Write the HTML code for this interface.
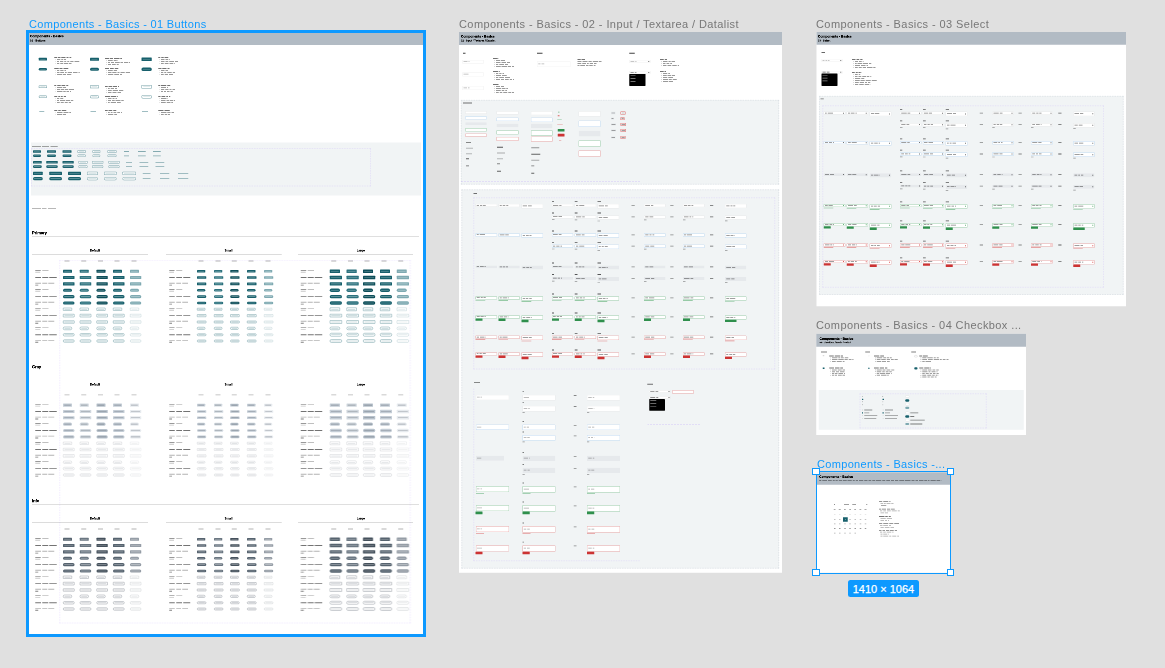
<!DOCTYPE html>
<html><head><meta charset="utf-8"><style>
html,body{margin:0;padding:0}
body{width:1165px;height:668px;background:#e0e0e0;position:relative;overflow:hidden;font-family:"Liberation Sans",sans-serif}
i,b{position:absolute;display:block}
b{font-weight:normal;white-space:nowrap;line-height:1;will-change:transform}
#c{position:absolute;left:0;top:0;width:4660px;height:2672px;transform:scale(.25);transform-origin:0 0}
body>b{will-change:transform;font-size:11px;letter-spacing:.33px}
</style></head><body>
<div id="c">
<i style="left:104px;top:120px;width:1600px;height:2428px;border:12px solid #0d99ff;box-sizing:border-box"></i>
<i style="left:116px;top:132px;width:1576px;height:2404px;background:#fff"></i>
<i style="left:116px;top:132px;width:1576px;height:48px;background:#b2bbc4"></i>
<b style="left:120px;top:137.6px;font-size:13.2px;color:#000;font-weight:bold;-webkit-text-stroke:.9px #000">Components - Basics</b>
<b style="left:120px;top:157.2px;font-size:10.8px;color:#000;font-weight:bold;-webkit-text-stroke:.5px #000">01 - Buttons</b>
<i style="left:154.8px;top:231.4px;width:33.2px;height:10.8px;background:#17606c;border-radius:2px"></i>
<i style="left:160.8px;top:235.6px;width:21.2px;height:2.4px;background:rgba(255,255,255,.35)"></i>
<i style="left:216.8px;top:228px;width:12px;height:4px;background:rgba(0,0,0,.55)"></i>
<i style="left:232.4px;top:228px;width:9.4px;height:4px;background:rgba(0,0,0,.55)"></i>
<i style="left:245.4px;top:228px;width:16.8px;height:4px;background:rgba(0,0,0,.55)"></i>
<i style="left:265.9px;top:228px;width:8.3px;height:4px;background:rgba(0,0,0,.55)"></i>
<i style="left:277.7px;top:228px;width:7.1px;height:4px;background:rgba(0,0,0,.55)"></i>
<i style="left:221.6px;top:236.6px;width:2.8px;height:2.8px;background:rgba(0,0,0,.4)"></i>
<i style="left:228.4px;top:236px;width:12.6px;height:4px;background:rgba(0,0,0,.4)"></i>
<i style="left:244.6px;top:236px;width:8.1px;height:4px;background:rgba(0,0,0,.4)"></i>
<i style="left:256.3px;top:236px;width:8.1px;height:4px;background:rgba(0,0,0,.4)"></i>
<i style="left:221.6px;top:244.6px;width:2.8px;height:2.8px;background:rgba(0,0,0,.4)"></i>
<i style="left:228.4px;top:244px;width:7.8px;height:4px;background:rgba(0,0,0,.4)"></i>
<i style="left:239.8px;top:244px;width:13.6px;height:4px;background:rgba(0,0,0,.4)"></i>
<i style="left:257px;top:244px;width:8.2px;height:4px;background:rgba(0,0,0,.4)"></i>
<i style="left:268.8px;top:244px;width:8.5px;height:4px;background:rgba(0,0,0,.4)"></i>
<i style="left:280.9px;top:244px;width:13.5px;height:4px;background:rgba(0,0,0,.4)"></i>
<i style="left:298px;top:244px;width:19.4px;height:4px;background:rgba(0,0,0,.4)"></i>
<i style="left:221.6px;top:252.6px;width:2.8px;height:2.8px;background:rgba(0,0,0,.4)"></i>
<i style="left:228.4px;top:252px;width:9px;height:4px;background:rgba(0,0,0,.4)"></i>
<i style="left:241px;top:252px;width:10.5px;height:4px;background:rgba(0,0,0,.4)"></i>
<i style="left:255.1px;top:252px;width:16.5px;height:4px;background:rgba(0,0,0,.4)"></i>
<i style="left:275.2px;top:252px;width:11.2px;height:4px;background:rgba(0,0,0,.4)"></i>
<i style="left:360px;top:230.8px;width:35.6px;height:12px;background:#17606c;border-radius:2px"></i>
<i style="left:366px;top:235.6px;width:23.6px;height:2.4px;background:rgba(255,255,255,.35)"></i>
<i style="left:420px;top:232px;width:15.7px;height:4px;background:rgba(0,0,0,.55)"></i>
<i style="left:439.3px;top:232px;width:13.1px;height:4px;background:rgba(0,0,0,.55)"></i>
<i style="left:456px;top:232px;width:21.6px;height:4px;background:rgba(0,0,0,.55)"></i>
<i style="left:481.3px;top:232px;width:6.7px;height:4px;background:rgba(0,0,0,.55)"></i>
<i style="left:424.8px;top:240.6px;width:2.8px;height:2.8px;background:rgba(0,0,0,.4)"></i>
<i style="left:431.6px;top:240px;width:19.9px;height:4px;background:rgba(0,0,0,.4)"></i>
<i style="left:455.1px;top:240px;width:11.5px;height:4px;background:rgba(0,0,0,.4)"></i>
<i style="left:470.2px;top:240px;width:1.4px;height:4px;background:rgba(0,0,0,.4)"></i>
<i style="left:424.8px;top:248.6px;width:2.8px;height:2.8px;background:rgba(0,0,0,.4)"></i>
<i style="left:431.6px;top:248px;width:8.9px;height:4px;background:rgba(0,0,0,.4)"></i>
<i style="left:444.1px;top:248px;width:11.8px;height:4px;background:rgba(0,0,0,.4)"></i>
<i style="left:459.5px;top:248px;width:19.3px;height:4px;background:rgba(0,0,0,.4)"></i>
<i style="left:482.4px;top:248px;width:9.9px;height:4px;background:rgba(0,0,0,.4)"></i>
<i style="left:495.9px;top:248px;width:15.8px;height:4px;background:rgba(0,0,0,.4)"></i>
<i style="left:515.3px;top:248px;width:4.3px;height:4px;background:rgba(0,0,0,.4)"></i>
<i style="left:424.8px;top:256.6px;width:2.8px;height:2.8px;background:rgba(0,0,0,.4)"></i>
<i style="left:431.6px;top:256px;width:12.7px;height:4px;background:rgba(0,0,0,.4)"></i>
<i style="left:447.9px;top:256px;width:15.3px;height:4px;background:rgba(0,0,0,.4)"></i>
<i style="left:466.8px;top:256px;width:8.1px;height:4px;background:rgba(0,0,0,.4)"></i>
<i style="left:565.6px;top:230px;width:41.6px;height:13.6px;background:#17606c;border-radius:2px"></i>
<i style="left:571.6px;top:235.6px;width:29.6px;height:2.4px;background:rgba(255,255,255,.35)"></i>
<i style="left:632.8px;top:228px;width:8.1px;height:4px;background:rgba(0,0,0,.55)"></i>
<i style="left:644.5px;top:228px;width:10.2px;height:4px;background:rgba(0,0,0,.55)"></i>
<i style="left:658.3px;top:228px;width:14.5px;height:4px;background:rgba(0,0,0,.55)"></i>
<i style="left:637.6px;top:236.6px;width:2.8px;height:2.8px;background:rgba(0,0,0,.4)"></i>
<i style="left:644.4px;top:236px;width:13.5px;height:4px;background:rgba(0,0,0,.4)"></i>
<i style="left:661.5px;top:236px;width:11.8px;height:4px;background:rgba(0,0,0,.4)"></i>
<i style="left:677px;top:236px;width:3.4px;height:4px;background:rgba(0,0,0,.4)"></i>
<i style="left:637.6px;top:244.6px;width:2.8px;height:2.8px;background:rgba(0,0,0,.4)"></i>
<i style="left:644.4px;top:244px;width:13.9px;height:4px;background:rgba(0,0,0,.4)"></i>
<i style="left:661.9px;top:244px;width:11.6px;height:4px;background:rgba(0,0,0,.4)"></i>
<i style="left:677.1px;top:244px;width:19px;height:4px;background:rgba(0,0,0,.4)"></i>
<i style="left:699.7px;top:244px;width:12.7px;height:4px;background:rgba(0,0,0,.4)"></i>
<i style="left:637.6px;top:252.6px;width:2.8px;height:2.8px;background:rgba(0,0,0,.4)"></i>
<i style="left:644.4px;top:252px;width:10.8px;height:4px;background:rgba(0,0,0,.4)"></i>
<i style="left:658.8px;top:252px;width:15.7px;height:4px;background:rgba(0,0,0,.4)"></i>
<i style="left:678.1px;top:252px;width:15px;height:4px;background:rgba(0,0,0,.4)"></i>
<i style="left:696.7px;top:252px;width:3.7px;height:4px;background:rgba(0,0,0,.4)"></i>
<i style="left:154.8px;top:271.8px;width:33.2px;height:10px;background:#17606c;border-radius:6.4px"></i>
<i style="left:160.8px;top:275.6px;width:21.2px;height:2.4px;background:rgba(255,255,255,.35)"></i>
<i style="left:216.8px;top:272px;width:18px;height:4px;background:rgba(0,0,0,.55)"></i>
<i style="left:238.4px;top:272px;width:11.5px;height:4px;background:rgba(0,0,0,.55)"></i>
<i style="left:253.5px;top:272px;width:19.3px;height:4px;background:rgba(0,0,0,.55)"></i>
<i style="left:221.6px;top:280.6px;width:2.8px;height:2.8px;background:rgba(0,0,0,.4)"></i>
<i style="left:228.4px;top:280px;width:8.9px;height:4px;background:rgba(0,0,0,.4)"></i>
<i style="left:240.9px;top:280px;width:13.4px;height:4px;background:rgba(0,0,0,.4)"></i>
<i style="left:257.9px;top:280px;width:6.5px;height:4px;background:rgba(0,0,0,.4)"></i>
<i style="left:221.6px;top:288.6px;width:2.8px;height:2.8px;background:rgba(0,0,0,.4)"></i>
<i style="left:228.4px;top:288px;width:9.4px;height:4px;background:rgba(0,0,0,.4)"></i>
<i style="left:241.4px;top:288px;width:14.4px;height:4px;background:rgba(0,0,0,.4)"></i>
<i style="left:259.5px;top:288px;width:7.8px;height:4px;background:rgba(0,0,0,.4)"></i>
<i style="left:270.9px;top:288px;width:17.1px;height:4px;background:rgba(0,0,0,.4)"></i>
<i style="left:291.6px;top:288px;width:18.5px;height:4px;background:rgba(0,0,0,.4)"></i>
<i style="left:313.7px;top:288px;width:5.5px;height:4px;background:rgba(0,0,0,.4)"></i>
<i style="left:221.6px;top:296.6px;width:2.8px;height:2.8px;background:rgba(0,0,0,.4)"></i>
<i style="left:228.4px;top:296px;width:20.2px;height:4px;background:rgba(0,0,0,.4)"></i>
<i style="left:252.2px;top:296px;width:11.8px;height:4px;background:rgba(0,0,0,.4)"></i>
<i style="left:267.6px;top:296px;width:17.5px;height:4px;background:rgba(0,0,0,.4)"></i>
<i style="left:360px;top:270.8px;width:35.6px;height:12px;background:#17606c;border-radius:6.4px"></i>
<i style="left:366px;top:275.6px;width:23.6px;height:2.4px;background:rgba(255,255,255,.35)"></i>
<i style="left:420px;top:272px;width:16px;height:4px;background:rgba(0,0,0,.55)"></i>
<i style="left:439.6px;top:272px;width:15.8px;height:4px;background:rgba(0,0,0,.55)"></i>
<i style="left:459px;top:272px;width:14px;height:4px;background:rgba(0,0,0,.55)"></i>
<i style="left:424.8px;top:280.6px;width:2.8px;height:2.8px;background:rgba(0,0,0,.4)"></i>
<i style="left:431.6px;top:280px;width:19.6px;height:4px;background:rgba(0,0,0,.4)"></i>
<i style="left:454.8px;top:280px;width:12.8px;height:4px;background:rgba(0,0,0,.4)"></i>
<i style="left:424.8px;top:288.6px;width:2.8px;height:2.8px;background:rgba(0,0,0,.4)"></i>
<i style="left:431.6px;top:288px;width:14.2px;height:4px;background:rgba(0,0,0,.4)"></i>
<i style="left:449.4px;top:288px;width:17px;height:4px;background:rgba(0,0,0,.4)"></i>
<i style="left:470px;top:288px;width:8.1px;height:4px;background:rgba(0,0,0,.4)"></i>
<i style="left:481.7px;top:288px;width:17.6px;height:4px;background:rgba(0,0,0,.4)"></i>
<i style="left:502.9px;top:288px;width:16.7px;height:4px;background:rgba(0,0,0,.4)"></i>
<i style="left:424.8px;top:296.6px;width:2.8px;height:2.8px;background:rgba(0,0,0,.4)"></i>
<i style="left:431.6px;top:296px;width:21.9px;height:4px;background:rgba(0,0,0,.4)"></i>
<i style="left:457.1px;top:296px;width:19.4px;height:4px;background:rgba(0,0,0,.4)"></i>
<i style="left:480.1px;top:296px;width:7.5px;height:4px;background:rgba(0,0,0,.4)"></i>
<i style="left:565.6px;top:269.6px;width:41.6px;height:14.4px;background:#17606c;border-radius:6.4px"></i>
<i style="left:571.6px;top:275.6px;width:29.6px;height:2.4px;background:rgba(255,255,255,.35)"></i>
<i style="left:632.8px;top:272px;width:12.9px;height:4px;background:rgba(0,0,0,.55)"></i>
<i style="left:649.3px;top:272px;width:17.1px;height:4px;background:rgba(0,0,0,.55)"></i>
<i style="left:670px;top:272px;width:7.5px;height:4px;background:rgba(0,0,0,.55)"></i>
<i style="left:637.6px;top:280.6px;width:2.8px;height:2.8px;background:rgba(0,0,0,.4)"></i>
<i style="left:644.4px;top:280px;width:14px;height:4px;background:rgba(0,0,0,.4)"></i>
<i style="left:662px;top:280px;width:9.7px;height:4px;background:rgba(0,0,0,.4)"></i>
<i style="left:637.6px;top:288.6px;width:2.8px;height:2.8px;background:rgba(0,0,0,.4)"></i>
<i style="left:644.4px;top:288px;width:8.9px;height:4px;background:rgba(0,0,0,.4)"></i>
<i style="left:656.9px;top:288px;width:8.1px;height:4px;background:rgba(0,0,0,.4)"></i>
<i style="left:668.6px;top:288px;width:18.6px;height:4px;background:rgba(0,0,0,.4)"></i>
<i style="left:690.8px;top:288px;width:9.1px;height:4px;background:rgba(0,0,0,.4)"></i>
<i style="left:637.6px;top:296.6px;width:2.8px;height:2.8px;background:rgba(0,0,0,.4)"></i>
<i style="left:644.4px;top:296px;width:10.9px;height:4px;background:rgba(0,0,0,.4)"></i>
<i style="left:658.9px;top:296px;width:13px;height:4px;background:rgba(0,0,0,.4)"></i>
<i style="left:675.5px;top:296px;width:16.9px;height:4px;background:rgba(0,0,0,.4)"></i>
<i style="left:154.8px;top:341.8px;width:33.2px;height:10px;background:#fff;border:2.4px solid rgba(23,96,108,.6);border-radius:2px;box-sizing:border-box"></i>
<i style="left:162px;top:345.8px;width:18.8px;height:2px;background:rgba(23,96,108,.25)"></i>
<i style="left:216.8px;top:340px;width:8.4px;height:4px;background:rgba(0,0,0,.55)"></i>
<i style="left:228.8px;top:340px;width:13.8px;height:4px;background:rgba(0,0,0,.55)"></i>
<i style="left:246.2px;top:340px;width:15.3px;height:4px;background:rgba(0,0,0,.55)"></i>
<i style="left:265.2px;top:340px;width:7.6px;height:4px;background:rgba(0,0,0,.55)"></i>
<i style="left:221.6px;top:348.6px;width:2.8px;height:2.8px;background:rgba(0,0,0,.4)"></i>
<i style="left:228.4px;top:348px;width:19.3px;height:4px;background:rgba(0,0,0,.4)"></i>
<i style="left:251.3px;top:348px;width:13.1px;height:4px;background:rgba(0,0,0,.4)"></i>
<i style="left:221.6px;top:356.6px;width:2.8px;height:2.8px;background:rgba(0,0,0,.4)"></i>
<i style="left:228.4px;top:356px;width:11.3px;height:4px;background:rgba(0,0,0,.4)"></i>
<i style="left:243.3px;top:356px;width:13.3px;height:4px;background:rgba(0,0,0,.4)"></i>
<i style="left:260.3px;top:356px;width:12.5px;height:4px;background:rgba(0,0,0,.4)"></i>
<i style="left:276.4px;top:356px;width:20px;height:4px;background:rgba(0,0,0,.4)"></i>
<i style="left:221.6px;top:364.6px;width:2.8px;height:2.8px;background:rgba(0,0,0,.4)"></i>
<i style="left:228.4px;top:364px;width:21.4px;height:4px;background:rgba(0,0,0,.4)"></i>
<i style="left:253.4px;top:364px;width:9.4px;height:4px;background:rgba(0,0,0,.4)"></i>
<i style="left:266.4px;top:364px;width:9.8px;height:4px;background:rgba(0,0,0,.4)"></i>
<i style="left:279.8px;top:364px;width:4.6px;height:4px;background:rgba(0,0,0,.4)"></i>
<i style="left:360px;top:340.8px;width:35.6px;height:12px;background:#fff;border:2.4px solid rgba(23,96,108,.6);border-radius:2px;box-sizing:border-box"></i>
<i style="left:367.2px;top:345.8px;width:21.2px;height:2px;background:rgba(23,96,108,.25)"></i>
<i style="left:420px;top:344px;width:10.7px;height:4px;background:rgba(0,0,0,.55)"></i>
<i style="left:434.3px;top:344px;width:14.4px;height:4px;background:rgba(0,0,0,.55)"></i>
<i style="left:452.2px;top:344px;width:15.9px;height:4px;background:rgba(0,0,0,.55)"></i>
<i style="left:471.7px;top:344px;width:4.3px;height:4px;background:rgba(0,0,0,.55)"></i>
<i style="left:424.8px;top:352.6px;width:2.8px;height:2.8px;background:rgba(0,0,0,.4)"></i>
<i style="left:431.6px;top:352px;width:7.3px;height:4px;background:rgba(0,0,0,.4)"></i>
<i style="left:442.5px;top:352px;width:13.4px;height:4px;background:rgba(0,0,0,.4)"></i>
<i style="left:459.5px;top:352px;width:8.1px;height:4px;background:rgba(0,0,0,.4)"></i>
<i style="left:424.8px;top:360.6px;width:2.8px;height:2.8px;background:rgba(0,0,0,.4)"></i>
<i style="left:431.6px;top:360px;width:15.6px;height:4px;background:rgba(0,0,0,.4)"></i>
<i style="left:450.8px;top:360px;width:21.3px;height:4px;background:rgba(0,0,0,.4)"></i>
<i style="left:475.7px;top:360px;width:17.4px;height:4px;background:rgba(0,0,0,.4)"></i>
<i style="left:424.8px;top:368.6px;width:2.8px;height:2.8px;background:rgba(0,0,0,.4)"></i>
<i style="left:431.6px;top:368px;width:14.8px;height:4px;background:rgba(0,0,0,.4)"></i>
<i style="left:450px;top:368px;width:16.3px;height:4px;background:rgba(0,0,0,.4)"></i>
<i style="left:470px;top:368px;width:13.6px;height:4px;background:rgba(0,0,0,.4)"></i>
<i style="left:565.6px;top:340px;width:41.6px;height:13.6px;background:#fff;border:2.4px solid rgba(23,96,108,.6);border-radius:2px;box-sizing:border-box"></i>
<i style="left:572.8px;top:345.8px;width:27.2px;height:2px;background:rgba(23,96,108,.25)"></i>
<i style="left:632.8px;top:340px;width:8px;height:4px;background:rgba(0,0,0,.55)"></i>
<i style="left:644.4px;top:340px;width:20.5px;height:4px;background:rgba(0,0,0,.55)"></i>
<i style="left:668.5px;top:340px;width:12.3px;height:4px;background:rgba(0,0,0,.55)"></i>
<i style="left:637.6px;top:348.6px;width:2.8px;height:2.8px;background:rgba(0,0,0,.4)"></i>
<i style="left:644.4px;top:348px;width:20.1px;height:4px;background:rgba(0,0,0,.4)"></i>
<i style="left:668.1px;top:348px;width:4.3px;height:4px;background:rgba(0,0,0,.4)"></i>
<i style="left:637.6px;top:356.6px;width:2.8px;height:2.8px;background:rgba(0,0,0,.4)"></i>
<i style="left:644.4px;top:356px;width:13px;height:4px;background:rgba(0,0,0,.4)"></i>
<i style="left:661px;top:356px;width:13.1px;height:4px;background:rgba(0,0,0,.4)"></i>
<i style="left:677.7px;top:356px;width:8.7px;height:4px;background:rgba(0,0,0,.4)"></i>
<i style="left:690px;top:356px;width:10.4px;height:4px;background:rgba(0,0,0,.4)"></i>
<i style="left:637.6px;top:364.6px;width:2.8px;height:2.8px;background:rgba(0,0,0,.4)"></i>
<i style="left:644.4px;top:364px;width:8.1px;height:4px;background:rgba(0,0,0,.4)"></i>
<i style="left:656.1px;top:364px;width:8.2px;height:4px;background:rgba(0,0,0,.4)"></i>
<i style="left:667.9px;top:364px;width:10.3px;height:4px;background:rgba(0,0,0,.4)"></i>
<i style="left:681.8px;top:364px;width:9.6px;height:4px;background:rgba(0,0,0,.4)"></i>
<i style="left:154.8px;top:382.2px;width:33.2px;height:10px;background:#fff;border:2.4px solid rgba(23,96,108,.6);border-radius:6.4px;box-sizing:border-box"></i>
<i style="left:162px;top:386.2px;width:18.8px;height:2px;background:rgba(23,96,108,.25)"></i>
<i style="left:216.8px;top:384px;width:12.2px;height:4px;background:rgba(0,0,0,.55)"></i>
<i style="left:232.6px;top:384px;width:8px;height:4px;background:rgba(0,0,0,.55)"></i>
<i style="left:244.2px;top:384px;width:7.2px;height:4px;background:rgba(0,0,0,.55)"></i>
<i style="left:255px;top:384px;width:9.4px;height:4px;background:rgba(0,0,0,.55)"></i>
<i style="left:221.6px;top:392.6px;width:2.8px;height:2.8px;background:rgba(0,0,0,.4)"></i>
<i style="left:228.4px;top:392px;width:8.7px;height:4px;background:rgba(0,0,0,.4)"></i>
<i style="left:240.7px;top:392px;width:12.6px;height:4px;background:rgba(0,0,0,.4)"></i>
<i style="left:221.6px;top:400.6px;width:2.8px;height:2.8px;background:rgba(0,0,0,.4)"></i>
<i style="left:228.4px;top:400px;width:7.6px;height:4px;background:rgba(0,0,0,.4)"></i>
<i style="left:239.6px;top:400px;width:20.1px;height:4px;background:rgba(0,0,0,.4)"></i>
<i style="left:263.3px;top:400px;width:16.3px;height:4px;background:rgba(0,0,0,.4)"></i>
<i style="left:283.2px;top:400px;width:9.4px;height:4px;background:rgba(0,0,0,.4)"></i>
<i style="left:221.6px;top:408.6px;width:2.8px;height:2.8px;background:rgba(0,0,0,.4)"></i>
<i style="left:228.4px;top:408px;width:10.9px;height:4px;background:rgba(0,0,0,.4)"></i>
<i style="left:242.9px;top:408px;width:12.3px;height:4px;background:rgba(0,0,0,.4)"></i>
<i style="left:258.9px;top:408px;width:12.6px;height:4px;background:rgba(0,0,0,.4)"></i>
<i style="left:275.1px;top:408px;width:9px;height:4px;background:rgba(0,0,0,.4)"></i>
<i style="left:360px;top:381.2px;width:35.6px;height:12px;background:#fff;border:2.4px solid rgba(23,96,108,.6);border-radius:6.4px;box-sizing:border-box"></i>
<i style="left:367.2px;top:386.2px;width:21.2px;height:2px;background:rgba(23,96,108,.25)"></i>
<i style="left:420px;top:384px;width:19.8px;height:4px;background:rgba(0,0,0,.55)"></i>
<i style="left:443.4px;top:384px;width:21.9px;height:4px;background:rgba(0,0,0,.55)"></i>
<i style="left:468.9px;top:384px;width:3.1px;height:4px;background:rgba(0,0,0,.55)"></i>
<i style="left:424.8px;top:392.6px;width:2.8px;height:2.8px;background:rgba(0,0,0,.4)"></i>
<i style="left:431.6px;top:392px;width:14.4px;height:4px;background:rgba(0,0,0,.4)"></i>
<i style="left:449.6px;top:392px;width:8.5px;height:4px;background:rgba(0,0,0,.4)"></i>
<i style="left:461.6px;top:392px;width:6px;height:4px;background:rgba(0,0,0,.4)"></i>
<i style="left:424.8px;top:400.6px;width:2.8px;height:2.8px;background:rgba(0,0,0,.4)"></i>
<i style="left:431.6px;top:400px;width:12.3px;height:4px;background:rgba(0,0,0,.4)"></i>
<i style="left:447.5px;top:400px;width:11.1px;height:4px;background:rgba(0,0,0,.4)"></i>
<i style="left:462.2px;top:400px;width:19.5px;height:4px;background:rgba(0,0,0,.4)"></i>
<i style="left:485.3px;top:400px;width:9.6px;height:4px;background:rgba(0,0,0,.4)"></i>
<i style="left:424.8px;top:408.6px;width:2.8px;height:2.8px;background:rgba(0,0,0,.4)"></i>
<i style="left:431.6px;top:408px;width:7.5px;height:4px;background:rgba(0,0,0,.4)"></i>
<i style="left:442.7px;top:408px;width:21.3px;height:4px;background:rgba(0,0,0,.4)"></i>
<i style="left:467.6px;top:408px;width:15px;height:4px;background:rgba(0,0,0,.4)"></i>
<i style="left:565.6px;top:380px;width:41.6px;height:14.4px;background:#fff;border:2.4px solid rgba(23,96,108,.6);border-radius:6.4px;box-sizing:border-box"></i>
<i style="left:572.8px;top:386.2px;width:27.2px;height:2px;background:rgba(23,96,108,.25)"></i>
<i style="left:632.8px;top:384px;width:9.4px;height:4px;background:rgba(0,0,0,.55)"></i>
<i style="left:645.8px;top:384px;width:15.2px;height:4px;background:rgba(0,0,0,.55)"></i>
<i style="left:664.6px;top:384px;width:7.6px;height:4px;background:rgba(0,0,0,.55)"></i>
<i style="left:675.8px;top:384px;width:5px;height:4px;background:rgba(0,0,0,.55)"></i>
<i style="left:637.6px;top:392.6px;width:2.8px;height:2.8px;background:rgba(0,0,0,.4)"></i>
<i style="left:644.4px;top:392px;width:21.7px;height:4px;background:rgba(0,0,0,.4)"></i>
<i style="left:669.7px;top:392px;width:2.7px;height:4px;background:rgba(0,0,0,.4)"></i>
<i style="left:637.6px;top:400.6px;width:2.8px;height:2.8px;background:rgba(0,0,0,.4)"></i>
<i style="left:644.4px;top:400px;width:17.5px;height:4px;background:rgba(0,0,0,.4)"></i>
<i style="left:665.5px;top:400px;width:11.1px;height:4px;background:rgba(0,0,0,.4)"></i>
<i style="left:680.2px;top:400px;width:12.6px;height:4px;background:rgba(0,0,0,.4)"></i>
<i style="left:696.4px;top:400px;width:4px;height:4px;background:rgba(0,0,0,.4)"></i>
<i style="left:637.6px;top:408.6px;width:2.8px;height:2.8px;background:rgba(0,0,0,.4)"></i>
<i style="left:644.4px;top:408px;width:18.6px;height:4px;background:rgba(0,0,0,.4)"></i>
<i style="left:666.6px;top:408px;width:15.1px;height:4px;background:rgba(0,0,0,.4)"></i>
<i style="left:685.3px;top:408px;width:7.1px;height:4px;background:rgba(0,0,0,.4)"></i>
<i style="left:156.8px;top:445.2px;width:20px;height:3.2px;background:rgba(23,96,108,.55)"></i>
<i style="left:216.8px;top:440px;width:12.1px;height:4px;background:rgba(0,0,0,.55)"></i>
<i style="left:232.5px;top:440px;width:10.5px;height:4px;background:rgba(0,0,0,.55)"></i>
<i style="left:246.6px;top:440px;width:18.2px;height:4px;background:rgba(0,0,0,.55)"></i>
<i style="left:221.6px;top:448.6px;width:2.8px;height:2.8px;background:rgba(0,0,0,.4)"></i>
<i style="left:228.4px;top:448px;width:21.8px;height:4px;background:rgba(0,0,0,.4)"></i>
<i style="left:253.8px;top:448px;width:19.8px;height:4px;background:rgba(0,0,0,.4)"></i>
<i style="left:277.2px;top:448px;width:7.2px;height:4px;background:rgba(0,0,0,.4)"></i>
<i style="left:221.6px;top:456.6px;width:2.8px;height:2.8px;background:rgba(0,0,0,.4)"></i>
<i style="left:228.4px;top:456px;width:19.3px;height:4px;background:rgba(0,0,0,.4)"></i>
<i style="left:251.3px;top:456px;width:13.1px;height:4px;background:rgba(0,0,0,.4)"></i>
<i style="left:362px;top:445.2px;width:22px;height:3.2px;background:rgba(23,96,108,.55)"></i>
<i style="left:420px;top:440px;width:10.6px;height:4px;background:rgba(0,0,0,.55)"></i>
<i style="left:434.2px;top:440px;width:14.9px;height:4px;background:rgba(0,0,0,.55)"></i>
<i style="left:452.6px;top:440px;width:12.5px;height:4px;background:rgba(0,0,0,.55)"></i>
<i style="left:424.8px;top:448.6px;width:2.8px;height:2.8px;background:rgba(0,0,0,.4)"></i>
<i style="left:431.6px;top:448px;width:7.6px;height:4px;background:rgba(0,0,0,.4)"></i>
<i style="left:442.8px;top:448px;width:7.6px;height:4px;background:rgba(0,0,0,.4)"></i>
<i style="left:454px;top:448px;width:11.3px;height:4px;background:rgba(0,0,0,.4)"></i>
<i style="left:469px;top:448px;width:11px;height:4px;background:rgba(0,0,0,.4)"></i>
<i style="left:483.6px;top:448px;width:4px;height:4px;background:rgba(0,0,0,.4)"></i>
<i style="left:424.8px;top:456.6px;width:2.8px;height:2.8px;background:rgba(0,0,0,.4)"></i>
<i style="left:431.6px;top:456px;width:21.4px;height:4px;background:rgba(0,0,0,.4)"></i>
<i style="left:456.6px;top:456px;width:11px;height:4px;background:rgba(0,0,0,.4)"></i>
<i style="left:567.6px;top:445.2px;width:24px;height:3.2px;background:rgba(23,96,108,.55)"></i>
<i style="left:632.8px;top:440px;width:21.1px;height:4px;background:rgba(0,0,0,.55)"></i>
<i style="left:657.5px;top:440px;width:21.8px;height:4px;background:rgba(0,0,0,.55)"></i>
<i style="left:637.6px;top:448.6px;width:2.8px;height:2.8px;background:rgba(0,0,0,.4)"></i>
<i style="left:644.4px;top:448px;width:21.3px;height:4px;background:rgba(0,0,0,.4)"></i>
<i style="left:669.3px;top:448px;width:12.6px;height:4px;background:rgba(0,0,0,.4)"></i>
<i style="left:685.5px;top:448px;width:10.5px;height:4px;background:rgba(0,0,0,.4)"></i>
<i style="left:637.6px;top:456.6px;width:2.8px;height:2.8px;background:rgba(0,0,0,.4)"></i>
<i style="left:644.4px;top:456px;width:10.6px;height:4px;background:rgba(0,0,0,.4)"></i>
<i style="left:658.6px;top:456px;width:10.1px;height:4px;background:rgba(0,0,0,.4)"></i>
<i style="left:672.3px;top:456px;width:8.1px;height:4px;background:rgba(0,0,0,.4)"></i>
<i style="left:124px;top:569.6px;width:1560px;height:212px;background:#f1f4f5"></i>
<i style="left:128px;top:584.4px;width:36px;height:3.2px;background:rgba(0,0,0,.35)"></i>
<i style="left:168px;top:584.4px;width:28px;height:3.2px;background:rgba(0,0,0,.35)"></i>
<i style="left:202px;top:584.4px;width:29.2px;height:3.2px;background:rgba(0,0,0,.35)"></i>
<i style="left:124.8px;top:592.8px;width:1358px;height:152.4px;border:2.4px dashed rgba(140,90,255,.22);box-sizing:border-box"></i>
<i style="left:131.6px;top:601.2px;width:32px;height:9.6px;background:#17606c;border-radius:2px"></i>
<i style="left:136.4px;top:604.8px;width:22.4px;height:2.4px;background:rgba(255,255,255,.4)"></i>
<i style="left:131.6px;top:618.4px;width:32px;height:9.6px;background:#17606c;border-radius:4.8px"></i>
<i style="left:136.4px;top:622px;width:22.4px;height:2.4px;background:rgba(255,255,255,.4)"></i>
<i style="left:188.4px;top:601.2px;width:35.6px;height:9.6px;background:#17606c;border-radius:2px"></i>
<i style="left:193.2px;top:604.8px;width:26px;height:2.4px;background:rgba(255,255,255,.4)"></i>
<i style="left:188.4px;top:618.4px;width:35.6px;height:9.6px;background:#17606c;border-radius:4.8px"></i>
<i style="left:193.2px;top:622px;width:26px;height:2.4px;background:rgba(255,255,255,.4)"></i>
<i style="left:249.6px;top:601.2px;width:36.4px;height:9.6px;background:#17606c;border-radius:2px"></i>
<i style="left:254.4px;top:604.8px;width:26.8px;height:2.4px;background:rgba(255,255,255,.4)"></i>
<i style="left:249.6px;top:618.4px;width:36.4px;height:9.6px;background:#17606c;border-radius:4.8px"></i>
<i style="left:254.4px;top:622px;width:26.8px;height:2.4px;background:rgba(255,255,255,.4)"></i>
<i style="left:310px;top:601.2px;width:32.8px;height:9.6px;background:#fff;border:2.8px solid rgba(23,96,108,.55);border-radius:2px;box-sizing:border-box"></i>
<i style="left:315.6px;top:605px;width:21.6px;height:2px;background:rgba(23,96,108,.3)"></i>
<i style="left:310px;top:618.4px;width:32.8px;height:9.6px;background:#fff;border:2.8px solid rgba(23,96,108,.55);border-radius:4.8px;box-sizing:border-box"></i>
<i style="left:315.6px;top:622.2px;width:21.6px;height:2px;background:rgba(23,96,108,.3)"></i>
<i style="left:370.4px;top:601.2px;width:30.8px;height:9.6px;background:#fff;border:2.8px solid rgba(23,96,108,.55);border-radius:2px;box-sizing:border-box"></i>
<i style="left:376px;top:605px;width:19.6px;height:2px;background:rgba(23,96,108,.3)"></i>
<i style="left:370.4px;top:618.4px;width:30.8px;height:9.6px;background:#fff;border:2.8px solid rgba(23,96,108,.55);border-radius:4.8px;box-sizing:border-box"></i>
<i style="left:376px;top:622.2px;width:19.6px;height:2px;background:rgba(23,96,108,.3)"></i>
<i style="left:430px;top:601.2px;width:36.4px;height:9.6px;background:#fff;border:2.8px solid rgba(23,96,108,.55);border-radius:2px;box-sizing:border-box"></i>
<i style="left:435.6px;top:605px;width:25.2px;height:2px;background:rgba(23,96,108,.3)"></i>
<i style="left:430px;top:618.4px;width:36.4px;height:9.6px;background:#fff;border:2.8px solid rgba(23,96,108,.55);border-radius:4.8px;box-sizing:border-box"></i>
<i style="left:435.6px;top:622.2px;width:25.2px;height:2px;background:rgba(23,96,108,.3)"></i>
<i style="left:495.6px;top:604.4px;width:20.4px;height:3.2px;background:rgba(23,96,108,.5)"></i>
<i style="left:495.6px;top:621.6px;width:20.4px;height:3.2px;background:rgba(23,96,108,.5)"></i>
<i style="left:552px;top:604.4px;width:30.8px;height:3.2px;background:rgba(23,96,108,.5)"></i>
<i style="left:552px;top:621.6px;width:30.8px;height:3.2px;background:rgba(23,96,108,.5)"></i>
<i style="left:612px;top:604.4px;width:31.2px;height:3.2px;background:rgba(23,96,108,.5)"></i>
<i style="left:612px;top:621.6px;width:31.2px;height:3.2px;background:rgba(23,96,108,.5)"></i>
<i style="left:131.6px;top:644px;width:35.6px;height:10.4px;background:#17606c;border-radius:2px"></i>
<i style="left:136.4px;top:648px;width:26px;height:2.4px;background:rgba(255,255,255,.4)"></i>
<i style="left:131.6px;top:661.2px;width:35.6px;height:10.4px;background:#17606c;border-radius:5.2px"></i>
<i style="left:136.4px;top:665.2px;width:26px;height:2.4px;background:rgba(255,255,255,.4)"></i>
<i style="left:185.2px;top:644px;width:46px;height:10.4px;background:#17606c;border-radius:2px"></i>
<i style="left:190px;top:648px;width:36.4px;height:2.4px;background:rgba(255,255,255,.4)"></i>
<i style="left:185.2px;top:661.2px;width:46px;height:10.4px;background:#17606c;border-radius:5.2px"></i>
<i style="left:190px;top:665.2px;width:36.4px;height:2.4px;background:rgba(255,255,255,.4)"></i>
<i style="left:249.6px;top:644px;width:45.2px;height:10.4px;background:#17606c;border-radius:2px"></i>
<i style="left:254.4px;top:648px;width:35.6px;height:2.4px;background:rgba(255,255,255,.4)"></i>
<i style="left:249.6px;top:661.2px;width:45.2px;height:10.4px;background:#17606c;border-radius:5.2px"></i>
<i style="left:254.4px;top:665.2px;width:35.6px;height:2.4px;background:rgba(255,255,255,.4)"></i>
<i style="left:313.6px;top:644px;width:36.4px;height:10.4px;background:#fff;border:2.8px solid rgba(23,96,108,.55);border-radius:2px;box-sizing:border-box"></i>
<i style="left:319.2px;top:648.2px;width:25.2px;height:2px;background:rgba(23,96,108,.3)"></i>
<i style="left:313.6px;top:661.2px;width:36.4px;height:10.4px;background:#fff;border:2.8px solid rgba(23,96,108,.55);border-radius:5.2px;box-sizing:border-box"></i>
<i style="left:319.2px;top:665.4px;width:25.2px;height:2px;background:rgba(23,96,108,.3)"></i>
<i style="left:368.4px;top:644px;width:44.8px;height:10.4px;background:#fff;border:2.8px solid rgba(23,96,108,.55);border-radius:2px;box-sizing:border-box"></i>
<i style="left:374px;top:648.2px;width:33.6px;height:2px;background:rgba(23,96,108,.3)"></i>
<i style="left:368.4px;top:661.2px;width:44.8px;height:10.4px;background:#fff;border:2.8px solid rgba(23,96,108,.55);border-radius:5.2px;box-sizing:border-box"></i>
<i style="left:374px;top:665.4px;width:33.6px;height:2px;background:rgba(23,96,108,.3)"></i>
<i style="left:433.6px;top:644px;width:44.8px;height:10.4px;background:#fff;border:2.8px solid rgba(23,96,108,.55);border-radius:2px;box-sizing:border-box"></i>
<i style="left:439.2px;top:648.2px;width:33.6px;height:2px;background:rgba(23,96,108,.3)"></i>
<i style="left:433.6px;top:661.2px;width:44.8px;height:10.4px;background:#fff;border:2.8px solid rgba(23,96,108,.55);border-radius:5.2px;box-sizing:border-box"></i>
<i style="left:439.2px;top:665.4px;width:33.6px;height:2px;background:rgba(23,96,108,.3)"></i>
<i style="left:504px;top:647.6px;width:24px;height:3.2px;background:rgba(23,96,108,.5)"></i>
<i style="left:504px;top:664.8px;width:24px;height:3.2px;background:rgba(23,96,108,.5)"></i>
<i style="left:558.4px;top:647.6px;width:34.4px;height:3.2px;background:rgba(23,96,108,.5)"></i>
<i style="left:558.4px;top:664.8px;width:34.4px;height:3.2px;background:rgba(23,96,108,.5)"></i>
<i style="left:622.4px;top:647.6px;width:34.4px;height:3.2px;background:rgba(23,96,108,.5)"></i>
<i style="left:622.4px;top:664.8px;width:34.4px;height:3.2px;background:rgba(23,96,108,.5)"></i>
<i style="left:131.6px;top:686.6px;width:39.6px;height:13.2px;background:#17606c;border-radius:2px"></i>
<i style="left:136.4px;top:692px;width:30px;height:2.4px;background:rgba(255,255,255,.4)"></i>
<i style="left:131.6px;top:707.8px;width:39.6px;height:13.2px;background:#17606c;border-radius:6.6px"></i>
<i style="left:136.4px;top:713.2px;width:30px;height:2.4px;background:rgba(255,255,255,.4)"></i>
<i style="left:196.8px;top:686.6px;width:51.2px;height:13.2px;background:#17606c;border-radius:2px"></i>
<i style="left:201.6px;top:692px;width:41.6px;height:2.4px;background:rgba(255,255,255,.4)"></i>
<i style="left:196.8px;top:707.8px;width:51.2px;height:13.2px;background:#17606c;border-radius:6.6px"></i>
<i style="left:201.6px;top:713.2px;width:41.6px;height:2.4px;background:rgba(255,255,255,.4)"></i>
<i style="left:272px;top:686.6px;width:52px;height:13.2px;background:#17606c;border-radius:2px"></i>
<i style="left:276.8px;top:692px;width:42.4px;height:2.4px;background:rgba(255,255,255,.4)"></i>
<i style="left:272px;top:707.8px;width:52px;height:13.2px;background:#17606c;border-radius:6.6px"></i>
<i style="left:276.8px;top:713.2px;width:42.4px;height:2.4px;background:rgba(255,255,255,.4)"></i>
<i style="left:348px;top:686.6px;width:43.2px;height:13.2px;background:#fff;border:2.8px solid rgba(23,96,108,.55);border-radius:2px;box-sizing:border-box"></i>
<i style="left:353.6px;top:692.2px;width:32px;height:2px;background:rgba(23,96,108,.3)"></i>
<i style="left:348px;top:707.8px;width:43.2px;height:13.2px;background:#fff;border:2.8px solid rgba(23,96,108,.55);border-radius:6.6px;box-sizing:border-box"></i>
<i style="left:353.6px;top:713.4px;width:32px;height:2px;background:rgba(23,96,108,.3)"></i>
<i style="left:416px;top:686.6px;width:50.4px;height:13.2px;background:#fff;border:2.8px solid rgba(23,96,108,.55);border-radius:2px;box-sizing:border-box"></i>
<i style="left:421.6px;top:692.2px;width:39.2px;height:2px;background:rgba(23,96,108,.3)"></i>
<i style="left:416px;top:707.8px;width:50.4px;height:13.2px;background:#fff;border:2.8px solid rgba(23,96,108,.55);border-radius:6.6px;box-sizing:border-box"></i>
<i style="left:421.6px;top:713.4px;width:39.2px;height:2px;background:rgba(23,96,108,.3)"></i>
<i style="left:490px;top:686.6px;width:53.6px;height:13.2px;background:#fff;border:2.8px solid rgba(23,96,108,.55);border-radius:2px;box-sizing:border-box"></i>
<i style="left:495.6px;top:692.2px;width:42.4px;height:2px;background:rgba(23,96,108,.3)"></i>
<i style="left:490px;top:707.8px;width:53.6px;height:13.2px;background:#fff;border:2.8px solid rgba(23,96,108,.55);border-radius:6.6px;box-sizing:border-box"></i>
<i style="left:495.6px;top:713.4px;width:42.4px;height:2px;background:rgba(23,96,108,.3)"></i>
<i style="left:570.8px;top:691.6px;width:31.2px;height:3.2px;background:rgba(23,96,108,.5)"></i>
<i style="left:570.8px;top:712.8px;width:31.2px;height:3.2px;background:rgba(23,96,108,.5)"></i>
<i style="left:639.6px;top:691.6px;width:37.6px;height:3.2px;background:rgba(23,96,108,.5)"></i>
<i style="left:639.6px;top:712.8px;width:37.6px;height:3.2px;background:rgba(23,96,108,.5)"></i>
<i style="left:712px;top:691.6px;width:40.8px;height:3.2px;background:rgba(23,96,108,.5)"></i>
<i style="left:712px;top:712.8px;width:40.8px;height:3.2px;background:rgba(23,96,108,.5)"></i>
<i style="left:128px;top:831.6px;width:36px;height:3.2px;background:rgba(0,0,0,.38)"></i>
<i style="left:168px;top:831.6px;width:18px;height:3.2px;background:rgba(0,0,0,.38)"></i>
<i style="left:192px;top:831.6px;width:32px;height:3.2px;background:rgba(0,0,0,.38)"></i>
<b style="left:128px;top:924px;font-size:16px;color:#000;font-weight:bold;-webkit-text-stroke:.8px #000">Primary</b>
<i style="left:128px;top:944.4px;width:1548px;height:2px;background:rgba(0,0,0,.25)"></i>
<b style="left:356px;top:996px;font-size:12px;color:#000;font-weight:bold;width:48px;text-align:center;-webkit-text-stroke:.6px #000">Default</b>
<i style="left:128px;top:1016.8px;width:464px;height:2px;background:rgba(0,0,0,.28)"></i>
<i style="left:258px;top:1042.4px;width:20px;height:3.2px;background:rgba(0,0,0,.3)"></i>
<i style="left:325.2px;top:1042.4px;width:20px;height:3.2px;background:rgba(0,0,0,.3)"></i>
<i style="left:391.6px;top:1042.4px;width:20px;height:3.2px;background:rgba(0,0,0,.3)"></i>
<i style="left:458.4px;top:1042.4px;width:20px;height:3.2px;background:rgba(0,0,0,.3)"></i>
<i style="left:525.6px;top:1042.4px;width:20px;height:3.2px;background:rgba(0,0,0,.3)"></i>
<i style="left:140.8px;top:1080.2px;width:22px;height:3.6px;background:rgba(0,0,0,0.4)"></i>
<i style="left:168.8px;top:1080.2px;width:25.2px;height:3.6px;background:rgba(0,0,0,0.25)"></i>
<i style="left:140.8px;top:1087px;width:20px;height:3.6px;background:rgba(0,0,0,0.22)"></i>
<i style="left:252px;top:1078.6px;width:36px;height:12.4px;background:#17606c;border-radius:2px"></i>
<i style="left:256.8px;top:1083.6px;width:26.4px;height:2.4px;background:rgba(255,255,255,.4)"></i>
<i style="left:319.2px;top:1078.6px;width:36px;height:12.4px;background:#2c727e;border-radius:2px"></i>
<i style="left:324px;top:1083.6px;width:26.4px;height:2.4px;background:rgba(255,255,255,.4)"></i>
<i style="left:385.6px;top:1078.6px;width:36px;height:12.4px;background:#0e4f5a;border-radius:2px"></i>
<i style="left:390.4px;top:1083.6px;width:26.4px;height:2.4px;background:rgba(255,255,255,.4)"></i>
<i style="left:452.4px;top:1078.6px;width:36px;height:12.4px;background:#17606c;border-radius:2px"></i>
<i style="left:457.2px;top:1083.6px;width:26.4px;height:2.4px;background:rgba(255,255,255,.4)"></i>
<i style="left:519.6px;top:1078.6px;width:36px;height:12.4px;background:#7faab2;border-radius:2px"></i>
<i style="left:524.4px;top:1083.6px;width:26.4px;height:2.4px;background:rgba(255,255,255,.4)"></i>
<i style="left:140.8px;top:1108.4px;width:23.2px;height:3.6px;background:rgba(0,0,0,0.55)"></i>
<i style="left:168.8px;top:1108.4px;width:24px;height:3.6px;background:rgba(0,0,0,0.55)"></i>
<i style="left:196.8px;top:1108.4px;width:30px;height:3.6px;background:rgba(0,0,0,0.55)"></i>
<i style="left:252px;top:1104px;width:45.6px;height:12.4px;background:#17606c;border-radius:2px"></i>
<i style="left:256.8px;top:1109px;width:36px;height:2.4px;background:rgba(255,255,255,.4)"></i>
<i style="left:319.2px;top:1104px;width:45.6px;height:12.4px;background:#2c727e;border-radius:2px"></i>
<i style="left:324px;top:1109px;width:36px;height:2.4px;background:rgba(255,255,255,.4)"></i>
<i style="left:385.6px;top:1104px;width:45.6px;height:12.4px;background:#0e4f5a;border-radius:2px"></i>
<i style="left:390.4px;top:1109px;width:36px;height:2.4px;background:rgba(255,255,255,.4)"></i>
<i style="left:452.4px;top:1104px;width:45.6px;height:12.4px;background:#17606c;border-radius:2px"></i>
<i style="left:457.2px;top:1109px;width:36px;height:2.4px;background:rgba(255,255,255,.4)"></i>
<i style="left:519.6px;top:1104px;width:45.6px;height:12.4px;background:#7faab2;border-radius:2px"></i>
<i style="left:524.4px;top:1109px;width:36px;height:2.4px;background:rgba(255,255,255,.4)"></i>
<i style="left:140.8px;top:1131px;width:23.2px;height:3.6px;background:rgba(0,0,0,0.3)"></i>
<i style="left:168.8px;top:1131px;width:20px;height:3.6px;background:rgba(0,0,0,0.3)"></i>
<i style="left:192.8px;top:1131px;width:24px;height:3.6px;background:rgba(0,0,0,0.3)"></i>
<i style="left:140.8px;top:1138.6px;width:12px;height:3.6px;background:rgba(0,0,0,0.5)"></i>
<i style="left:252px;top:1129.4px;width:45.6px;height:12.4px;background:#17606c;border-radius:2px"></i>
<i style="left:256.8px;top:1134.4px;width:36px;height:2.4px;background:rgba(255,255,255,.4)"></i>
<i style="left:319.2px;top:1129.4px;width:45.6px;height:12.4px;background:#2c727e;border-radius:2px"></i>
<i style="left:324px;top:1134.4px;width:36px;height:2.4px;background:rgba(255,255,255,.4)"></i>
<i style="left:385.6px;top:1129.4px;width:45.6px;height:12.4px;background:#0e4f5a;border-radius:2px"></i>
<i style="left:390.4px;top:1134.4px;width:36px;height:2.4px;background:rgba(255,255,255,.4)"></i>
<i style="left:452.4px;top:1129.4px;width:45.6px;height:12.4px;background:#17606c;border-radius:2px"></i>
<i style="left:457.2px;top:1134.4px;width:36px;height:2.4px;background:rgba(255,255,255,.4)"></i>
<i style="left:519.6px;top:1129.4px;width:45.6px;height:12.4px;background:#7faab2;border-radius:2px"></i>
<i style="left:524.4px;top:1134.4px;width:36px;height:2.4px;background:rgba(255,255,255,.4)"></i>
<i style="left:140.8px;top:1156.4px;width:22px;height:3.6px;background:rgba(0,0,0,0.4)"></i>
<i style="left:168.8px;top:1156.4px;width:25.2px;height:3.6px;background:rgba(0,0,0,0.25)"></i>
<i style="left:140.8px;top:1163.2px;width:20px;height:3.6px;background:rgba(0,0,0,0.22)"></i>
<i style="left:252px;top:1154.8px;width:36px;height:12.4px;background:#17606c;border-radius:6.2px"></i>
<i style="left:256.8px;top:1159.8px;width:26.4px;height:2.4px;background:rgba(255,255,255,.4)"></i>
<i style="left:319.2px;top:1154.8px;width:36px;height:12.4px;background:#2c727e;border-radius:6.2px"></i>
<i style="left:324px;top:1159.8px;width:26.4px;height:2.4px;background:rgba(255,255,255,.4)"></i>
<i style="left:385.6px;top:1154.8px;width:36px;height:12.4px;background:#0e4f5a;border-radius:6.2px"></i>
<i style="left:390.4px;top:1159.8px;width:26.4px;height:2.4px;background:rgba(255,255,255,.4)"></i>
<i style="left:452.4px;top:1154.8px;width:36px;height:12.4px;background:#17606c;border-radius:6.2px"></i>
<i style="left:457.2px;top:1159.8px;width:26.4px;height:2.4px;background:rgba(255,255,255,.4)"></i>
<i style="left:519.6px;top:1154.8px;width:36px;height:12.4px;background:#7faab2;border-radius:6.2px"></i>
<i style="left:524.4px;top:1159.8px;width:26.4px;height:2.4px;background:rgba(255,255,255,.4)"></i>
<i style="left:140.8px;top:1184.6px;width:23.2px;height:3.6px;background:rgba(0,0,0,0.55)"></i>
<i style="left:168.8px;top:1184.6px;width:24px;height:3.6px;background:rgba(0,0,0,0.55)"></i>
<i style="left:196.8px;top:1184.6px;width:30px;height:3.6px;background:rgba(0,0,0,0.55)"></i>
<i style="left:252px;top:1180.2px;width:45.6px;height:12.4px;background:#17606c;border-radius:6.2px"></i>
<i style="left:256.8px;top:1185.2px;width:36px;height:2.4px;background:rgba(255,255,255,.4)"></i>
<i style="left:319.2px;top:1180.2px;width:45.6px;height:12.4px;background:#2c727e;border-radius:6.2px"></i>
<i style="left:324px;top:1185.2px;width:36px;height:2.4px;background:rgba(255,255,255,.4)"></i>
<i style="left:385.6px;top:1180.2px;width:45.6px;height:12.4px;background:#0e4f5a;border-radius:6.2px"></i>
<i style="left:390.4px;top:1185.2px;width:36px;height:2.4px;background:rgba(255,255,255,.4)"></i>
<i style="left:452.4px;top:1180.2px;width:45.6px;height:12.4px;background:#17606c;border-radius:6.2px"></i>
<i style="left:457.2px;top:1185.2px;width:36px;height:2.4px;background:rgba(255,255,255,.4)"></i>
<i style="left:519.6px;top:1180.2px;width:45.6px;height:12.4px;background:#7faab2;border-radius:6.2px"></i>
<i style="left:524.4px;top:1185.2px;width:36px;height:2.4px;background:rgba(255,255,255,.4)"></i>
<i style="left:140.8px;top:1207.2px;width:23.2px;height:3.6px;background:rgba(0,0,0,0.3)"></i>
<i style="left:168.8px;top:1207.2px;width:20px;height:3.6px;background:rgba(0,0,0,0.3)"></i>
<i style="left:192.8px;top:1207.2px;width:24px;height:3.6px;background:rgba(0,0,0,0.3)"></i>
<i style="left:140.8px;top:1214.8px;width:12px;height:3.6px;background:rgba(0,0,0,0.5)"></i>
<i style="left:252px;top:1205.6px;width:45.6px;height:12.4px;background:#17606c;border-radius:6.2px"></i>
<i style="left:256.8px;top:1210.6px;width:36px;height:2.4px;background:rgba(255,255,255,.4)"></i>
<i style="left:319.2px;top:1205.6px;width:45.6px;height:12.4px;background:#2c727e;border-radius:6.2px"></i>
<i style="left:324px;top:1210.6px;width:36px;height:2.4px;background:rgba(255,255,255,.4)"></i>
<i style="left:385.6px;top:1205.6px;width:45.6px;height:12.4px;background:#0e4f5a;border-radius:6.2px"></i>
<i style="left:390.4px;top:1210.6px;width:36px;height:2.4px;background:rgba(255,255,255,.4)"></i>
<i style="left:452.4px;top:1205.6px;width:45.6px;height:12.4px;background:#17606c;border-radius:6.2px"></i>
<i style="left:457.2px;top:1210.6px;width:36px;height:2.4px;background:rgba(255,255,255,.4)"></i>
<i style="left:519.6px;top:1205.6px;width:45.6px;height:12.4px;background:#7faab2;border-radius:6.2px"></i>
<i style="left:524.4px;top:1210.6px;width:36px;height:2.4px;background:rgba(255,255,255,.4)"></i>
<i style="left:140.8px;top:1232.6px;width:22px;height:3.6px;background:rgba(0,0,0,0.4)"></i>
<i style="left:168.8px;top:1232.6px;width:25.2px;height:3.6px;background:rgba(0,0,0,0.25)"></i>
<i style="left:140.8px;top:1239.4px;width:20px;height:3.6px;background:rgba(0,0,0,0.22)"></i>
<i style="left:252px;top:1231px;width:36px;height:12.4px;border:2.8px solid rgba(23,96,108,.6);border-radius:2px;box-sizing:border-box"></i>
<i style="left:258px;top:1236.2px;width:24px;height:2px;background:rgba(23,96,108,.4)"></i>
<i style="left:319.2px;top:1231px;width:36px;height:12.4px;border:2.8px solid rgba(23,96,108,.6);border-radius:2px;box-sizing:border-box"></i>
<i style="left:325.2px;top:1236.2px;width:24px;height:2px;background:rgba(23,96,108,.4)"></i>
<i style="left:385.6px;top:1231px;width:36px;height:12.4px;border:2.8px solid rgba(23,96,108,.6);border-radius:2px;box-sizing:border-box"></i>
<i style="left:391.6px;top:1236.2px;width:24px;height:2px;background:rgba(23,96,108,.4)"></i>
<i style="left:452.4px;top:1231px;width:36px;height:12.4px;border:2.8px solid rgba(23,96,108,.6);border-radius:2px;box-sizing:border-box"></i>
<i style="left:458.4px;top:1236.2px;width:24px;height:2px;background:rgba(23,96,108,.4)"></i>
<i style="left:519.6px;top:1231px;width:36px;height:12.4px;border:2.8px solid rgba(23,96,108,.28);border-radius:2px;box-sizing:border-box"></i>
<i style="left:525.6px;top:1236.2px;width:24px;height:2px;background:rgba(23,96,108,.18)"></i>
<i style="left:140.8px;top:1260.8px;width:23.2px;height:3.6px;background:rgba(0,0,0,0.55)"></i>
<i style="left:168.8px;top:1260.8px;width:24px;height:3.6px;background:rgba(0,0,0,0.55)"></i>
<i style="left:196.8px;top:1260.8px;width:30px;height:3.6px;background:rgba(0,0,0,0.55)"></i>
<i style="left:252px;top:1256.4px;width:45.6px;height:12.4px;border:2.8px solid rgba(23,96,108,.6);border-radius:2px;box-sizing:border-box"></i>
<i style="left:258px;top:1261.6px;width:33.6px;height:2px;background:rgba(23,96,108,.4)"></i>
<i style="left:319.2px;top:1256.4px;width:45.6px;height:12.4px;border:2.8px solid rgba(23,96,108,.6);border-radius:2px;box-sizing:border-box"></i>
<i style="left:325.2px;top:1261.6px;width:33.6px;height:2px;background:rgba(23,96,108,.4)"></i>
<i style="left:385.6px;top:1256.4px;width:45.6px;height:12.4px;border:2.8px solid rgba(23,96,108,.6);border-radius:2px;box-sizing:border-box"></i>
<i style="left:391.6px;top:1261.6px;width:33.6px;height:2px;background:rgba(23,96,108,.4)"></i>
<i style="left:452.4px;top:1256.4px;width:45.6px;height:12.4px;border:2.8px solid rgba(23,96,108,.6);border-radius:2px;box-sizing:border-box"></i>
<i style="left:458.4px;top:1261.6px;width:33.6px;height:2px;background:rgba(23,96,108,.4)"></i>
<i style="left:519.6px;top:1256.4px;width:45.6px;height:12.4px;border:2.8px solid rgba(23,96,108,.28);border-radius:2px;box-sizing:border-box"></i>
<i style="left:525.6px;top:1261.6px;width:33.6px;height:2px;background:rgba(23,96,108,.18)"></i>
<i style="left:140.8px;top:1283.4px;width:23.2px;height:3.6px;background:rgba(0,0,0,0.3)"></i>
<i style="left:168.8px;top:1283.4px;width:20px;height:3.6px;background:rgba(0,0,0,0.3)"></i>
<i style="left:192.8px;top:1283.4px;width:24px;height:3.6px;background:rgba(0,0,0,0.3)"></i>
<i style="left:140.8px;top:1291px;width:12px;height:3.6px;background:rgba(0,0,0,0.5)"></i>
<i style="left:252px;top:1281.8px;width:45.6px;height:12.4px;border:2.8px solid rgba(23,96,108,.6);border-radius:2px;box-sizing:border-box"></i>
<i style="left:258px;top:1287px;width:33.6px;height:2px;background:rgba(23,96,108,.4)"></i>
<i style="left:319.2px;top:1281.8px;width:45.6px;height:12.4px;border:2.8px solid rgba(23,96,108,.6);border-radius:2px;box-sizing:border-box"></i>
<i style="left:325.2px;top:1287px;width:33.6px;height:2px;background:rgba(23,96,108,.4)"></i>
<i style="left:385.6px;top:1281.8px;width:45.6px;height:12.4px;border:2.8px solid rgba(23,96,108,.6);border-radius:2px;box-sizing:border-box"></i>
<i style="left:391.6px;top:1287px;width:33.6px;height:2px;background:rgba(23,96,108,.4)"></i>
<i style="left:452.4px;top:1281.8px;width:45.6px;height:12.4px;border:2.8px solid rgba(23,96,108,.6);border-radius:2px;box-sizing:border-box"></i>
<i style="left:458.4px;top:1287px;width:33.6px;height:2px;background:rgba(23,96,108,.4)"></i>
<i style="left:519.6px;top:1281.8px;width:45.6px;height:12.4px;border:2.8px solid rgba(23,96,108,.28);border-radius:2px;box-sizing:border-box"></i>
<i style="left:525.6px;top:1287px;width:33.6px;height:2px;background:rgba(23,96,108,.18)"></i>
<i style="left:140.8px;top:1308.8px;width:22px;height:3.6px;background:rgba(0,0,0,0.4)"></i>
<i style="left:168.8px;top:1308.8px;width:25.2px;height:3.6px;background:rgba(0,0,0,0.25)"></i>
<i style="left:140.8px;top:1315.6px;width:20px;height:3.6px;background:rgba(0,0,0,0.22)"></i>
<i style="left:252px;top:1307.2px;width:36px;height:12.4px;border:2.8px solid rgba(23,96,108,.6);border-radius:6.2px;box-sizing:border-box"></i>
<i style="left:258px;top:1312.4px;width:24px;height:2px;background:rgba(23,96,108,.4)"></i>
<i style="left:319.2px;top:1307.2px;width:36px;height:12.4px;border:2.8px solid rgba(23,96,108,.6);border-radius:6.2px;box-sizing:border-box"></i>
<i style="left:325.2px;top:1312.4px;width:24px;height:2px;background:rgba(23,96,108,.4)"></i>
<i style="left:385.6px;top:1307.2px;width:36px;height:12.4px;border:2.8px solid rgba(23,96,108,.6);border-radius:6.2px;box-sizing:border-box"></i>
<i style="left:391.6px;top:1312.4px;width:24px;height:2px;background:rgba(23,96,108,.4)"></i>
<i style="left:452.4px;top:1307.2px;width:36px;height:12.4px;border:2.8px solid rgba(23,96,108,.6);border-radius:6.2px;box-sizing:border-box"></i>
<i style="left:458.4px;top:1312.4px;width:24px;height:2px;background:rgba(23,96,108,.4)"></i>
<i style="left:519.6px;top:1307.2px;width:36px;height:12.4px;border:2.8px solid rgba(23,96,108,.28);border-radius:6.2px;box-sizing:border-box"></i>
<i style="left:525.6px;top:1312.4px;width:24px;height:2px;background:rgba(23,96,108,.18)"></i>
<i style="left:140.8px;top:1337px;width:23.2px;height:3.6px;background:rgba(0,0,0,0.55)"></i>
<i style="left:168.8px;top:1337px;width:24px;height:3.6px;background:rgba(0,0,0,0.55)"></i>
<i style="left:196.8px;top:1337px;width:30px;height:3.6px;background:rgba(0,0,0,0.55)"></i>
<i style="left:252px;top:1332.6px;width:45.6px;height:12.4px;border:2.8px solid rgba(23,96,108,.6);border-radius:6.2px;box-sizing:border-box"></i>
<i style="left:258px;top:1337.8px;width:33.6px;height:2px;background:rgba(23,96,108,.4)"></i>
<i style="left:319.2px;top:1332.6px;width:45.6px;height:12.4px;border:2.8px solid rgba(23,96,108,.6);border-radius:6.2px;box-sizing:border-box"></i>
<i style="left:325.2px;top:1337.8px;width:33.6px;height:2px;background:rgba(23,96,108,.4)"></i>
<i style="left:385.6px;top:1332.6px;width:45.6px;height:12.4px;border:2.8px solid rgba(23,96,108,.6);border-radius:6.2px;box-sizing:border-box"></i>
<i style="left:391.6px;top:1337.8px;width:33.6px;height:2px;background:rgba(23,96,108,.4)"></i>
<i style="left:452.4px;top:1332.6px;width:45.6px;height:12.4px;border:2.8px solid rgba(23,96,108,.6);border-radius:6.2px;box-sizing:border-box"></i>
<i style="left:458.4px;top:1337.8px;width:33.6px;height:2px;background:rgba(23,96,108,.4)"></i>
<i style="left:519.6px;top:1332.6px;width:45.6px;height:12.4px;border:2.8px solid rgba(23,96,108,.28);border-radius:6.2px;box-sizing:border-box"></i>
<i style="left:525.6px;top:1337.8px;width:33.6px;height:2px;background:rgba(23,96,108,.18)"></i>
<i style="left:140.8px;top:1359.6px;width:23.2px;height:3.6px;background:rgba(0,0,0,0.3)"></i>
<i style="left:168.8px;top:1359.6px;width:20px;height:3.6px;background:rgba(0,0,0,0.3)"></i>
<i style="left:192.8px;top:1359.6px;width:24px;height:3.6px;background:rgba(0,0,0,0.3)"></i>
<i style="left:140.8px;top:1367.2px;width:12px;height:3.6px;background:rgba(0,0,0,0.5)"></i>
<i style="left:252px;top:1358px;width:45.6px;height:12.4px;border:2.8px solid rgba(23,96,108,.6);border-radius:6.2px;box-sizing:border-box"></i>
<i style="left:258px;top:1363.2px;width:33.6px;height:2px;background:rgba(23,96,108,.4)"></i>
<i style="left:319.2px;top:1358px;width:45.6px;height:12.4px;border:2.8px solid rgba(23,96,108,.6);border-radius:6.2px;box-sizing:border-box"></i>
<i style="left:325.2px;top:1363.2px;width:33.6px;height:2px;background:rgba(23,96,108,.4)"></i>
<i style="left:385.6px;top:1358px;width:45.6px;height:12.4px;border:2.8px solid rgba(23,96,108,.6);border-radius:6.2px;box-sizing:border-box"></i>
<i style="left:391.6px;top:1363.2px;width:33.6px;height:2px;background:rgba(23,96,108,.4)"></i>
<i style="left:452.4px;top:1358px;width:45.6px;height:12.4px;border:2.8px solid rgba(23,96,108,.6);border-radius:6.2px;box-sizing:border-box"></i>
<i style="left:458.4px;top:1363.2px;width:33.6px;height:2px;background:rgba(23,96,108,.4)"></i>
<i style="left:519.6px;top:1358px;width:45.6px;height:12.4px;border:2.8px solid rgba(23,96,108,.28);border-radius:6.2px;box-sizing:border-box"></i>
<i style="left:525.6px;top:1363.2px;width:33.6px;height:2px;background:rgba(23,96,108,.18)"></i>
<b style="left:890.4px;top:996px;font-size:12px;color:#000;font-weight:bold;width:48px;text-align:center;-webkit-text-stroke:.6px #000">Small</b>
<i style="left:664px;top:1016.8px;width:463.2px;height:2px;background:rgba(0,0,0,.28)"></i>
<i style="left:794px;top:1042.4px;width:20px;height:3.2px;background:rgba(0,0,0,.3)"></i>
<i style="left:861.6px;top:1042.4px;width:20px;height:3.2px;background:rgba(0,0,0,.3)"></i>
<i style="left:927.2px;top:1042.4px;width:20px;height:3.2px;background:rgba(0,0,0,.3)"></i>
<i style="left:994.4px;top:1042.4px;width:20px;height:3.2px;background:rgba(0,0,0,.3)"></i>
<i style="left:1062px;top:1042.4px;width:20px;height:3.2px;background:rgba(0,0,0,.3)"></i>
<i style="left:676.8px;top:1080.2px;width:20.9px;height:3.6px;background:rgba(0,0,0,0.4)"></i>
<i style="left:704.8px;top:1080.2px;width:23.9px;height:3.6px;background:rgba(0,0,0,0.25)"></i>
<i style="left:676.8px;top:1087px;width:19px;height:3.6px;background:rgba(0,0,0,0.22)"></i>
<i style="left:788px;top:1079.6px;width:33.2px;height:10.4px;background:#17606c;border-radius:2px"></i>
<i style="left:792.8px;top:1083.6px;width:23.6px;height:2.4px;background:rgba(255,255,255,.4)"></i>
<i style="left:855.6px;top:1079.6px;width:33.2px;height:10.4px;background:#2c727e;border-radius:2px"></i>
<i style="left:860.4px;top:1083.6px;width:23.6px;height:2.4px;background:rgba(255,255,255,.4)"></i>
<i style="left:921.2px;top:1079.6px;width:33.2px;height:10.4px;background:#0e4f5a;border-radius:2px"></i>
<i style="left:926px;top:1083.6px;width:23.6px;height:2.4px;background:rgba(255,255,255,.4)"></i>
<i style="left:988.4px;top:1079.6px;width:33.2px;height:10.4px;background:#17606c;border-radius:2px"></i>
<i style="left:993.2px;top:1083.6px;width:23.6px;height:2.4px;background:rgba(255,255,255,.4)"></i>
<i style="left:1056px;top:1079.6px;width:33.2px;height:10.4px;background:#7faab2;border-radius:2px"></i>
<i style="left:1060.8px;top:1083.6px;width:23.6px;height:2.4px;background:rgba(255,255,255,.4)"></i>
<i style="left:676.8px;top:1108.4px;width:22px;height:3.6px;background:rgba(0,0,0,0.55)"></i>
<i style="left:704.8px;top:1108.4px;width:22.8px;height:3.6px;background:rgba(0,0,0,0.55)"></i>
<i style="left:732.8px;top:1108.4px;width:28.5px;height:3.6px;background:rgba(0,0,0,0.55)"></i>
<i style="left:788px;top:1105px;width:37.2px;height:10.4px;background:#17606c;border-radius:2px"></i>
<i style="left:792.8px;top:1109px;width:27.6px;height:2.4px;background:rgba(255,255,255,.4)"></i>
<i style="left:855.6px;top:1105px;width:37.2px;height:10.4px;background:#2c727e;border-radius:2px"></i>
<i style="left:860.4px;top:1109px;width:27.6px;height:2.4px;background:rgba(255,255,255,.4)"></i>
<i style="left:921.2px;top:1105px;width:37.2px;height:10.4px;background:#0e4f5a;border-radius:2px"></i>
<i style="left:926px;top:1109px;width:27.6px;height:2.4px;background:rgba(255,255,255,.4)"></i>
<i style="left:988.4px;top:1105px;width:37.2px;height:10.4px;background:#17606c;border-radius:2px"></i>
<i style="left:993.2px;top:1109px;width:27.6px;height:2.4px;background:rgba(255,255,255,.4)"></i>
<i style="left:1056px;top:1105px;width:37.2px;height:10.4px;background:#7faab2;border-radius:2px"></i>
<i style="left:1060.8px;top:1109px;width:27.6px;height:2.4px;background:rgba(255,255,255,.4)"></i>
<i style="left:676.8px;top:1131px;width:22px;height:3.6px;background:rgba(0,0,0,0.3)"></i>
<i style="left:704.8px;top:1131px;width:19px;height:3.6px;background:rgba(0,0,0,0.3)"></i>
<i style="left:728.8px;top:1131px;width:22.8px;height:3.6px;background:rgba(0,0,0,0.3)"></i>
<i style="left:676.8px;top:1138.6px;width:11.4px;height:3.6px;background:rgba(0,0,0,0.5)"></i>
<i style="left:788px;top:1130.4px;width:37.2px;height:10.4px;background:#17606c;border-radius:2px"></i>
<i style="left:792.8px;top:1134.4px;width:27.6px;height:2.4px;background:rgba(255,255,255,.4)"></i>
<i style="left:855.6px;top:1130.4px;width:37.2px;height:10.4px;background:#2c727e;border-radius:2px"></i>
<i style="left:860.4px;top:1134.4px;width:27.6px;height:2.4px;background:rgba(255,255,255,.4)"></i>
<i style="left:921.2px;top:1130.4px;width:37.2px;height:10.4px;background:#0e4f5a;border-radius:2px"></i>
<i style="left:926px;top:1134.4px;width:27.6px;height:2.4px;background:rgba(255,255,255,.4)"></i>
<i style="left:988.4px;top:1130.4px;width:37.2px;height:10.4px;background:#17606c;border-radius:2px"></i>
<i style="left:993.2px;top:1134.4px;width:27.6px;height:2.4px;background:rgba(255,255,255,.4)"></i>
<i style="left:1056px;top:1130.4px;width:37.2px;height:10.4px;background:#7faab2;border-radius:2px"></i>
<i style="left:1060.8px;top:1134.4px;width:27.6px;height:2.4px;background:rgba(255,255,255,.4)"></i>
<i style="left:676.8px;top:1156.4px;width:20.9px;height:3.6px;background:rgba(0,0,0,0.4)"></i>
<i style="left:704.8px;top:1156.4px;width:23.9px;height:3.6px;background:rgba(0,0,0,0.25)"></i>
<i style="left:676.8px;top:1163.2px;width:19px;height:3.6px;background:rgba(0,0,0,0.22)"></i>
<i style="left:788px;top:1155.8px;width:33.2px;height:10.4px;background:#17606c;border-radius:5.2px"></i>
<i style="left:792.8px;top:1159.8px;width:23.6px;height:2.4px;background:rgba(255,255,255,.4)"></i>
<i style="left:855.6px;top:1155.8px;width:33.2px;height:10.4px;background:#2c727e;border-radius:5.2px"></i>
<i style="left:860.4px;top:1159.8px;width:23.6px;height:2.4px;background:rgba(255,255,255,.4)"></i>
<i style="left:921.2px;top:1155.8px;width:33.2px;height:10.4px;background:#0e4f5a;border-radius:5.2px"></i>
<i style="left:926px;top:1159.8px;width:23.6px;height:2.4px;background:rgba(255,255,255,.4)"></i>
<i style="left:988.4px;top:1155.8px;width:33.2px;height:10.4px;background:#17606c;border-radius:5.2px"></i>
<i style="left:993.2px;top:1159.8px;width:23.6px;height:2.4px;background:rgba(255,255,255,.4)"></i>
<i style="left:1056px;top:1155.8px;width:33.2px;height:10.4px;background:#7faab2;border-radius:5.2px"></i>
<i style="left:1060.8px;top:1159.8px;width:23.6px;height:2.4px;background:rgba(255,255,255,.4)"></i>
<i style="left:676.8px;top:1184.6px;width:22px;height:3.6px;background:rgba(0,0,0,0.55)"></i>
<i style="left:704.8px;top:1184.6px;width:22.8px;height:3.6px;background:rgba(0,0,0,0.55)"></i>
<i style="left:732.8px;top:1184.6px;width:28.5px;height:3.6px;background:rgba(0,0,0,0.55)"></i>
<i style="left:788px;top:1181.2px;width:37.2px;height:10.4px;background:#17606c;border-radius:5.2px"></i>
<i style="left:792.8px;top:1185.2px;width:27.6px;height:2.4px;background:rgba(255,255,255,.4)"></i>
<i style="left:855.6px;top:1181.2px;width:37.2px;height:10.4px;background:#2c727e;border-radius:5.2px"></i>
<i style="left:860.4px;top:1185.2px;width:27.6px;height:2.4px;background:rgba(255,255,255,.4)"></i>
<i style="left:921.2px;top:1181.2px;width:37.2px;height:10.4px;background:#0e4f5a;border-radius:5.2px"></i>
<i style="left:926px;top:1185.2px;width:27.6px;height:2.4px;background:rgba(255,255,255,.4)"></i>
<i style="left:988.4px;top:1181.2px;width:37.2px;height:10.4px;background:#17606c;border-radius:5.2px"></i>
<i style="left:993.2px;top:1185.2px;width:27.6px;height:2.4px;background:rgba(255,255,255,.4)"></i>
<i style="left:1056px;top:1181.2px;width:37.2px;height:10.4px;background:#7faab2;border-radius:5.2px"></i>
<i style="left:1060.8px;top:1185.2px;width:27.6px;height:2.4px;background:rgba(255,255,255,.4)"></i>
<i style="left:676.8px;top:1207.2px;width:22px;height:3.6px;background:rgba(0,0,0,0.3)"></i>
<i style="left:704.8px;top:1207.2px;width:19px;height:3.6px;background:rgba(0,0,0,0.3)"></i>
<i style="left:728.8px;top:1207.2px;width:22.8px;height:3.6px;background:rgba(0,0,0,0.3)"></i>
<i style="left:676.8px;top:1214.8px;width:11.4px;height:3.6px;background:rgba(0,0,0,0.5)"></i>
<i style="left:788px;top:1206.6px;width:37.2px;height:10.4px;background:#17606c;border-radius:5.2px"></i>
<i style="left:792.8px;top:1210.6px;width:27.6px;height:2.4px;background:rgba(255,255,255,.4)"></i>
<i style="left:855.6px;top:1206.6px;width:37.2px;height:10.4px;background:#2c727e;border-radius:5.2px"></i>
<i style="left:860.4px;top:1210.6px;width:27.6px;height:2.4px;background:rgba(255,255,255,.4)"></i>
<i style="left:921.2px;top:1206.6px;width:37.2px;height:10.4px;background:#0e4f5a;border-radius:5.2px"></i>
<i style="left:926px;top:1210.6px;width:27.6px;height:2.4px;background:rgba(255,255,255,.4)"></i>
<i style="left:988.4px;top:1206.6px;width:37.2px;height:10.4px;background:#17606c;border-radius:5.2px"></i>
<i style="left:993.2px;top:1210.6px;width:27.6px;height:2.4px;background:rgba(255,255,255,.4)"></i>
<i style="left:1056px;top:1206.6px;width:37.2px;height:10.4px;background:#7faab2;border-radius:5.2px"></i>
<i style="left:1060.8px;top:1210.6px;width:27.6px;height:2.4px;background:rgba(255,255,255,.4)"></i>
<i style="left:676.8px;top:1232.6px;width:20.9px;height:3.6px;background:rgba(0,0,0,0.4)"></i>
<i style="left:704.8px;top:1232.6px;width:23.9px;height:3.6px;background:rgba(0,0,0,0.25)"></i>
<i style="left:676.8px;top:1239.4px;width:19px;height:3.6px;background:rgba(0,0,0,0.22)"></i>
<i style="left:788px;top:1232px;width:33.2px;height:10.4px;border:2.2px solid rgba(23,96,108,.6);border-radius:2px;box-sizing:border-box"></i>
<i style="left:794px;top:1236.2px;width:21.2px;height:2px;background:rgba(23,96,108,.4)"></i>
<i style="left:855.6px;top:1232px;width:33.2px;height:10.4px;border:2.2px solid rgba(23,96,108,.6);border-radius:2px;box-sizing:border-box"></i>
<i style="left:861.6px;top:1236.2px;width:21.2px;height:2px;background:rgba(23,96,108,.4)"></i>
<i style="left:921.2px;top:1232px;width:33.2px;height:10.4px;border:2.2px solid rgba(23,96,108,.6);border-radius:2px;box-sizing:border-box"></i>
<i style="left:927.2px;top:1236.2px;width:21.2px;height:2px;background:rgba(23,96,108,.4)"></i>
<i style="left:988.4px;top:1232px;width:33.2px;height:10.4px;border:2.2px solid rgba(23,96,108,.6);border-radius:2px;box-sizing:border-box"></i>
<i style="left:994.4px;top:1236.2px;width:21.2px;height:2px;background:rgba(23,96,108,.4)"></i>
<i style="left:1056px;top:1232px;width:33.2px;height:10.4px;border:2.2px solid rgba(23,96,108,.28);border-radius:2px;box-sizing:border-box"></i>
<i style="left:1062px;top:1236.2px;width:21.2px;height:2px;background:rgba(23,96,108,.18)"></i>
<i style="left:676.8px;top:1260.8px;width:22px;height:3.6px;background:rgba(0,0,0,0.55)"></i>
<i style="left:704.8px;top:1260.8px;width:22.8px;height:3.6px;background:rgba(0,0,0,0.55)"></i>
<i style="left:732.8px;top:1260.8px;width:28.5px;height:3.6px;background:rgba(0,0,0,0.55)"></i>
<i style="left:788px;top:1257.4px;width:37.2px;height:10.4px;border:2.2px solid rgba(23,96,108,.6);border-radius:2px;box-sizing:border-box"></i>
<i style="left:794px;top:1261.6px;width:25.2px;height:2px;background:rgba(23,96,108,.4)"></i>
<i style="left:855.6px;top:1257.4px;width:37.2px;height:10.4px;border:2.2px solid rgba(23,96,108,.6);border-radius:2px;box-sizing:border-box"></i>
<i style="left:861.6px;top:1261.6px;width:25.2px;height:2px;background:rgba(23,96,108,.4)"></i>
<i style="left:921.2px;top:1257.4px;width:37.2px;height:10.4px;border:2.2px solid rgba(23,96,108,.6);border-radius:2px;box-sizing:border-box"></i>
<i style="left:927.2px;top:1261.6px;width:25.2px;height:2px;background:rgba(23,96,108,.4)"></i>
<i style="left:988.4px;top:1257.4px;width:37.2px;height:10.4px;border:2.2px solid rgba(23,96,108,.6);border-radius:2px;box-sizing:border-box"></i>
<i style="left:994.4px;top:1261.6px;width:25.2px;height:2px;background:rgba(23,96,108,.4)"></i>
<i style="left:1056px;top:1257.4px;width:37.2px;height:10.4px;border:2.2px solid rgba(23,96,108,.28);border-radius:2px;box-sizing:border-box"></i>
<i style="left:1062px;top:1261.6px;width:25.2px;height:2px;background:rgba(23,96,108,.18)"></i>
<i style="left:676.8px;top:1283.4px;width:22px;height:3.6px;background:rgba(0,0,0,0.3)"></i>
<i style="left:704.8px;top:1283.4px;width:19px;height:3.6px;background:rgba(0,0,0,0.3)"></i>
<i style="left:728.8px;top:1283.4px;width:22.8px;height:3.6px;background:rgba(0,0,0,0.3)"></i>
<i style="left:676.8px;top:1291px;width:11.4px;height:3.6px;background:rgba(0,0,0,0.5)"></i>
<i style="left:788px;top:1282.8px;width:37.2px;height:10.4px;border:2.2px solid rgba(23,96,108,.6);border-radius:2px;box-sizing:border-box"></i>
<i style="left:794px;top:1287px;width:25.2px;height:2px;background:rgba(23,96,108,.4)"></i>
<i style="left:855.6px;top:1282.8px;width:37.2px;height:10.4px;border:2.2px solid rgba(23,96,108,.6);border-radius:2px;box-sizing:border-box"></i>
<i style="left:861.6px;top:1287px;width:25.2px;height:2px;background:rgba(23,96,108,.4)"></i>
<i style="left:921.2px;top:1282.8px;width:37.2px;height:10.4px;border:2.2px solid rgba(23,96,108,.6);border-radius:2px;box-sizing:border-box"></i>
<i style="left:927.2px;top:1287px;width:25.2px;height:2px;background:rgba(23,96,108,.4)"></i>
<i style="left:988.4px;top:1282.8px;width:37.2px;height:10.4px;border:2.2px solid rgba(23,96,108,.6);border-radius:2px;box-sizing:border-box"></i>
<i style="left:994.4px;top:1287px;width:25.2px;height:2px;background:rgba(23,96,108,.4)"></i>
<i style="left:1056px;top:1282.8px;width:37.2px;height:10.4px;border:2.2px solid rgba(23,96,108,.28);border-radius:2px;box-sizing:border-box"></i>
<i style="left:1062px;top:1287px;width:25.2px;height:2px;background:rgba(23,96,108,.18)"></i>
<i style="left:676.8px;top:1308.8px;width:20.9px;height:3.6px;background:rgba(0,0,0,0.4)"></i>
<i style="left:704.8px;top:1308.8px;width:23.9px;height:3.6px;background:rgba(0,0,0,0.25)"></i>
<i style="left:676.8px;top:1315.6px;width:19px;height:3.6px;background:rgba(0,0,0,0.22)"></i>
<i style="left:788px;top:1308.2px;width:33.2px;height:10.4px;border:2.2px solid rgba(23,96,108,.6);border-radius:5.2px;box-sizing:border-box"></i>
<i style="left:794px;top:1312.4px;width:21.2px;height:2px;background:rgba(23,96,108,.4)"></i>
<i style="left:855.6px;top:1308.2px;width:33.2px;height:10.4px;border:2.2px solid rgba(23,96,108,.6);border-radius:5.2px;box-sizing:border-box"></i>
<i style="left:861.6px;top:1312.4px;width:21.2px;height:2px;background:rgba(23,96,108,.4)"></i>
<i style="left:921.2px;top:1308.2px;width:33.2px;height:10.4px;border:2.2px solid rgba(23,96,108,.6);border-radius:5.2px;box-sizing:border-box"></i>
<i style="left:927.2px;top:1312.4px;width:21.2px;height:2px;background:rgba(23,96,108,.4)"></i>
<i style="left:988.4px;top:1308.2px;width:33.2px;height:10.4px;border:2.2px solid rgba(23,96,108,.6);border-radius:5.2px;box-sizing:border-box"></i>
<i style="left:994.4px;top:1312.4px;width:21.2px;height:2px;background:rgba(23,96,108,.4)"></i>
<i style="left:1056px;top:1308.2px;width:33.2px;height:10.4px;border:2.2px solid rgba(23,96,108,.28);border-radius:5.2px;box-sizing:border-box"></i>
<i style="left:1062px;top:1312.4px;width:21.2px;height:2px;background:rgba(23,96,108,.18)"></i>
<i style="left:676.8px;top:1337px;width:22px;height:3.6px;background:rgba(0,0,0,0.55)"></i>
<i style="left:704.8px;top:1337px;width:22.8px;height:3.6px;background:rgba(0,0,0,0.55)"></i>
<i style="left:732.8px;top:1337px;width:28.5px;height:3.6px;background:rgba(0,0,0,0.55)"></i>
<i style="left:788px;top:1333.6px;width:37.2px;height:10.4px;border:2.2px solid rgba(23,96,108,.6);border-radius:5.2px;box-sizing:border-box"></i>
<i style="left:794px;top:1337.8px;width:25.2px;height:2px;background:rgba(23,96,108,.4)"></i>
<i style="left:855.6px;top:1333.6px;width:37.2px;height:10.4px;border:2.2px solid rgba(23,96,108,.6);border-radius:5.2px;box-sizing:border-box"></i>
<i style="left:861.6px;top:1337.8px;width:25.2px;height:2px;background:rgba(23,96,108,.4)"></i>
<i style="left:921.2px;top:1333.6px;width:37.2px;height:10.4px;border:2.2px solid rgba(23,96,108,.6);border-radius:5.2px;box-sizing:border-box"></i>
<i style="left:927.2px;top:1337.8px;width:25.2px;height:2px;background:rgba(23,96,108,.4)"></i>
<i style="left:988.4px;top:1333.6px;width:37.2px;height:10.4px;border:2.2px solid rgba(23,96,108,.6);border-radius:5.2px;box-sizing:border-box"></i>
<i style="left:994.4px;top:1337.8px;width:25.2px;height:2px;background:rgba(23,96,108,.4)"></i>
<i style="left:1056px;top:1333.6px;width:37.2px;height:10.4px;border:2.2px solid rgba(23,96,108,.28);border-radius:5.2px;box-sizing:border-box"></i>
<i style="left:1062px;top:1337.8px;width:25.2px;height:2px;background:rgba(23,96,108,.18)"></i>
<i style="left:676.8px;top:1359.6px;width:22px;height:3.6px;background:rgba(0,0,0,0.3)"></i>
<i style="left:704.8px;top:1359.6px;width:19px;height:3.6px;background:rgba(0,0,0,0.3)"></i>
<i style="left:728.8px;top:1359.6px;width:22.8px;height:3.6px;background:rgba(0,0,0,0.3)"></i>
<i style="left:676.8px;top:1367.2px;width:11.4px;height:3.6px;background:rgba(0,0,0,0.5)"></i>
<i style="left:788px;top:1359px;width:37.2px;height:10.4px;border:2.2px solid rgba(23,96,108,.6);border-radius:5.2px;box-sizing:border-box"></i>
<i style="left:794px;top:1363.2px;width:25.2px;height:2px;background:rgba(23,96,108,.4)"></i>
<i style="left:855.6px;top:1359px;width:37.2px;height:10.4px;border:2.2px solid rgba(23,96,108,.6);border-radius:5.2px;box-sizing:border-box"></i>
<i style="left:861.6px;top:1363.2px;width:25.2px;height:2px;background:rgba(23,96,108,.4)"></i>
<i style="left:921.2px;top:1359px;width:37.2px;height:10.4px;border:2.2px solid rgba(23,96,108,.6);border-radius:5.2px;box-sizing:border-box"></i>
<i style="left:927.2px;top:1363.2px;width:25.2px;height:2px;background:rgba(23,96,108,.4)"></i>
<i style="left:988.4px;top:1359px;width:37.2px;height:10.4px;border:2.2px solid rgba(23,96,108,.6);border-radius:5.2px;box-sizing:border-box"></i>
<i style="left:994.4px;top:1363.2px;width:25.2px;height:2px;background:rgba(23,96,108,.4)"></i>
<i style="left:1056px;top:1359px;width:37.2px;height:10.4px;border:2.2px solid rgba(23,96,108,.28);border-radius:5.2px;box-sizing:border-box"></i>
<i style="left:1062px;top:1363.2px;width:25.2px;height:2px;background:rgba(23,96,108,.18)"></i>
<b style="left:1419.2px;top:996px;font-size:12px;color:#000;font-weight:bold;width:48px;text-align:center;-webkit-text-stroke:.6px #000">Large</b>
<i style="left:1192px;top:1016.8px;width:460px;height:2px;background:rgba(0,0,0,.28)"></i>
<i style="left:1325.2px;top:1042.4px;width:20px;height:3.2px;background:rgba(0,0,0,.3)"></i>
<i style="left:1392.4px;top:1042.4px;width:20px;height:3.2px;background:rgba(0,0,0,.3)"></i>
<i style="left:1458px;top:1042.4px;width:20px;height:3.2px;background:rgba(0,0,0,.3)"></i>
<i style="left:1525.6px;top:1042.4px;width:20px;height:3.2px;background:rgba(0,0,0,.3)"></i>
<i style="left:1592.8px;top:1042.4px;width:20px;height:3.2px;background:rgba(0,0,0,.3)"></i>
<i style="left:1202.8px;top:1080.2px;width:22px;height:3.6px;background:rgba(0,0,0,0.4)"></i>
<i style="left:1230.8px;top:1080.2px;width:25.2px;height:3.6px;background:rgba(0,0,0,0.25)"></i>
<i style="left:1202.8px;top:1087px;width:20px;height:3.6px;background:rgba(0,0,0,0.22)"></i>
<i style="left:1319.2px;top:1078px;width:40.4px;height:13.6px;background:#17606c;border-radius:2px"></i>
<i style="left:1324px;top:1083.6px;width:30.8px;height:2.4px;background:rgba(255,255,255,.4)"></i>
<i style="left:1386.4px;top:1078px;width:40.4px;height:13.6px;background:#2c727e;border-radius:2px"></i>
<i style="left:1391.2px;top:1083.6px;width:30.8px;height:2.4px;background:rgba(255,255,255,.4)"></i>
<i style="left:1452px;top:1078px;width:40.4px;height:13.6px;background:#0e4f5a;border-radius:2px"></i>
<i style="left:1456.8px;top:1083.6px;width:30.8px;height:2.4px;background:rgba(255,255,255,.4)"></i>
<i style="left:1519.6px;top:1078px;width:40.4px;height:13.6px;background:#17606c;border-radius:2px"></i>
<i style="left:1524.4px;top:1083.6px;width:30.8px;height:2.4px;background:rgba(255,255,255,.4)"></i>
<i style="left:1586.8px;top:1078px;width:40.4px;height:13.6px;background:#7faab2;border-radius:2px"></i>
<i style="left:1591.6px;top:1083.6px;width:30.8px;height:2.4px;background:rgba(255,255,255,.4)"></i>
<i style="left:1202.8px;top:1108.4px;width:23.2px;height:3.6px;background:rgba(0,0,0,0.55)"></i>
<i style="left:1230.8px;top:1108.4px;width:24px;height:3.6px;background:rgba(0,0,0,0.55)"></i>
<i style="left:1258.8px;top:1108.4px;width:30px;height:3.6px;background:rgba(0,0,0,0.55)"></i>
<i style="left:1319.2px;top:1103.4px;width:48.8px;height:13.6px;background:#17606c;border-radius:2px"></i>
<i style="left:1324px;top:1109px;width:39.2px;height:2.4px;background:rgba(255,255,255,.4)"></i>
<i style="left:1386.4px;top:1103.4px;width:48.8px;height:13.6px;background:#2c727e;border-radius:2px"></i>
<i style="left:1391.2px;top:1109px;width:39.2px;height:2.4px;background:rgba(255,255,255,.4)"></i>
<i style="left:1452px;top:1103.4px;width:48.8px;height:13.6px;background:#0e4f5a;border-radius:2px"></i>
<i style="left:1456.8px;top:1109px;width:39.2px;height:2.4px;background:rgba(255,255,255,.4)"></i>
<i style="left:1519.6px;top:1103.4px;width:48.8px;height:13.6px;background:#17606c;border-radius:2px"></i>
<i style="left:1524.4px;top:1109px;width:39.2px;height:2.4px;background:rgba(255,255,255,.4)"></i>
<i style="left:1586.8px;top:1103.4px;width:48.8px;height:13.6px;background:#7faab2;border-radius:2px"></i>
<i style="left:1591.6px;top:1109px;width:39.2px;height:2.4px;background:rgba(255,255,255,.4)"></i>
<i style="left:1202.8px;top:1131px;width:23.2px;height:3.6px;background:rgba(0,0,0,0.3)"></i>
<i style="left:1230.8px;top:1131px;width:20px;height:3.6px;background:rgba(0,0,0,0.3)"></i>
<i style="left:1254.8px;top:1131px;width:24px;height:3.6px;background:rgba(0,0,0,0.3)"></i>
<i style="left:1202.8px;top:1138.6px;width:12px;height:3.6px;background:rgba(0,0,0,0.5)"></i>
<i style="left:1319.2px;top:1128.8px;width:48.8px;height:13.6px;background:#17606c;border-radius:2px"></i>
<i style="left:1324px;top:1134.4px;width:39.2px;height:2.4px;background:rgba(255,255,255,.4)"></i>
<i style="left:1386.4px;top:1128.8px;width:48.8px;height:13.6px;background:#2c727e;border-radius:2px"></i>
<i style="left:1391.2px;top:1134.4px;width:39.2px;height:2.4px;background:rgba(255,255,255,.4)"></i>
<i style="left:1452px;top:1128.8px;width:48.8px;height:13.6px;background:#0e4f5a;border-radius:2px"></i>
<i style="left:1456.8px;top:1134.4px;width:39.2px;height:2.4px;background:rgba(255,255,255,.4)"></i>
<i style="left:1519.6px;top:1128.8px;width:48.8px;height:13.6px;background:#17606c;border-radius:2px"></i>
<i style="left:1524.4px;top:1134.4px;width:39.2px;height:2.4px;background:rgba(255,255,255,.4)"></i>
<i style="left:1586.8px;top:1128.8px;width:48.8px;height:13.6px;background:#7faab2;border-radius:2px"></i>
<i style="left:1591.6px;top:1134.4px;width:39.2px;height:2.4px;background:rgba(255,255,255,.4)"></i>
<i style="left:1202.8px;top:1156.4px;width:22px;height:3.6px;background:rgba(0,0,0,0.4)"></i>
<i style="left:1230.8px;top:1156.4px;width:25.2px;height:3.6px;background:rgba(0,0,0,0.25)"></i>
<i style="left:1202.8px;top:1163.2px;width:20px;height:3.6px;background:rgba(0,0,0,0.22)"></i>
<i style="left:1319.2px;top:1154.2px;width:40.4px;height:13.6px;background:#17606c;border-radius:6.8px"></i>
<i style="left:1324px;top:1159.8px;width:30.8px;height:2.4px;background:rgba(255,255,255,.4)"></i>
<i style="left:1386.4px;top:1154.2px;width:40.4px;height:13.6px;background:#2c727e;border-radius:6.8px"></i>
<i style="left:1391.2px;top:1159.8px;width:30.8px;height:2.4px;background:rgba(255,255,255,.4)"></i>
<i style="left:1452px;top:1154.2px;width:40.4px;height:13.6px;background:#0e4f5a;border-radius:6.8px"></i>
<i style="left:1456.8px;top:1159.8px;width:30.8px;height:2.4px;background:rgba(255,255,255,.4)"></i>
<i style="left:1519.6px;top:1154.2px;width:40.4px;height:13.6px;background:#17606c;border-radius:6.8px"></i>
<i style="left:1524.4px;top:1159.8px;width:30.8px;height:2.4px;background:rgba(255,255,255,.4)"></i>
<i style="left:1586.8px;top:1154.2px;width:40.4px;height:13.6px;background:#7faab2;border-radius:6.8px"></i>
<i style="left:1591.6px;top:1159.8px;width:30.8px;height:2.4px;background:rgba(255,255,255,.4)"></i>
<i style="left:1202.8px;top:1184.6px;width:23.2px;height:3.6px;background:rgba(0,0,0,0.55)"></i>
<i style="left:1230.8px;top:1184.6px;width:24px;height:3.6px;background:rgba(0,0,0,0.55)"></i>
<i style="left:1258.8px;top:1184.6px;width:30px;height:3.6px;background:rgba(0,0,0,0.55)"></i>
<i style="left:1319.2px;top:1179.6px;width:48.8px;height:13.6px;background:#17606c;border-radius:6.8px"></i>
<i style="left:1324px;top:1185.2px;width:39.2px;height:2.4px;background:rgba(255,255,255,.4)"></i>
<i style="left:1386.4px;top:1179.6px;width:48.8px;height:13.6px;background:#2c727e;border-radius:6.8px"></i>
<i style="left:1391.2px;top:1185.2px;width:39.2px;height:2.4px;background:rgba(255,255,255,.4)"></i>
<i style="left:1452px;top:1179.6px;width:48.8px;height:13.6px;background:#0e4f5a;border-radius:6.8px"></i>
<i style="left:1456.8px;top:1185.2px;width:39.2px;height:2.4px;background:rgba(255,255,255,.4)"></i>
<i style="left:1519.6px;top:1179.6px;width:48.8px;height:13.6px;background:#17606c;border-radius:6.8px"></i>
<i style="left:1524.4px;top:1185.2px;width:39.2px;height:2.4px;background:rgba(255,255,255,.4)"></i>
<i style="left:1586.8px;top:1179.6px;width:48.8px;height:13.6px;background:#7faab2;border-radius:6.8px"></i>
<i style="left:1591.6px;top:1185.2px;width:39.2px;height:2.4px;background:rgba(255,255,255,.4)"></i>
<i style="left:1202.8px;top:1207.2px;width:23.2px;height:3.6px;background:rgba(0,0,0,0.3)"></i>
<i style="left:1230.8px;top:1207.2px;width:20px;height:3.6px;background:rgba(0,0,0,0.3)"></i>
<i style="left:1254.8px;top:1207.2px;width:24px;height:3.6px;background:rgba(0,0,0,0.3)"></i>
<i style="left:1202.8px;top:1214.8px;width:12px;height:3.6px;background:rgba(0,0,0,0.5)"></i>
<i style="left:1319.2px;top:1205px;width:48.8px;height:13.6px;background:#17606c;border-radius:6.8px"></i>
<i style="left:1324px;top:1210.6px;width:39.2px;height:2.4px;background:rgba(255,255,255,.4)"></i>
<i style="left:1386.4px;top:1205px;width:48.8px;height:13.6px;background:#2c727e;border-radius:6.8px"></i>
<i style="left:1391.2px;top:1210.6px;width:39.2px;height:2.4px;background:rgba(255,255,255,.4)"></i>
<i style="left:1452px;top:1205px;width:48.8px;height:13.6px;background:#0e4f5a;border-radius:6.8px"></i>
<i style="left:1456.8px;top:1210.6px;width:39.2px;height:2.4px;background:rgba(255,255,255,.4)"></i>
<i style="left:1519.6px;top:1205px;width:48.8px;height:13.6px;background:#17606c;border-radius:6.8px"></i>
<i style="left:1524.4px;top:1210.6px;width:39.2px;height:2.4px;background:rgba(255,255,255,.4)"></i>
<i style="left:1586.8px;top:1205px;width:48.8px;height:13.6px;background:#7faab2;border-radius:6.8px"></i>
<i style="left:1591.6px;top:1210.6px;width:39.2px;height:2.4px;background:rgba(255,255,255,.4)"></i>
<i style="left:1202.8px;top:1232.6px;width:22px;height:3.6px;background:rgba(0,0,0,0.4)"></i>
<i style="left:1230.8px;top:1232.6px;width:25.2px;height:3.6px;background:rgba(0,0,0,0.25)"></i>
<i style="left:1202.8px;top:1239.4px;width:20px;height:3.6px;background:rgba(0,0,0,0.22)"></i>
<i style="left:1319.2px;top:1230.4px;width:40.4px;height:13.6px;border:2.8px solid rgba(23,96,108,.6);border-radius:2px;box-sizing:border-box"></i>
<i style="left:1325.2px;top:1236.2px;width:28.4px;height:2px;background:rgba(23,96,108,.4)"></i>
<i style="left:1386.4px;top:1230.4px;width:40.4px;height:13.6px;border:2.8px solid rgba(23,96,108,.6);border-radius:2px;box-sizing:border-box"></i>
<i style="left:1392.4px;top:1236.2px;width:28.4px;height:2px;background:rgba(23,96,108,.4)"></i>
<i style="left:1452px;top:1230.4px;width:40.4px;height:13.6px;border:2.8px solid rgba(23,96,108,.6);border-radius:2px;box-sizing:border-box"></i>
<i style="left:1458px;top:1236.2px;width:28.4px;height:2px;background:rgba(23,96,108,.4)"></i>
<i style="left:1519.6px;top:1230.4px;width:40.4px;height:13.6px;border:2.8px solid rgba(23,96,108,.6);border-radius:2px;box-sizing:border-box"></i>
<i style="left:1525.6px;top:1236.2px;width:28.4px;height:2px;background:rgba(23,96,108,.4)"></i>
<i style="left:1586.8px;top:1230.4px;width:40.4px;height:13.6px;border:2.8px solid rgba(23,96,108,.28);border-radius:2px;box-sizing:border-box"></i>
<i style="left:1592.8px;top:1236.2px;width:28.4px;height:2px;background:rgba(23,96,108,.18)"></i>
<i style="left:1202.8px;top:1260.8px;width:23.2px;height:3.6px;background:rgba(0,0,0,0.55)"></i>
<i style="left:1230.8px;top:1260.8px;width:24px;height:3.6px;background:rgba(0,0,0,0.55)"></i>
<i style="left:1258.8px;top:1260.8px;width:30px;height:3.6px;background:rgba(0,0,0,0.55)"></i>
<i style="left:1319.2px;top:1255.8px;width:48.8px;height:13.6px;border:2.8px solid rgba(23,96,108,.6);border-radius:2px;box-sizing:border-box"></i>
<i style="left:1325.2px;top:1261.6px;width:36.8px;height:2px;background:rgba(23,96,108,.4)"></i>
<i style="left:1386.4px;top:1255.8px;width:48.8px;height:13.6px;border:2.8px solid rgba(23,96,108,.6);border-radius:2px;box-sizing:border-box"></i>
<i style="left:1392.4px;top:1261.6px;width:36.8px;height:2px;background:rgba(23,96,108,.4)"></i>
<i style="left:1452px;top:1255.8px;width:48.8px;height:13.6px;border:2.8px solid rgba(23,96,108,.6);border-radius:2px;box-sizing:border-box"></i>
<i style="left:1458px;top:1261.6px;width:36.8px;height:2px;background:rgba(23,96,108,.4)"></i>
<i style="left:1519.6px;top:1255.8px;width:48.8px;height:13.6px;border:2.8px solid rgba(23,96,108,.6);border-radius:2px;box-sizing:border-box"></i>
<i style="left:1525.6px;top:1261.6px;width:36.8px;height:2px;background:rgba(23,96,108,.4)"></i>
<i style="left:1586.8px;top:1255.8px;width:48.8px;height:13.6px;border:2.8px solid rgba(23,96,108,.28);border-radius:2px;box-sizing:border-box"></i>
<i style="left:1592.8px;top:1261.6px;width:36.8px;height:2px;background:rgba(23,96,108,.18)"></i>
<i style="left:1202.8px;top:1283.4px;width:23.2px;height:3.6px;background:rgba(0,0,0,0.3)"></i>
<i style="left:1230.8px;top:1283.4px;width:20px;height:3.6px;background:rgba(0,0,0,0.3)"></i>
<i style="left:1254.8px;top:1283.4px;width:24px;height:3.6px;background:rgba(0,0,0,0.3)"></i>
<i style="left:1202.8px;top:1291px;width:12px;height:3.6px;background:rgba(0,0,0,0.5)"></i>
<i style="left:1319.2px;top:1281.2px;width:48.8px;height:13.6px;border:2.8px solid rgba(23,96,108,.6);border-radius:2px;box-sizing:border-box"></i>
<i style="left:1325.2px;top:1287px;width:36.8px;height:2px;background:rgba(23,96,108,.4)"></i>
<i style="left:1386.4px;top:1281.2px;width:48.8px;height:13.6px;border:2.8px solid rgba(23,96,108,.6);border-radius:2px;box-sizing:border-box"></i>
<i style="left:1392.4px;top:1287px;width:36.8px;height:2px;background:rgba(23,96,108,.4)"></i>
<i style="left:1452px;top:1281.2px;width:48.8px;height:13.6px;border:2.8px solid rgba(23,96,108,.6);border-radius:2px;box-sizing:border-box"></i>
<i style="left:1458px;top:1287px;width:36.8px;height:2px;background:rgba(23,96,108,.4)"></i>
<i style="left:1519.6px;top:1281.2px;width:48.8px;height:13.6px;border:2.8px solid rgba(23,96,108,.6);border-radius:2px;box-sizing:border-box"></i>
<i style="left:1525.6px;top:1287px;width:36.8px;height:2px;background:rgba(23,96,108,.4)"></i>
<i style="left:1586.8px;top:1281.2px;width:48.8px;height:13.6px;border:2.8px solid rgba(23,96,108,.28);border-radius:2px;box-sizing:border-box"></i>
<i style="left:1592.8px;top:1287px;width:36.8px;height:2px;background:rgba(23,96,108,.18)"></i>
<i style="left:1202.8px;top:1308.8px;width:22px;height:3.6px;background:rgba(0,0,0,0.4)"></i>
<i style="left:1230.8px;top:1308.8px;width:25.2px;height:3.6px;background:rgba(0,0,0,0.25)"></i>
<i style="left:1202.8px;top:1315.6px;width:20px;height:3.6px;background:rgba(0,0,0,0.22)"></i>
<i style="left:1319.2px;top:1306.6px;width:40.4px;height:13.6px;border:2.8px solid rgba(23,96,108,.6);border-radius:6.8px;box-sizing:border-box"></i>
<i style="left:1325.2px;top:1312.4px;width:28.4px;height:2px;background:rgba(23,96,108,.4)"></i>
<i style="left:1386.4px;top:1306.6px;width:40.4px;height:13.6px;border:2.8px solid rgba(23,96,108,.6);border-radius:6.8px;box-sizing:border-box"></i>
<i style="left:1392.4px;top:1312.4px;width:28.4px;height:2px;background:rgba(23,96,108,.4)"></i>
<i style="left:1452px;top:1306.6px;width:40.4px;height:13.6px;border:2.8px solid rgba(23,96,108,.6);border-radius:6.8px;box-sizing:border-box"></i>
<i style="left:1458px;top:1312.4px;width:28.4px;height:2px;background:rgba(23,96,108,.4)"></i>
<i style="left:1519.6px;top:1306.6px;width:40.4px;height:13.6px;border:2.8px solid rgba(23,96,108,.6);border-radius:6.8px;box-sizing:border-box"></i>
<i style="left:1525.6px;top:1312.4px;width:28.4px;height:2px;background:rgba(23,96,108,.4)"></i>
<i style="left:1586.8px;top:1306.6px;width:40.4px;height:13.6px;border:2.8px solid rgba(23,96,108,.28);border-radius:6.8px;box-sizing:border-box"></i>
<i style="left:1592.8px;top:1312.4px;width:28.4px;height:2px;background:rgba(23,96,108,.18)"></i>
<i style="left:1202.8px;top:1337px;width:23.2px;height:3.6px;background:rgba(0,0,0,0.55)"></i>
<i style="left:1230.8px;top:1337px;width:24px;height:3.6px;background:rgba(0,0,0,0.55)"></i>
<i style="left:1258.8px;top:1337px;width:30px;height:3.6px;background:rgba(0,0,0,0.55)"></i>
<i style="left:1319.2px;top:1332px;width:48.8px;height:13.6px;border:2.8px solid rgba(23,96,108,.6);border-radius:6.8px;box-sizing:border-box"></i>
<i style="left:1325.2px;top:1337.8px;width:36.8px;height:2px;background:rgba(23,96,108,.4)"></i>
<i style="left:1386.4px;top:1332px;width:48.8px;height:13.6px;border:2.8px solid rgba(23,96,108,.6);border-radius:6.8px;box-sizing:border-box"></i>
<i style="left:1392.4px;top:1337.8px;width:36.8px;height:2px;background:rgba(23,96,108,.4)"></i>
<i style="left:1452px;top:1332px;width:48.8px;height:13.6px;border:2.8px solid rgba(23,96,108,.6);border-radius:6.8px;box-sizing:border-box"></i>
<i style="left:1458px;top:1337.8px;width:36.8px;height:2px;background:rgba(23,96,108,.4)"></i>
<i style="left:1519.6px;top:1332px;width:48.8px;height:13.6px;border:2.8px solid rgba(23,96,108,.6);border-radius:6.8px;box-sizing:border-box"></i>
<i style="left:1525.6px;top:1337.8px;width:36.8px;height:2px;background:rgba(23,96,108,.4)"></i>
<i style="left:1586.8px;top:1332px;width:48.8px;height:13.6px;border:2.8px solid rgba(23,96,108,.28);border-radius:6.8px;box-sizing:border-box"></i>
<i style="left:1592.8px;top:1337.8px;width:36.8px;height:2px;background:rgba(23,96,108,.18)"></i>
<i style="left:1202.8px;top:1359.6px;width:23.2px;height:3.6px;background:rgba(0,0,0,0.3)"></i>
<i style="left:1230.8px;top:1359.6px;width:20px;height:3.6px;background:rgba(0,0,0,0.3)"></i>
<i style="left:1254.8px;top:1359.6px;width:24px;height:3.6px;background:rgba(0,0,0,0.3)"></i>
<i style="left:1202.8px;top:1367.2px;width:12px;height:3.6px;background:rgba(0,0,0,0.5)"></i>
<i style="left:1319.2px;top:1357.4px;width:48.8px;height:13.6px;border:2.8px solid rgba(23,96,108,.6);border-radius:6.8px;box-sizing:border-box"></i>
<i style="left:1325.2px;top:1363.2px;width:36.8px;height:2px;background:rgba(23,96,108,.4)"></i>
<i style="left:1386.4px;top:1357.4px;width:48.8px;height:13.6px;border:2.8px solid rgba(23,96,108,.6);border-radius:6.8px;box-sizing:border-box"></i>
<i style="left:1392.4px;top:1363.2px;width:36.8px;height:2px;background:rgba(23,96,108,.4)"></i>
<i style="left:1452px;top:1357.4px;width:48.8px;height:13.6px;border:2.8px solid rgba(23,96,108,.6);border-radius:6.8px;box-sizing:border-box"></i>
<i style="left:1458px;top:1363.2px;width:36.8px;height:2px;background:rgba(23,96,108,.4)"></i>
<i style="left:1519.6px;top:1357.4px;width:48.8px;height:13.6px;border:2.8px solid rgba(23,96,108,.6);border-radius:6.8px;box-sizing:border-box"></i>
<i style="left:1525.6px;top:1363.2px;width:36.8px;height:2px;background:rgba(23,96,108,.4)"></i>
<i style="left:1586.8px;top:1357.4px;width:48.8px;height:13.6px;border:2.8px solid rgba(23,96,108,.28);border-radius:6.8px;box-sizing:border-box"></i>
<i style="left:1592.8px;top:1363.2px;width:36.8px;height:2px;background:rgba(23,96,108,.18)"></i>
<b style="left:128px;top:1459.6px;font-size:16px;color:#000;font-weight:bold;-webkit-text-stroke:.8px #000">Gray</b>
<b style="left:356px;top:1531.6px;font-size:12px;color:#000;font-weight:bold;width:48px;text-align:center;-webkit-text-stroke:.6px #000">Default</b>
<i style="left:258px;top:1578px;width:20px;height:3.2px;background:rgba(0,0,0,.3)"></i>
<i style="left:325.2px;top:1578px;width:20px;height:3.2px;background:rgba(0,0,0,.3)"></i>
<i style="left:391.6px;top:1578px;width:20px;height:3.2px;background:rgba(0,0,0,.3)"></i>
<i style="left:458.4px;top:1578px;width:20px;height:3.2px;background:rgba(0,0,0,.3)"></i>
<i style="left:525.6px;top:1578px;width:20px;height:3.2px;background:rgba(0,0,0,.3)"></i>
<i style="left:140.8px;top:1615.8px;width:22px;height:3.6px;background:rgba(0,0,0,0.4)"></i>
<i style="left:168.8px;top:1615.8px;width:25.2px;height:3.6px;background:rgba(0,0,0,0.25)"></i>
<i style="left:140.8px;top:1622.6px;width:20px;height:3.6px;background:rgba(0,0,0,0.22)"></i>
<i style="left:252px;top:1614.2px;width:36px;height:12.4px;background:#c4cdd6;border-radius:2px"></i>
<i style="left:256.8px;top:1619.2px;width:26.4px;height:2.4px;background:rgba(20,30,40,.35)"></i>
<i style="left:319.2px;top:1614.2px;width:36px;height:12.4px;background:#d0d7de;border-radius:2px"></i>
<i style="left:324px;top:1619.2px;width:26.4px;height:2.4px;background:rgba(20,30,40,.35)"></i>
<i style="left:385.6px;top:1614.2px;width:36px;height:12.4px;background:#b8c2cc;border-radius:2px"></i>
<i style="left:390.4px;top:1619.2px;width:26.4px;height:2.4px;background:rgba(20,30,40,.35)"></i>
<i style="left:452.4px;top:1614.2px;width:36px;height:12.4px;background:#c4cdd6;border-radius:2px"></i>
<i style="left:457.2px;top:1619.2px;width:26.4px;height:2.4px;background:rgba(20,30,40,.35)"></i>
<i style="left:519.6px;top:1614.2px;width:36px;height:12.4px;background:#e6eaee;border-radius:2px"></i>
<i style="left:524.4px;top:1619.2px;width:26.4px;height:2.4px;background:rgba(20,30,40,.35)"></i>
<i style="left:140.8px;top:1644px;width:23.2px;height:3.6px;background:rgba(0,0,0,0.55)"></i>
<i style="left:168.8px;top:1644px;width:24px;height:3.6px;background:rgba(0,0,0,0.55)"></i>
<i style="left:196.8px;top:1644px;width:30px;height:3.6px;background:rgba(0,0,0,0.55)"></i>
<i style="left:252px;top:1639.6px;width:45.6px;height:12.4px;background:#c4cdd6;border-radius:2px"></i>
<i style="left:256.8px;top:1644.6px;width:36px;height:2.4px;background:rgba(20,30,40,.35)"></i>
<i style="left:319.2px;top:1639.6px;width:45.6px;height:12.4px;background:#d0d7de;border-radius:2px"></i>
<i style="left:324px;top:1644.6px;width:36px;height:2.4px;background:rgba(20,30,40,.35)"></i>
<i style="left:385.6px;top:1639.6px;width:45.6px;height:12.4px;background:#b8c2cc;border-radius:2px"></i>
<i style="left:390.4px;top:1644.6px;width:36px;height:2.4px;background:rgba(20,30,40,.35)"></i>
<i style="left:452.4px;top:1639.6px;width:45.6px;height:12.4px;background:#c4cdd6;border-radius:2px"></i>
<i style="left:457.2px;top:1644.6px;width:36px;height:2.4px;background:rgba(20,30,40,.35)"></i>
<i style="left:519.6px;top:1639.6px;width:45.6px;height:12.4px;background:#e6eaee;border-radius:2px"></i>
<i style="left:524.4px;top:1644.6px;width:36px;height:2.4px;background:rgba(20,30,40,.35)"></i>
<i style="left:140.8px;top:1666.6px;width:23.2px;height:3.6px;background:rgba(0,0,0,0.3)"></i>
<i style="left:168.8px;top:1666.6px;width:20px;height:3.6px;background:rgba(0,0,0,0.3)"></i>
<i style="left:192.8px;top:1666.6px;width:24px;height:3.6px;background:rgba(0,0,0,0.3)"></i>
<i style="left:140.8px;top:1674.2px;width:12px;height:3.6px;background:rgba(0,0,0,0.5)"></i>
<i style="left:252px;top:1665px;width:45.6px;height:12.4px;background:#c4cdd6;border-radius:2px"></i>
<i style="left:256.8px;top:1670px;width:36px;height:2.4px;background:rgba(20,30,40,.35)"></i>
<i style="left:319.2px;top:1665px;width:45.6px;height:12.4px;background:#d0d7de;border-radius:2px"></i>
<i style="left:324px;top:1670px;width:36px;height:2.4px;background:rgba(20,30,40,.35)"></i>
<i style="left:385.6px;top:1665px;width:45.6px;height:12.4px;background:#b8c2cc;border-radius:2px"></i>
<i style="left:390.4px;top:1670px;width:36px;height:2.4px;background:rgba(20,30,40,.35)"></i>
<i style="left:452.4px;top:1665px;width:45.6px;height:12.4px;background:#c4cdd6;border-radius:2px"></i>
<i style="left:457.2px;top:1670px;width:36px;height:2.4px;background:rgba(20,30,40,.35)"></i>
<i style="left:519.6px;top:1665px;width:45.6px;height:12.4px;background:#e6eaee;border-radius:2px"></i>
<i style="left:524.4px;top:1670px;width:36px;height:2.4px;background:rgba(20,30,40,.35)"></i>
<i style="left:140.8px;top:1692px;width:22px;height:3.6px;background:rgba(0,0,0,0.4)"></i>
<i style="left:168.8px;top:1692px;width:25.2px;height:3.6px;background:rgba(0,0,0,0.25)"></i>
<i style="left:140.8px;top:1698.8px;width:20px;height:3.6px;background:rgba(0,0,0,0.22)"></i>
<i style="left:252px;top:1690.4px;width:36px;height:12.4px;background:#c4cdd6;border-radius:6.2px"></i>
<i style="left:256.8px;top:1695.4px;width:26.4px;height:2.4px;background:rgba(20,30,40,.35)"></i>
<i style="left:319.2px;top:1690.4px;width:36px;height:12.4px;background:#d0d7de;border-radius:6.2px"></i>
<i style="left:324px;top:1695.4px;width:26.4px;height:2.4px;background:rgba(20,30,40,.35)"></i>
<i style="left:385.6px;top:1690.4px;width:36px;height:12.4px;background:#b8c2cc;border-radius:6.2px"></i>
<i style="left:390.4px;top:1695.4px;width:26.4px;height:2.4px;background:rgba(20,30,40,.35)"></i>
<i style="left:452.4px;top:1690.4px;width:36px;height:12.4px;background:#c4cdd6;border-radius:6.2px"></i>
<i style="left:457.2px;top:1695.4px;width:26.4px;height:2.4px;background:rgba(20,30,40,.35)"></i>
<i style="left:519.6px;top:1690.4px;width:36px;height:12.4px;background:#e6eaee;border-radius:6.2px"></i>
<i style="left:524.4px;top:1695.4px;width:26.4px;height:2.4px;background:rgba(20,30,40,.35)"></i>
<i style="left:140.8px;top:1720.2px;width:23.2px;height:3.6px;background:rgba(0,0,0,0.55)"></i>
<i style="left:168.8px;top:1720.2px;width:24px;height:3.6px;background:rgba(0,0,0,0.55)"></i>
<i style="left:196.8px;top:1720.2px;width:30px;height:3.6px;background:rgba(0,0,0,0.55)"></i>
<i style="left:252px;top:1715.8px;width:45.6px;height:12.4px;background:#c4cdd6;border-radius:6.2px"></i>
<i style="left:256.8px;top:1720.8px;width:36px;height:2.4px;background:rgba(20,30,40,.35)"></i>
<i style="left:319.2px;top:1715.8px;width:45.6px;height:12.4px;background:#d0d7de;border-radius:6.2px"></i>
<i style="left:324px;top:1720.8px;width:36px;height:2.4px;background:rgba(20,30,40,.35)"></i>
<i style="left:385.6px;top:1715.8px;width:45.6px;height:12.4px;background:#b8c2cc;border-radius:6.2px"></i>
<i style="left:390.4px;top:1720.8px;width:36px;height:2.4px;background:rgba(20,30,40,.35)"></i>
<i style="left:452.4px;top:1715.8px;width:45.6px;height:12.4px;background:#c4cdd6;border-radius:6.2px"></i>
<i style="left:457.2px;top:1720.8px;width:36px;height:2.4px;background:rgba(20,30,40,.35)"></i>
<i style="left:519.6px;top:1715.8px;width:45.6px;height:12.4px;background:#e6eaee;border-radius:6.2px"></i>
<i style="left:524.4px;top:1720.8px;width:36px;height:2.4px;background:rgba(20,30,40,.35)"></i>
<i style="left:140.8px;top:1742.8px;width:23.2px;height:3.6px;background:rgba(0,0,0,0.3)"></i>
<i style="left:168.8px;top:1742.8px;width:20px;height:3.6px;background:rgba(0,0,0,0.3)"></i>
<i style="left:192.8px;top:1742.8px;width:24px;height:3.6px;background:rgba(0,0,0,0.3)"></i>
<i style="left:140.8px;top:1750.4px;width:12px;height:3.6px;background:rgba(0,0,0,0.5)"></i>
<i style="left:252px;top:1741.2px;width:45.6px;height:12.4px;background:#c4cdd6;border-radius:6.2px"></i>
<i style="left:256.8px;top:1746.2px;width:36px;height:2.4px;background:rgba(20,30,40,.35)"></i>
<i style="left:319.2px;top:1741.2px;width:45.6px;height:12.4px;background:#d0d7de;border-radius:6.2px"></i>
<i style="left:324px;top:1746.2px;width:36px;height:2.4px;background:rgba(20,30,40,.35)"></i>
<i style="left:385.6px;top:1741.2px;width:45.6px;height:12.4px;background:#b8c2cc;border-radius:6.2px"></i>
<i style="left:390.4px;top:1746.2px;width:36px;height:2.4px;background:rgba(20,30,40,.35)"></i>
<i style="left:452.4px;top:1741.2px;width:45.6px;height:12.4px;background:#c4cdd6;border-radius:6.2px"></i>
<i style="left:457.2px;top:1746.2px;width:36px;height:2.4px;background:rgba(20,30,40,.35)"></i>
<i style="left:519.6px;top:1741.2px;width:45.6px;height:12.4px;background:#e6eaee;border-radius:6.2px"></i>
<i style="left:524.4px;top:1746.2px;width:36px;height:2.4px;background:rgba(20,30,40,.35)"></i>
<i style="left:140.8px;top:1768.2px;width:22px;height:3.6px;background:rgba(0,0,0,0.4)"></i>
<i style="left:168.8px;top:1768.2px;width:25.2px;height:3.6px;background:rgba(0,0,0,0.25)"></i>
<i style="left:140.8px;top:1775px;width:20px;height:3.6px;background:rgba(0,0,0,0.22)"></i>
<i style="left:252px;top:1766.6px;width:36px;height:12.4px;border:2.8px solid rgba(110,120,130,.32);border-radius:2px;box-sizing:border-box"></i>
<i style="left:258px;top:1771.8px;width:24px;height:2px;background:rgba(110,120,130,.32)"></i>
<i style="left:319.2px;top:1766.6px;width:36px;height:12.4px;border:2.8px solid rgba(110,120,130,.32);border-radius:2px;box-sizing:border-box"></i>
<i style="left:325.2px;top:1771.8px;width:24px;height:2px;background:rgba(110,120,130,.32)"></i>
<i style="left:385.6px;top:1766.6px;width:36px;height:12.4px;border:2.8px solid rgba(110,120,130,.32);border-radius:2px;box-sizing:border-box"></i>
<i style="left:391.6px;top:1771.8px;width:24px;height:2px;background:rgba(110,120,130,.32)"></i>
<i style="left:452.4px;top:1766.6px;width:36px;height:12.4px;border:2.8px solid rgba(110,120,130,.32);border-radius:2px;box-sizing:border-box"></i>
<i style="left:458.4px;top:1771.8px;width:24px;height:2px;background:rgba(110,120,130,.32)"></i>
<i style="left:519.6px;top:1766.6px;width:36px;height:12.4px;border:2.8px solid rgba(110,120,130,.18);border-radius:2px;box-sizing:border-box"></i>
<i style="left:525.6px;top:1771.8px;width:24px;height:2px;background:rgba(110,120,130,.18)"></i>
<i style="left:140.8px;top:1796.4px;width:23.2px;height:3.6px;background:rgba(0,0,0,0.55)"></i>
<i style="left:168.8px;top:1796.4px;width:24px;height:3.6px;background:rgba(0,0,0,0.55)"></i>
<i style="left:196.8px;top:1796.4px;width:30px;height:3.6px;background:rgba(0,0,0,0.55)"></i>
<i style="left:252px;top:1792px;width:45.6px;height:12.4px;border:2.8px solid rgba(110,120,130,.32);border-radius:2px;box-sizing:border-box"></i>
<i style="left:258px;top:1797.2px;width:33.6px;height:2px;background:rgba(110,120,130,.32)"></i>
<i style="left:319.2px;top:1792px;width:45.6px;height:12.4px;border:2.8px solid rgba(110,120,130,.32);border-radius:2px;box-sizing:border-box"></i>
<i style="left:325.2px;top:1797.2px;width:33.6px;height:2px;background:rgba(110,120,130,.32)"></i>
<i style="left:385.6px;top:1792px;width:45.6px;height:12.4px;border:2.8px solid rgba(110,120,130,.32);border-radius:2px;box-sizing:border-box"></i>
<i style="left:391.6px;top:1797.2px;width:33.6px;height:2px;background:rgba(110,120,130,.32)"></i>
<i style="left:452.4px;top:1792px;width:45.6px;height:12.4px;border:2.8px solid rgba(110,120,130,.32);border-radius:2px;box-sizing:border-box"></i>
<i style="left:458.4px;top:1797.2px;width:33.6px;height:2px;background:rgba(110,120,130,.32)"></i>
<i style="left:519.6px;top:1792px;width:45.6px;height:12.4px;border:2.8px solid rgba(110,120,130,.18);border-radius:2px;box-sizing:border-box"></i>
<i style="left:525.6px;top:1797.2px;width:33.6px;height:2px;background:rgba(110,120,130,.18)"></i>
<i style="left:140.8px;top:1819px;width:23.2px;height:3.6px;background:rgba(0,0,0,0.3)"></i>
<i style="left:168.8px;top:1819px;width:20px;height:3.6px;background:rgba(0,0,0,0.3)"></i>
<i style="left:192.8px;top:1819px;width:24px;height:3.6px;background:rgba(0,0,0,0.3)"></i>
<i style="left:140.8px;top:1826.6px;width:12px;height:3.6px;background:rgba(0,0,0,0.5)"></i>
<i style="left:252px;top:1817.4px;width:45.6px;height:12.4px;border:2.8px solid rgba(110,120,130,.32);border-radius:2px;box-sizing:border-box"></i>
<i style="left:258px;top:1822.6px;width:33.6px;height:2px;background:rgba(110,120,130,.32)"></i>
<i style="left:319.2px;top:1817.4px;width:45.6px;height:12.4px;border:2.8px solid rgba(110,120,130,.32);border-radius:2px;box-sizing:border-box"></i>
<i style="left:325.2px;top:1822.6px;width:33.6px;height:2px;background:rgba(110,120,130,.32)"></i>
<i style="left:385.6px;top:1817.4px;width:45.6px;height:12.4px;border:2.8px solid rgba(110,120,130,.32);border-radius:2px;box-sizing:border-box"></i>
<i style="left:391.6px;top:1822.6px;width:33.6px;height:2px;background:rgba(110,120,130,.32)"></i>
<i style="left:452.4px;top:1817.4px;width:45.6px;height:12.4px;border:2.8px solid rgba(110,120,130,.32);border-radius:2px;box-sizing:border-box"></i>
<i style="left:458.4px;top:1822.6px;width:33.6px;height:2px;background:rgba(110,120,130,.32)"></i>
<i style="left:519.6px;top:1817.4px;width:45.6px;height:12.4px;border:2.8px solid rgba(110,120,130,.18);border-radius:2px;box-sizing:border-box"></i>
<i style="left:525.6px;top:1822.6px;width:33.6px;height:2px;background:rgba(110,120,130,.18)"></i>
<i style="left:140.8px;top:1844.4px;width:22px;height:3.6px;background:rgba(0,0,0,0.4)"></i>
<i style="left:168.8px;top:1844.4px;width:25.2px;height:3.6px;background:rgba(0,0,0,0.25)"></i>
<i style="left:140.8px;top:1851.2px;width:20px;height:3.6px;background:rgba(0,0,0,0.22)"></i>
<i style="left:252px;top:1842.8px;width:36px;height:12.4px;border:2.8px solid rgba(110,120,130,.32);border-radius:6.2px;box-sizing:border-box"></i>
<i style="left:258px;top:1848px;width:24px;height:2px;background:rgba(110,120,130,.32)"></i>
<i style="left:319.2px;top:1842.8px;width:36px;height:12.4px;border:2.8px solid rgba(110,120,130,.32);border-radius:6.2px;box-sizing:border-box"></i>
<i style="left:325.2px;top:1848px;width:24px;height:2px;background:rgba(110,120,130,.32)"></i>
<i style="left:385.6px;top:1842.8px;width:36px;height:12.4px;border:2.8px solid rgba(110,120,130,.32);border-radius:6.2px;box-sizing:border-box"></i>
<i style="left:391.6px;top:1848px;width:24px;height:2px;background:rgba(110,120,130,.32)"></i>
<i style="left:452.4px;top:1842.8px;width:36px;height:12.4px;border:2.8px solid rgba(110,120,130,.32);border-radius:6.2px;box-sizing:border-box"></i>
<i style="left:458.4px;top:1848px;width:24px;height:2px;background:rgba(110,120,130,.32)"></i>
<i style="left:519.6px;top:1842.8px;width:36px;height:12.4px;border:2.8px solid rgba(110,120,130,.18);border-radius:6.2px;box-sizing:border-box"></i>
<i style="left:525.6px;top:1848px;width:24px;height:2px;background:rgba(110,120,130,.18)"></i>
<i style="left:140.8px;top:1872.6px;width:23.2px;height:3.6px;background:rgba(0,0,0,0.55)"></i>
<i style="left:168.8px;top:1872.6px;width:24px;height:3.6px;background:rgba(0,0,0,0.55)"></i>
<i style="left:196.8px;top:1872.6px;width:30px;height:3.6px;background:rgba(0,0,0,0.55)"></i>
<i style="left:252px;top:1868.2px;width:45.6px;height:12.4px;border:2.8px solid rgba(110,120,130,.32);border-radius:6.2px;box-sizing:border-box"></i>
<i style="left:258px;top:1873.4px;width:33.6px;height:2px;background:rgba(110,120,130,.32)"></i>
<i style="left:319.2px;top:1868.2px;width:45.6px;height:12.4px;border:2.8px solid rgba(110,120,130,.32);border-radius:6.2px;box-sizing:border-box"></i>
<i style="left:325.2px;top:1873.4px;width:33.6px;height:2px;background:rgba(110,120,130,.32)"></i>
<i style="left:385.6px;top:1868.2px;width:45.6px;height:12.4px;border:2.8px solid rgba(110,120,130,.32);border-radius:6.2px;box-sizing:border-box"></i>
<i style="left:391.6px;top:1873.4px;width:33.6px;height:2px;background:rgba(110,120,130,.32)"></i>
<i style="left:452.4px;top:1868.2px;width:45.6px;height:12.4px;border:2.8px solid rgba(110,120,130,.32);border-radius:6.2px;box-sizing:border-box"></i>
<i style="left:458.4px;top:1873.4px;width:33.6px;height:2px;background:rgba(110,120,130,.32)"></i>
<i style="left:519.6px;top:1868.2px;width:45.6px;height:12.4px;border:2.8px solid rgba(110,120,130,.18);border-radius:6.2px;box-sizing:border-box"></i>
<i style="left:525.6px;top:1873.4px;width:33.6px;height:2px;background:rgba(110,120,130,.18)"></i>
<i style="left:140.8px;top:1895.2px;width:23.2px;height:3.6px;background:rgba(0,0,0,0.3)"></i>
<i style="left:168.8px;top:1895.2px;width:20px;height:3.6px;background:rgba(0,0,0,0.3)"></i>
<i style="left:192.8px;top:1895.2px;width:24px;height:3.6px;background:rgba(0,0,0,0.3)"></i>
<i style="left:140.8px;top:1902.8px;width:12px;height:3.6px;background:rgba(0,0,0,0.5)"></i>
<i style="left:252px;top:1893.6px;width:45.6px;height:12.4px;border:2.8px solid rgba(110,120,130,.32);border-radius:6.2px;box-sizing:border-box"></i>
<i style="left:258px;top:1898.8px;width:33.6px;height:2px;background:rgba(110,120,130,.32)"></i>
<i style="left:319.2px;top:1893.6px;width:45.6px;height:12.4px;border:2.8px solid rgba(110,120,130,.32);border-radius:6.2px;box-sizing:border-box"></i>
<i style="left:325.2px;top:1898.8px;width:33.6px;height:2px;background:rgba(110,120,130,.32)"></i>
<i style="left:385.6px;top:1893.6px;width:45.6px;height:12.4px;border:2.8px solid rgba(110,120,130,.32);border-radius:6.2px;box-sizing:border-box"></i>
<i style="left:391.6px;top:1898.8px;width:33.6px;height:2px;background:rgba(110,120,130,.32)"></i>
<i style="left:452.4px;top:1893.6px;width:45.6px;height:12.4px;border:2.8px solid rgba(110,120,130,.32);border-radius:6.2px;box-sizing:border-box"></i>
<i style="left:458.4px;top:1898.8px;width:33.6px;height:2px;background:rgba(110,120,130,.32)"></i>
<i style="left:519.6px;top:1893.6px;width:45.6px;height:12.4px;border:2.8px solid rgba(110,120,130,.18);border-radius:6.2px;box-sizing:border-box"></i>
<i style="left:525.6px;top:1898.8px;width:33.6px;height:2px;background:rgba(110,120,130,.18)"></i>
<b style="left:890.4px;top:1531.6px;font-size:12px;color:#000;font-weight:bold;width:48px;text-align:center;-webkit-text-stroke:.6px #000">Small</b>
<i style="left:794px;top:1578px;width:20px;height:3.2px;background:rgba(0,0,0,.3)"></i>
<i style="left:861.6px;top:1578px;width:20px;height:3.2px;background:rgba(0,0,0,.3)"></i>
<i style="left:927.2px;top:1578px;width:20px;height:3.2px;background:rgba(0,0,0,.3)"></i>
<i style="left:994.4px;top:1578px;width:20px;height:3.2px;background:rgba(0,0,0,.3)"></i>
<i style="left:1062px;top:1578px;width:20px;height:3.2px;background:rgba(0,0,0,.3)"></i>
<i style="left:676.8px;top:1615.8px;width:20.9px;height:3.6px;background:rgba(0,0,0,0.4)"></i>
<i style="left:704.8px;top:1615.8px;width:23.9px;height:3.6px;background:rgba(0,0,0,0.25)"></i>
<i style="left:676.8px;top:1622.6px;width:19px;height:3.6px;background:rgba(0,0,0,0.22)"></i>
<i style="left:788px;top:1615.2px;width:33.2px;height:10.4px;background:#c4cdd6;border-radius:2px"></i>
<i style="left:792.8px;top:1619.2px;width:23.6px;height:2.4px;background:rgba(20,30,40,.35)"></i>
<i style="left:855.6px;top:1615.2px;width:33.2px;height:10.4px;background:#d0d7de;border-radius:2px"></i>
<i style="left:860.4px;top:1619.2px;width:23.6px;height:2.4px;background:rgba(20,30,40,.35)"></i>
<i style="left:921.2px;top:1615.2px;width:33.2px;height:10.4px;background:#b8c2cc;border-radius:2px"></i>
<i style="left:926px;top:1619.2px;width:23.6px;height:2.4px;background:rgba(20,30,40,.35)"></i>
<i style="left:988.4px;top:1615.2px;width:33.2px;height:10.4px;background:#c4cdd6;border-radius:2px"></i>
<i style="left:993.2px;top:1619.2px;width:23.6px;height:2.4px;background:rgba(20,30,40,.35)"></i>
<i style="left:1056px;top:1615.2px;width:33.2px;height:10.4px;background:#e6eaee;border-radius:2px"></i>
<i style="left:1060.8px;top:1619.2px;width:23.6px;height:2.4px;background:rgba(20,30,40,.35)"></i>
<i style="left:676.8px;top:1644px;width:22px;height:3.6px;background:rgba(0,0,0,0.55)"></i>
<i style="left:704.8px;top:1644px;width:22.8px;height:3.6px;background:rgba(0,0,0,0.55)"></i>
<i style="left:732.8px;top:1644px;width:28.5px;height:3.6px;background:rgba(0,0,0,0.55)"></i>
<i style="left:788px;top:1640.6px;width:37.2px;height:10.4px;background:#c4cdd6;border-radius:2px"></i>
<i style="left:792.8px;top:1644.6px;width:27.6px;height:2.4px;background:rgba(20,30,40,.35)"></i>
<i style="left:855.6px;top:1640.6px;width:37.2px;height:10.4px;background:#d0d7de;border-radius:2px"></i>
<i style="left:860.4px;top:1644.6px;width:27.6px;height:2.4px;background:rgba(20,30,40,.35)"></i>
<i style="left:921.2px;top:1640.6px;width:37.2px;height:10.4px;background:#b8c2cc;border-radius:2px"></i>
<i style="left:926px;top:1644.6px;width:27.6px;height:2.4px;background:rgba(20,30,40,.35)"></i>
<i style="left:988.4px;top:1640.6px;width:37.2px;height:10.4px;background:#c4cdd6;border-radius:2px"></i>
<i style="left:993.2px;top:1644.6px;width:27.6px;height:2.4px;background:rgba(20,30,40,.35)"></i>
<i style="left:1056px;top:1640.6px;width:37.2px;height:10.4px;background:#e6eaee;border-radius:2px"></i>
<i style="left:1060.8px;top:1644.6px;width:27.6px;height:2.4px;background:rgba(20,30,40,.35)"></i>
<i style="left:676.8px;top:1666.6px;width:22px;height:3.6px;background:rgba(0,0,0,0.3)"></i>
<i style="left:704.8px;top:1666.6px;width:19px;height:3.6px;background:rgba(0,0,0,0.3)"></i>
<i style="left:728.8px;top:1666.6px;width:22.8px;height:3.6px;background:rgba(0,0,0,0.3)"></i>
<i style="left:676.8px;top:1674.2px;width:11.4px;height:3.6px;background:rgba(0,0,0,0.5)"></i>
<i style="left:788px;top:1666px;width:37.2px;height:10.4px;background:#c4cdd6;border-radius:2px"></i>
<i style="left:792.8px;top:1670px;width:27.6px;height:2.4px;background:rgba(20,30,40,.35)"></i>
<i style="left:855.6px;top:1666px;width:37.2px;height:10.4px;background:#d0d7de;border-radius:2px"></i>
<i style="left:860.4px;top:1670px;width:27.6px;height:2.4px;background:rgba(20,30,40,.35)"></i>
<i style="left:921.2px;top:1666px;width:37.2px;height:10.4px;background:#b8c2cc;border-radius:2px"></i>
<i style="left:926px;top:1670px;width:27.6px;height:2.4px;background:rgba(20,30,40,.35)"></i>
<i style="left:988.4px;top:1666px;width:37.2px;height:10.4px;background:#c4cdd6;border-radius:2px"></i>
<i style="left:993.2px;top:1670px;width:27.6px;height:2.4px;background:rgba(20,30,40,.35)"></i>
<i style="left:1056px;top:1666px;width:37.2px;height:10.4px;background:#e6eaee;border-radius:2px"></i>
<i style="left:1060.8px;top:1670px;width:27.6px;height:2.4px;background:rgba(20,30,40,.35)"></i>
<i style="left:676.8px;top:1692px;width:20.9px;height:3.6px;background:rgba(0,0,0,0.4)"></i>
<i style="left:704.8px;top:1692px;width:23.9px;height:3.6px;background:rgba(0,0,0,0.25)"></i>
<i style="left:676.8px;top:1698.8px;width:19px;height:3.6px;background:rgba(0,0,0,0.22)"></i>
<i style="left:788px;top:1691.4px;width:33.2px;height:10.4px;background:#c4cdd6;border-radius:5.2px"></i>
<i style="left:792.8px;top:1695.4px;width:23.6px;height:2.4px;background:rgba(20,30,40,.35)"></i>
<i style="left:855.6px;top:1691.4px;width:33.2px;height:10.4px;background:#d0d7de;border-radius:5.2px"></i>
<i style="left:860.4px;top:1695.4px;width:23.6px;height:2.4px;background:rgba(20,30,40,.35)"></i>
<i style="left:921.2px;top:1691.4px;width:33.2px;height:10.4px;background:#b8c2cc;border-radius:5.2px"></i>
<i style="left:926px;top:1695.4px;width:23.6px;height:2.4px;background:rgba(20,30,40,.35)"></i>
<i style="left:988.4px;top:1691.4px;width:33.2px;height:10.4px;background:#c4cdd6;border-radius:5.2px"></i>
<i style="left:993.2px;top:1695.4px;width:23.6px;height:2.4px;background:rgba(20,30,40,.35)"></i>
<i style="left:1056px;top:1691.4px;width:33.2px;height:10.4px;background:#e6eaee;border-radius:5.2px"></i>
<i style="left:1060.8px;top:1695.4px;width:23.6px;height:2.4px;background:rgba(20,30,40,.35)"></i>
<i style="left:676.8px;top:1720.2px;width:22px;height:3.6px;background:rgba(0,0,0,0.55)"></i>
<i style="left:704.8px;top:1720.2px;width:22.8px;height:3.6px;background:rgba(0,0,0,0.55)"></i>
<i style="left:732.8px;top:1720.2px;width:28.5px;height:3.6px;background:rgba(0,0,0,0.55)"></i>
<i style="left:788px;top:1716.8px;width:37.2px;height:10.4px;background:#c4cdd6;border-radius:5.2px"></i>
<i style="left:792.8px;top:1720.8px;width:27.6px;height:2.4px;background:rgba(20,30,40,.35)"></i>
<i style="left:855.6px;top:1716.8px;width:37.2px;height:10.4px;background:#d0d7de;border-radius:5.2px"></i>
<i style="left:860.4px;top:1720.8px;width:27.6px;height:2.4px;background:rgba(20,30,40,.35)"></i>
<i style="left:921.2px;top:1716.8px;width:37.2px;height:10.4px;background:#b8c2cc;border-radius:5.2px"></i>
<i style="left:926px;top:1720.8px;width:27.6px;height:2.4px;background:rgba(20,30,40,.35)"></i>
<i style="left:988.4px;top:1716.8px;width:37.2px;height:10.4px;background:#c4cdd6;border-radius:5.2px"></i>
<i style="left:993.2px;top:1720.8px;width:27.6px;height:2.4px;background:rgba(20,30,40,.35)"></i>
<i style="left:1056px;top:1716.8px;width:37.2px;height:10.4px;background:#e6eaee;border-radius:5.2px"></i>
<i style="left:1060.8px;top:1720.8px;width:27.6px;height:2.4px;background:rgba(20,30,40,.35)"></i>
<i style="left:676.8px;top:1742.8px;width:22px;height:3.6px;background:rgba(0,0,0,0.3)"></i>
<i style="left:704.8px;top:1742.8px;width:19px;height:3.6px;background:rgba(0,0,0,0.3)"></i>
<i style="left:728.8px;top:1742.8px;width:22.8px;height:3.6px;background:rgba(0,0,0,0.3)"></i>
<i style="left:676.8px;top:1750.4px;width:11.4px;height:3.6px;background:rgba(0,0,0,0.5)"></i>
<i style="left:788px;top:1742.2px;width:37.2px;height:10.4px;background:#c4cdd6;border-radius:5.2px"></i>
<i style="left:792.8px;top:1746.2px;width:27.6px;height:2.4px;background:rgba(20,30,40,.35)"></i>
<i style="left:855.6px;top:1742.2px;width:37.2px;height:10.4px;background:#d0d7de;border-radius:5.2px"></i>
<i style="left:860.4px;top:1746.2px;width:27.6px;height:2.4px;background:rgba(20,30,40,.35)"></i>
<i style="left:921.2px;top:1742.2px;width:37.2px;height:10.4px;background:#b8c2cc;border-radius:5.2px"></i>
<i style="left:926px;top:1746.2px;width:27.6px;height:2.4px;background:rgba(20,30,40,.35)"></i>
<i style="left:988.4px;top:1742.2px;width:37.2px;height:10.4px;background:#c4cdd6;border-radius:5.2px"></i>
<i style="left:993.2px;top:1746.2px;width:27.6px;height:2.4px;background:rgba(20,30,40,.35)"></i>
<i style="left:1056px;top:1742.2px;width:37.2px;height:10.4px;background:#e6eaee;border-radius:5.2px"></i>
<i style="left:1060.8px;top:1746.2px;width:27.6px;height:2.4px;background:rgba(20,30,40,.35)"></i>
<i style="left:676.8px;top:1768.2px;width:20.9px;height:3.6px;background:rgba(0,0,0,0.4)"></i>
<i style="left:704.8px;top:1768.2px;width:23.9px;height:3.6px;background:rgba(0,0,0,0.25)"></i>
<i style="left:676.8px;top:1775px;width:19px;height:3.6px;background:rgba(0,0,0,0.22)"></i>
<i style="left:788px;top:1767.6px;width:33.2px;height:10.4px;border:2.2px solid rgba(110,120,130,.32);border-radius:2px;box-sizing:border-box"></i>
<i style="left:794px;top:1771.8px;width:21.2px;height:2px;background:rgba(110,120,130,.32)"></i>
<i style="left:855.6px;top:1767.6px;width:33.2px;height:10.4px;border:2.2px solid rgba(110,120,130,.32);border-radius:2px;box-sizing:border-box"></i>
<i style="left:861.6px;top:1771.8px;width:21.2px;height:2px;background:rgba(110,120,130,.32)"></i>
<i style="left:921.2px;top:1767.6px;width:33.2px;height:10.4px;border:2.2px solid rgba(110,120,130,.32);border-radius:2px;box-sizing:border-box"></i>
<i style="left:927.2px;top:1771.8px;width:21.2px;height:2px;background:rgba(110,120,130,.32)"></i>
<i style="left:988.4px;top:1767.6px;width:33.2px;height:10.4px;border:2.2px solid rgba(110,120,130,.32);border-radius:2px;box-sizing:border-box"></i>
<i style="left:994.4px;top:1771.8px;width:21.2px;height:2px;background:rgba(110,120,130,.32)"></i>
<i style="left:1056px;top:1767.6px;width:33.2px;height:10.4px;border:2.2px solid rgba(110,120,130,.18);border-radius:2px;box-sizing:border-box"></i>
<i style="left:1062px;top:1771.8px;width:21.2px;height:2px;background:rgba(110,120,130,.18)"></i>
<i style="left:676.8px;top:1796.4px;width:22px;height:3.6px;background:rgba(0,0,0,0.55)"></i>
<i style="left:704.8px;top:1796.4px;width:22.8px;height:3.6px;background:rgba(0,0,0,0.55)"></i>
<i style="left:732.8px;top:1796.4px;width:28.5px;height:3.6px;background:rgba(0,0,0,0.55)"></i>
<i style="left:788px;top:1793px;width:37.2px;height:10.4px;border:2.2px solid rgba(110,120,130,.32);border-radius:2px;box-sizing:border-box"></i>
<i style="left:794px;top:1797.2px;width:25.2px;height:2px;background:rgba(110,120,130,.32)"></i>
<i style="left:855.6px;top:1793px;width:37.2px;height:10.4px;border:2.2px solid rgba(110,120,130,.32);border-radius:2px;box-sizing:border-box"></i>
<i style="left:861.6px;top:1797.2px;width:25.2px;height:2px;background:rgba(110,120,130,.32)"></i>
<i style="left:921.2px;top:1793px;width:37.2px;height:10.4px;border:2.2px solid rgba(110,120,130,.32);border-radius:2px;box-sizing:border-box"></i>
<i style="left:927.2px;top:1797.2px;width:25.2px;height:2px;background:rgba(110,120,130,.32)"></i>
<i style="left:988.4px;top:1793px;width:37.2px;height:10.4px;border:2.2px solid rgba(110,120,130,.32);border-radius:2px;box-sizing:border-box"></i>
<i style="left:994.4px;top:1797.2px;width:25.2px;height:2px;background:rgba(110,120,130,.32)"></i>
<i style="left:1056px;top:1793px;width:37.2px;height:10.4px;border:2.2px solid rgba(110,120,130,.18);border-radius:2px;box-sizing:border-box"></i>
<i style="left:1062px;top:1797.2px;width:25.2px;height:2px;background:rgba(110,120,130,.18)"></i>
<i style="left:676.8px;top:1819px;width:22px;height:3.6px;background:rgba(0,0,0,0.3)"></i>
<i style="left:704.8px;top:1819px;width:19px;height:3.6px;background:rgba(0,0,0,0.3)"></i>
<i style="left:728.8px;top:1819px;width:22.8px;height:3.6px;background:rgba(0,0,0,0.3)"></i>
<i style="left:676.8px;top:1826.6px;width:11.4px;height:3.6px;background:rgba(0,0,0,0.5)"></i>
<i style="left:788px;top:1818.4px;width:37.2px;height:10.4px;border:2.2px solid rgba(110,120,130,.32);border-radius:2px;box-sizing:border-box"></i>
<i style="left:794px;top:1822.6px;width:25.2px;height:2px;background:rgba(110,120,130,.32)"></i>
<i style="left:855.6px;top:1818.4px;width:37.2px;height:10.4px;border:2.2px solid rgba(110,120,130,.32);border-radius:2px;box-sizing:border-box"></i>
<i style="left:861.6px;top:1822.6px;width:25.2px;height:2px;background:rgba(110,120,130,.32)"></i>
<i style="left:921.2px;top:1818.4px;width:37.2px;height:10.4px;border:2.2px solid rgba(110,120,130,.32);border-radius:2px;box-sizing:border-box"></i>
<i style="left:927.2px;top:1822.6px;width:25.2px;height:2px;background:rgba(110,120,130,.32)"></i>
<i style="left:988.4px;top:1818.4px;width:37.2px;height:10.4px;border:2.2px solid rgba(110,120,130,.32);border-radius:2px;box-sizing:border-box"></i>
<i style="left:994.4px;top:1822.6px;width:25.2px;height:2px;background:rgba(110,120,130,.32)"></i>
<i style="left:1056px;top:1818.4px;width:37.2px;height:10.4px;border:2.2px solid rgba(110,120,130,.18);border-radius:2px;box-sizing:border-box"></i>
<i style="left:1062px;top:1822.6px;width:25.2px;height:2px;background:rgba(110,120,130,.18)"></i>
<i style="left:676.8px;top:1844.4px;width:20.9px;height:3.6px;background:rgba(0,0,0,0.4)"></i>
<i style="left:704.8px;top:1844.4px;width:23.9px;height:3.6px;background:rgba(0,0,0,0.25)"></i>
<i style="left:676.8px;top:1851.2px;width:19px;height:3.6px;background:rgba(0,0,0,0.22)"></i>
<i style="left:788px;top:1843.8px;width:33.2px;height:10.4px;border:2.2px solid rgba(110,120,130,.32);border-radius:5.2px;box-sizing:border-box"></i>
<i style="left:794px;top:1848px;width:21.2px;height:2px;background:rgba(110,120,130,.32)"></i>
<i style="left:855.6px;top:1843.8px;width:33.2px;height:10.4px;border:2.2px solid rgba(110,120,130,.32);border-radius:5.2px;box-sizing:border-box"></i>
<i style="left:861.6px;top:1848px;width:21.2px;height:2px;background:rgba(110,120,130,.32)"></i>
<i style="left:921.2px;top:1843.8px;width:33.2px;height:10.4px;border:2.2px solid rgba(110,120,130,.32);border-radius:5.2px;box-sizing:border-box"></i>
<i style="left:927.2px;top:1848px;width:21.2px;height:2px;background:rgba(110,120,130,.32)"></i>
<i style="left:988.4px;top:1843.8px;width:33.2px;height:10.4px;border:2.2px solid rgba(110,120,130,.32);border-radius:5.2px;box-sizing:border-box"></i>
<i style="left:994.4px;top:1848px;width:21.2px;height:2px;background:rgba(110,120,130,.32)"></i>
<i style="left:1056px;top:1843.8px;width:33.2px;height:10.4px;border:2.2px solid rgba(110,120,130,.18);border-radius:5.2px;box-sizing:border-box"></i>
<i style="left:1062px;top:1848px;width:21.2px;height:2px;background:rgba(110,120,130,.18)"></i>
<i style="left:676.8px;top:1872.6px;width:22px;height:3.6px;background:rgba(0,0,0,0.55)"></i>
<i style="left:704.8px;top:1872.6px;width:22.8px;height:3.6px;background:rgba(0,0,0,0.55)"></i>
<i style="left:732.8px;top:1872.6px;width:28.5px;height:3.6px;background:rgba(0,0,0,0.55)"></i>
<i style="left:788px;top:1869.2px;width:37.2px;height:10.4px;border:2.2px solid rgba(110,120,130,.32);border-radius:5.2px;box-sizing:border-box"></i>
<i style="left:794px;top:1873.4px;width:25.2px;height:2px;background:rgba(110,120,130,.32)"></i>
<i style="left:855.6px;top:1869.2px;width:37.2px;height:10.4px;border:2.2px solid rgba(110,120,130,.32);border-radius:5.2px;box-sizing:border-box"></i>
<i style="left:861.6px;top:1873.4px;width:25.2px;height:2px;background:rgba(110,120,130,.32)"></i>
<i style="left:921.2px;top:1869.2px;width:37.2px;height:10.4px;border:2.2px solid rgba(110,120,130,.32);border-radius:5.2px;box-sizing:border-box"></i>
<i style="left:927.2px;top:1873.4px;width:25.2px;height:2px;background:rgba(110,120,130,.32)"></i>
<i style="left:988.4px;top:1869.2px;width:37.2px;height:10.4px;border:2.2px solid rgba(110,120,130,.32);border-radius:5.2px;box-sizing:border-box"></i>
<i style="left:994.4px;top:1873.4px;width:25.2px;height:2px;background:rgba(110,120,130,.32)"></i>
<i style="left:1056px;top:1869.2px;width:37.2px;height:10.4px;border:2.2px solid rgba(110,120,130,.18);border-radius:5.2px;box-sizing:border-box"></i>
<i style="left:1062px;top:1873.4px;width:25.2px;height:2px;background:rgba(110,120,130,.18)"></i>
<i style="left:676.8px;top:1895.2px;width:22px;height:3.6px;background:rgba(0,0,0,0.3)"></i>
<i style="left:704.8px;top:1895.2px;width:19px;height:3.6px;background:rgba(0,0,0,0.3)"></i>
<i style="left:728.8px;top:1895.2px;width:22.8px;height:3.6px;background:rgba(0,0,0,0.3)"></i>
<i style="left:676.8px;top:1902.8px;width:11.4px;height:3.6px;background:rgba(0,0,0,0.5)"></i>
<i style="left:788px;top:1894.6px;width:37.2px;height:10.4px;border:2.2px solid rgba(110,120,130,.32);border-radius:5.2px;box-sizing:border-box"></i>
<i style="left:794px;top:1898.8px;width:25.2px;height:2px;background:rgba(110,120,130,.32)"></i>
<i style="left:855.6px;top:1894.6px;width:37.2px;height:10.4px;border:2.2px solid rgba(110,120,130,.32);border-radius:5.2px;box-sizing:border-box"></i>
<i style="left:861.6px;top:1898.8px;width:25.2px;height:2px;background:rgba(110,120,130,.32)"></i>
<i style="left:921.2px;top:1894.6px;width:37.2px;height:10.4px;border:2.2px solid rgba(110,120,130,.32);border-radius:5.2px;box-sizing:border-box"></i>
<i style="left:927.2px;top:1898.8px;width:25.2px;height:2px;background:rgba(110,120,130,.32)"></i>
<i style="left:988.4px;top:1894.6px;width:37.2px;height:10.4px;border:2.2px solid rgba(110,120,130,.32);border-radius:5.2px;box-sizing:border-box"></i>
<i style="left:994.4px;top:1898.8px;width:25.2px;height:2px;background:rgba(110,120,130,.32)"></i>
<i style="left:1056px;top:1894.6px;width:37.2px;height:10.4px;border:2.2px solid rgba(110,120,130,.18);border-radius:5.2px;box-sizing:border-box"></i>
<i style="left:1062px;top:1898.8px;width:25.2px;height:2px;background:rgba(110,120,130,.18)"></i>
<b style="left:1419.2px;top:1531.6px;font-size:12px;color:#000;font-weight:bold;width:48px;text-align:center;-webkit-text-stroke:.6px #000">Large</b>
<i style="left:1325.2px;top:1578px;width:20px;height:3.2px;background:rgba(0,0,0,.3)"></i>
<i style="left:1392.4px;top:1578px;width:20px;height:3.2px;background:rgba(0,0,0,.3)"></i>
<i style="left:1458px;top:1578px;width:20px;height:3.2px;background:rgba(0,0,0,.3)"></i>
<i style="left:1525.6px;top:1578px;width:20px;height:3.2px;background:rgba(0,0,0,.3)"></i>
<i style="left:1592.8px;top:1578px;width:20px;height:3.2px;background:rgba(0,0,0,.3)"></i>
<i style="left:1202.8px;top:1615.8px;width:22px;height:3.6px;background:rgba(0,0,0,0.4)"></i>
<i style="left:1230.8px;top:1615.8px;width:25.2px;height:3.6px;background:rgba(0,0,0,0.25)"></i>
<i style="left:1202.8px;top:1622.6px;width:20px;height:3.6px;background:rgba(0,0,0,0.22)"></i>
<i style="left:1319.2px;top:1613.6px;width:40.4px;height:13.6px;background:#c4cdd6;border-radius:2px"></i>
<i style="left:1324px;top:1619.2px;width:30.8px;height:2.4px;background:rgba(20,30,40,.35)"></i>
<i style="left:1386.4px;top:1613.6px;width:40.4px;height:13.6px;background:#d0d7de;border-radius:2px"></i>
<i style="left:1391.2px;top:1619.2px;width:30.8px;height:2.4px;background:rgba(20,30,40,.35)"></i>
<i style="left:1452px;top:1613.6px;width:40.4px;height:13.6px;background:#b8c2cc;border-radius:2px"></i>
<i style="left:1456.8px;top:1619.2px;width:30.8px;height:2.4px;background:rgba(20,30,40,.35)"></i>
<i style="left:1519.6px;top:1613.6px;width:40.4px;height:13.6px;background:#c4cdd6;border-radius:2px"></i>
<i style="left:1524.4px;top:1619.2px;width:30.8px;height:2.4px;background:rgba(20,30,40,.35)"></i>
<i style="left:1586.8px;top:1613.6px;width:40.4px;height:13.6px;background:#e6eaee;border-radius:2px"></i>
<i style="left:1591.6px;top:1619.2px;width:30.8px;height:2.4px;background:rgba(20,30,40,.35)"></i>
<i style="left:1202.8px;top:1644px;width:23.2px;height:3.6px;background:rgba(0,0,0,0.55)"></i>
<i style="left:1230.8px;top:1644px;width:24px;height:3.6px;background:rgba(0,0,0,0.55)"></i>
<i style="left:1258.8px;top:1644px;width:30px;height:3.6px;background:rgba(0,0,0,0.55)"></i>
<i style="left:1319.2px;top:1639px;width:48.8px;height:13.6px;background:#c4cdd6;border-radius:2px"></i>
<i style="left:1324px;top:1644.6px;width:39.2px;height:2.4px;background:rgba(20,30,40,.35)"></i>
<i style="left:1386.4px;top:1639px;width:48.8px;height:13.6px;background:#d0d7de;border-radius:2px"></i>
<i style="left:1391.2px;top:1644.6px;width:39.2px;height:2.4px;background:rgba(20,30,40,.35)"></i>
<i style="left:1452px;top:1639px;width:48.8px;height:13.6px;background:#b8c2cc;border-radius:2px"></i>
<i style="left:1456.8px;top:1644.6px;width:39.2px;height:2.4px;background:rgba(20,30,40,.35)"></i>
<i style="left:1519.6px;top:1639px;width:48.8px;height:13.6px;background:#c4cdd6;border-radius:2px"></i>
<i style="left:1524.4px;top:1644.6px;width:39.2px;height:2.4px;background:rgba(20,30,40,.35)"></i>
<i style="left:1586.8px;top:1639px;width:48.8px;height:13.6px;background:#e6eaee;border-radius:2px"></i>
<i style="left:1591.6px;top:1644.6px;width:39.2px;height:2.4px;background:rgba(20,30,40,.35)"></i>
<i style="left:1202.8px;top:1666.6px;width:23.2px;height:3.6px;background:rgba(0,0,0,0.3)"></i>
<i style="left:1230.8px;top:1666.6px;width:20px;height:3.6px;background:rgba(0,0,0,0.3)"></i>
<i style="left:1254.8px;top:1666.6px;width:24px;height:3.6px;background:rgba(0,0,0,0.3)"></i>
<i style="left:1202.8px;top:1674.2px;width:12px;height:3.6px;background:rgba(0,0,0,0.5)"></i>
<i style="left:1319.2px;top:1664.4px;width:48.8px;height:13.6px;background:#c4cdd6;border-radius:2px"></i>
<i style="left:1324px;top:1670px;width:39.2px;height:2.4px;background:rgba(20,30,40,.35)"></i>
<i style="left:1386.4px;top:1664.4px;width:48.8px;height:13.6px;background:#d0d7de;border-radius:2px"></i>
<i style="left:1391.2px;top:1670px;width:39.2px;height:2.4px;background:rgba(20,30,40,.35)"></i>
<i style="left:1452px;top:1664.4px;width:48.8px;height:13.6px;background:#b8c2cc;border-radius:2px"></i>
<i style="left:1456.8px;top:1670px;width:39.2px;height:2.4px;background:rgba(20,30,40,.35)"></i>
<i style="left:1519.6px;top:1664.4px;width:48.8px;height:13.6px;background:#c4cdd6;border-radius:2px"></i>
<i style="left:1524.4px;top:1670px;width:39.2px;height:2.4px;background:rgba(20,30,40,.35)"></i>
<i style="left:1586.8px;top:1664.4px;width:48.8px;height:13.6px;background:#e6eaee;border-radius:2px"></i>
<i style="left:1591.6px;top:1670px;width:39.2px;height:2.4px;background:rgba(20,30,40,.35)"></i>
<i style="left:1202.8px;top:1692px;width:22px;height:3.6px;background:rgba(0,0,0,0.4)"></i>
<i style="left:1230.8px;top:1692px;width:25.2px;height:3.6px;background:rgba(0,0,0,0.25)"></i>
<i style="left:1202.8px;top:1698.8px;width:20px;height:3.6px;background:rgba(0,0,0,0.22)"></i>
<i style="left:1319.2px;top:1689.8px;width:40.4px;height:13.6px;background:#c4cdd6;border-radius:6.8px"></i>
<i style="left:1324px;top:1695.4px;width:30.8px;height:2.4px;background:rgba(20,30,40,.35)"></i>
<i style="left:1386.4px;top:1689.8px;width:40.4px;height:13.6px;background:#d0d7de;border-radius:6.8px"></i>
<i style="left:1391.2px;top:1695.4px;width:30.8px;height:2.4px;background:rgba(20,30,40,.35)"></i>
<i style="left:1452px;top:1689.8px;width:40.4px;height:13.6px;background:#b8c2cc;border-radius:6.8px"></i>
<i style="left:1456.8px;top:1695.4px;width:30.8px;height:2.4px;background:rgba(20,30,40,.35)"></i>
<i style="left:1519.6px;top:1689.8px;width:40.4px;height:13.6px;background:#c4cdd6;border-radius:6.8px"></i>
<i style="left:1524.4px;top:1695.4px;width:30.8px;height:2.4px;background:rgba(20,30,40,.35)"></i>
<i style="left:1586.8px;top:1689.8px;width:40.4px;height:13.6px;background:#e6eaee;border-radius:6.8px"></i>
<i style="left:1591.6px;top:1695.4px;width:30.8px;height:2.4px;background:rgba(20,30,40,.35)"></i>
<i style="left:1202.8px;top:1720.2px;width:23.2px;height:3.6px;background:rgba(0,0,0,0.55)"></i>
<i style="left:1230.8px;top:1720.2px;width:24px;height:3.6px;background:rgba(0,0,0,0.55)"></i>
<i style="left:1258.8px;top:1720.2px;width:30px;height:3.6px;background:rgba(0,0,0,0.55)"></i>
<i style="left:1319.2px;top:1715.2px;width:48.8px;height:13.6px;background:#c4cdd6;border-radius:6.8px"></i>
<i style="left:1324px;top:1720.8px;width:39.2px;height:2.4px;background:rgba(20,30,40,.35)"></i>
<i style="left:1386.4px;top:1715.2px;width:48.8px;height:13.6px;background:#d0d7de;border-radius:6.8px"></i>
<i style="left:1391.2px;top:1720.8px;width:39.2px;height:2.4px;background:rgba(20,30,40,.35)"></i>
<i style="left:1452px;top:1715.2px;width:48.8px;height:13.6px;background:#b8c2cc;border-radius:6.8px"></i>
<i style="left:1456.8px;top:1720.8px;width:39.2px;height:2.4px;background:rgba(20,30,40,.35)"></i>
<i style="left:1519.6px;top:1715.2px;width:48.8px;height:13.6px;background:#c4cdd6;border-radius:6.8px"></i>
<i style="left:1524.4px;top:1720.8px;width:39.2px;height:2.4px;background:rgba(20,30,40,.35)"></i>
<i style="left:1586.8px;top:1715.2px;width:48.8px;height:13.6px;background:#e6eaee;border-radius:6.8px"></i>
<i style="left:1591.6px;top:1720.8px;width:39.2px;height:2.4px;background:rgba(20,30,40,.35)"></i>
<i style="left:1202.8px;top:1742.8px;width:23.2px;height:3.6px;background:rgba(0,0,0,0.3)"></i>
<i style="left:1230.8px;top:1742.8px;width:20px;height:3.6px;background:rgba(0,0,0,0.3)"></i>
<i style="left:1254.8px;top:1742.8px;width:24px;height:3.6px;background:rgba(0,0,0,0.3)"></i>
<i style="left:1202.8px;top:1750.4px;width:12px;height:3.6px;background:rgba(0,0,0,0.5)"></i>
<i style="left:1319.2px;top:1740.6px;width:48.8px;height:13.6px;background:#c4cdd6;border-radius:6.8px"></i>
<i style="left:1324px;top:1746.2px;width:39.2px;height:2.4px;background:rgba(20,30,40,.35)"></i>
<i style="left:1386.4px;top:1740.6px;width:48.8px;height:13.6px;background:#d0d7de;border-radius:6.8px"></i>
<i style="left:1391.2px;top:1746.2px;width:39.2px;height:2.4px;background:rgba(20,30,40,.35)"></i>
<i style="left:1452px;top:1740.6px;width:48.8px;height:13.6px;background:#b8c2cc;border-radius:6.8px"></i>
<i style="left:1456.8px;top:1746.2px;width:39.2px;height:2.4px;background:rgba(20,30,40,.35)"></i>
<i style="left:1519.6px;top:1740.6px;width:48.8px;height:13.6px;background:#c4cdd6;border-radius:6.8px"></i>
<i style="left:1524.4px;top:1746.2px;width:39.2px;height:2.4px;background:rgba(20,30,40,.35)"></i>
<i style="left:1586.8px;top:1740.6px;width:48.8px;height:13.6px;background:#e6eaee;border-radius:6.8px"></i>
<i style="left:1591.6px;top:1746.2px;width:39.2px;height:2.4px;background:rgba(20,30,40,.35)"></i>
<i style="left:1202.8px;top:1768.2px;width:22px;height:3.6px;background:rgba(0,0,0,0.4)"></i>
<i style="left:1230.8px;top:1768.2px;width:25.2px;height:3.6px;background:rgba(0,0,0,0.25)"></i>
<i style="left:1202.8px;top:1775px;width:20px;height:3.6px;background:rgba(0,0,0,0.22)"></i>
<i style="left:1319.2px;top:1766px;width:40.4px;height:13.6px;border:2.8px solid rgba(110,120,130,.32);border-radius:2px;box-sizing:border-box"></i>
<i style="left:1325.2px;top:1771.8px;width:28.4px;height:2px;background:rgba(110,120,130,.32)"></i>
<i style="left:1386.4px;top:1766px;width:40.4px;height:13.6px;border:2.8px solid rgba(110,120,130,.32);border-radius:2px;box-sizing:border-box"></i>
<i style="left:1392.4px;top:1771.8px;width:28.4px;height:2px;background:rgba(110,120,130,.32)"></i>
<i style="left:1452px;top:1766px;width:40.4px;height:13.6px;border:2.8px solid rgba(110,120,130,.32);border-radius:2px;box-sizing:border-box"></i>
<i style="left:1458px;top:1771.8px;width:28.4px;height:2px;background:rgba(110,120,130,.32)"></i>
<i style="left:1519.6px;top:1766px;width:40.4px;height:13.6px;border:2.8px solid rgba(110,120,130,.32);border-radius:2px;box-sizing:border-box"></i>
<i style="left:1525.6px;top:1771.8px;width:28.4px;height:2px;background:rgba(110,120,130,.32)"></i>
<i style="left:1586.8px;top:1766px;width:40.4px;height:13.6px;border:2.8px solid rgba(110,120,130,.18);border-radius:2px;box-sizing:border-box"></i>
<i style="left:1592.8px;top:1771.8px;width:28.4px;height:2px;background:rgba(110,120,130,.18)"></i>
<i style="left:1202.8px;top:1796.4px;width:23.2px;height:3.6px;background:rgba(0,0,0,0.55)"></i>
<i style="left:1230.8px;top:1796.4px;width:24px;height:3.6px;background:rgba(0,0,0,0.55)"></i>
<i style="left:1258.8px;top:1796.4px;width:30px;height:3.6px;background:rgba(0,0,0,0.55)"></i>
<i style="left:1319.2px;top:1791.4px;width:48.8px;height:13.6px;border:2.8px solid rgba(110,120,130,.32);border-radius:2px;box-sizing:border-box"></i>
<i style="left:1325.2px;top:1797.2px;width:36.8px;height:2px;background:rgba(110,120,130,.32)"></i>
<i style="left:1386.4px;top:1791.4px;width:48.8px;height:13.6px;border:2.8px solid rgba(110,120,130,.32);border-radius:2px;box-sizing:border-box"></i>
<i style="left:1392.4px;top:1797.2px;width:36.8px;height:2px;background:rgba(110,120,130,.32)"></i>
<i style="left:1452px;top:1791.4px;width:48.8px;height:13.6px;border:2.8px solid rgba(110,120,130,.32);border-radius:2px;box-sizing:border-box"></i>
<i style="left:1458px;top:1797.2px;width:36.8px;height:2px;background:rgba(110,120,130,.32)"></i>
<i style="left:1519.6px;top:1791.4px;width:48.8px;height:13.6px;border:2.8px solid rgba(110,120,130,.32);border-radius:2px;box-sizing:border-box"></i>
<i style="left:1525.6px;top:1797.2px;width:36.8px;height:2px;background:rgba(110,120,130,.32)"></i>
<i style="left:1586.8px;top:1791.4px;width:48.8px;height:13.6px;border:2.8px solid rgba(110,120,130,.18);border-radius:2px;box-sizing:border-box"></i>
<i style="left:1592.8px;top:1797.2px;width:36.8px;height:2px;background:rgba(110,120,130,.18)"></i>
<i style="left:1202.8px;top:1819px;width:23.2px;height:3.6px;background:rgba(0,0,0,0.3)"></i>
<i style="left:1230.8px;top:1819px;width:20px;height:3.6px;background:rgba(0,0,0,0.3)"></i>
<i style="left:1254.8px;top:1819px;width:24px;height:3.6px;background:rgba(0,0,0,0.3)"></i>
<i style="left:1202.8px;top:1826.6px;width:12px;height:3.6px;background:rgba(0,0,0,0.5)"></i>
<i style="left:1319.2px;top:1816.8px;width:48.8px;height:13.6px;border:2.8px solid rgba(110,120,130,.32);border-radius:2px;box-sizing:border-box"></i>
<i style="left:1325.2px;top:1822.6px;width:36.8px;height:2px;background:rgba(110,120,130,.32)"></i>
<i style="left:1386.4px;top:1816.8px;width:48.8px;height:13.6px;border:2.8px solid rgba(110,120,130,.32);border-radius:2px;box-sizing:border-box"></i>
<i style="left:1392.4px;top:1822.6px;width:36.8px;height:2px;background:rgba(110,120,130,.32)"></i>
<i style="left:1452px;top:1816.8px;width:48.8px;height:13.6px;border:2.8px solid rgba(110,120,130,.32);border-radius:2px;box-sizing:border-box"></i>
<i style="left:1458px;top:1822.6px;width:36.8px;height:2px;background:rgba(110,120,130,.32)"></i>
<i style="left:1519.6px;top:1816.8px;width:48.8px;height:13.6px;border:2.8px solid rgba(110,120,130,.32);border-radius:2px;box-sizing:border-box"></i>
<i style="left:1525.6px;top:1822.6px;width:36.8px;height:2px;background:rgba(110,120,130,.32)"></i>
<i style="left:1586.8px;top:1816.8px;width:48.8px;height:13.6px;border:2.8px solid rgba(110,120,130,.18);border-radius:2px;box-sizing:border-box"></i>
<i style="left:1592.8px;top:1822.6px;width:36.8px;height:2px;background:rgba(110,120,130,.18)"></i>
<i style="left:1202.8px;top:1844.4px;width:22px;height:3.6px;background:rgba(0,0,0,0.4)"></i>
<i style="left:1230.8px;top:1844.4px;width:25.2px;height:3.6px;background:rgba(0,0,0,0.25)"></i>
<i style="left:1202.8px;top:1851.2px;width:20px;height:3.6px;background:rgba(0,0,0,0.22)"></i>
<i style="left:1319.2px;top:1842.2px;width:40.4px;height:13.6px;border:2.8px solid rgba(110,120,130,.32);border-radius:6.8px;box-sizing:border-box"></i>
<i style="left:1325.2px;top:1848px;width:28.4px;height:2px;background:rgba(110,120,130,.32)"></i>
<i style="left:1386.4px;top:1842.2px;width:40.4px;height:13.6px;border:2.8px solid rgba(110,120,130,.32);border-radius:6.8px;box-sizing:border-box"></i>
<i style="left:1392.4px;top:1848px;width:28.4px;height:2px;background:rgba(110,120,130,.32)"></i>
<i style="left:1452px;top:1842.2px;width:40.4px;height:13.6px;border:2.8px solid rgba(110,120,130,.32);border-radius:6.8px;box-sizing:border-box"></i>
<i style="left:1458px;top:1848px;width:28.4px;height:2px;background:rgba(110,120,130,.32)"></i>
<i style="left:1519.6px;top:1842.2px;width:40.4px;height:13.6px;border:2.8px solid rgba(110,120,130,.32);border-radius:6.8px;box-sizing:border-box"></i>
<i style="left:1525.6px;top:1848px;width:28.4px;height:2px;background:rgba(110,120,130,.32)"></i>
<i style="left:1586.8px;top:1842.2px;width:40.4px;height:13.6px;border:2.8px solid rgba(110,120,130,.18);border-radius:6.8px;box-sizing:border-box"></i>
<i style="left:1592.8px;top:1848px;width:28.4px;height:2px;background:rgba(110,120,130,.18)"></i>
<i style="left:1202.8px;top:1872.6px;width:23.2px;height:3.6px;background:rgba(0,0,0,0.55)"></i>
<i style="left:1230.8px;top:1872.6px;width:24px;height:3.6px;background:rgba(0,0,0,0.55)"></i>
<i style="left:1258.8px;top:1872.6px;width:30px;height:3.6px;background:rgba(0,0,0,0.55)"></i>
<i style="left:1319.2px;top:1867.6px;width:48.8px;height:13.6px;border:2.8px solid rgba(110,120,130,.32);border-radius:6.8px;box-sizing:border-box"></i>
<i style="left:1325.2px;top:1873.4px;width:36.8px;height:2px;background:rgba(110,120,130,.32)"></i>
<i style="left:1386.4px;top:1867.6px;width:48.8px;height:13.6px;border:2.8px solid rgba(110,120,130,.32);border-radius:6.8px;box-sizing:border-box"></i>
<i style="left:1392.4px;top:1873.4px;width:36.8px;height:2px;background:rgba(110,120,130,.32)"></i>
<i style="left:1452px;top:1867.6px;width:48.8px;height:13.6px;border:2.8px solid rgba(110,120,130,.32);border-radius:6.8px;box-sizing:border-box"></i>
<i style="left:1458px;top:1873.4px;width:36.8px;height:2px;background:rgba(110,120,130,.32)"></i>
<i style="left:1519.6px;top:1867.6px;width:48.8px;height:13.6px;border:2.8px solid rgba(110,120,130,.32);border-radius:6.8px;box-sizing:border-box"></i>
<i style="left:1525.6px;top:1873.4px;width:36.8px;height:2px;background:rgba(110,120,130,.32)"></i>
<i style="left:1586.8px;top:1867.6px;width:48.8px;height:13.6px;border:2.8px solid rgba(110,120,130,.18);border-radius:6.8px;box-sizing:border-box"></i>
<i style="left:1592.8px;top:1873.4px;width:36.8px;height:2px;background:rgba(110,120,130,.18)"></i>
<i style="left:1202.8px;top:1895.2px;width:23.2px;height:3.6px;background:rgba(0,0,0,0.3)"></i>
<i style="left:1230.8px;top:1895.2px;width:20px;height:3.6px;background:rgba(0,0,0,0.3)"></i>
<i style="left:1254.8px;top:1895.2px;width:24px;height:3.6px;background:rgba(0,0,0,0.3)"></i>
<i style="left:1202.8px;top:1902.8px;width:12px;height:3.6px;background:rgba(0,0,0,0.5)"></i>
<i style="left:1319.2px;top:1893px;width:48.8px;height:13.6px;border:2.8px solid rgba(110,120,130,.32);border-radius:6.8px;box-sizing:border-box"></i>
<i style="left:1325.2px;top:1898.8px;width:36.8px;height:2px;background:rgba(110,120,130,.32)"></i>
<i style="left:1386.4px;top:1893px;width:48.8px;height:13.6px;border:2.8px solid rgba(110,120,130,.32);border-radius:6.8px;box-sizing:border-box"></i>
<i style="left:1392.4px;top:1898.8px;width:36.8px;height:2px;background:rgba(110,120,130,.32)"></i>
<i style="left:1452px;top:1893px;width:48.8px;height:13.6px;border:2.8px solid rgba(110,120,130,.32);border-radius:6.8px;box-sizing:border-box"></i>
<i style="left:1458px;top:1898.8px;width:36.8px;height:2px;background:rgba(110,120,130,.32)"></i>
<i style="left:1519.6px;top:1893px;width:48.8px;height:13.6px;border:2.8px solid rgba(110,120,130,.32);border-radius:6.8px;box-sizing:border-box"></i>
<i style="left:1525.6px;top:1898.8px;width:36.8px;height:2px;background:rgba(110,120,130,.32)"></i>
<i style="left:1586.8px;top:1893px;width:48.8px;height:13.6px;border:2.8px solid rgba(110,120,130,.18);border-radius:6.8px;box-sizing:border-box"></i>
<i style="left:1592.8px;top:1898.8px;width:36.8px;height:2px;background:rgba(110,120,130,.18)"></i>
<b style="left:128px;top:1996px;font-size:16px;color:#000;font-weight:bold;-webkit-text-stroke:.8px #000">Info</b>
<i style="left:128px;top:2016.4px;width:1548px;height:2px;background:rgba(0,0,0,.25)"></i>
<b style="left:356px;top:2068px;font-size:12px;color:#000;font-weight:bold;width:48px;text-align:center;-webkit-text-stroke:.6px #000">Default</b>
<i style="left:128px;top:2088.8px;width:464px;height:2px;background:rgba(0,0,0,.28)"></i>
<i style="left:258px;top:2114.4px;width:20px;height:3.2px;background:rgba(0,0,0,.3)"></i>
<i style="left:325.2px;top:2114.4px;width:20px;height:3.2px;background:rgba(0,0,0,.3)"></i>
<i style="left:391.6px;top:2114.4px;width:20px;height:3.2px;background:rgba(0,0,0,.3)"></i>
<i style="left:458.4px;top:2114.4px;width:20px;height:3.2px;background:rgba(0,0,0,.3)"></i>
<i style="left:525.6px;top:2114.4px;width:20px;height:3.2px;background:rgba(0,0,0,.3)"></i>
<i style="left:140.8px;top:2152.2px;width:22px;height:3.6px;background:rgba(0,0,0,0.4)"></i>
<i style="left:168.8px;top:2152.2px;width:25.2px;height:3.6px;background:rgba(0,0,0,0.25)"></i>
<i style="left:140.8px;top:2159px;width:20px;height:3.6px;background:rgba(0,0,0,0.22)"></i>
<i style="left:252px;top:2150.6px;width:36px;height:12.4px;background:#56636f;border-radius:2px"></i>
<i style="left:256.8px;top:2155.6px;width:26.4px;height:2.4px;background:rgba(255,255,255,.4)"></i>
<i style="left:319.2px;top:2150.6px;width:36px;height:12.4px;background:#6b7782;border-radius:2px"></i>
<i style="left:324px;top:2155.6px;width:26.4px;height:2.4px;background:rgba(255,255,255,.4)"></i>
<i style="left:385.6px;top:2150.6px;width:36px;height:12.4px;background:#45515c;border-radius:2px"></i>
<i style="left:390.4px;top:2155.6px;width:26.4px;height:2.4px;background:rgba(255,255,255,.4)"></i>
<i style="left:452.4px;top:2150.6px;width:36px;height:12.4px;background:#56636f;border-radius:2px"></i>
<i style="left:457.2px;top:2155.6px;width:26.4px;height:2.4px;background:rgba(255,255,255,.4)"></i>
<i style="left:519.6px;top:2150.6px;width:36px;height:12.4px;background:#959da6;border-radius:2px"></i>
<i style="left:524.4px;top:2155.6px;width:26.4px;height:2.4px;background:rgba(255,255,255,.4)"></i>
<i style="left:140.8px;top:2180.4px;width:23.2px;height:3.6px;background:rgba(0,0,0,0.55)"></i>
<i style="left:168.8px;top:2180.4px;width:24px;height:3.6px;background:rgba(0,0,0,0.55)"></i>
<i style="left:196.8px;top:2180.4px;width:30px;height:3.6px;background:rgba(0,0,0,0.55)"></i>
<i style="left:252px;top:2176px;width:45.6px;height:12.4px;background:#56636f;border-radius:2px"></i>
<i style="left:256.8px;top:2181px;width:36px;height:2.4px;background:rgba(255,255,255,.4)"></i>
<i style="left:319.2px;top:2176px;width:45.6px;height:12.4px;background:#6b7782;border-radius:2px"></i>
<i style="left:324px;top:2181px;width:36px;height:2.4px;background:rgba(255,255,255,.4)"></i>
<i style="left:385.6px;top:2176px;width:45.6px;height:12.4px;background:#45515c;border-radius:2px"></i>
<i style="left:390.4px;top:2181px;width:36px;height:2.4px;background:rgba(255,255,255,.4)"></i>
<i style="left:452.4px;top:2176px;width:45.6px;height:12.4px;background:#56636f;border-radius:2px"></i>
<i style="left:457.2px;top:2181px;width:36px;height:2.4px;background:rgba(255,255,255,.4)"></i>
<i style="left:519.6px;top:2176px;width:45.6px;height:12.4px;background:#959da6;border-radius:2px"></i>
<i style="left:524.4px;top:2181px;width:36px;height:2.4px;background:rgba(255,255,255,.4)"></i>
<i style="left:140.8px;top:2203px;width:23.2px;height:3.6px;background:rgba(0,0,0,0.3)"></i>
<i style="left:168.8px;top:2203px;width:20px;height:3.6px;background:rgba(0,0,0,0.3)"></i>
<i style="left:192.8px;top:2203px;width:24px;height:3.6px;background:rgba(0,0,0,0.3)"></i>
<i style="left:140.8px;top:2210.6px;width:12px;height:3.6px;background:rgba(0,0,0,0.5)"></i>
<i style="left:252px;top:2201.4px;width:45.6px;height:12.4px;background:#56636f;border-radius:2px"></i>
<i style="left:256.8px;top:2206.4px;width:36px;height:2.4px;background:rgba(255,255,255,.4)"></i>
<i style="left:319.2px;top:2201.4px;width:45.6px;height:12.4px;background:#6b7782;border-radius:2px"></i>
<i style="left:324px;top:2206.4px;width:36px;height:2.4px;background:rgba(255,255,255,.4)"></i>
<i style="left:385.6px;top:2201.4px;width:45.6px;height:12.4px;background:#45515c;border-radius:2px"></i>
<i style="left:390.4px;top:2206.4px;width:36px;height:2.4px;background:rgba(255,255,255,.4)"></i>
<i style="left:452.4px;top:2201.4px;width:45.6px;height:12.4px;background:#56636f;border-radius:2px"></i>
<i style="left:457.2px;top:2206.4px;width:36px;height:2.4px;background:rgba(255,255,255,.4)"></i>
<i style="left:519.6px;top:2201.4px;width:45.6px;height:12.4px;background:#959da6;border-radius:2px"></i>
<i style="left:524.4px;top:2206.4px;width:36px;height:2.4px;background:rgba(255,255,255,.4)"></i>
<i style="left:140.8px;top:2228.4px;width:22px;height:3.6px;background:rgba(0,0,0,0.4)"></i>
<i style="left:168.8px;top:2228.4px;width:25.2px;height:3.6px;background:rgba(0,0,0,0.25)"></i>
<i style="left:140.8px;top:2235.2px;width:20px;height:3.6px;background:rgba(0,0,0,0.22)"></i>
<i style="left:252px;top:2226.8px;width:36px;height:12.4px;background:#56636f;border-radius:6.2px"></i>
<i style="left:256.8px;top:2231.8px;width:26.4px;height:2.4px;background:rgba(255,255,255,.4)"></i>
<i style="left:319.2px;top:2226.8px;width:36px;height:12.4px;background:#6b7782;border-radius:6.2px"></i>
<i style="left:324px;top:2231.8px;width:26.4px;height:2.4px;background:rgba(255,255,255,.4)"></i>
<i style="left:385.6px;top:2226.8px;width:36px;height:12.4px;background:#45515c;border-radius:6.2px"></i>
<i style="left:390.4px;top:2231.8px;width:26.4px;height:2.4px;background:rgba(255,255,255,.4)"></i>
<i style="left:452.4px;top:2226.8px;width:36px;height:12.4px;background:#56636f;border-radius:6.2px"></i>
<i style="left:457.2px;top:2231.8px;width:26.4px;height:2.4px;background:rgba(255,255,255,.4)"></i>
<i style="left:519.6px;top:2226.8px;width:36px;height:12.4px;background:#959da6;border-radius:6.2px"></i>
<i style="left:524.4px;top:2231.8px;width:26.4px;height:2.4px;background:rgba(255,255,255,.4)"></i>
<i style="left:140.8px;top:2256.6px;width:23.2px;height:3.6px;background:rgba(0,0,0,0.55)"></i>
<i style="left:168.8px;top:2256.6px;width:24px;height:3.6px;background:rgba(0,0,0,0.55)"></i>
<i style="left:196.8px;top:2256.6px;width:30px;height:3.6px;background:rgba(0,0,0,0.55)"></i>
<i style="left:252px;top:2252.2px;width:45.6px;height:12.4px;background:#56636f;border-radius:6.2px"></i>
<i style="left:256.8px;top:2257.2px;width:36px;height:2.4px;background:rgba(255,255,255,.4)"></i>
<i style="left:319.2px;top:2252.2px;width:45.6px;height:12.4px;background:#6b7782;border-radius:6.2px"></i>
<i style="left:324px;top:2257.2px;width:36px;height:2.4px;background:rgba(255,255,255,.4)"></i>
<i style="left:385.6px;top:2252.2px;width:45.6px;height:12.4px;background:#45515c;border-radius:6.2px"></i>
<i style="left:390.4px;top:2257.2px;width:36px;height:2.4px;background:rgba(255,255,255,.4)"></i>
<i style="left:452.4px;top:2252.2px;width:45.6px;height:12.4px;background:#56636f;border-radius:6.2px"></i>
<i style="left:457.2px;top:2257.2px;width:36px;height:2.4px;background:rgba(255,255,255,.4)"></i>
<i style="left:519.6px;top:2252.2px;width:45.6px;height:12.4px;background:#959da6;border-radius:6.2px"></i>
<i style="left:524.4px;top:2257.2px;width:36px;height:2.4px;background:rgba(255,255,255,.4)"></i>
<i style="left:140.8px;top:2279.2px;width:23.2px;height:3.6px;background:rgba(0,0,0,0.3)"></i>
<i style="left:168.8px;top:2279.2px;width:20px;height:3.6px;background:rgba(0,0,0,0.3)"></i>
<i style="left:192.8px;top:2279.2px;width:24px;height:3.6px;background:rgba(0,0,0,0.3)"></i>
<i style="left:140.8px;top:2286.8px;width:12px;height:3.6px;background:rgba(0,0,0,0.5)"></i>
<i style="left:252px;top:2277.6px;width:45.6px;height:12.4px;background:#56636f;border-radius:6.2px"></i>
<i style="left:256.8px;top:2282.6px;width:36px;height:2.4px;background:rgba(255,255,255,.4)"></i>
<i style="left:319.2px;top:2277.6px;width:45.6px;height:12.4px;background:#6b7782;border-radius:6.2px"></i>
<i style="left:324px;top:2282.6px;width:36px;height:2.4px;background:rgba(255,255,255,.4)"></i>
<i style="left:385.6px;top:2277.6px;width:45.6px;height:12.4px;background:#45515c;border-radius:6.2px"></i>
<i style="left:390.4px;top:2282.6px;width:36px;height:2.4px;background:rgba(255,255,255,.4)"></i>
<i style="left:452.4px;top:2277.6px;width:45.6px;height:12.4px;background:#56636f;border-radius:6.2px"></i>
<i style="left:457.2px;top:2282.6px;width:36px;height:2.4px;background:rgba(255,255,255,.4)"></i>
<i style="left:519.6px;top:2277.6px;width:45.6px;height:12.4px;background:#959da6;border-radius:6.2px"></i>
<i style="left:524.4px;top:2282.6px;width:36px;height:2.4px;background:rgba(255,255,255,.4)"></i>
<i style="left:140.8px;top:2304.6px;width:22px;height:3.6px;background:rgba(0,0,0,0.4)"></i>
<i style="left:168.8px;top:2304.6px;width:25.2px;height:3.6px;background:rgba(0,0,0,0.25)"></i>
<i style="left:140.8px;top:2311.4px;width:20px;height:3.6px;background:rgba(0,0,0,0.22)"></i>
<i style="left:252px;top:2303px;width:36px;height:12.4px;border:2.8px solid rgba(79,92,105,.6);border-radius:2px;box-sizing:border-box"></i>
<i style="left:258px;top:2308.2px;width:24px;height:2px;background:rgba(79,92,105,.4)"></i>
<i style="left:319.2px;top:2303px;width:36px;height:12.4px;border:2.8px solid rgba(79,92,105,.6);border-radius:2px;box-sizing:border-box"></i>
<i style="left:325.2px;top:2308.2px;width:24px;height:2px;background:rgba(79,92,105,.4)"></i>
<i style="left:385.6px;top:2303px;width:36px;height:12.4px;border:2.8px solid rgba(79,92,105,.6);border-radius:2px;box-sizing:border-box"></i>
<i style="left:391.6px;top:2308.2px;width:24px;height:2px;background:rgba(79,92,105,.4)"></i>
<i style="left:452.4px;top:2303px;width:36px;height:12.4px;border:2.8px solid rgba(79,92,105,.6);border-radius:2px;box-sizing:border-box"></i>
<i style="left:458.4px;top:2308.2px;width:24px;height:2px;background:rgba(79,92,105,.4)"></i>
<i style="left:519.6px;top:2303px;width:36px;height:12.4px;border:2.8px solid rgba(79,92,105,.28);border-radius:2px;box-sizing:border-box"></i>
<i style="left:525.6px;top:2308.2px;width:24px;height:2px;background:rgba(79,92,105,.18)"></i>
<i style="left:140.8px;top:2332.8px;width:23.2px;height:3.6px;background:rgba(0,0,0,0.55)"></i>
<i style="left:168.8px;top:2332.8px;width:24px;height:3.6px;background:rgba(0,0,0,0.55)"></i>
<i style="left:196.8px;top:2332.8px;width:30px;height:3.6px;background:rgba(0,0,0,0.55)"></i>
<i style="left:252px;top:2328.4px;width:45.6px;height:12.4px;border:2.8px solid rgba(79,92,105,.6);border-radius:2px;box-sizing:border-box"></i>
<i style="left:258px;top:2333.6px;width:33.6px;height:2px;background:rgba(79,92,105,.4)"></i>
<i style="left:319.2px;top:2328.4px;width:45.6px;height:12.4px;border:2.8px solid rgba(79,92,105,.6);border-radius:2px;box-sizing:border-box"></i>
<i style="left:325.2px;top:2333.6px;width:33.6px;height:2px;background:rgba(79,92,105,.4)"></i>
<i style="left:385.6px;top:2328.4px;width:45.6px;height:12.4px;border:2.8px solid rgba(79,92,105,.6);border-radius:2px;box-sizing:border-box"></i>
<i style="left:391.6px;top:2333.6px;width:33.6px;height:2px;background:rgba(79,92,105,.4)"></i>
<i style="left:452.4px;top:2328.4px;width:45.6px;height:12.4px;border:2.8px solid rgba(79,92,105,.6);border-radius:2px;box-sizing:border-box"></i>
<i style="left:458.4px;top:2333.6px;width:33.6px;height:2px;background:rgba(79,92,105,.4)"></i>
<i style="left:519.6px;top:2328.4px;width:45.6px;height:12.4px;border:2.8px solid rgba(79,92,105,.28);border-radius:2px;box-sizing:border-box"></i>
<i style="left:525.6px;top:2333.6px;width:33.6px;height:2px;background:rgba(79,92,105,.18)"></i>
<i style="left:140.8px;top:2355.4px;width:23.2px;height:3.6px;background:rgba(0,0,0,0.3)"></i>
<i style="left:168.8px;top:2355.4px;width:20px;height:3.6px;background:rgba(0,0,0,0.3)"></i>
<i style="left:192.8px;top:2355.4px;width:24px;height:3.6px;background:rgba(0,0,0,0.3)"></i>
<i style="left:140.8px;top:2363px;width:12px;height:3.6px;background:rgba(0,0,0,0.5)"></i>
<i style="left:252px;top:2353.8px;width:45.6px;height:12.4px;border:2.8px solid rgba(79,92,105,.6);border-radius:2px;box-sizing:border-box"></i>
<i style="left:258px;top:2359px;width:33.6px;height:2px;background:rgba(79,92,105,.4)"></i>
<i style="left:319.2px;top:2353.8px;width:45.6px;height:12.4px;border:2.8px solid rgba(79,92,105,.6);border-radius:2px;box-sizing:border-box"></i>
<i style="left:325.2px;top:2359px;width:33.6px;height:2px;background:rgba(79,92,105,.4)"></i>
<i style="left:385.6px;top:2353.8px;width:45.6px;height:12.4px;border:2.8px solid rgba(79,92,105,.6);border-radius:2px;box-sizing:border-box"></i>
<i style="left:391.6px;top:2359px;width:33.6px;height:2px;background:rgba(79,92,105,.4)"></i>
<i style="left:452.4px;top:2353.8px;width:45.6px;height:12.4px;border:2.8px solid rgba(79,92,105,.6);border-radius:2px;box-sizing:border-box"></i>
<i style="left:458.4px;top:2359px;width:33.6px;height:2px;background:rgba(79,92,105,.4)"></i>
<i style="left:519.6px;top:2353.8px;width:45.6px;height:12.4px;border:2.8px solid rgba(79,92,105,.28);border-radius:2px;box-sizing:border-box"></i>
<i style="left:525.6px;top:2359px;width:33.6px;height:2px;background:rgba(79,92,105,.18)"></i>
<i style="left:140.8px;top:2380.8px;width:22px;height:3.6px;background:rgba(0,0,0,0.4)"></i>
<i style="left:168.8px;top:2380.8px;width:25.2px;height:3.6px;background:rgba(0,0,0,0.25)"></i>
<i style="left:140.8px;top:2387.6px;width:20px;height:3.6px;background:rgba(0,0,0,0.22)"></i>
<i style="left:252px;top:2379.2px;width:36px;height:12.4px;border:2.8px solid rgba(79,92,105,.6);border-radius:6.2px;box-sizing:border-box"></i>
<i style="left:258px;top:2384.4px;width:24px;height:2px;background:rgba(79,92,105,.4)"></i>
<i style="left:319.2px;top:2379.2px;width:36px;height:12.4px;border:2.8px solid rgba(79,92,105,.6);border-radius:6.2px;box-sizing:border-box"></i>
<i style="left:325.2px;top:2384.4px;width:24px;height:2px;background:rgba(79,92,105,.4)"></i>
<i style="left:385.6px;top:2379.2px;width:36px;height:12.4px;border:2.8px solid rgba(79,92,105,.6);border-radius:6.2px;box-sizing:border-box"></i>
<i style="left:391.6px;top:2384.4px;width:24px;height:2px;background:rgba(79,92,105,.4)"></i>
<i style="left:452.4px;top:2379.2px;width:36px;height:12.4px;border:2.8px solid rgba(79,92,105,.6);border-radius:6.2px;box-sizing:border-box"></i>
<i style="left:458.4px;top:2384.4px;width:24px;height:2px;background:rgba(79,92,105,.4)"></i>
<i style="left:519.6px;top:2379.2px;width:36px;height:12.4px;border:2.8px solid rgba(79,92,105,.28);border-radius:6.2px;box-sizing:border-box"></i>
<i style="left:525.6px;top:2384.4px;width:24px;height:2px;background:rgba(79,92,105,.18)"></i>
<i style="left:140.8px;top:2409px;width:23.2px;height:3.6px;background:rgba(0,0,0,0.55)"></i>
<i style="left:168.8px;top:2409px;width:24px;height:3.6px;background:rgba(0,0,0,0.55)"></i>
<i style="left:196.8px;top:2409px;width:30px;height:3.6px;background:rgba(0,0,0,0.55)"></i>
<i style="left:252px;top:2404.6px;width:45.6px;height:12.4px;border:2.8px solid rgba(79,92,105,.6);border-radius:6.2px;box-sizing:border-box"></i>
<i style="left:258px;top:2409.8px;width:33.6px;height:2px;background:rgba(79,92,105,.4)"></i>
<i style="left:319.2px;top:2404.6px;width:45.6px;height:12.4px;border:2.8px solid rgba(79,92,105,.6);border-radius:6.2px;box-sizing:border-box"></i>
<i style="left:325.2px;top:2409.8px;width:33.6px;height:2px;background:rgba(79,92,105,.4)"></i>
<i style="left:385.6px;top:2404.6px;width:45.6px;height:12.4px;border:2.8px solid rgba(79,92,105,.6);border-radius:6.2px;box-sizing:border-box"></i>
<i style="left:391.6px;top:2409.8px;width:33.6px;height:2px;background:rgba(79,92,105,.4)"></i>
<i style="left:452.4px;top:2404.6px;width:45.6px;height:12.4px;border:2.8px solid rgba(79,92,105,.6);border-radius:6.2px;box-sizing:border-box"></i>
<i style="left:458.4px;top:2409.8px;width:33.6px;height:2px;background:rgba(79,92,105,.4)"></i>
<i style="left:519.6px;top:2404.6px;width:45.6px;height:12.4px;border:2.8px solid rgba(79,92,105,.28);border-radius:6.2px;box-sizing:border-box"></i>
<i style="left:525.6px;top:2409.8px;width:33.6px;height:2px;background:rgba(79,92,105,.18)"></i>
<i style="left:140.8px;top:2431.6px;width:23.2px;height:3.6px;background:rgba(0,0,0,0.3)"></i>
<i style="left:168.8px;top:2431.6px;width:20px;height:3.6px;background:rgba(0,0,0,0.3)"></i>
<i style="left:192.8px;top:2431.6px;width:24px;height:3.6px;background:rgba(0,0,0,0.3)"></i>
<i style="left:140.8px;top:2439.2px;width:12px;height:3.6px;background:rgba(0,0,0,0.5)"></i>
<i style="left:252px;top:2430px;width:45.6px;height:12.4px;border:2.8px solid rgba(79,92,105,.6);border-radius:6.2px;box-sizing:border-box"></i>
<i style="left:258px;top:2435.2px;width:33.6px;height:2px;background:rgba(79,92,105,.4)"></i>
<i style="left:319.2px;top:2430px;width:45.6px;height:12.4px;border:2.8px solid rgba(79,92,105,.6);border-radius:6.2px;box-sizing:border-box"></i>
<i style="left:325.2px;top:2435.2px;width:33.6px;height:2px;background:rgba(79,92,105,.4)"></i>
<i style="left:385.6px;top:2430px;width:45.6px;height:12.4px;border:2.8px solid rgba(79,92,105,.6);border-radius:6.2px;box-sizing:border-box"></i>
<i style="left:391.6px;top:2435.2px;width:33.6px;height:2px;background:rgba(79,92,105,.4)"></i>
<i style="left:452.4px;top:2430px;width:45.6px;height:12.4px;border:2.8px solid rgba(79,92,105,.6);border-radius:6.2px;box-sizing:border-box"></i>
<i style="left:458.4px;top:2435.2px;width:33.6px;height:2px;background:rgba(79,92,105,.4)"></i>
<i style="left:519.6px;top:2430px;width:45.6px;height:12.4px;border:2.8px solid rgba(79,92,105,.28);border-radius:6.2px;box-sizing:border-box"></i>
<i style="left:525.6px;top:2435.2px;width:33.6px;height:2px;background:rgba(79,92,105,.18)"></i>
<b style="left:890.4px;top:2068px;font-size:12px;color:#000;font-weight:bold;width:48px;text-align:center;-webkit-text-stroke:.6px #000">Small</b>
<i style="left:664px;top:2088.8px;width:463.2px;height:2px;background:rgba(0,0,0,.28)"></i>
<i style="left:794px;top:2114.4px;width:20px;height:3.2px;background:rgba(0,0,0,.3)"></i>
<i style="left:861.6px;top:2114.4px;width:20px;height:3.2px;background:rgba(0,0,0,.3)"></i>
<i style="left:927.2px;top:2114.4px;width:20px;height:3.2px;background:rgba(0,0,0,.3)"></i>
<i style="left:994.4px;top:2114.4px;width:20px;height:3.2px;background:rgba(0,0,0,.3)"></i>
<i style="left:1062px;top:2114.4px;width:20px;height:3.2px;background:rgba(0,0,0,.3)"></i>
<i style="left:676.8px;top:2152.2px;width:20.9px;height:3.6px;background:rgba(0,0,0,0.4)"></i>
<i style="left:704.8px;top:2152.2px;width:23.9px;height:3.6px;background:rgba(0,0,0,0.25)"></i>
<i style="left:676.8px;top:2159px;width:19px;height:3.6px;background:rgba(0,0,0,0.22)"></i>
<i style="left:788px;top:2151.6px;width:33.2px;height:10.4px;background:#56636f;border-radius:2px"></i>
<i style="left:792.8px;top:2155.6px;width:23.6px;height:2.4px;background:rgba(255,255,255,.4)"></i>
<i style="left:855.6px;top:2151.6px;width:33.2px;height:10.4px;background:#6b7782;border-radius:2px"></i>
<i style="left:860.4px;top:2155.6px;width:23.6px;height:2.4px;background:rgba(255,255,255,.4)"></i>
<i style="left:921.2px;top:2151.6px;width:33.2px;height:10.4px;background:#45515c;border-radius:2px"></i>
<i style="left:926px;top:2155.6px;width:23.6px;height:2.4px;background:rgba(255,255,255,.4)"></i>
<i style="left:988.4px;top:2151.6px;width:33.2px;height:10.4px;background:#56636f;border-radius:2px"></i>
<i style="left:993.2px;top:2155.6px;width:23.6px;height:2.4px;background:rgba(255,255,255,.4)"></i>
<i style="left:1056px;top:2151.6px;width:33.2px;height:10.4px;background:#959da6;border-radius:2px"></i>
<i style="left:1060.8px;top:2155.6px;width:23.6px;height:2.4px;background:rgba(255,255,255,.4)"></i>
<i style="left:676.8px;top:2180.4px;width:22px;height:3.6px;background:rgba(0,0,0,0.55)"></i>
<i style="left:704.8px;top:2180.4px;width:22.8px;height:3.6px;background:rgba(0,0,0,0.55)"></i>
<i style="left:732.8px;top:2180.4px;width:28.5px;height:3.6px;background:rgba(0,0,0,0.55)"></i>
<i style="left:788px;top:2177px;width:37.2px;height:10.4px;background:#56636f;border-radius:2px"></i>
<i style="left:792.8px;top:2181px;width:27.6px;height:2.4px;background:rgba(255,255,255,.4)"></i>
<i style="left:855.6px;top:2177px;width:37.2px;height:10.4px;background:#6b7782;border-radius:2px"></i>
<i style="left:860.4px;top:2181px;width:27.6px;height:2.4px;background:rgba(255,255,255,.4)"></i>
<i style="left:921.2px;top:2177px;width:37.2px;height:10.4px;background:#45515c;border-radius:2px"></i>
<i style="left:926px;top:2181px;width:27.6px;height:2.4px;background:rgba(255,255,255,.4)"></i>
<i style="left:988.4px;top:2177px;width:37.2px;height:10.4px;background:#56636f;border-radius:2px"></i>
<i style="left:993.2px;top:2181px;width:27.6px;height:2.4px;background:rgba(255,255,255,.4)"></i>
<i style="left:1056px;top:2177px;width:37.2px;height:10.4px;background:#959da6;border-radius:2px"></i>
<i style="left:1060.8px;top:2181px;width:27.6px;height:2.4px;background:rgba(255,255,255,.4)"></i>
<i style="left:676.8px;top:2203px;width:22px;height:3.6px;background:rgba(0,0,0,0.3)"></i>
<i style="left:704.8px;top:2203px;width:19px;height:3.6px;background:rgba(0,0,0,0.3)"></i>
<i style="left:728.8px;top:2203px;width:22.8px;height:3.6px;background:rgba(0,0,0,0.3)"></i>
<i style="left:676.8px;top:2210.6px;width:11.4px;height:3.6px;background:rgba(0,0,0,0.5)"></i>
<i style="left:788px;top:2202.4px;width:37.2px;height:10.4px;background:#56636f;border-radius:2px"></i>
<i style="left:792.8px;top:2206.4px;width:27.6px;height:2.4px;background:rgba(255,255,255,.4)"></i>
<i style="left:855.6px;top:2202.4px;width:37.2px;height:10.4px;background:#6b7782;border-radius:2px"></i>
<i style="left:860.4px;top:2206.4px;width:27.6px;height:2.4px;background:rgba(255,255,255,.4)"></i>
<i style="left:921.2px;top:2202.4px;width:37.2px;height:10.4px;background:#45515c;border-radius:2px"></i>
<i style="left:926px;top:2206.4px;width:27.6px;height:2.4px;background:rgba(255,255,255,.4)"></i>
<i style="left:988.4px;top:2202.4px;width:37.2px;height:10.4px;background:#56636f;border-radius:2px"></i>
<i style="left:993.2px;top:2206.4px;width:27.6px;height:2.4px;background:rgba(255,255,255,.4)"></i>
<i style="left:1056px;top:2202.4px;width:37.2px;height:10.4px;background:#959da6;border-radius:2px"></i>
<i style="left:1060.8px;top:2206.4px;width:27.6px;height:2.4px;background:rgba(255,255,255,.4)"></i>
<i style="left:676.8px;top:2228.4px;width:20.9px;height:3.6px;background:rgba(0,0,0,0.4)"></i>
<i style="left:704.8px;top:2228.4px;width:23.9px;height:3.6px;background:rgba(0,0,0,0.25)"></i>
<i style="left:676.8px;top:2235.2px;width:19px;height:3.6px;background:rgba(0,0,0,0.22)"></i>
<i style="left:788px;top:2227.8px;width:33.2px;height:10.4px;background:#56636f;border-radius:5.2px"></i>
<i style="left:792.8px;top:2231.8px;width:23.6px;height:2.4px;background:rgba(255,255,255,.4)"></i>
<i style="left:855.6px;top:2227.8px;width:33.2px;height:10.4px;background:#6b7782;border-radius:5.2px"></i>
<i style="left:860.4px;top:2231.8px;width:23.6px;height:2.4px;background:rgba(255,255,255,.4)"></i>
<i style="left:921.2px;top:2227.8px;width:33.2px;height:10.4px;background:#45515c;border-radius:5.2px"></i>
<i style="left:926px;top:2231.8px;width:23.6px;height:2.4px;background:rgba(255,255,255,.4)"></i>
<i style="left:988.4px;top:2227.8px;width:33.2px;height:10.4px;background:#56636f;border-radius:5.2px"></i>
<i style="left:993.2px;top:2231.8px;width:23.6px;height:2.4px;background:rgba(255,255,255,.4)"></i>
<i style="left:1056px;top:2227.8px;width:33.2px;height:10.4px;background:#959da6;border-radius:5.2px"></i>
<i style="left:1060.8px;top:2231.8px;width:23.6px;height:2.4px;background:rgba(255,255,255,.4)"></i>
<i style="left:676.8px;top:2256.6px;width:22px;height:3.6px;background:rgba(0,0,0,0.55)"></i>
<i style="left:704.8px;top:2256.6px;width:22.8px;height:3.6px;background:rgba(0,0,0,0.55)"></i>
<i style="left:732.8px;top:2256.6px;width:28.5px;height:3.6px;background:rgba(0,0,0,0.55)"></i>
<i style="left:788px;top:2253.2px;width:37.2px;height:10.4px;background:#56636f;border-radius:5.2px"></i>
<i style="left:792.8px;top:2257.2px;width:27.6px;height:2.4px;background:rgba(255,255,255,.4)"></i>
<i style="left:855.6px;top:2253.2px;width:37.2px;height:10.4px;background:#6b7782;border-radius:5.2px"></i>
<i style="left:860.4px;top:2257.2px;width:27.6px;height:2.4px;background:rgba(255,255,255,.4)"></i>
<i style="left:921.2px;top:2253.2px;width:37.2px;height:10.4px;background:#45515c;border-radius:5.2px"></i>
<i style="left:926px;top:2257.2px;width:27.6px;height:2.4px;background:rgba(255,255,255,.4)"></i>
<i style="left:988.4px;top:2253.2px;width:37.2px;height:10.4px;background:#56636f;border-radius:5.2px"></i>
<i style="left:993.2px;top:2257.2px;width:27.6px;height:2.4px;background:rgba(255,255,255,.4)"></i>
<i style="left:1056px;top:2253.2px;width:37.2px;height:10.4px;background:#959da6;border-radius:5.2px"></i>
<i style="left:1060.8px;top:2257.2px;width:27.6px;height:2.4px;background:rgba(255,255,255,.4)"></i>
<i style="left:676.8px;top:2279.2px;width:22px;height:3.6px;background:rgba(0,0,0,0.3)"></i>
<i style="left:704.8px;top:2279.2px;width:19px;height:3.6px;background:rgba(0,0,0,0.3)"></i>
<i style="left:728.8px;top:2279.2px;width:22.8px;height:3.6px;background:rgba(0,0,0,0.3)"></i>
<i style="left:676.8px;top:2286.8px;width:11.4px;height:3.6px;background:rgba(0,0,0,0.5)"></i>
<i style="left:788px;top:2278.6px;width:37.2px;height:10.4px;background:#56636f;border-radius:5.2px"></i>
<i style="left:792.8px;top:2282.6px;width:27.6px;height:2.4px;background:rgba(255,255,255,.4)"></i>
<i style="left:855.6px;top:2278.6px;width:37.2px;height:10.4px;background:#6b7782;border-radius:5.2px"></i>
<i style="left:860.4px;top:2282.6px;width:27.6px;height:2.4px;background:rgba(255,255,255,.4)"></i>
<i style="left:921.2px;top:2278.6px;width:37.2px;height:10.4px;background:#45515c;border-radius:5.2px"></i>
<i style="left:926px;top:2282.6px;width:27.6px;height:2.4px;background:rgba(255,255,255,.4)"></i>
<i style="left:988.4px;top:2278.6px;width:37.2px;height:10.4px;background:#56636f;border-radius:5.2px"></i>
<i style="left:993.2px;top:2282.6px;width:27.6px;height:2.4px;background:rgba(255,255,255,.4)"></i>
<i style="left:1056px;top:2278.6px;width:37.2px;height:10.4px;background:#959da6;border-radius:5.2px"></i>
<i style="left:1060.8px;top:2282.6px;width:27.6px;height:2.4px;background:rgba(255,255,255,.4)"></i>
<i style="left:676.8px;top:2304.6px;width:20.9px;height:3.6px;background:rgba(0,0,0,0.4)"></i>
<i style="left:704.8px;top:2304.6px;width:23.9px;height:3.6px;background:rgba(0,0,0,0.25)"></i>
<i style="left:676.8px;top:2311.4px;width:19px;height:3.6px;background:rgba(0,0,0,0.22)"></i>
<i style="left:788px;top:2304px;width:33.2px;height:10.4px;border:2.2px solid rgba(79,92,105,.6);border-radius:2px;box-sizing:border-box"></i>
<i style="left:794px;top:2308.2px;width:21.2px;height:2px;background:rgba(79,92,105,.4)"></i>
<i style="left:855.6px;top:2304px;width:33.2px;height:10.4px;border:2.2px solid rgba(79,92,105,.6);border-radius:2px;box-sizing:border-box"></i>
<i style="left:861.6px;top:2308.2px;width:21.2px;height:2px;background:rgba(79,92,105,.4)"></i>
<i style="left:921.2px;top:2304px;width:33.2px;height:10.4px;border:2.2px solid rgba(79,92,105,.6);border-radius:2px;box-sizing:border-box"></i>
<i style="left:927.2px;top:2308.2px;width:21.2px;height:2px;background:rgba(79,92,105,.4)"></i>
<i style="left:988.4px;top:2304px;width:33.2px;height:10.4px;border:2.2px solid rgba(79,92,105,.6);border-radius:2px;box-sizing:border-box"></i>
<i style="left:994.4px;top:2308.2px;width:21.2px;height:2px;background:rgba(79,92,105,.4)"></i>
<i style="left:1056px;top:2304px;width:33.2px;height:10.4px;border:2.2px solid rgba(79,92,105,.28);border-radius:2px;box-sizing:border-box"></i>
<i style="left:1062px;top:2308.2px;width:21.2px;height:2px;background:rgba(79,92,105,.18)"></i>
<i style="left:676.8px;top:2332.8px;width:22px;height:3.6px;background:rgba(0,0,0,0.55)"></i>
<i style="left:704.8px;top:2332.8px;width:22.8px;height:3.6px;background:rgba(0,0,0,0.55)"></i>
<i style="left:732.8px;top:2332.8px;width:28.5px;height:3.6px;background:rgba(0,0,0,0.55)"></i>
<i style="left:788px;top:2329.4px;width:37.2px;height:10.4px;border:2.2px solid rgba(79,92,105,.6);border-radius:2px;box-sizing:border-box"></i>
<i style="left:794px;top:2333.6px;width:25.2px;height:2px;background:rgba(79,92,105,.4)"></i>
<i style="left:855.6px;top:2329.4px;width:37.2px;height:10.4px;border:2.2px solid rgba(79,92,105,.6);border-radius:2px;box-sizing:border-box"></i>
<i style="left:861.6px;top:2333.6px;width:25.2px;height:2px;background:rgba(79,92,105,.4)"></i>
<i style="left:921.2px;top:2329.4px;width:37.2px;height:10.4px;border:2.2px solid rgba(79,92,105,.6);border-radius:2px;box-sizing:border-box"></i>
<i style="left:927.2px;top:2333.6px;width:25.2px;height:2px;background:rgba(79,92,105,.4)"></i>
<i style="left:988.4px;top:2329.4px;width:37.2px;height:10.4px;border:2.2px solid rgba(79,92,105,.6);border-radius:2px;box-sizing:border-box"></i>
<i style="left:994.4px;top:2333.6px;width:25.2px;height:2px;background:rgba(79,92,105,.4)"></i>
<i style="left:1056px;top:2329.4px;width:37.2px;height:10.4px;border:2.2px solid rgba(79,92,105,.28);border-radius:2px;box-sizing:border-box"></i>
<i style="left:1062px;top:2333.6px;width:25.2px;height:2px;background:rgba(79,92,105,.18)"></i>
<i style="left:676.8px;top:2355.4px;width:22px;height:3.6px;background:rgba(0,0,0,0.3)"></i>
<i style="left:704.8px;top:2355.4px;width:19px;height:3.6px;background:rgba(0,0,0,0.3)"></i>
<i style="left:728.8px;top:2355.4px;width:22.8px;height:3.6px;background:rgba(0,0,0,0.3)"></i>
<i style="left:676.8px;top:2363px;width:11.4px;height:3.6px;background:rgba(0,0,0,0.5)"></i>
<i style="left:788px;top:2354.8px;width:37.2px;height:10.4px;border:2.2px solid rgba(79,92,105,.6);border-radius:2px;box-sizing:border-box"></i>
<i style="left:794px;top:2359px;width:25.2px;height:2px;background:rgba(79,92,105,.4)"></i>
<i style="left:855.6px;top:2354.8px;width:37.2px;height:10.4px;border:2.2px solid rgba(79,92,105,.6);border-radius:2px;box-sizing:border-box"></i>
<i style="left:861.6px;top:2359px;width:25.2px;height:2px;background:rgba(79,92,105,.4)"></i>
<i style="left:921.2px;top:2354.8px;width:37.2px;height:10.4px;border:2.2px solid rgba(79,92,105,.6);border-radius:2px;box-sizing:border-box"></i>
<i style="left:927.2px;top:2359px;width:25.2px;height:2px;background:rgba(79,92,105,.4)"></i>
<i style="left:988.4px;top:2354.8px;width:37.2px;height:10.4px;border:2.2px solid rgba(79,92,105,.6);border-radius:2px;box-sizing:border-box"></i>
<i style="left:994.4px;top:2359px;width:25.2px;height:2px;background:rgba(79,92,105,.4)"></i>
<i style="left:1056px;top:2354.8px;width:37.2px;height:10.4px;border:2.2px solid rgba(79,92,105,.28);border-radius:2px;box-sizing:border-box"></i>
<i style="left:1062px;top:2359px;width:25.2px;height:2px;background:rgba(79,92,105,.18)"></i>
<i style="left:676.8px;top:2380.8px;width:20.9px;height:3.6px;background:rgba(0,0,0,0.4)"></i>
<i style="left:704.8px;top:2380.8px;width:23.9px;height:3.6px;background:rgba(0,0,0,0.25)"></i>
<i style="left:676.8px;top:2387.6px;width:19px;height:3.6px;background:rgba(0,0,0,0.22)"></i>
<i style="left:788px;top:2380.2px;width:33.2px;height:10.4px;border:2.2px solid rgba(79,92,105,.6);border-radius:5.2px;box-sizing:border-box"></i>
<i style="left:794px;top:2384.4px;width:21.2px;height:2px;background:rgba(79,92,105,.4)"></i>
<i style="left:855.6px;top:2380.2px;width:33.2px;height:10.4px;border:2.2px solid rgba(79,92,105,.6);border-radius:5.2px;box-sizing:border-box"></i>
<i style="left:861.6px;top:2384.4px;width:21.2px;height:2px;background:rgba(79,92,105,.4)"></i>
<i style="left:921.2px;top:2380.2px;width:33.2px;height:10.4px;border:2.2px solid rgba(79,92,105,.6);border-radius:5.2px;box-sizing:border-box"></i>
<i style="left:927.2px;top:2384.4px;width:21.2px;height:2px;background:rgba(79,92,105,.4)"></i>
<i style="left:988.4px;top:2380.2px;width:33.2px;height:10.4px;border:2.2px solid rgba(79,92,105,.6);border-radius:5.2px;box-sizing:border-box"></i>
<i style="left:994.4px;top:2384.4px;width:21.2px;height:2px;background:rgba(79,92,105,.4)"></i>
<i style="left:1056px;top:2380.2px;width:33.2px;height:10.4px;border:2.2px solid rgba(79,92,105,.28);border-radius:5.2px;box-sizing:border-box"></i>
<i style="left:1062px;top:2384.4px;width:21.2px;height:2px;background:rgba(79,92,105,.18)"></i>
<i style="left:676.8px;top:2409px;width:22px;height:3.6px;background:rgba(0,0,0,0.55)"></i>
<i style="left:704.8px;top:2409px;width:22.8px;height:3.6px;background:rgba(0,0,0,0.55)"></i>
<i style="left:732.8px;top:2409px;width:28.5px;height:3.6px;background:rgba(0,0,0,0.55)"></i>
<i style="left:788px;top:2405.6px;width:37.2px;height:10.4px;border:2.2px solid rgba(79,92,105,.6);border-radius:5.2px;box-sizing:border-box"></i>
<i style="left:794px;top:2409.8px;width:25.2px;height:2px;background:rgba(79,92,105,.4)"></i>
<i style="left:855.6px;top:2405.6px;width:37.2px;height:10.4px;border:2.2px solid rgba(79,92,105,.6);border-radius:5.2px;box-sizing:border-box"></i>
<i style="left:861.6px;top:2409.8px;width:25.2px;height:2px;background:rgba(79,92,105,.4)"></i>
<i style="left:921.2px;top:2405.6px;width:37.2px;height:10.4px;border:2.2px solid rgba(79,92,105,.6);border-radius:5.2px;box-sizing:border-box"></i>
<i style="left:927.2px;top:2409.8px;width:25.2px;height:2px;background:rgba(79,92,105,.4)"></i>
<i style="left:988.4px;top:2405.6px;width:37.2px;height:10.4px;border:2.2px solid rgba(79,92,105,.6);border-radius:5.2px;box-sizing:border-box"></i>
<i style="left:994.4px;top:2409.8px;width:25.2px;height:2px;background:rgba(79,92,105,.4)"></i>
<i style="left:1056px;top:2405.6px;width:37.2px;height:10.4px;border:2.2px solid rgba(79,92,105,.28);border-radius:5.2px;box-sizing:border-box"></i>
<i style="left:1062px;top:2409.8px;width:25.2px;height:2px;background:rgba(79,92,105,.18)"></i>
<i style="left:676.8px;top:2431.6px;width:22px;height:3.6px;background:rgba(0,0,0,0.3)"></i>
<i style="left:704.8px;top:2431.6px;width:19px;height:3.6px;background:rgba(0,0,0,0.3)"></i>
<i style="left:728.8px;top:2431.6px;width:22.8px;height:3.6px;background:rgba(0,0,0,0.3)"></i>
<i style="left:676.8px;top:2439.2px;width:11.4px;height:3.6px;background:rgba(0,0,0,0.5)"></i>
<i style="left:788px;top:2431px;width:37.2px;height:10.4px;border:2.2px solid rgba(79,92,105,.6);border-radius:5.2px;box-sizing:border-box"></i>
<i style="left:794px;top:2435.2px;width:25.2px;height:2px;background:rgba(79,92,105,.4)"></i>
<i style="left:855.6px;top:2431px;width:37.2px;height:10.4px;border:2.2px solid rgba(79,92,105,.6);border-radius:5.2px;box-sizing:border-box"></i>
<i style="left:861.6px;top:2435.2px;width:25.2px;height:2px;background:rgba(79,92,105,.4)"></i>
<i style="left:921.2px;top:2431px;width:37.2px;height:10.4px;border:2.2px solid rgba(79,92,105,.6);border-radius:5.2px;box-sizing:border-box"></i>
<i style="left:927.2px;top:2435.2px;width:25.2px;height:2px;background:rgba(79,92,105,.4)"></i>
<i style="left:988.4px;top:2431px;width:37.2px;height:10.4px;border:2.2px solid rgba(79,92,105,.6);border-radius:5.2px;box-sizing:border-box"></i>
<i style="left:994.4px;top:2435.2px;width:25.2px;height:2px;background:rgba(79,92,105,.4)"></i>
<i style="left:1056px;top:2431px;width:37.2px;height:10.4px;border:2.2px solid rgba(79,92,105,.28);border-radius:5.2px;box-sizing:border-box"></i>
<i style="left:1062px;top:2435.2px;width:25.2px;height:2px;background:rgba(79,92,105,.18)"></i>
<b style="left:1419.2px;top:2068px;font-size:12px;color:#000;font-weight:bold;width:48px;text-align:center;-webkit-text-stroke:.6px #000">Large</b>
<i style="left:1192px;top:2088.8px;width:460px;height:2px;background:rgba(0,0,0,.28)"></i>
<i style="left:1325.2px;top:2114.4px;width:20px;height:3.2px;background:rgba(0,0,0,.3)"></i>
<i style="left:1392.4px;top:2114.4px;width:20px;height:3.2px;background:rgba(0,0,0,.3)"></i>
<i style="left:1458px;top:2114.4px;width:20px;height:3.2px;background:rgba(0,0,0,.3)"></i>
<i style="left:1525.6px;top:2114.4px;width:20px;height:3.2px;background:rgba(0,0,0,.3)"></i>
<i style="left:1592.8px;top:2114.4px;width:20px;height:3.2px;background:rgba(0,0,0,.3)"></i>
<i style="left:1202.8px;top:2152.2px;width:22px;height:3.6px;background:rgba(0,0,0,0.4)"></i>
<i style="left:1230.8px;top:2152.2px;width:25.2px;height:3.6px;background:rgba(0,0,0,0.25)"></i>
<i style="left:1202.8px;top:2159px;width:20px;height:3.6px;background:rgba(0,0,0,0.22)"></i>
<i style="left:1319.2px;top:2150px;width:40.4px;height:13.6px;background:#56636f;border-radius:2px"></i>
<i style="left:1324px;top:2155.6px;width:30.8px;height:2.4px;background:rgba(255,255,255,.4)"></i>
<i style="left:1386.4px;top:2150px;width:40.4px;height:13.6px;background:#6b7782;border-radius:2px"></i>
<i style="left:1391.2px;top:2155.6px;width:30.8px;height:2.4px;background:rgba(255,255,255,.4)"></i>
<i style="left:1452px;top:2150px;width:40.4px;height:13.6px;background:#45515c;border-radius:2px"></i>
<i style="left:1456.8px;top:2155.6px;width:30.8px;height:2.4px;background:rgba(255,255,255,.4)"></i>
<i style="left:1519.6px;top:2150px;width:40.4px;height:13.6px;background:#56636f;border-radius:2px"></i>
<i style="left:1524.4px;top:2155.6px;width:30.8px;height:2.4px;background:rgba(255,255,255,.4)"></i>
<i style="left:1586.8px;top:2150px;width:40.4px;height:13.6px;background:#959da6;border-radius:2px"></i>
<i style="left:1591.6px;top:2155.6px;width:30.8px;height:2.4px;background:rgba(255,255,255,.4)"></i>
<i style="left:1202.8px;top:2180.4px;width:23.2px;height:3.6px;background:rgba(0,0,0,0.55)"></i>
<i style="left:1230.8px;top:2180.4px;width:24px;height:3.6px;background:rgba(0,0,0,0.55)"></i>
<i style="left:1258.8px;top:2180.4px;width:30px;height:3.6px;background:rgba(0,0,0,0.55)"></i>
<i style="left:1319.2px;top:2175.4px;width:48.8px;height:13.6px;background:#56636f;border-radius:2px"></i>
<i style="left:1324px;top:2181px;width:39.2px;height:2.4px;background:rgba(255,255,255,.4)"></i>
<i style="left:1386.4px;top:2175.4px;width:48.8px;height:13.6px;background:#6b7782;border-radius:2px"></i>
<i style="left:1391.2px;top:2181px;width:39.2px;height:2.4px;background:rgba(255,255,255,.4)"></i>
<i style="left:1452px;top:2175.4px;width:48.8px;height:13.6px;background:#45515c;border-radius:2px"></i>
<i style="left:1456.8px;top:2181px;width:39.2px;height:2.4px;background:rgba(255,255,255,.4)"></i>
<i style="left:1519.6px;top:2175.4px;width:48.8px;height:13.6px;background:#56636f;border-radius:2px"></i>
<i style="left:1524.4px;top:2181px;width:39.2px;height:2.4px;background:rgba(255,255,255,.4)"></i>
<i style="left:1586.8px;top:2175.4px;width:48.8px;height:13.6px;background:#959da6;border-radius:2px"></i>
<i style="left:1591.6px;top:2181px;width:39.2px;height:2.4px;background:rgba(255,255,255,.4)"></i>
<i style="left:1202.8px;top:2203px;width:23.2px;height:3.6px;background:rgba(0,0,0,0.3)"></i>
<i style="left:1230.8px;top:2203px;width:20px;height:3.6px;background:rgba(0,0,0,0.3)"></i>
<i style="left:1254.8px;top:2203px;width:24px;height:3.6px;background:rgba(0,0,0,0.3)"></i>
<i style="left:1202.8px;top:2210.6px;width:12px;height:3.6px;background:rgba(0,0,0,0.5)"></i>
<i style="left:1319.2px;top:2200.8px;width:48.8px;height:13.6px;background:#56636f;border-radius:2px"></i>
<i style="left:1324px;top:2206.4px;width:39.2px;height:2.4px;background:rgba(255,255,255,.4)"></i>
<i style="left:1386.4px;top:2200.8px;width:48.8px;height:13.6px;background:#6b7782;border-radius:2px"></i>
<i style="left:1391.2px;top:2206.4px;width:39.2px;height:2.4px;background:rgba(255,255,255,.4)"></i>
<i style="left:1452px;top:2200.8px;width:48.8px;height:13.6px;background:#45515c;border-radius:2px"></i>
<i style="left:1456.8px;top:2206.4px;width:39.2px;height:2.4px;background:rgba(255,255,255,.4)"></i>
<i style="left:1519.6px;top:2200.8px;width:48.8px;height:13.6px;background:#56636f;border-radius:2px"></i>
<i style="left:1524.4px;top:2206.4px;width:39.2px;height:2.4px;background:rgba(255,255,255,.4)"></i>
<i style="left:1586.8px;top:2200.8px;width:48.8px;height:13.6px;background:#959da6;border-radius:2px"></i>
<i style="left:1591.6px;top:2206.4px;width:39.2px;height:2.4px;background:rgba(255,255,255,.4)"></i>
<i style="left:1202.8px;top:2228.4px;width:22px;height:3.6px;background:rgba(0,0,0,0.4)"></i>
<i style="left:1230.8px;top:2228.4px;width:25.2px;height:3.6px;background:rgba(0,0,0,0.25)"></i>
<i style="left:1202.8px;top:2235.2px;width:20px;height:3.6px;background:rgba(0,0,0,0.22)"></i>
<i style="left:1319.2px;top:2226.2px;width:40.4px;height:13.6px;background:#56636f;border-radius:6.8px"></i>
<i style="left:1324px;top:2231.8px;width:30.8px;height:2.4px;background:rgba(255,255,255,.4)"></i>
<i style="left:1386.4px;top:2226.2px;width:40.4px;height:13.6px;background:#6b7782;border-radius:6.8px"></i>
<i style="left:1391.2px;top:2231.8px;width:30.8px;height:2.4px;background:rgba(255,255,255,.4)"></i>
<i style="left:1452px;top:2226.2px;width:40.4px;height:13.6px;background:#45515c;border-radius:6.8px"></i>
<i style="left:1456.8px;top:2231.8px;width:30.8px;height:2.4px;background:rgba(255,255,255,.4)"></i>
<i style="left:1519.6px;top:2226.2px;width:40.4px;height:13.6px;background:#56636f;border-radius:6.8px"></i>
<i style="left:1524.4px;top:2231.8px;width:30.8px;height:2.4px;background:rgba(255,255,255,.4)"></i>
<i style="left:1586.8px;top:2226.2px;width:40.4px;height:13.6px;background:#959da6;border-radius:6.8px"></i>
<i style="left:1591.6px;top:2231.8px;width:30.8px;height:2.4px;background:rgba(255,255,255,.4)"></i>
<i style="left:1202.8px;top:2256.6px;width:23.2px;height:3.6px;background:rgba(0,0,0,0.55)"></i>
<i style="left:1230.8px;top:2256.6px;width:24px;height:3.6px;background:rgba(0,0,0,0.55)"></i>
<i style="left:1258.8px;top:2256.6px;width:30px;height:3.6px;background:rgba(0,0,0,0.55)"></i>
<i style="left:1319.2px;top:2251.6px;width:48.8px;height:13.6px;background:#56636f;border-radius:6.8px"></i>
<i style="left:1324px;top:2257.2px;width:39.2px;height:2.4px;background:rgba(255,255,255,.4)"></i>
<i style="left:1386.4px;top:2251.6px;width:48.8px;height:13.6px;background:#6b7782;border-radius:6.8px"></i>
<i style="left:1391.2px;top:2257.2px;width:39.2px;height:2.4px;background:rgba(255,255,255,.4)"></i>
<i style="left:1452px;top:2251.6px;width:48.8px;height:13.6px;background:#45515c;border-radius:6.8px"></i>
<i style="left:1456.8px;top:2257.2px;width:39.2px;height:2.4px;background:rgba(255,255,255,.4)"></i>
<i style="left:1519.6px;top:2251.6px;width:48.8px;height:13.6px;background:#56636f;border-radius:6.8px"></i>
<i style="left:1524.4px;top:2257.2px;width:39.2px;height:2.4px;background:rgba(255,255,255,.4)"></i>
<i style="left:1586.8px;top:2251.6px;width:48.8px;height:13.6px;background:#959da6;border-radius:6.8px"></i>
<i style="left:1591.6px;top:2257.2px;width:39.2px;height:2.4px;background:rgba(255,255,255,.4)"></i>
<i style="left:1202.8px;top:2279.2px;width:23.2px;height:3.6px;background:rgba(0,0,0,0.3)"></i>
<i style="left:1230.8px;top:2279.2px;width:20px;height:3.6px;background:rgba(0,0,0,0.3)"></i>
<i style="left:1254.8px;top:2279.2px;width:24px;height:3.6px;background:rgba(0,0,0,0.3)"></i>
<i style="left:1202.8px;top:2286.8px;width:12px;height:3.6px;background:rgba(0,0,0,0.5)"></i>
<i style="left:1319.2px;top:2277px;width:48.8px;height:13.6px;background:#56636f;border-radius:6.8px"></i>
<i style="left:1324px;top:2282.6px;width:39.2px;height:2.4px;background:rgba(255,255,255,.4)"></i>
<i style="left:1386.4px;top:2277px;width:48.8px;height:13.6px;background:#6b7782;border-radius:6.8px"></i>
<i style="left:1391.2px;top:2282.6px;width:39.2px;height:2.4px;background:rgba(255,255,255,.4)"></i>
<i style="left:1452px;top:2277px;width:48.8px;height:13.6px;background:#45515c;border-radius:6.8px"></i>
<i style="left:1456.8px;top:2282.6px;width:39.2px;height:2.4px;background:rgba(255,255,255,.4)"></i>
<i style="left:1519.6px;top:2277px;width:48.8px;height:13.6px;background:#56636f;border-radius:6.8px"></i>
<i style="left:1524.4px;top:2282.6px;width:39.2px;height:2.4px;background:rgba(255,255,255,.4)"></i>
<i style="left:1586.8px;top:2277px;width:48.8px;height:13.6px;background:#959da6;border-radius:6.8px"></i>
<i style="left:1591.6px;top:2282.6px;width:39.2px;height:2.4px;background:rgba(255,255,255,.4)"></i>
<i style="left:1202.8px;top:2304.6px;width:22px;height:3.6px;background:rgba(0,0,0,0.4)"></i>
<i style="left:1230.8px;top:2304.6px;width:25.2px;height:3.6px;background:rgba(0,0,0,0.25)"></i>
<i style="left:1202.8px;top:2311.4px;width:20px;height:3.6px;background:rgba(0,0,0,0.22)"></i>
<i style="left:1319.2px;top:2302.4px;width:40.4px;height:13.6px;border:2.8px solid rgba(79,92,105,.6);border-radius:2px;box-sizing:border-box"></i>
<i style="left:1325.2px;top:2308.2px;width:28.4px;height:2px;background:rgba(79,92,105,.4)"></i>
<i style="left:1386.4px;top:2302.4px;width:40.4px;height:13.6px;border:2.8px solid rgba(79,92,105,.6);border-radius:2px;box-sizing:border-box"></i>
<i style="left:1392.4px;top:2308.2px;width:28.4px;height:2px;background:rgba(79,92,105,.4)"></i>
<i style="left:1452px;top:2302.4px;width:40.4px;height:13.6px;border:2.8px solid rgba(79,92,105,.6);border-radius:2px;box-sizing:border-box"></i>
<i style="left:1458px;top:2308.2px;width:28.4px;height:2px;background:rgba(79,92,105,.4)"></i>
<i style="left:1519.6px;top:2302.4px;width:40.4px;height:13.6px;border:2.8px solid rgba(79,92,105,.6);border-radius:2px;box-sizing:border-box"></i>
<i style="left:1525.6px;top:2308.2px;width:28.4px;height:2px;background:rgba(79,92,105,.4)"></i>
<i style="left:1586.8px;top:2302.4px;width:40.4px;height:13.6px;border:2.8px solid rgba(79,92,105,.28);border-radius:2px;box-sizing:border-box"></i>
<i style="left:1592.8px;top:2308.2px;width:28.4px;height:2px;background:rgba(79,92,105,.18)"></i>
<i style="left:1202.8px;top:2332.8px;width:23.2px;height:3.6px;background:rgba(0,0,0,0.55)"></i>
<i style="left:1230.8px;top:2332.8px;width:24px;height:3.6px;background:rgba(0,0,0,0.55)"></i>
<i style="left:1258.8px;top:2332.8px;width:30px;height:3.6px;background:rgba(0,0,0,0.55)"></i>
<i style="left:1319.2px;top:2327.8px;width:48.8px;height:13.6px;border:2.8px solid rgba(79,92,105,.6);border-radius:2px;box-sizing:border-box"></i>
<i style="left:1325.2px;top:2333.6px;width:36.8px;height:2px;background:rgba(79,92,105,.4)"></i>
<i style="left:1386.4px;top:2327.8px;width:48.8px;height:13.6px;border:2.8px solid rgba(79,92,105,.6);border-radius:2px;box-sizing:border-box"></i>
<i style="left:1392.4px;top:2333.6px;width:36.8px;height:2px;background:rgba(79,92,105,.4)"></i>
<i style="left:1452px;top:2327.8px;width:48.8px;height:13.6px;border:2.8px solid rgba(79,92,105,.6);border-radius:2px;box-sizing:border-box"></i>
<i style="left:1458px;top:2333.6px;width:36.8px;height:2px;background:rgba(79,92,105,.4)"></i>
<i style="left:1519.6px;top:2327.8px;width:48.8px;height:13.6px;border:2.8px solid rgba(79,92,105,.6);border-radius:2px;box-sizing:border-box"></i>
<i style="left:1525.6px;top:2333.6px;width:36.8px;height:2px;background:rgba(79,92,105,.4)"></i>
<i style="left:1586.8px;top:2327.8px;width:48.8px;height:13.6px;border:2.8px solid rgba(79,92,105,.28);border-radius:2px;box-sizing:border-box"></i>
<i style="left:1592.8px;top:2333.6px;width:36.8px;height:2px;background:rgba(79,92,105,.18)"></i>
<i style="left:1202.8px;top:2355.4px;width:23.2px;height:3.6px;background:rgba(0,0,0,0.3)"></i>
<i style="left:1230.8px;top:2355.4px;width:20px;height:3.6px;background:rgba(0,0,0,0.3)"></i>
<i style="left:1254.8px;top:2355.4px;width:24px;height:3.6px;background:rgba(0,0,0,0.3)"></i>
<i style="left:1202.8px;top:2363px;width:12px;height:3.6px;background:rgba(0,0,0,0.5)"></i>
<i style="left:1319.2px;top:2353.2px;width:48.8px;height:13.6px;border:2.8px solid rgba(79,92,105,.6);border-radius:2px;box-sizing:border-box"></i>
<i style="left:1325.2px;top:2359px;width:36.8px;height:2px;background:rgba(79,92,105,.4)"></i>
<i style="left:1386.4px;top:2353.2px;width:48.8px;height:13.6px;border:2.8px solid rgba(79,92,105,.6);border-radius:2px;box-sizing:border-box"></i>
<i style="left:1392.4px;top:2359px;width:36.8px;height:2px;background:rgba(79,92,105,.4)"></i>
<i style="left:1452px;top:2353.2px;width:48.8px;height:13.6px;border:2.8px solid rgba(79,92,105,.6);border-radius:2px;box-sizing:border-box"></i>
<i style="left:1458px;top:2359px;width:36.8px;height:2px;background:rgba(79,92,105,.4)"></i>
<i style="left:1519.6px;top:2353.2px;width:48.8px;height:13.6px;border:2.8px solid rgba(79,92,105,.6);border-radius:2px;box-sizing:border-box"></i>
<i style="left:1525.6px;top:2359px;width:36.8px;height:2px;background:rgba(79,92,105,.4)"></i>
<i style="left:1586.8px;top:2353.2px;width:48.8px;height:13.6px;border:2.8px solid rgba(79,92,105,.28);border-radius:2px;box-sizing:border-box"></i>
<i style="left:1592.8px;top:2359px;width:36.8px;height:2px;background:rgba(79,92,105,.18)"></i>
<i style="left:1202.8px;top:2380.8px;width:22px;height:3.6px;background:rgba(0,0,0,0.4)"></i>
<i style="left:1230.8px;top:2380.8px;width:25.2px;height:3.6px;background:rgba(0,0,0,0.25)"></i>
<i style="left:1202.8px;top:2387.6px;width:20px;height:3.6px;background:rgba(0,0,0,0.22)"></i>
<i style="left:1319.2px;top:2378.6px;width:40.4px;height:13.6px;border:2.8px solid rgba(79,92,105,.6);border-radius:6.8px;box-sizing:border-box"></i>
<i style="left:1325.2px;top:2384.4px;width:28.4px;height:2px;background:rgba(79,92,105,.4)"></i>
<i style="left:1386.4px;top:2378.6px;width:40.4px;height:13.6px;border:2.8px solid rgba(79,92,105,.6);border-radius:6.8px;box-sizing:border-box"></i>
<i style="left:1392.4px;top:2384.4px;width:28.4px;height:2px;background:rgba(79,92,105,.4)"></i>
<i style="left:1452px;top:2378.6px;width:40.4px;height:13.6px;border:2.8px solid rgba(79,92,105,.6);border-radius:6.8px;box-sizing:border-box"></i>
<i style="left:1458px;top:2384.4px;width:28.4px;height:2px;background:rgba(79,92,105,.4)"></i>
<i style="left:1519.6px;top:2378.6px;width:40.4px;height:13.6px;border:2.8px solid rgba(79,92,105,.6);border-radius:6.8px;box-sizing:border-box"></i>
<i style="left:1525.6px;top:2384.4px;width:28.4px;height:2px;background:rgba(79,92,105,.4)"></i>
<i style="left:1586.8px;top:2378.6px;width:40.4px;height:13.6px;border:2.8px solid rgba(79,92,105,.28);border-radius:6.8px;box-sizing:border-box"></i>
<i style="left:1592.8px;top:2384.4px;width:28.4px;height:2px;background:rgba(79,92,105,.18)"></i>
<i style="left:1202.8px;top:2409px;width:23.2px;height:3.6px;background:rgba(0,0,0,0.55)"></i>
<i style="left:1230.8px;top:2409px;width:24px;height:3.6px;background:rgba(0,0,0,0.55)"></i>
<i style="left:1258.8px;top:2409px;width:30px;height:3.6px;background:rgba(0,0,0,0.55)"></i>
<i style="left:1319.2px;top:2404px;width:48.8px;height:13.6px;border:2.8px solid rgba(79,92,105,.6);border-radius:6.8px;box-sizing:border-box"></i>
<i style="left:1325.2px;top:2409.8px;width:36.8px;height:2px;background:rgba(79,92,105,.4)"></i>
<i style="left:1386.4px;top:2404px;width:48.8px;height:13.6px;border:2.8px solid rgba(79,92,105,.6);border-radius:6.8px;box-sizing:border-box"></i>
<i style="left:1392.4px;top:2409.8px;width:36.8px;height:2px;background:rgba(79,92,105,.4)"></i>
<i style="left:1452px;top:2404px;width:48.8px;height:13.6px;border:2.8px solid rgba(79,92,105,.6);border-radius:6.8px;box-sizing:border-box"></i>
<i style="left:1458px;top:2409.8px;width:36.8px;height:2px;background:rgba(79,92,105,.4)"></i>
<i style="left:1519.6px;top:2404px;width:48.8px;height:13.6px;border:2.8px solid rgba(79,92,105,.6);border-radius:6.8px;box-sizing:border-box"></i>
<i style="left:1525.6px;top:2409.8px;width:36.8px;height:2px;background:rgba(79,92,105,.4)"></i>
<i style="left:1586.8px;top:2404px;width:48.8px;height:13.6px;border:2.8px solid rgba(79,92,105,.28);border-radius:6.8px;box-sizing:border-box"></i>
<i style="left:1592.8px;top:2409.8px;width:36.8px;height:2px;background:rgba(79,92,105,.18)"></i>
<i style="left:1202.8px;top:2431.6px;width:23.2px;height:3.6px;background:rgba(0,0,0,0.3)"></i>
<i style="left:1230.8px;top:2431.6px;width:20px;height:3.6px;background:rgba(0,0,0,0.3)"></i>
<i style="left:1254.8px;top:2431.6px;width:24px;height:3.6px;background:rgba(0,0,0,0.3)"></i>
<i style="left:1202.8px;top:2439.2px;width:12px;height:3.6px;background:rgba(0,0,0,0.5)"></i>
<i style="left:1319.2px;top:2429.4px;width:48.8px;height:13.6px;border:2.8px solid rgba(79,92,105,.6);border-radius:6.8px;box-sizing:border-box"></i>
<i style="left:1325.2px;top:2435.2px;width:36.8px;height:2px;background:rgba(79,92,105,.4)"></i>
<i style="left:1386.4px;top:2429.4px;width:48.8px;height:13.6px;border:2.8px solid rgba(79,92,105,.6);border-radius:6.8px;box-sizing:border-box"></i>
<i style="left:1392.4px;top:2435.2px;width:36.8px;height:2px;background:rgba(79,92,105,.4)"></i>
<i style="left:1452px;top:2429.4px;width:48.8px;height:13.6px;border:2.8px solid rgba(79,92,105,.6);border-radius:6.8px;box-sizing:border-box"></i>
<i style="left:1458px;top:2435.2px;width:36.8px;height:2px;background:rgba(79,92,105,.4)"></i>
<i style="left:1519.6px;top:2429.4px;width:48.8px;height:13.6px;border:2.8px solid rgba(79,92,105,.6);border-radius:6.8px;box-sizing:border-box"></i>
<i style="left:1525.6px;top:2435.2px;width:36.8px;height:2px;background:rgba(79,92,105,.4)"></i>
<i style="left:1586.8px;top:2429.4px;width:48.8px;height:13.6px;border:2.8px solid rgba(79,92,105,.28);border-radius:6.8px;box-sizing:border-box"></i>
<i style="left:1592.8px;top:2435.2px;width:36.8px;height:2px;background:rgba(79,92,105,.18)"></i>
<i style="left:237.6px;top:1040.4px;width:1404.8px;height:1452.8px;border:2.4px dashed rgba(140,90,255,.22);box-sizing:border-box"></i>
<i style="left:1836px;top:128px;width:1292px;height:2162.8px;background:#fff"></i>
<i style="left:1836px;top:128px;width:1292px;height:52px;background:#b2bbc4"></i>
<b style="left:1844px;top:139.2px;font-size:13.2px;color:#000;font-weight:bold;-webkit-text-stroke:.9px #000">Components - Basics</b>
<b style="left:1844px;top:158.4px;font-size:10px;color:#000;font-weight:bold;-webkit-text-stroke:.5px #000">02 - Input / Textarea / Datalist</b>
<i style="left:1852px;top:211.4px;width:10px;height:3.6px;background:rgba(0,0,0,.75)"></i>
<i style="left:2148px;top:211.4px;width:22px;height:3.6px;background:rgba(0,0,0,.75)"></i>
<i style="left:2516.8px;top:211.4px;width:22px;height:3.6px;background:rgba(0,0,0,.75)"></i>
<i style="left:1849.2px;top:240.4px;width:85.6px;height:13.6px;background:#fff;border:1.6px solid rgba(0,0,0,.08);border-radius:1.2px;box-sizing:border-box"></i>
<i style="left:1854px;top:245px;width:16.4px;height:3px;background:rgba(0,0,0,0.3)"></i>
<i style="left:1874px;top:245px;width:4px;height:3px;background:rgba(0,0,0,0.3)"></i>
<i style="left:1849.2px;top:290px;width:85.6px;height:14.8px;background:#fff;border:1.6px solid rgba(0,0,0,.08);border-radius:1.2px;box-sizing:border-box"></i>
<i style="left:1854px;top:295.2px;width:19.6px;height:3px;background:rgba(0,0,0,0.3)"></i>
<i style="left:1849.2px;top:344px;width:85.6px;height:16px;background:#fff;border:1.6px solid rgba(0,0,0,.08);border-radius:1.2px;box-sizing:border-box"></i>
<i style="left:1854px;top:349.7px;width:14.3px;height:3px;background:rgba(0,0,0,0.3)"></i>
<i style="left:1871.9px;top:349.7px;width:6.1px;height:3px;background:rgba(0,0,0,0.3)"></i>
<i style="left:1972px;top:232px;width:19px;height:4px;background:rgba(0,0,0,.55)"></i>
<i style="left:1994.6px;top:232px;width:1.4px;height:4px;background:rgba(0,0,0,.55)"></i>
<i style="left:1976.8px;top:240.6px;width:2.8px;height:2.8px;background:rgba(0,0,0,.4)"></i>
<i style="left:1983.6px;top:240px;width:17px;height:4px;background:rgba(0,0,0,.4)"></i>
<i style="left:2004.2px;top:240px;width:15.4px;height:4px;background:rgba(0,0,0,.4)"></i>
<i style="left:1976.8px;top:248.6px;width:2.8px;height:2.8px;background:rgba(0,0,0,.4)"></i>
<i style="left:1983.6px;top:248px;width:18.8px;height:4px;background:rgba(0,0,0,.4)"></i>
<i style="left:2006px;top:248px;width:18.3px;height:4px;background:rgba(0,0,0,.4)"></i>
<i style="left:2027.9px;top:248px;width:11.7px;height:4px;background:rgba(0,0,0,.4)"></i>
<i style="left:1976.8px;top:256.6px;width:2.8px;height:2.8px;background:rgba(0,0,0,.4)"></i>
<i style="left:1983.6px;top:256px;width:9.8px;height:4px;background:rgba(0,0,0,.4)"></i>
<i style="left:1997px;top:256px;width:18.9px;height:4px;background:rgba(0,0,0,.4)"></i>
<i style="left:2019.5px;top:256px;width:12.1px;height:4px;background:rgba(0,0,0,.4)"></i>
<i style="left:1976.8px;top:264.6px;width:2.8px;height:2.8px;background:rgba(0,0,0,.4)"></i>
<i style="left:1983.6px;top:264px;width:19.1px;height:4px;background:rgba(0,0,0,.4)"></i>
<i style="left:2006.3px;top:264px;width:21.6px;height:4px;background:rgba(0,0,0,.4)"></i>
<i style="left:2031.4px;top:264px;width:13.1px;height:4px;background:rgba(0,0,0,.4)"></i>
<i style="left:2048.1px;top:264px;width:7.5px;height:4px;background:rgba(0,0,0,.4)"></i>
<i style="left:1972px;top:284px;width:21.2px;height:4px;background:rgba(0,0,0,.55)"></i>
<i style="left:1996.8px;top:284px;width:3.2px;height:4px;background:rgba(0,0,0,.55)"></i>
<i style="left:1976.8px;top:292.6px;width:2.8px;height:2.8px;background:rgba(0,0,0,.4)"></i>
<i style="left:1983.6px;top:292px;width:9.7px;height:4px;background:rgba(0,0,0,.4)"></i>
<i style="left:1996.9px;top:292px;width:9.1px;height:4px;background:rgba(0,0,0,.4)"></i>
<i style="left:2009.6px;top:292px;width:6px;height:4px;background:rgba(0,0,0,.4)"></i>
<i style="left:1976.8px;top:300.6px;width:2.8px;height:2.8px;background:rgba(0,0,0,.4)"></i>
<i style="left:1983.6px;top:300px;width:20.6px;height:4px;background:rgba(0,0,0,.4)"></i>
<i style="left:2007.8px;top:300px;width:19.1px;height:4px;background:rgba(0,0,0,.4)"></i>
<i style="left:1976.8px;top:308.6px;width:2.8px;height:2.8px;background:rgba(0,0,0,.4)"></i>
<i style="left:1983.6px;top:308px;width:9.4px;height:4px;background:rgba(0,0,0,.4)"></i>
<i style="left:1996.6px;top:308px;width:19.4px;height:4px;background:rgba(0,0,0,.4)"></i>
<i style="left:2019.6px;top:308px;width:20px;height:4px;background:rgba(0,0,0,.4)"></i>
<i style="left:1976.8px;top:316.6px;width:2.8px;height:2.8px;background:rgba(0,0,0,.4)"></i>
<i style="left:1983.6px;top:316px;width:16.9px;height:4px;background:rgba(0,0,0,.4)"></i>
<i style="left:2004.1px;top:316px;width:12.4px;height:4px;background:rgba(0,0,0,.4)"></i>
<i style="left:2020.1px;top:316px;width:15.3px;height:4px;background:rgba(0,0,0,.4)"></i>
<i style="left:2039px;top:316px;width:9.1px;height:4px;background:rgba(0,0,0,.4)"></i>
<i style="left:2051.8px;top:316px;width:3.8px;height:4px;background:rgba(0,0,0,.4)"></i>
<i style="left:1972px;top:336px;width:21.6px;height:4px;background:rgba(0,0,0,.55)"></i>
<i style="left:1976.8px;top:344.6px;width:2.8px;height:2.8px;background:rgba(0,0,0,.4)"></i>
<i style="left:1983.6px;top:344px;width:16.8px;height:4px;background:rgba(0,0,0,.4)"></i>
<i style="left:2004px;top:344px;width:11.6px;height:4px;background:rgba(0,0,0,.4)"></i>
<i style="left:1976.8px;top:352.6px;width:2.8px;height:2.8px;background:rgba(0,0,0,.4)"></i>
<i style="left:1983.6px;top:352px;width:21px;height:4px;background:rgba(0,0,0,.4)"></i>
<i style="left:2008.2px;top:352px;width:13.6px;height:4px;background:rgba(0,0,0,.4)"></i>
<i style="left:2025.4px;top:352px;width:6.2px;height:4px;background:rgba(0,0,0,.4)"></i>
<i style="left:1976.8px;top:360.6px;width:2.8px;height:2.8px;background:rgba(0,0,0,.4)"></i>
<i style="left:1983.6px;top:360px;width:19.4px;height:4px;background:rgba(0,0,0,.4)"></i>
<i style="left:2006.6px;top:360px;width:10.3px;height:4px;background:rgba(0,0,0,.4)"></i>
<i style="left:2020.6px;top:360px;width:7px;height:4px;background:rgba(0,0,0,.4)"></i>
<i style="left:1976.8px;top:368.6px;width:2.8px;height:2.8px;background:rgba(0,0,0,.4)"></i>
<i style="left:1983.6px;top:368px;width:11.5px;height:4px;background:rgba(0,0,0,.4)"></i>
<i style="left:1998.7px;top:368px;width:10.8px;height:4px;background:rgba(0,0,0,.4)"></i>
<i style="left:2013.1px;top:368px;width:15.9px;height:4px;background:rgba(0,0,0,.4)"></i>
<i style="left:2032.6px;top:368px;width:11px;height:4px;background:rgba(0,0,0,.4)"></i>
<i style="left:2047.2px;top:368px;width:8.4px;height:4px;background:rgba(0,0,0,.4)"></i>
<i style="left:2148px;top:245.2px;width:133.2px;height:23.2px;background:#fff;border:1.6px solid rgba(0,0,0,.08);border-radius:1.2px;box-sizing:border-box"></i>
<i style="left:2152.8px;top:254.1px;width:9.1px;height:3px;background:rgba(0,0,0,0.3)"></i>
<i style="left:2165.5px;top:254.1px;width:11.3px;height:3px;background:rgba(0,0,0,0.3)"></i>
<i style="left:2310.4px;top:236px;width:12.4px;height:4px;background:rgba(0,0,0,.55)"></i>
<i style="left:2326.4px;top:236px;width:14px;height:4px;background:rgba(0,0,0,.55)"></i>
<i style="left:2310.4px;top:244px;width:15.8px;height:4px;background:rgba(0,0,0,.4)"></i>
<i style="left:2329.8px;top:244px;width:20.6px;height:4px;background:rgba(0,0,0,.4)"></i>
<i style="left:2354px;top:244px;width:13.4px;height:4px;background:rgba(0,0,0,.4)"></i>
<i style="left:2371px;top:244px;width:20.8px;height:4px;background:rgba(0,0,0,.4)"></i>
<i style="left:2395.4px;top:244px;width:11px;height:4px;background:rgba(0,0,0,.4)"></i>
<i style="left:2310.4px;top:252px;width:15.1px;height:4px;background:rgba(0,0,0,.4)"></i>
<i style="left:2329.1px;top:252px;width:14.9px;height:4px;background:rgba(0,0,0,.4)"></i>
<i style="left:2347.6px;top:252px;width:7.5px;height:4px;background:rgba(0,0,0,.4)"></i>
<i style="left:2358.7px;top:252px;width:13.7px;height:4px;background:rgba(0,0,0,.4)"></i>
<i style="left:2376px;top:252px;width:9.9px;height:4px;background:rgba(0,0,0,.4)"></i>
<i style="left:2310.4px;top:260px;width:7.3px;height:4px;background:rgba(0,0,0,.4)"></i>
<i style="left:2321.3px;top:260px;width:19px;height:4px;background:rgba(0,0,0,.4)"></i>
<i style="left:2343.9px;top:260px;width:9.8px;height:4px;background:rgba(0,0,0,.4)"></i>
<i style="left:2357.2px;top:260px;width:14.2px;height:4px;background:rgba(0,0,0,.4)"></i>
<i style="left:2375px;top:260px;width:7.4px;height:4px;background:rgba(0,0,0,.4)"></i>
<i style="left:2516.8px;top:240px;width:85.2px;height:11.2px;background:#fff;border:1.6px solid rgba(0,0,0,.08);border-radius:1.2px;box-sizing:border-box"></i>
<i style="left:2521.6px;top:243.5px;width:15.4px;height:3px;background:rgba(0,0,0,0.3)"></i>
<i style="left:2540.6px;top:243.5px;width:5px;height:3px;background:rgba(0,0,0,0.3)"></i>
<i style="left:2593.2px;top:243.6px;width:4px;height:4px;background:rgba(0,0,0,.55)"></i>
<i style="left:2640px;top:236px;width:14.9px;height:4px;background:rgba(0,0,0,.55)"></i>
<i style="left:2658.5px;top:236px;width:9.5px;height:4px;background:rgba(0,0,0,.55)"></i>
<i style="left:2644.8px;top:244.6px;width:2.8px;height:2.8px;background:rgba(0,0,0,.4)"></i>
<i style="left:2651.6px;top:244px;width:18.8px;height:4px;background:rgba(0,0,0,.4)"></i>
<i style="left:2674px;top:244px;width:8.8px;height:4px;background:rgba(0,0,0,.4)"></i>
<i style="left:2686.4px;top:244px;width:13.2px;height:4px;background:rgba(0,0,0,.4)"></i>
<i style="left:2644.8px;top:252.6px;width:2.8px;height:2.8px;background:rgba(0,0,0,.4)"></i>
<i style="left:2651.6px;top:252px;width:10.9px;height:4px;background:rgba(0,0,0,.4)"></i>
<i style="left:2666.1px;top:252px;width:11.3px;height:4px;background:rgba(0,0,0,.4)"></i>
<i style="left:2681px;top:252px;width:6.6px;height:4px;background:rgba(0,0,0,.4)"></i>
<i style="left:2644.8px;top:260.6px;width:2.8px;height:2.8px;background:rgba(0,0,0,.4)"></i>
<i style="left:2651.6px;top:260px;width:14.7px;height:4px;background:rgba(0,0,0,.4)"></i>
<i style="left:2669.9px;top:260px;width:15.5px;height:4px;background:rgba(0,0,0,.4)"></i>
<i style="left:2689px;top:260px;width:18.4px;height:4px;background:rgba(0,0,0,.4)"></i>
<i style="left:2711.1px;top:260px;width:4.5px;height:4px;background:rgba(0,0,0,.4)"></i>
<i style="left:2516.8px;top:284px;width:85.2px;height:11.2px;background:#fff;border:1.6px solid rgba(0,0,0,.08);border-radius:1.2px;box-sizing:border-box"></i>
<i style="left:2521.6px;top:287.5px;width:13.8px;height:3px;background:rgba(0,0,0,0.5)"></i>
<i style="left:2539px;top:287.5px;width:6.6px;height:3px;background:rgba(0,0,0,0.5)"></i>
<i style="left:2593.2px;top:287.6px;width:4px;height:4px;background:rgba(0,0,0,.55)"></i>
<i style="left:2516.8px;top:296px;width:64.8px;height:48px;background:#000;border-radius:1.6px"></i>
<i style="left:2521.6px;top:302px;width:20px;height:2.4px;background:rgba(255,255,255,.6)"></i>
<i style="left:2521.6px;top:313.2px;width:20px;height:2.4px;background:rgba(255,255,255,.6)"></i>
<i style="left:2521.6px;top:324.4px;width:20px;height:2.4px;background:rgba(255,255,255,.6)"></i>
<i style="left:2640px;top:284px;width:14.7px;height:4px;background:rgba(0,0,0,.55)"></i>
<i style="left:2658.3px;top:284px;width:5.7px;height:4px;background:rgba(0,0,0,.55)"></i>
<i style="left:2644.8px;top:292.6px;width:2.8px;height:2.8px;background:rgba(0,0,0,.4)"></i>
<i style="left:2651.6px;top:292px;width:17.5px;height:4px;background:rgba(0,0,0,.4)"></i>
<i style="left:2672.7px;top:292px;width:6.9px;height:4px;background:rgba(0,0,0,.4)"></i>
<i style="left:2644.8px;top:300.6px;width:2.8px;height:2.8px;background:rgba(0,0,0,.4)"></i>
<i style="left:2651.6px;top:300px;width:15.1px;height:4px;background:rgba(0,0,0,.4)"></i>
<i style="left:2670.3px;top:300px;width:14.3px;height:4px;background:rgba(0,0,0,.4)"></i>
<i style="left:2688.2px;top:300px;width:11.4px;height:4px;background:rgba(0,0,0,.4)"></i>
<i style="left:2644.8px;top:308.6px;width:2.8px;height:2.8px;background:rgba(0,0,0,.4)"></i>
<i style="left:2651.6px;top:308px;width:17.5px;height:4px;background:rgba(0,0,0,.4)"></i>
<i style="left:2672.7px;top:308px;width:18.9px;height:4px;background:rgba(0,0,0,.4)"></i>
<i style="left:2644.8px;top:316.6px;width:2.8px;height:2.8px;background:rgba(0,0,0,.4)"></i>
<i style="left:2651.6px;top:316px;width:21.1px;height:4px;background:rgba(0,0,0,.4)"></i>
<i style="left:2676.3px;top:316px;width:11px;height:4px;background:rgba(0,0,0,.4)"></i>
<i style="left:2691px;top:316px;width:15.5px;height:4px;background:rgba(0,0,0,.4)"></i>
<i style="left:2644.8px;top:324.6px;width:2.8px;height:2.8px;background:rgba(0,0,0,.4)"></i>
<i style="left:2651.6px;top:324px;width:21.2px;height:4px;background:rgba(0,0,0,.4)"></i>
<i style="left:2676.4px;top:324px;width:15.2px;height:4px;background:rgba(0,0,0,.4)"></i>
<i style="left:1844px;top:400px;width:1272px;height:337.6px;background:#f1f4f5"></i>
<i style="left:1844px;top:400px;width:1272px;height:337.6px;border:2px dashed rgba(110,130,150,.28);box-sizing:border-box"></i>
<i style="left:1852px;top:410.2px;width:36px;height:3.6px;background:rgba(0,0,0,.55)"></i>
<i style="left:1860.8px;top:444.6px;width:86.4px;height:10.8px;background:#fff;border:1.6px solid rgba(0,0,0,.08);border-radius:1.2px;box-sizing:border-box"></i>
<i style="left:1860.8px;top:466.2px;width:86.4px;height:10.8px;background:#fff;border:1.6px solid rgba(90,160,230,.45);border-radius:1.2px;box-sizing:border-box"></i>
<i style="left:1860.8px;top:489.4px;width:86.4px;height:10.8px;background:#e6e9ec;border:1.6px solid rgba(0,0,0,0);border-radius:1.2px;box-sizing:border-box"></i>
<i style="left:1860.8px;top:513px;width:86.4px;height:11.6px;background:#fff;border:1.6px solid rgba(40,150,70,.6);border-radius:1.2px;box-sizing:border-box"></i>
<i style="left:1860.8px;top:534.6px;width:86.4px;height:11.6px;background:#fff;border:1.6px solid rgba(215,60,60,.6);border-radius:1.2px;box-sizing:border-box"></i>
<i style="left:1986.4px;top:445.2px;width:87.6px;height:12px;background:#fff;border:1.6px solid rgba(0,0,0,.08);border-radius:1.2px;box-sizing:border-box"></i>
<i style="left:1986.4px;top:470.8px;width:87.6px;height:13.6px;background:#fff;border:1.6px solid rgba(90,160,230,.45);border-radius:1.2px;box-sizing:border-box"></i>
<i style="left:1986.4px;top:495.4px;width:87.6px;height:14px;background:#e6e9ec;border:1.6px solid rgba(0,0,0,0);border-radius:1.2px;box-sizing:border-box"></i>
<i style="left:1986.4px;top:522.2px;width:87.6px;height:14.8px;background:#fff;border:1.6px solid rgba(40,150,70,.6);border-radius:1.2px;box-sizing:border-box"></i>
<i style="left:1986.4px;top:547.8px;width:87.6px;height:14.8px;background:#fff;border:1.6px solid rgba(215,60,60,.6);border-radius:1.2px;box-sizing:border-box"></i>
<i style="left:2123.6px;top:445.2px;width:86.4px;height:15.2px;background:#fff;border:1.6px solid rgba(0,0,0,.08);border-radius:1.2px;box-sizing:border-box"></i>
<i style="left:2123.6px;top:470.6px;width:86.4px;height:17.2px;background:#fff;border:1.6px solid rgba(90,160,230,.45);border-radius:1.2px;box-sizing:border-box"></i>
<i style="left:2123.6px;top:495.4px;width:86.4px;height:17.2px;background:#e6e9ec;border:1.6px solid rgba(0,0,0,0);border-radius:1.2px;box-sizing:border-box"></i>
<i style="left:2123.6px;top:522.4px;width:86.4px;height:19.2px;background:#fff;border:1.6px solid rgba(40,150,70,.6);border-radius:1.2px;box-sizing:border-box"></i>
<i style="left:2123.6px;top:547.2px;width:86.4px;height:19.2px;background:#fff;border:1.6px solid rgba(215,60,60,.6);border-radius:1.2px;box-sizing:border-box"></i>
<i style="left:2232px;top:447.4px;width:5.6px;height:2.8px;background:rgba(40,150,70,.6)"></i>
<i style="left:2231.2px;top:460.8px;width:6.4px;height:4px;background:rgba(215,60,60,.8)"></i>
<i style="left:2229.2px;top:475.6px;width:18px;height:2.4px;background:rgba(40,150,70,.5)"></i>
<i style="left:2229.2px;top:496px;width:22px;height:2.4px;background:rgba(215,60,60,.5)"></i>
<i style="left:2231.2px;top:516px;width:26.4px;height:10.4px;background:#2f8f4c;border-radius:1.2px"></i>
<i style="left:2231.2px;top:535.2px;width:26.4px;height:10.4px;background:#cc3333;border-radius:1.2px"></i>
<i style="left:2236px;top:560px;width:8.8px;height:2.4px;background:rgba(215,60,60,.6)"></i>
<i style="left:2314.8px;top:445.2px;width:87.2px;height:21.2px;background:#fff;border:1.6px solid rgba(0,0,0,.08);border-radius:1.2px;box-sizing:border-box"></i>
<i style="left:2314.8px;top:483.2px;width:87.2px;height:23.6px;background:#fff;border:1.6px solid rgba(90,160,230,.45);border-radius:1.2px;box-sizing:border-box"></i>
<i style="left:2314.8px;top:523.2px;width:87.2px;height:23.2px;background:#e6e9ec;border:1.6px solid rgba(0,0,0,0);border-radius:1.2px;box-sizing:border-box"></i>
<i style="left:2314.8px;top:562px;width:87.2px;height:23.6px;background:#fff;border:1.6px solid rgba(40,150,70,.6);border-radius:1.2px;box-sizing:border-box"></i>
<i style="left:2314.8px;top:602px;width:87.2px;height:24.4px;background:#fff;border:1.6px solid rgba(215,60,60,.6);border-radius:1.2px;box-sizing:border-box"></i>
<i style="left:2444px;top:447.2px;width:18px;height:9.6px;background:#e8ebee"></i>
<i style="left:2446px;top:450.6px;width:14px;height:2.8px;background:rgba(0,0,0,.45)"></i>
<i style="left:2482.4px;top:446.4px;width:20px;height:11.2px;background:#fff;border:2px solid rgba(210,60,60,.75);border-radius:1.2px;box-sizing:border-box"></i>
<i style="left:2485.6px;top:450.6px;width:13.6px;height:2.8px;background:rgba(0,0,0,.5)"></i>
<i style="left:2444px;top:469.6px;width:12px;height:9.6px;background:#e8ebee"></i>
<i style="left:2446px;top:473px;width:8px;height:2.8px;background:rgba(0,0,0,.45)"></i>
<i style="left:2482.4px;top:468.8px;width:16px;height:11.2px;background:#fff;border:2px solid rgba(210,60,60,.75);border-radius:1.2px;box-sizing:border-box"></i>
<i style="left:2485.6px;top:473px;width:9.6px;height:2.8px;background:rgba(0,0,0,.5)"></i>
<i style="left:2444px;top:492.8px;width:20px;height:9.6px;background:#e8ebee"></i>
<i style="left:2446px;top:496.2px;width:16px;height:2.8px;background:rgba(0,0,0,.45)"></i>
<i style="left:2482.4px;top:492px;width:22px;height:11.2px;background:#fff;border:2px solid rgba(210,60,60,.75);border-radius:1.2px;box-sizing:border-box"></i>
<i style="left:2485.6px;top:496.2px;width:15.6px;height:2.8px;background:rgba(0,0,0,.5)"></i>
<i style="left:2444px;top:516.8px;width:20px;height:9.6px;background:#e8ebee"></i>
<i style="left:2446px;top:520.2px;width:16px;height:2.8px;background:rgba(0,0,0,.45)"></i>
<i style="left:2482.4px;top:516px;width:22px;height:11.2px;background:#fff;border:2px solid rgba(210,60,60,.75);border-radius:1.2px;box-sizing:border-box"></i>
<i style="left:2485.6px;top:520.2px;width:15.6px;height:2.8px;background:rgba(0,0,0,.5)"></i>
<i style="left:2444px;top:544.8px;width:18px;height:9.6px;background:#e8ebee"></i>
<i style="left:2446px;top:548.2px;width:14px;height:2.8px;background:rgba(0,0,0,.45)"></i>
<i style="left:2482.4px;top:544px;width:20px;height:11.2px;background:#fff;border:2px solid rgba(210,60,60,.75);border-radius:1.2px;box-sizing:border-box"></i>
<i style="left:2485.6px;top:548.2px;width:13.6px;height:2.8px;background:rgba(0,0,0,.5)"></i>
<i style="left:1864px;top:567.8px;width:20px;height:3.6px;background:rgba(0,0,0,0.6)"></i>
<i style="left:1864px;top:591px;width:28px;height:3.6px;background:rgba(0,0,0,0.25)"></i>
<i style="left:1864px;top:613px;width:24px;height:3.6px;background:rgba(0,0,0,0.25)"></i>
<i style="left:1864px;top:633px;width:12px;height:3.6px;background:rgba(0,0,0,0.6)"></i>
<i style="left:1864px;top:661.8px;width:12px;height:3.6px;background:rgba(0,0,0,0.6)"></i>
<i style="left:1988.4px;top:587.4px;width:24px;height:3.6px;background:rgba(0,0,0,0.65)"></i>
<i style="left:1988.4px;top:610.2px;width:32px;height:3.6px;background:rgba(0,0,0,0.3)"></i>
<i style="left:1988.4px;top:633px;width:24px;height:3.6px;background:rgba(0,0,0,0.25)"></i>
<i style="left:1988.4px;top:653.4px;width:12px;height:3.6px;background:rgba(0,0,0,0.45)"></i>
<i style="left:1988.4px;top:683.4px;width:16px;height:3.6px;background:rgba(0,0,0,0.6)"></i>
<i style="left:2125.2px;top:589.4px;width:32px;height:3.6px;background:rgba(0,0,0,0.4)"></i>
<i style="left:2125.2px;top:615.4px;width:36px;height:3.6px;background:rgba(0,0,0,0.6)"></i>
<i style="left:2125.2px;top:639px;width:32px;height:3.6px;background:rgba(0,0,0,0.3)"></i>
<i style="left:2125.2px;top:661.8px;width:12px;height:3.6px;background:rgba(0,0,0,0.55)"></i>
<i style="left:2125.2px;top:691.4px;width:12px;height:3.6px;background:rgba(0,0,0,0.6)"></i>
<i style="left:1844px;top:724.4px;width:720px;height:2px;background:repeating-linear-gradient(90deg,rgba(140,90,255,.3) 0 8px,transparent 8px 12px)"></i>
<i style="left:1846px;top:758.4px;width:1270px;height:1516px;background:#f1f4f5"></i>
<i style="left:1846px;top:758.4px;width:1270px;height:1516px;border:2px dashed rgba(110,130,150,.28);box-sizing:border-box"></i>
<i style="left:1894.4px;top:772.2px;width:14px;height:3.6px;background:rgba(0,0,0,.55)"></i>
<i style="left:1894.4px;top:789.6px;width:1205.2px;height:687.6px;border:2.4px dashed rgba(140,90,255,.22);box-sizing:border-box"></i>
<i style="left:1902px;top:816px;width:86px;height:11.2px;background:#fff;border:1.6px solid rgba(0,0,0,.08);border-radius:1.2px;box-sizing:border-box"></i>
<i style="left:1906.8px;top:819.5px;width:9.2px;height:3px;background:rgba(0,0,0,0.5)"></i>
<i style="left:1919.6px;top:819.5px;width:9px;height:3px;background:rgba(0,0,0,0.5)"></i>
<i style="left:1932.2px;top:819.5px;width:10.7px;height:3px;background:rgba(0,0,0,0.5)"></i>
<i style="left:1994px;top:816px;width:85.2px;height:12px;background:#fff;border:1.6px solid rgba(0,0,0,.08);border-radius:1.2px;box-sizing:border-box"></i>
<i style="left:1998.8px;top:819.9px;width:8.3px;height:3px;background:rgba(0,0,0,0.5)"></i>
<i style="left:2010.7px;top:819.9px;width:10.8px;height:3px;background:rgba(0,0,0,0.5)"></i>
<i style="left:2025px;top:819.9px;width:8.3px;height:3px;background:rgba(0,0,0,0.5)"></i>
<i style="left:2086.4px;top:816px;width:85.6px;height:16.8px;background:#fff;border:1.6px solid rgba(0,0,0,.08);border-radius:1.2px;box-sizing:border-box"></i>
<i style="left:2091.2px;top:822.1px;width:17.1px;height:3px;background:rgba(0,0,0,0.5)"></i>
<i style="left:2111.9px;top:822.1px;width:15.2px;height:3px;background:rgba(0,0,0,0.5)"></i>
<i style="left:2207.6px;top:816px;width:84.8px;height:11.2px;background:#fff;border:1.6px solid rgba(0,0,0,.08);border-radius:1.2px;box-sizing:border-box"></i>
<i style="left:2212.4px;top:819.5px;width:20.5px;height:3px;background:rgba(0,0,0,0.5)"></i>
<i style="left:2236.5px;top:819.5px;width:9.5px;height:3px;background:rgba(0,0,0,0.5)"></i>
<i style="left:2207.6px;top:804.8px;width:8.8px;height:3.2px;background:rgba(0,0,0,.65)"></i>
<i style="left:2207.6px;top:861.6px;width:84.8px;height:11.2px;background:#fff;border:1.6px solid rgba(0,0,0,.08);border-radius:1.2px;box-sizing:border-box"></i>
<i style="left:2212.4px;top:865.1px;width:17.8px;height:3px;background:rgba(0,0,0,0.5)"></i>
<i style="left:2233.8px;top:865.1px;width:14.2px;height:3px;background:rgba(0,0,0,0.5)"></i>
<i style="left:2207.6px;top:850.4px;width:8.8px;height:3.2px;background:rgba(0,0,0,.65)"></i>
<i style="left:2207.6px;top:877px;width:10px;height:2.8px;background:rgba(0,0,0,.4)"></i>
<i style="left:2298.8px;top:816px;width:84.8px;height:12px;background:#fff;border:1.6px solid rgba(0,0,0,.08);border-radius:1.2px;box-sizing:border-box"></i>
<i style="left:2303.6px;top:819.9px;width:9.3px;height:3px;background:rgba(0,0,0,0.5)"></i>
<i style="left:2316.5px;top:819.9px;width:20.3px;height:3px;background:rgba(0,0,0,0.5)"></i>
<i style="left:2298.8px;top:804.8px;width:11.2px;height:3.2px;background:rgba(0,0,0,.65)"></i>
<i style="left:2298.8px;top:861.6px;width:84.8px;height:12px;background:#fff;border:1.6px solid rgba(0,0,0,.08);border-radius:1.2px;box-sizing:border-box"></i>
<i style="left:2303.6px;top:865.5px;width:21.5px;height:3px;background:rgba(0,0,0,0.5)"></i>
<i style="left:2328.7px;top:865.5px;width:10.4px;height:3px;background:rgba(0,0,0,0.5)"></i>
<i style="left:2298.8px;top:850.4px;width:11.2px;height:3.2px;background:rgba(0,0,0,.65)"></i>
<i style="left:2298.8px;top:877.8px;width:10px;height:2.8px;background:rgba(0,0,0,.4)"></i>
<i style="left:2390px;top:816px;width:86px;height:16.8px;background:#fff;border:1.6px solid rgba(0,0,0,.08);border-radius:1.2px;box-sizing:border-box"></i>
<i style="left:2394.8px;top:822.1px;width:21.3px;height:3px;background:rgba(0,0,0,0.5)"></i>
<i style="left:2419.7px;top:822.1px;width:11.2px;height:3px;background:rgba(0,0,0,0.5)"></i>
<i style="left:2390px;top:804.8px;width:13.6px;height:3.2px;background:rgba(0,0,0,.65)"></i>
<i style="left:2390px;top:861.6px;width:86px;height:16.8px;background:#fff;border:1.6px solid rgba(0,0,0,.08);border-radius:1.2px;box-sizing:border-box"></i>
<i style="left:2394.8px;top:867.7px;width:14.4px;height:3px;background:rgba(0,0,0,0.5)"></i>
<i style="left:2412.8px;top:867.7px;width:18.1px;height:3px;background:rgba(0,0,0,0.5)"></i>
<i style="left:2390px;top:850.4px;width:13.6px;height:3.2px;background:rgba(0,0,0,.65)"></i>
<i style="left:2390px;top:882.6px;width:10px;height:2.8px;background:rgba(0,0,0,.4)"></i>
<i style="left:2576px;top:816px;width:86.4px;height:12px;background:#fff;border:1.6px solid rgba(0,0,0,.08);border-radius:1.2px;box-sizing:border-box"></i>
<i style="left:2580.8px;top:819.9px;width:19.5px;height:3px;background:rgba(0,0,0,0.5)"></i>
<i style="left:2603.9px;top:819.9px;width:9.6px;height:3px;background:rgba(0,0,0,0.5)"></i>
<i style="left:2576px;top:861.6px;width:86.4px;height:12px;background:#fff;border:1.6px solid rgba(0,0,0,.08);border-radius:1.2px;box-sizing:border-box"></i>
<i style="left:2580.8px;top:865.5px;width:13.6px;height:3px;background:rgba(0,0,0,0.5)"></i>
<i style="left:2598px;top:865.5px;width:14.8px;height:3px;background:rgba(0,0,0,0.5)"></i>
<i style="left:2576px;top:877.8px;width:10px;height:2.8px;background:rgba(0,0,0,.4)"></i>
<i style="left:2731.6px;top:816px;width:86.8px;height:12px;background:#fff;border:1.6px solid rgba(0,0,0,.08);border-radius:1.2px;box-sizing:border-box"></i>
<i style="left:2736.4px;top:819.9px;width:12.2px;height:3px;background:rgba(0,0,0,0.5)"></i>
<i style="left:2752.2px;top:819.9px;width:10.1px;height:3px;background:rgba(0,0,0,0.5)"></i>
<i style="left:2765.9px;top:819.9px;width:6.9px;height:3px;background:rgba(0,0,0,0.5)"></i>
<i style="left:2731.6px;top:861.6px;width:86.8px;height:12px;background:#fff;border:1.6px solid rgba(0,0,0,.08);border-radius:1.2px;box-sizing:border-box"></i>
<i style="left:2736.4px;top:865.5px;width:17.9px;height:3px;background:rgba(0,0,0,0.5)"></i>
<i style="left:2757.9px;top:865.5px;width:7.5px;height:3px;background:rgba(0,0,0,0.5)"></i>
<i style="left:2769px;top:865.5px;width:3.9px;height:3px;background:rgba(0,0,0,0.5)"></i>
<i style="left:2731.6px;top:877.8px;width:10px;height:2.8px;background:rgba(0,0,0,.4)"></i>
<i style="left:2900px;top:816px;width:85.2px;height:16.4px;background:#fff;border:1.6px solid rgba(0,0,0,.08);border-radius:1.2px;box-sizing:border-box"></i>
<i style="left:2904.8px;top:821.9px;width:13.7px;height:3px;background:rgba(0,0,0,0.5)"></i>
<i style="left:2922.1px;top:821.9px;width:7.5px;height:3px;background:rgba(0,0,0,0.5)"></i>
<i style="left:2933.2px;top:821.9px;width:7.4px;height:3px;background:rgba(0,0,0,0.5)"></i>
<i style="left:2900px;top:861.6px;width:85.2px;height:16.4px;background:#fff;border:1.6px solid rgba(0,0,0,.08);border-radius:1.2px;box-sizing:border-box"></i>
<i style="left:2904.8px;top:867.5px;width:16.4px;height:3px;background:rgba(0,0,0,0.5)"></i>
<i style="left:2924.8px;top:867.5px;width:14.8px;height:3px;background:rgba(0,0,0,0.5)"></i>
<i style="left:2900px;top:882.2px;width:10px;height:2.8px;background:rgba(0,0,0,.4)"></i>
<i style="left:2526px;top:820px;width:12.8px;height:3.2px;background:rgba(0,0,0,0.45)"></i>
<i style="left:2526px;top:865.6px;width:12.8px;height:3.2px;background:rgba(0,0,0,0.45)"></i>
<i style="left:2681.2px;top:820px;width:12.8px;height:3.2px;background:rgba(0,0,0,0.45)"></i>
<i style="left:2681.2px;top:865.6px;width:12.8px;height:3.2px;background:rgba(0,0,0,0.45)"></i>
<i style="left:2840px;top:820px;width:12.8px;height:3.2px;background:rgba(0,0,0,0.6)"></i>
<i style="left:2840px;top:865.6px;width:12.8px;height:3.2px;background:rgba(0,0,0,0.6)"></i>
<i style="left:1902px;top:933.6px;width:86px;height:11.2px;background:#fff;border:1.6px solid rgba(90,160,230,.45);border-radius:1.2px;box-sizing:border-box"></i>
<i style="left:1906.8px;top:937.1px;width:8.2px;height:3px;background:rgba(0,0,0,0.5)"></i>
<i style="left:1918.6px;top:937.1px;width:21.8px;height:3px;background:rgba(0,0,0,0.5)"></i>
<i style="left:1994px;top:933.6px;width:85.2px;height:12px;background:#fff;border:1.6px solid rgba(90,160,230,.45);border-radius:1.2px;box-sizing:border-box"></i>
<i style="left:1998.8px;top:937.5px;width:18.9px;height:3px;background:rgba(0,0,0,0.5)"></i>
<i style="left:2021.3px;top:937.5px;width:13.3px;height:3px;background:rgba(0,0,0,0.5)"></i>
<i style="left:2086.4px;top:933.6px;width:85.6px;height:16.8px;background:#fff;border:1.6px solid rgba(90,160,230,.45);border-radius:1.2px;box-sizing:border-box"></i>
<i style="left:2091.2px;top:939.7px;width:8.8px;height:3px;background:rgba(0,0,0,0.5)"></i>
<i style="left:2103.6px;top:939.7px;width:11.1px;height:3px;background:rgba(0,0,0,0.5)"></i>
<i style="left:2118.3px;top:939.7px;width:7.8px;height:3px;background:rgba(0,0,0,0.5)"></i>
<i style="left:2207.6px;top:933.6px;width:84.8px;height:11.2px;background:#fff;border:1.6px solid rgba(90,160,230,.45);border-radius:1.2px;box-sizing:border-box"></i>
<i style="left:2212.4px;top:937.1px;width:18.7px;height:3px;background:rgba(0,0,0,0.5)"></i>
<i style="left:2234.7px;top:937.1px;width:11.2px;height:3px;background:rgba(0,0,0,0.5)"></i>
<i style="left:2207.6px;top:922.4px;width:8.8px;height:3.2px;background:rgba(0,0,0,.65)"></i>
<i style="left:2207.6px;top:979.2px;width:84.8px;height:11.2px;background:#fff;border:1.6px solid rgba(90,160,230,.45);border-radius:1.2px;box-sizing:border-box"></i>
<i style="left:2212.4px;top:982.7px;width:9.1px;height:3px;background:rgba(0,0,0,0.5)"></i>
<i style="left:2225.1px;top:982.7px;width:13.4px;height:3px;background:rgba(0,0,0,0.5)"></i>
<i style="left:2242.2px;top:982.7px;width:5.8px;height:3px;background:rgba(0,0,0,0.5)"></i>
<i style="left:2207.6px;top:968px;width:8.8px;height:3.2px;background:rgba(0,0,0,.65)"></i>
<i style="left:2207.6px;top:994.6px;width:10px;height:2.8px;background:rgba(0,0,0,.4)"></i>
<i style="left:2298.8px;top:933.6px;width:84.8px;height:12px;background:#fff;border:1.6px solid rgba(90,160,230,.45);border-radius:1.2px;box-sizing:border-box"></i>
<i style="left:2303.6px;top:937.5px;width:19.3px;height:3px;background:rgba(0,0,0,0.5)"></i>
<i style="left:2326.5px;top:937.5px;width:11px;height:3px;background:rgba(0,0,0,0.5)"></i>
<i style="left:2298.8px;top:922.4px;width:11.2px;height:3.2px;background:rgba(0,0,0,.65)"></i>
<i style="left:2298.8px;top:979.2px;width:84.8px;height:12px;background:#fff;border:1.6px solid rgba(90,160,230,.45);border-radius:1.2px;box-sizing:border-box"></i>
<i style="left:2303.6px;top:983.1px;width:9.4px;height:3px;background:rgba(0,0,0,0.5)"></i>
<i style="left:2316.6px;top:983.1px;width:20.8px;height:3px;background:rgba(0,0,0,0.5)"></i>
<i style="left:2298.8px;top:968px;width:11.2px;height:3.2px;background:rgba(0,0,0,.65)"></i>
<i style="left:2298.8px;top:995.4px;width:10px;height:2.8px;background:rgba(0,0,0,.4)"></i>
<i style="left:2390px;top:933.6px;width:86px;height:16.8px;background:#fff;border:1.6px solid rgba(90,160,230,.45);border-radius:1.2px;box-sizing:border-box"></i>
<i style="left:2394.8px;top:939.7px;width:15.6px;height:3px;background:rgba(0,0,0,0.5)"></i>
<i style="left:2414px;top:939.7px;width:16.9px;height:3px;background:rgba(0,0,0,0.5)"></i>
<i style="left:2390px;top:922.4px;width:13.6px;height:3.2px;background:rgba(0,0,0,.65)"></i>
<i style="left:2390px;top:979.2px;width:86px;height:16.8px;background:#fff;border:1.6px solid rgba(90,160,230,.45);border-radius:1.2px;box-sizing:border-box"></i>
<i style="left:2394.8px;top:985.3px;width:8.5px;height:3px;background:rgba(0,0,0,0.5)"></i>
<i style="left:2406.9px;top:985.3px;width:8.1px;height:3px;background:rgba(0,0,0,0.5)"></i>
<i style="left:2418.6px;top:985.3px;width:12.3px;height:3px;background:rgba(0,0,0,0.5)"></i>
<i style="left:2390px;top:968px;width:13.6px;height:3.2px;background:rgba(0,0,0,.65)"></i>
<i style="left:2390px;top:1000.2px;width:10px;height:2.8px;background:rgba(0,0,0,.4)"></i>
<i style="left:2576px;top:933.6px;width:86.4px;height:12px;background:#fff;border:1.6px solid rgba(90,160,230,.45);border-radius:1.2px;box-sizing:border-box"></i>
<i style="left:2580.8px;top:937.5px;width:13.5px;height:3px;background:rgba(0,0,0,0.5)"></i>
<i style="left:2597.9px;top:937.5px;width:8.3px;height:3px;background:rgba(0,0,0,0.5)"></i>
<i style="left:2609.8px;top:937.5px;width:7.3px;height:3px;background:rgba(0,0,0,0.5)"></i>
<i style="left:2576px;top:979.2px;width:86.4px;height:12px;background:#fff;border:1.6px solid rgba(90,160,230,.45);border-radius:1.2px;box-sizing:border-box"></i>
<i style="left:2580.8px;top:983.1px;width:16.6px;height:3px;background:rgba(0,0,0,0.5)"></i>
<i style="left:2601px;top:983.1px;width:16.1px;height:3px;background:rgba(0,0,0,0.5)"></i>
<i style="left:2576px;top:995.4px;width:10px;height:2.8px;background:rgba(0,0,0,.4)"></i>
<i style="left:2731.6px;top:933.6px;width:86.8px;height:12px;background:#fff;border:1.6px solid rgba(90,160,230,.45);border-radius:1.2px;box-sizing:border-box"></i>
<i style="left:2736.4px;top:937.5px;width:8.4px;height:3px;background:rgba(0,0,0,0.5)"></i>
<i style="left:2748.4px;top:937.5px;width:19.9px;height:3px;background:rgba(0,0,0,0.5)"></i>
<i style="left:2731.6px;top:979.2px;width:86.8px;height:12px;background:#fff;border:1.6px solid rgba(90,160,230,.45);border-radius:1.2px;box-sizing:border-box"></i>
<i style="left:2736.4px;top:983.1px;width:8.2px;height:3px;background:rgba(0,0,0,0.5)"></i>
<i style="left:2748.2px;top:983.1px;width:20px;height:3px;background:rgba(0,0,0,0.5)"></i>
<i style="left:2731.6px;top:995.4px;width:10px;height:2.8px;background:rgba(0,0,0,.4)"></i>
<i style="left:2900px;top:933.6px;width:85.2px;height:16.4px;background:#fff;border:1.6px solid rgba(90,160,230,.45);border-radius:1.2px;box-sizing:border-box"></i>
<i style="left:2904.8px;top:939.5px;width:13.9px;height:3px;background:rgba(0,0,0,0.5)"></i>
<i style="left:2922.3px;top:939.5px;width:12.2px;height:3px;background:rgba(0,0,0,0.5)"></i>
<i style="left:2938.1px;top:939.5px;width:2.4px;height:3px;background:rgba(0,0,0,0.5)"></i>
<i style="left:2900px;top:979.2px;width:85.2px;height:16.4px;background:#fff;border:1.6px solid rgba(90,160,230,.45);border-radius:1.2px;box-sizing:border-box"></i>
<i style="left:2904.8px;top:985.1px;width:20.9px;height:3px;background:rgba(0,0,0,0.5)"></i>
<i style="left:2929.3px;top:985.1px;width:11.2px;height:3px;background:rgba(0,0,0,0.5)"></i>
<i style="left:2900px;top:999.8px;width:10px;height:2.8px;background:rgba(0,0,0,.4)"></i>
<i style="left:2526px;top:937.6px;width:12.8px;height:3.2px;background:rgba(0,0,0,0.45)"></i>
<i style="left:2526px;top:983.2px;width:12.8px;height:3.2px;background:rgba(0,0,0,0.45)"></i>
<i style="left:2681.2px;top:937.6px;width:12.8px;height:3.2px;background:rgba(0,0,0,0.45)"></i>
<i style="left:2681.2px;top:983.2px;width:12.8px;height:3.2px;background:rgba(0,0,0,0.45)"></i>
<i style="left:2840px;top:937.6px;width:12.8px;height:3.2px;background:rgba(0,0,0,0.6)"></i>
<i style="left:2840px;top:983.2px;width:12.8px;height:3.2px;background:rgba(0,0,0,0.6)"></i>
<i style="left:1902px;top:1061.6px;width:86px;height:11.2px;background:#e6e9ec;border:1.6px solid rgba(0,0,0,0);border-radius:1.2px;box-sizing:border-box"></i>
<i style="left:1906.8px;top:1065.1px;width:9.1px;height:3px;background:rgba(0,0,0,0.5)"></i>
<i style="left:1919.5px;top:1065.1px;width:15px;height:3px;background:rgba(0,0,0,0.5)"></i>
<i style="left:1938.1px;top:1065.1px;width:4.8px;height:3px;background:rgba(0,0,0,0.5)"></i>
<i style="left:1994px;top:1061.6px;width:85.2px;height:12px;background:#e6e9ec;border:1.6px solid rgba(0,0,0,0);border-radius:1.2px;box-sizing:border-box"></i>
<i style="left:1998.8px;top:1065.5px;width:8.8px;height:3px;background:rgba(0,0,0,0.5)"></i>
<i style="left:2011.2px;top:1065.5px;width:9.6px;height:3px;background:rgba(0,0,0,0.5)"></i>
<i style="left:2024.4px;top:1065.5px;width:7.9px;height:3px;background:rgba(0,0,0,0.5)"></i>
<i style="left:2086.4px;top:1061.6px;width:85.6px;height:16.8px;background:#e6e9ec;border:1.6px solid rgba(0,0,0,0);border-radius:1.2px;box-sizing:border-box"></i>
<i style="left:2091.2px;top:1067.7px;width:10.2px;height:3px;background:rgba(0,0,0,0.5)"></i>
<i style="left:2105px;top:1067.7px;width:11.8px;height:3px;background:rgba(0,0,0,0.5)"></i>
<i style="left:2120.4px;top:1067.7px;width:6.7px;height:3px;background:rgba(0,0,0,0.5)"></i>
<i style="left:2207.6px;top:1061.6px;width:84.8px;height:11.2px;background:#e6e9ec;border:1.6px solid rgba(0,0,0,0);border-radius:1.2px;box-sizing:border-box"></i>
<i style="left:2212.4px;top:1065.1px;width:18.4px;height:3px;background:rgba(0,0,0,0.5)"></i>
<i style="left:2234.4px;top:1065.1px;width:11.5px;height:3px;background:rgba(0,0,0,0.5)"></i>
<i style="left:2207.6px;top:1050.4px;width:8.8px;height:3.2px;background:rgba(0,0,0,.65)"></i>
<i style="left:2207.6px;top:1107.6px;width:84.8px;height:11.2px;background:#e6e9ec;border:1.6px solid rgba(0,0,0,0);border-radius:1.2px;box-sizing:border-box"></i>
<i style="left:2212.4px;top:1111.1px;width:14.6px;height:3px;background:rgba(0,0,0,0.5)"></i>
<i style="left:2230.6px;top:1111.1px;width:9.8px;height:3px;background:rgba(0,0,0,0.5)"></i>
<i style="left:2244px;top:1111.1px;width:4px;height:3px;background:rgba(0,0,0,0.5)"></i>
<i style="left:2207.6px;top:1096.4px;width:8.8px;height:3.2px;background:rgba(0,0,0,.65)"></i>
<i style="left:2207.6px;top:1123px;width:10px;height:2.8px;background:rgba(0,0,0,.4)"></i>
<i style="left:2298.8px;top:1061.6px;width:84.8px;height:12px;background:#e6e9ec;border:1.6px solid rgba(0,0,0,0);border-radius:1.2px;box-sizing:border-box"></i>
<i style="left:2303.6px;top:1065.5px;width:7.5px;height:3px;background:rgba(0,0,0,0.5)"></i>
<i style="left:2314.7px;top:1065.5px;width:10.9px;height:3px;background:rgba(0,0,0,0.5)"></i>
<i style="left:2329.2px;top:1065.5px;width:7.4px;height:3px;background:rgba(0,0,0,0.5)"></i>
<i style="left:2298.8px;top:1050.4px;width:11.2px;height:3.2px;background:rgba(0,0,0,.65)"></i>
<i style="left:2298.8px;top:1107.6px;width:84.8px;height:12px;background:#e6e9ec;border:1.6px solid rgba(0,0,0,0);border-radius:1.2px;box-sizing:border-box"></i>
<i style="left:2303.6px;top:1111.5px;width:18px;height:3px;background:rgba(0,0,0,0.5)"></i>
<i style="left:2325.2px;top:1111.5px;width:14px;height:3px;background:rgba(0,0,0,0.5)"></i>
<i style="left:2298.8px;top:1096.4px;width:11.2px;height:3.2px;background:rgba(0,0,0,.65)"></i>
<i style="left:2298.8px;top:1123.8px;width:10px;height:2.8px;background:rgba(0,0,0,.4)"></i>
<i style="left:2390px;top:1061.6px;width:86px;height:16.8px;background:#e6e9ec;border:1.6px solid rgba(0,0,0,0);border-radius:1.2px;box-sizing:border-box"></i>
<i style="left:2394.8px;top:1067.7px;width:10px;height:3px;background:rgba(0,0,0,0.5)"></i>
<i style="left:2408.4px;top:1067.7px;width:14.2px;height:3px;background:rgba(0,0,0,0.5)"></i>
<i style="left:2426.2px;top:1067.7px;width:4.7px;height:3px;background:rgba(0,0,0,0.5)"></i>
<i style="left:2390px;top:1050.4px;width:13.6px;height:3.2px;background:rgba(0,0,0,.65)"></i>
<i style="left:2390px;top:1107.6px;width:86px;height:16.8px;background:#e6e9ec;border:1.6px solid rgba(0,0,0,0);border-radius:1.2px;box-sizing:border-box"></i>
<i style="left:2394.8px;top:1113.7px;width:8.8px;height:3px;background:rgba(0,0,0,0.5)"></i>
<i style="left:2407.2px;top:1113.7px;width:19.3px;height:3px;background:rgba(0,0,0,0.5)"></i>
<i style="left:2390px;top:1096.4px;width:13.6px;height:3.2px;background:rgba(0,0,0,.65)"></i>
<i style="left:2390px;top:1128.6px;width:10px;height:2.8px;background:rgba(0,0,0,.4)"></i>
<i style="left:2576px;top:1061.6px;width:86.4px;height:12px;background:#e6e9ec;border:1.6px solid rgba(0,0,0,0);border-radius:1.2px;box-sizing:border-box"></i>
<i style="left:2580.8px;top:1065.5px;width:13.6px;height:3px;background:rgba(0,0,0,0.5)"></i>
<i style="left:2598px;top:1065.5px;width:14.5px;height:3px;background:rgba(0,0,0,0.5)"></i>
<i style="left:2576px;top:1107.6px;width:86.4px;height:12px;background:#e6e9ec;border:1.6px solid rgba(0,0,0,0);border-radius:1.2px;box-sizing:border-box"></i>
<i style="left:2580.8px;top:1111.5px;width:19.6px;height:3px;background:rgba(0,0,0,0.5)"></i>
<i style="left:2604px;top:1111.5px;width:13px;height:3px;background:rgba(0,0,0,0.5)"></i>
<i style="left:2576px;top:1123.8px;width:10px;height:2.8px;background:rgba(0,0,0,.4)"></i>
<i style="left:2731.6px;top:1061.6px;width:86.8px;height:12px;background:#e6e9ec;border:1.6px solid rgba(0,0,0,0);border-radius:1.2px;box-sizing:border-box"></i>
<i style="left:2736.4px;top:1065.5px;width:14.7px;height:3px;background:rgba(0,0,0,0.5)"></i>
<i style="left:2754.7px;top:1065.5px;width:17.4px;height:3px;background:rgba(0,0,0,0.5)"></i>
<i style="left:2731.6px;top:1107.6px;width:86.8px;height:12px;background:#e6e9ec;border:1.6px solid rgba(0,0,0,0);border-radius:1.2px;box-sizing:border-box"></i>
<i style="left:2736.4px;top:1111.5px;width:21.7px;height:3px;background:rgba(0,0,0,0.5)"></i>
<i style="left:2761.7px;top:1111.5px;width:11.1px;height:3px;background:rgba(0,0,0,0.5)"></i>
<i style="left:2731.6px;top:1123.8px;width:10px;height:2.8px;background:rgba(0,0,0,.4)"></i>
<i style="left:2900px;top:1061.6px;width:85.2px;height:16.4px;background:#e6e9ec;border:1.6px solid rgba(0,0,0,0);border-radius:1.2px;box-sizing:border-box"></i>
<i style="left:2904.8px;top:1067.5px;width:19.5px;height:3px;background:rgba(0,0,0,0.5)"></i>
<i style="left:2927.9px;top:1067.5px;width:12.7px;height:3px;background:rgba(0,0,0,0.5)"></i>
<i style="left:2900px;top:1107.6px;width:85.2px;height:16.4px;background:#e6e9ec;border:1.6px solid rgba(0,0,0,0);border-radius:1.2px;box-sizing:border-box"></i>
<i style="left:2904.8px;top:1113.5px;width:16.6px;height:3px;background:rgba(0,0,0,0.5)"></i>
<i style="left:2925px;top:1113.5px;width:13.2px;height:3px;background:rgba(0,0,0,0.5)"></i>
<i style="left:2900px;top:1128.2px;width:10px;height:2.8px;background:rgba(0,0,0,.4)"></i>
<i style="left:2526px;top:1065.6px;width:12.8px;height:3.2px;background:rgba(0,0,0,0.45)"></i>
<i style="left:2526px;top:1111.6px;width:12.8px;height:3.2px;background:rgba(0,0,0,0.45)"></i>
<i style="left:2681.2px;top:1065.6px;width:12.8px;height:3.2px;background:rgba(0,0,0,0.45)"></i>
<i style="left:2681.2px;top:1111.6px;width:12.8px;height:3.2px;background:rgba(0,0,0,0.45)"></i>
<i style="left:2840px;top:1065.6px;width:12.8px;height:3.2px;background:rgba(0,0,0,0.6)"></i>
<i style="left:2840px;top:1111.6px;width:12.8px;height:3.2px;background:rgba(0,0,0,0.6)"></i>
<i style="left:1902px;top:1185.6px;width:86px;height:11.2px;background:#fff;border:1.6px solid rgba(40,150,70,.6);border-radius:1.2px;box-sizing:border-box"></i>
<i style="left:1906.8px;top:1189.1px;width:12.3px;height:3px;background:rgba(0,0,0,0.5)"></i>
<i style="left:1922.7px;top:1189.1px;width:8px;height:3px;background:rgba(0,0,0,0.5)"></i>
<i style="left:1934.3px;top:1189.1px;width:8.6px;height:3px;background:rgba(0,0,0,0.5)"></i>
<i style="left:1902px;top:1199.6px;width:38.7px;height:2.4px;background:rgba(40,150,70,.6)"></i>
<i style="left:1994px;top:1185.6px;width:85.2px;height:12px;background:#fff;border:1.6px solid rgba(40,150,70,.6);border-radius:1.2px;box-sizing:border-box"></i>
<i style="left:1998.8px;top:1189.5px;width:8.2px;height:3px;background:rgba(0,0,0,0.5)"></i>
<i style="left:2010.6px;top:1189.5px;width:18.2px;height:3px;background:rgba(0,0,0,0.5)"></i>
<i style="left:2032.4px;top:1189.5px;width:2.2px;height:3px;background:rgba(0,0,0,0.5)"></i>
<i style="left:1994px;top:1200.4px;width:38.3px;height:2.4px;background:rgba(40,150,70,.6)"></i>
<i style="left:2086.4px;top:1185.6px;width:85.6px;height:16.8px;background:#fff;border:1.6px solid rgba(40,150,70,.6);border-radius:1.2px;box-sizing:border-box"></i>
<i style="left:2091.2px;top:1191.7px;width:9.6px;height:3px;background:rgba(0,0,0,0.5)"></i>
<i style="left:2104.4px;top:1191.7px;width:8.5px;height:3px;background:rgba(0,0,0,0.5)"></i>
<i style="left:2116.5px;top:1191.7px;width:10.7px;height:3px;background:rgba(0,0,0,0.5)"></i>
<i style="left:2086.4px;top:1205.2px;width:38.5px;height:2.4px;background:rgba(40,150,70,.6)"></i>
<i style="left:2207.6px;top:1185.6px;width:84.8px;height:11.2px;background:#fff;border:1.6px solid rgba(40,150,70,.6);border-radius:1.2px;box-sizing:border-box"></i>
<i style="left:2212.4px;top:1189.1px;width:20.1px;height:3px;background:rgba(0,0,0,0.5)"></i>
<i style="left:2236.1px;top:1189.1px;width:11.9px;height:3px;background:rgba(0,0,0,0.5)"></i>
<i style="left:2207.6px;top:1174.4px;width:8.8px;height:3.2px;background:rgba(0,0,0,.65)"></i>
<i style="left:2207.6px;top:1199.6px;width:38.2px;height:2.4px;background:rgba(40,150,70,.6)"></i>
<i style="left:2298.8px;top:1185.6px;width:84.8px;height:12px;background:#fff;border:1.6px solid rgba(40,150,70,.6);border-radius:1.2px;box-sizing:border-box"></i>
<i style="left:2303.6px;top:1189.5px;width:11.4px;height:3px;background:rgba(0,0,0,0.5)"></i>
<i style="left:2318.6px;top:1189.5px;width:10.8px;height:3px;background:rgba(0,0,0,0.5)"></i>
<i style="left:2333px;top:1189.5px;width:6.3px;height:3px;background:rgba(0,0,0,0.5)"></i>
<i style="left:2298.8px;top:1174.4px;width:11.2px;height:3.2px;background:rgba(0,0,0,.65)"></i>
<i style="left:2298.8px;top:1200.4px;width:38.2px;height:2.4px;background:rgba(40,150,70,.6)"></i>
<i style="left:2390px;top:1185.6px;width:86px;height:16.8px;background:#fff;border:1.6px solid rgba(40,150,70,.6);border-radius:1.2px;box-sizing:border-box"></i>
<i style="left:2394.8px;top:1191.7px;width:14px;height:3px;background:rgba(0,0,0,0.5)"></i>
<i style="left:2412.4px;top:1191.7px;width:9.5px;height:3px;background:rgba(0,0,0,0.5)"></i>
<i style="left:2425.5px;top:1191.7px;width:5.4px;height:3px;background:rgba(0,0,0,0.5)"></i>
<i style="left:2390px;top:1174.4px;width:13.6px;height:3.2px;background:rgba(0,0,0,.65)"></i>
<i style="left:2390px;top:1205.2px;width:38.7px;height:2.4px;background:rgba(40,150,70,.6)"></i>
<i style="left:2576px;top:1185.6px;width:86.4px;height:12px;background:#fff;border:1.6px solid rgba(40,150,70,.6);border-radius:1.2px;box-sizing:border-box"></i>
<i style="left:2580.8px;top:1189.5px;width:11.1px;height:3px;background:rgba(0,0,0,0.5)"></i>
<i style="left:2595.5px;top:1189.5px;width:21.4px;height:3px;background:rgba(0,0,0,0.5)"></i>
<i style="left:2576px;top:1200.4px;width:38.9px;height:2.4px;background:rgba(40,150,70,.6)"></i>
<i style="left:2731.6px;top:1185.6px;width:86.8px;height:12px;background:#fff;border:1.6px solid rgba(40,150,70,.6);border-radius:1.2px;box-sizing:border-box"></i>
<i style="left:2736.4px;top:1189.5px;width:21.6px;height:3px;background:rgba(0,0,0,0.5)"></i>
<i style="left:2761.6px;top:1189.5px;width:11.3px;height:3px;background:rgba(0,0,0,0.5)"></i>
<i style="left:2731.6px;top:1200.4px;width:39.1px;height:2.4px;background:rgba(40,150,70,.6)"></i>
<i style="left:2900px;top:1185.6px;width:85.2px;height:16.4px;background:#fff;border:1.6px solid rgba(40,150,70,.6);border-radius:1.2px;box-sizing:border-box"></i>
<i style="left:2904.8px;top:1191.5px;width:10.8px;height:3px;background:rgba(0,0,0,0.5)"></i>
<i style="left:2919.2px;top:1191.5px;width:21.4px;height:3px;background:rgba(0,0,0,0.5)"></i>
<i style="left:2900px;top:1204.8px;width:38.3px;height:2.4px;background:rgba(40,150,70,.6)"></i>
<i style="left:2526px;top:1189.6px;width:12.8px;height:3.2px;background:rgba(0,0,0,0.45)"></i>
<i style="left:2681.2px;top:1189.6px;width:12.8px;height:3.2px;background:rgba(0,0,0,0.45)"></i>
<i style="left:2840px;top:1189.6px;width:12.8px;height:3.2px;background:rgba(0,0,0,0.6)"></i>
<i style="left:1902px;top:1261.6px;width:86px;height:11.2px;background:#fff;border:1.6px solid rgba(40,150,70,.6);border-radius:1.2px;box-sizing:border-box"></i>
<i style="left:1906.8px;top:1265.1px;width:11.8px;height:3px;background:rgba(0,0,0,0.5)"></i>
<i style="left:1922.2px;top:1265.1px;width:12.5px;height:3px;background:rgba(0,0,0,0.5)"></i>
<i style="left:1938.3px;top:1265.1px;width:4.7px;height:3px;background:rgba(0,0,0,0.5)"></i>
<i style="left:1902px;top:1273.6px;width:28px;height:9.6px;background:#2f8f4c;border-radius:1.2px"></i>
<i style="left:1994px;top:1261.6px;width:85.2px;height:12px;background:#fff;border:1.6px solid rgba(40,150,70,.6);border-radius:1.2px;box-sizing:border-box"></i>
<i style="left:1998.8px;top:1265.5px;width:12.8px;height:3px;background:rgba(0,0,0,0.5)"></i>
<i style="left:2015.2px;top:1265.5px;width:14.2px;height:3px;background:rgba(0,0,0,0.5)"></i>
<i style="left:2033.1px;top:1265.5px;width:1.5px;height:3px;background:rgba(0,0,0,0.5)"></i>
<i style="left:1994px;top:1274.4px;width:28px;height:9.6px;background:#2f8f4c;border-radius:1.2px"></i>
<i style="left:2086.4px;top:1261.6px;width:85.6px;height:16.8px;background:#fff;border:1.6px solid rgba(40,150,70,.6);border-radius:1.2px;box-sizing:border-box"></i>
<i style="left:2091.2px;top:1267.7px;width:10.2px;height:3px;background:rgba(0,0,0,0.5)"></i>
<i style="left:2105px;top:1267.7px;width:14.7px;height:3px;background:rgba(0,0,0,0.5)"></i>
<i style="left:2123.2px;top:1267.7px;width:3.9px;height:3px;background:rgba(0,0,0,0.5)"></i>
<i style="left:2086.4px;top:1279.2px;width:28px;height:9.6px;background:#2f8f4c;border-radius:1.2px"></i>
<i style="left:2207.6px;top:1261.6px;width:84.8px;height:11.2px;background:#fff;border:1.6px solid rgba(40,150,70,.6);border-radius:1.2px;box-sizing:border-box"></i>
<i style="left:2212.4px;top:1265.1px;width:11.1px;height:3px;background:rgba(0,0,0,0.5)"></i>
<i style="left:2227.1px;top:1265.1px;width:8.5px;height:3px;background:rgba(0,0,0,0.5)"></i>
<i style="left:2239.2px;top:1265.1px;width:8.8px;height:3px;background:rgba(0,0,0,0.5)"></i>
<i style="left:2207.6px;top:1250.4px;width:8.8px;height:3.2px;background:rgba(0,0,0,.65)"></i>
<i style="left:2207.6px;top:1273.6px;width:28px;height:9.6px;background:#2f8f4c;border-radius:1.2px"></i>
<i style="left:2298.8px;top:1261.6px;width:84.8px;height:12px;background:#fff;border:1.6px solid rgba(40,150,70,.6);border-radius:1.2px;box-sizing:border-box"></i>
<i style="left:2303.6px;top:1265.5px;width:7.8px;height:3px;background:rgba(0,0,0,0.5)"></i>
<i style="left:2315px;top:1265.5px;width:7.5px;height:3px;background:rgba(0,0,0,0.5)"></i>
<i style="left:2326.1px;top:1265.5px;width:11.7px;height:3px;background:rgba(0,0,0,0.5)"></i>
<i style="left:2298.8px;top:1250.4px;width:11.2px;height:3.2px;background:rgba(0,0,0,.65)"></i>
<i style="left:2298.8px;top:1274.4px;width:28px;height:9.6px;background:#2f8f4c;border-radius:1.2px"></i>
<i style="left:2390px;top:1261.6px;width:86px;height:16.8px;background:#fff;border:1.6px solid rgba(40,150,70,.6);border-radius:1.2px;box-sizing:border-box"></i>
<i style="left:2394.8px;top:1267.7px;width:10.6px;height:3px;background:rgba(0,0,0,0.5)"></i>
<i style="left:2409px;top:1267.7px;width:15.9px;height:3px;background:rgba(0,0,0,0.5)"></i>
<i style="left:2428.5px;top:1267.7px;width:2.4px;height:3px;background:rgba(0,0,0,0.5)"></i>
<i style="left:2390px;top:1250.4px;width:13.6px;height:3.2px;background:rgba(0,0,0,.65)"></i>
<i style="left:2390px;top:1279.2px;width:28px;height:9.6px;background:#2f8f4c;border-radius:1.2px"></i>
<i style="left:2576px;top:1261.6px;width:86.4px;height:12px;background:#fff;border:1.6px solid rgba(40,150,70,.6);border-radius:1.2px;box-sizing:border-box"></i>
<i style="left:2580.8px;top:1265.5px;width:18.3px;height:3px;background:rgba(0,0,0,0.5)"></i>
<i style="left:2602.7px;top:1265.5px;width:14.4px;height:3px;background:rgba(0,0,0,0.5)"></i>
<i style="left:2576px;top:1274.4px;width:28px;height:9.6px;background:#2f8f4c;border-radius:1.2px"></i>
<i style="left:2731.6px;top:1261.6px;width:86.8px;height:12px;background:#fff;border:1.6px solid rgba(40,150,70,.6);border-radius:1.2px;box-sizing:border-box"></i>
<i style="left:2736.4px;top:1265.5px;width:17.8px;height:3px;background:rgba(0,0,0,0.5)"></i>
<i style="left:2757.8px;top:1265.5px;width:15.1px;height:3px;background:rgba(0,0,0,0.5)"></i>
<i style="left:2731.6px;top:1274.4px;width:28px;height:9.6px;background:#2f8f4c;border-radius:1.2px"></i>
<i style="left:2900px;top:1261.6px;width:85.2px;height:16.4px;background:#fff;border:1.6px solid rgba(40,150,70,.6);border-radius:1.2px;box-sizing:border-box"></i>
<i style="left:2904.8px;top:1267.5px;width:13px;height:3px;background:rgba(0,0,0,0.5)"></i>
<i style="left:2921.4px;top:1267.5px;width:12px;height:3px;background:rgba(0,0,0,0.5)"></i>
<i style="left:2937px;top:1267.5px;width:3.6px;height:3px;background:rgba(0,0,0,0.5)"></i>
<i style="left:2900px;top:1278.8px;width:46px;height:9.6px;background:#2f8f4c;border-radius:1.2px"></i>
<i style="left:2526px;top:1265.6px;width:12.8px;height:3.2px;background:rgba(0,0,0,0.45)"></i>
<i style="left:2681.2px;top:1265.6px;width:12.8px;height:3.2px;background:rgba(0,0,0,0.45)"></i>
<i style="left:2840px;top:1265.6px;width:12.8px;height:3.2px;background:rgba(0,0,0,0.6)"></i>
<i style="left:1902px;top:1343.2px;width:86px;height:11.2px;background:#fff;border:1.6px solid rgba(215,60,60,.6);border-radius:1.2px;box-sizing:border-box"></i>
<i style="left:1906.8px;top:1346.7px;width:9.4px;height:3px;background:rgba(0,0,0,0.5)"></i>
<i style="left:1919.8px;top:1346.7px;width:17.9px;height:3px;background:rgba(0,0,0,0.5)"></i>
<i style="left:1941.3px;top:1346.7px;width:1.6px;height:3px;background:rgba(0,0,0,0.5)"></i>
<i style="left:1902px;top:1357.2px;width:38.7px;height:2.4px;background:rgba(215,60,60,.6)"></i>
<i style="left:1994px;top:1343.2px;width:85.2px;height:12px;background:#fff;border:1.6px solid rgba(215,60,60,.6);border-radius:1.2px;box-sizing:border-box"></i>
<i style="left:1998.8px;top:1347.1px;width:7.8px;height:3px;background:rgba(0,0,0,0.5)"></i>
<i style="left:2010.2px;top:1347.1px;width:19.6px;height:3px;background:rgba(0,0,0,0.5)"></i>
<i style="left:1994px;top:1358px;width:38.3px;height:2.4px;background:rgba(215,60,60,.6)"></i>
<i style="left:2086.4px;top:1343.2px;width:85.6px;height:16.8px;background:#fff;border:1.6px solid rgba(215,60,60,.6);border-radius:1.2px;box-sizing:border-box"></i>
<i style="left:2091.2px;top:1349.3px;width:20.4px;height:3px;background:rgba(0,0,0,0.5)"></i>
<i style="left:2115.2px;top:1349.3px;width:12px;height:3px;background:rgba(0,0,0,0.5)"></i>
<i style="left:2086.4px;top:1362.8px;width:38.5px;height:2.4px;background:rgba(215,60,60,.6)"></i>
<i style="left:2207.6px;top:1343.2px;width:84.8px;height:11.2px;background:#fff;border:1.6px solid rgba(215,60,60,.6);border-radius:1.2px;box-sizing:border-box"></i>
<i style="left:2212.4px;top:1346.7px;width:18.1px;height:3px;background:rgba(0,0,0,0.5)"></i>
<i style="left:2234.1px;top:1346.7px;width:14px;height:3px;background:rgba(0,0,0,0.5)"></i>
<i style="left:2207.6px;top:1332px;width:8.8px;height:3.2px;background:rgba(0,0,0,.65)"></i>
<i style="left:2207.6px;top:1357.2px;width:38.2px;height:2.4px;background:rgba(215,60,60,.6)"></i>
<i style="left:2298.8px;top:1343.2px;width:84.8px;height:12px;background:#fff;border:1.6px solid rgba(215,60,60,.6);border-radius:1.2px;box-sizing:border-box"></i>
<i style="left:2303.6px;top:1347.1px;width:9.3px;height:3px;background:rgba(0,0,0,0.5)"></i>
<i style="left:2316.5px;top:1347.1px;width:15px;height:3px;background:rgba(0,0,0,0.5)"></i>
<i style="left:2335px;top:1347.1px;width:4.2px;height:3px;background:rgba(0,0,0,0.5)"></i>
<i style="left:2298.8px;top:1332px;width:11.2px;height:3.2px;background:rgba(0,0,0,.65)"></i>
<i style="left:2298.8px;top:1358px;width:38.2px;height:2.4px;background:rgba(215,60,60,.6)"></i>
<i style="left:2390px;top:1343.2px;width:86px;height:16.8px;background:#fff;border:1.6px solid rgba(215,60,60,.6);border-radius:1.2px;box-sizing:border-box"></i>
<i style="left:2394.8px;top:1349.3px;width:19.6px;height:3px;background:rgba(0,0,0,0.5)"></i>
<i style="left:2418px;top:1349.3px;width:13px;height:3px;background:rgba(0,0,0,0.5)"></i>
<i style="left:2390px;top:1332px;width:13.6px;height:3.2px;background:rgba(0,0,0,.65)"></i>
<i style="left:2390px;top:1362.8px;width:38.7px;height:2.4px;background:rgba(215,60,60,.6)"></i>
<i style="left:2576px;top:1343.2px;width:86.4px;height:12px;background:#fff;border:1.6px solid rgba(215,60,60,.6);border-radius:1.2px;box-sizing:border-box"></i>
<i style="left:2580.8px;top:1347.1px;width:19.4px;height:3px;background:rgba(0,0,0,0.5)"></i>
<i style="left:2603.8px;top:1347.1px;width:13.3px;height:3px;background:rgba(0,0,0,0.5)"></i>
<i style="left:2576px;top:1358px;width:38.9px;height:2.4px;background:rgba(215,60,60,.6)"></i>
<i style="left:2731.6px;top:1343.2px;width:86.8px;height:12px;background:#fff;border:1.6px solid rgba(215,60,60,.6);border-radius:1.2px;box-sizing:border-box"></i>
<i style="left:2736.4px;top:1347.1px;width:20.4px;height:3px;background:rgba(0,0,0,0.5)"></i>
<i style="left:2760.4px;top:1347.1px;width:12.4px;height:3px;background:rgba(0,0,0,0.5)"></i>
<i style="left:2731.6px;top:1358px;width:39.1px;height:2.4px;background:rgba(215,60,60,.6)"></i>
<i style="left:2900px;top:1343.2px;width:85.2px;height:16.4px;background:#fff;border:1.6px solid rgba(215,60,60,.6);border-radius:1.2px;box-sizing:border-box"></i>
<i style="left:2904.8px;top:1349.1px;width:17.5px;height:3px;background:rgba(0,0,0,0.5)"></i>
<i style="left:2925.9px;top:1349.1px;width:10.6px;height:3px;background:rgba(0,0,0,0.5)"></i>
<i style="left:2900px;top:1362.4px;width:38.3px;height:2.4px;background:rgba(215,60,60,.6)"></i>
<i style="left:2526px;top:1347.2px;width:12.8px;height:3.2px;background:rgba(0,0,0,0.45)"></i>
<i style="left:2681.2px;top:1347.2px;width:12.8px;height:3.2px;background:rgba(0,0,0,0.45)"></i>
<i style="left:2840px;top:1347.2px;width:12.8px;height:3.2px;background:rgba(0,0,0,0.6)"></i>
<i style="left:1902px;top:1409.6px;width:86px;height:11.2px;background:#fff;border:1.6px solid rgba(215,60,60,.6);border-radius:1.2px;box-sizing:border-box"></i>
<i style="left:1906.8px;top:1413.1px;width:7.7px;height:3px;background:rgba(0,0,0,0.5)"></i>
<i style="left:1918.1px;top:1413.1px;width:9.2px;height:3px;background:rgba(0,0,0,0.5)"></i>
<i style="left:1930.8px;top:1413.1px;width:12.1px;height:3px;background:rgba(0,0,0,0.5)"></i>
<i style="left:1902px;top:1421.6px;width:28px;height:9.6px;background:#cc3333;border-radius:1.2px"></i>
<i style="left:1994px;top:1409.6px;width:85.2px;height:12px;background:#fff;border:1.6px solid rgba(215,60,60,.6);border-radius:1.2px;box-sizing:border-box"></i>
<i style="left:1998.8px;top:1413.5px;width:8.8px;height:3px;background:rgba(0,0,0,0.5)"></i>
<i style="left:2011.2px;top:1413.5px;width:19.6px;height:3px;background:rgba(0,0,0,0.5)"></i>
<i style="left:1994px;top:1422.4px;width:28px;height:9.6px;background:#cc3333;border-radius:1.2px"></i>
<i style="left:2086.4px;top:1409.6px;width:85.6px;height:16.8px;background:#fff;border:1.6px solid rgba(215,60,60,.6);border-radius:1.2px;box-sizing:border-box"></i>
<i style="left:2091.2px;top:1415.7px;width:15.5px;height:3px;background:rgba(0,0,0,0.5)"></i>
<i style="left:2110.3px;top:1415.7px;width:16.5px;height:3px;background:rgba(0,0,0,0.5)"></i>
<i style="left:2086.4px;top:1427.2px;width:28px;height:9.6px;background:#cc3333;border-radius:1.2px"></i>
<i style="left:2207.6px;top:1409.6px;width:84.8px;height:11.2px;background:#fff;border:1.6px solid rgba(215,60,60,.6);border-radius:1.2px;box-sizing:border-box"></i>
<i style="left:2212.4px;top:1413.1px;width:16.5px;height:3px;background:rgba(0,0,0,0.5)"></i>
<i style="left:2232.5px;top:1413.1px;width:15.5px;height:3px;background:rgba(0,0,0,0.5)"></i>
<i style="left:2207.6px;top:1398.4px;width:8.8px;height:3.2px;background:rgba(0,0,0,.65)"></i>
<i style="left:2207.6px;top:1421.6px;width:28px;height:9.6px;background:#cc3333;border-radius:1.2px"></i>
<i style="left:2298.8px;top:1409.6px;width:84.8px;height:12px;background:#fff;border:1.6px solid rgba(215,60,60,.6);border-radius:1.2px;box-sizing:border-box"></i>
<i style="left:2303.6px;top:1413.5px;width:14.4px;height:3px;background:rgba(0,0,0,0.5)"></i>
<i style="left:2321.6px;top:1413.5px;width:7.2px;height:3px;background:rgba(0,0,0,0.5)"></i>
<i style="left:2332.5px;top:1413.5px;width:6.7px;height:3px;background:rgba(0,0,0,0.5)"></i>
<i style="left:2298.8px;top:1398.4px;width:11.2px;height:3.2px;background:rgba(0,0,0,.65)"></i>
<i style="left:2298.8px;top:1422.4px;width:28px;height:9.6px;background:#cc3333;border-radius:1.2px"></i>
<i style="left:2390px;top:1409.6px;width:86px;height:16.8px;background:#fff;border:1.6px solid rgba(215,60,60,.6);border-radius:1.2px;box-sizing:border-box"></i>
<i style="left:2394.8px;top:1415.7px;width:18.3px;height:3px;background:rgba(0,0,0,0.5)"></i>
<i style="left:2416.7px;top:1415.7px;width:14.2px;height:3px;background:rgba(0,0,0,0.5)"></i>
<i style="left:2390px;top:1398.4px;width:13.6px;height:3.2px;background:rgba(0,0,0,.65)"></i>
<i style="left:2390px;top:1427.2px;width:28px;height:9.6px;background:#cc3333;border-radius:1.2px"></i>
<i style="left:2576px;top:1409.6px;width:86.4px;height:12px;background:#fff;border:1.6px solid rgba(215,60,60,.6);border-radius:1.2px;box-sizing:border-box"></i>
<i style="left:2580.8px;top:1413.5px;width:15.1px;height:3px;background:rgba(0,0,0,0.5)"></i>
<i style="left:2599.5px;top:1413.5px;width:17px;height:3px;background:rgba(0,0,0,0.5)"></i>
<i style="left:2576px;top:1422.4px;width:28px;height:9.6px;background:#cc3333;border-radius:1.2px"></i>
<i style="left:2731.6px;top:1409.6px;width:86.8px;height:12px;background:#fff;border:1.6px solid rgba(215,60,60,.6);border-radius:1.2px;box-sizing:border-box"></i>
<i style="left:2736.4px;top:1413.5px;width:8.2px;height:3px;background:rgba(0,0,0,0.5)"></i>
<i style="left:2748.2px;top:1413.5px;width:18.1px;height:3px;background:rgba(0,0,0,0.5)"></i>
<i style="left:2769.9px;top:1413.5px;width:3px;height:3px;background:rgba(0,0,0,0.5)"></i>
<i style="left:2731.6px;top:1422.4px;width:28px;height:9.6px;background:#cc3333;border-radius:1.2px"></i>
<i style="left:2900px;top:1409.6px;width:85.2px;height:16.4px;background:#fff;border:1.6px solid rgba(215,60,60,.6);border-radius:1.2px;box-sizing:border-box"></i>
<i style="left:2904.8px;top:1415.5px;width:8.3px;height:3px;background:rgba(0,0,0,0.5)"></i>
<i style="left:2916.7px;top:1415.5px;width:11.1px;height:3px;background:rgba(0,0,0,0.5)"></i>
<i style="left:2931.4px;top:1415.5px;width:9.2px;height:3px;background:rgba(0,0,0,0.5)"></i>
<i style="left:2900px;top:1426.8px;width:28px;height:9.6px;background:#cc3333;border-radius:1.2px"></i>
<i style="left:2526px;top:1413.6px;width:12.8px;height:3.2px;background:rgba(0,0,0,0.45)"></i>
<i style="left:2681.2px;top:1413.6px;width:12.8px;height:3.2px;background:rgba(0,0,0,0.45)"></i>
<i style="left:2840px;top:1413.6px;width:12.8px;height:3.2px;background:rgba(0,0,0,0.6)"></i>
<i style="left:1896px;top:1527.8px;width:24px;height:3.6px;background:rgba(0,0,0,.6)"></i>
<i style="left:1894.4px;top:1554px;width:664.8px;height:690px;border:2.4px dashed rgba(140,90,255,.22);box-sizing:border-box;border-right:0;border-top:0"></i>
<i style="left:1903.6px;top:1580px;width:132.4px;height:19.6px;background:#fff;border:1.6px solid rgba(0,0,0,.08);border-radius:1.2px;box-sizing:border-box"></i>
<i style="left:1908.4px;top:1587.3px;width:10.2px;height:3px;background:rgba(0,0,0,0.3)"></i>
<i style="left:1922.2px;top:1587.3px;width:6.2px;height:3px;background:rgba(0,0,0,0.3)"></i>
<i style="left:2090px;top:1580px;width:131.2px;height:21.2px;background:#fff;border:1.6px solid rgba(0,0,0,.08);border-radius:1.2px;box-sizing:border-box"></i>
<i style="left:2094.8px;top:1588px;width:21.6px;height:3px;background:rgba(0,0,0,0.35)"></i>
<i style="left:2090px;top:1565.2px;width:6.4px;height:3.2px;background:rgba(0,0,0,.5)"></i>
<i style="left:2090px;top:1624px;width:131.2px;height:21.2px;background:#fff;border:1.6px solid rgba(0,0,0,.08);border-radius:1.2px;box-sizing:border-box"></i>
<i style="left:2094.8px;top:1632px;width:14.5px;height:3px;background:rgba(0,0,0,0.35)"></i>
<i style="left:2112.9px;top:1632px;width:5.9px;height:3px;background:rgba(0,0,0,0.35)"></i>
<i style="left:2090px;top:1609.2px;width:6.4px;height:3.2px;background:rgba(0,0,0,.5)"></i>
<i style="left:2090px;top:1649px;width:8.8px;height:2.8px;background:rgba(0,0,0,.4)"></i>
<i style="left:2348px;top:1580px;width:131.6px;height:21.2px;background:#fff;border:1.6px solid rgba(0,0,0,.08);border-radius:1.2px;box-sizing:border-box"></i>
<i style="left:2352.8px;top:1588px;width:14.3px;height:3px;background:rgba(0,0,0,0.35)"></i>
<i style="left:2370.7px;top:1588px;width:6.1px;height:3px;background:rgba(0,0,0,0.35)"></i>
<i style="left:2295.2px;top:1580.4px;width:11.2px;height:3.2px;background:rgba(0,0,0,.45)"></i>
<i style="left:2348px;top:1624px;width:131.6px;height:21.2px;background:#fff;border:1.6px solid rgba(0,0,0,.08);border-radius:1.2px;box-sizing:border-box"></i>
<i style="left:2352.8px;top:1632px;width:18.6px;height:3px;background:rgba(0,0,0,0.35)"></i>
<i style="left:2375px;top:1632px;width:1.8px;height:3px;background:rgba(0,0,0,0.35)"></i>
<i style="left:2295.2px;top:1624.4px;width:11.2px;height:3.2px;background:rgba(0,0,0,.45)"></i>
<i style="left:2348px;top:1649px;width:8.8px;height:2.8px;background:rgba(0,0,0,.4)"></i>
<i style="left:1903.6px;top:1699.2px;width:132.4px;height:19.6px;background:#fff;border:1.6px solid rgba(90,160,230,.45);border-radius:1.2px;box-sizing:border-box"></i>
<i style="left:1908.4px;top:1706.5px;width:16.7px;height:3px;background:rgba(0,0,0,0.3)"></i>
<i style="left:2090px;top:1699.2px;width:131.2px;height:21.2px;background:#fff;border:1.6px solid rgba(90,160,230,.45);border-radius:1.2px;box-sizing:border-box"></i>
<i style="left:2094.8px;top:1707.2px;width:8.3px;height:3px;background:rgba(0,0,0,0.35)"></i>
<i style="left:2106.7px;top:1707.2px;width:9.4px;height:3px;background:rgba(0,0,0,0.35)"></i>
<i style="left:2090px;top:1684.4px;width:6.4px;height:3.2px;background:rgba(0,0,0,.5)"></i>
<i style="left:2090px;top:1741.2px;width:131.2px;height:21.2px;background:#fff;border:1.6px solid rgba(90,160,230,.45);border-radius:1.2px;box-sizing:border-box"></i>
<i style="left:2094.8px;top:1749.2px;width:11px;height:3px;background:rgba(0,0,0,0.35)"></i>
<i style="left:2109.4px;top:1749.2px;width:9.4px;height:3px;background:rgba(0,0,0,0.35)"></i>
<i style="left:2090px;top:1726.4px;width:6.4px;height:3.2px;background:rgba(0,0,0,.5)"></i>
<i style="left:2090px;top:1766.2px;width:8.8px;height:2.8px;background:rgba(0,0,0,.4)"></i>
<i style="left:2348px;top:1699.2px;width:131.6px;height:21.2px;background:#fff;border:1.6px solid rgba(90,160,230,.45);border-radius:1.2px;box-sizing:border-box"></i>
<i style="left:2352.8px;top:1707.2px;width:11.7px;height:3px;background:rgba(0,0,0,0.35)"></i>
<i style="left:2368.1px;top:1707.2px;width:8.7px;height:3px;background:rgba(0,0,0,0.35)"></i>
<i style="left:2295.2px;top:1699.6px;width:11.2px;height:3.2px;background:rgba(0,0,0,.45)"></i>
<i style="left:2348px;top:1741.2px;width:131.6px;height:21.2px;background:#fff;border:1.6px solid rgba(90,160,230,.45);border-radius:1.2px;box-sizing:border-box"></i>
<i style="left:2352.8px;top:1749.2px;width:7.4px;height:3px;background:rgba(0,0,0,0.35)"></i>
<i style="left:2363.8px;top:1749.2px;width:8.1px;height:3px;background:rgba(0,0,0,0.35)"></i>
<i style="left:2375.5px;top:1749.2px;width:1.3px;height:3px;background:rgba(0,0,0,0.35)"></i>
<i style="left:2295.2px;top:1741.6px;width:11.2px;height:3.2px;background:rgba(0,0,0,.45)"></i>
<i style="left:2348px;top:1766.2px;width:8.8px;height:2.8px;background:rgba(0,0,0,.4)"></i>
<i style="left:1903.6px;top:1823.2px;width:112.4px;height:19.6px;background:#e6e9ec;border:1.6px solid rgba(0,0,0,0);border-radius:1.2px;box-sizing:border-box"></i>
<i style="left:1908.4px;top:1830.5px;width:17.1px;height:3px;background:rgba(0,0,0,0.3)"></i>
<i style="left:2090px;top:1823.2px;width:131.2px;height:21.2px;background:#e6e9ec;border:1.6px solid rgba(0,0,0,0);border-radius:1.2px;box-sizing:border-box"></i>
<i style="left:2094.8px;top:1831.2px;width:17.4px;height:3px;background:rgba(0,0,0,0.35)"></i>
<i style="left:2115.8px;top:1831.2px;width:3px;height:3px;background:rgba(0,0,0,0.35)"></i>
<i style="left:2090px;top:1808.4px;width:6.4px;height:3.2px;background:rgba(0,0,0,.5)"></i>
<i style="left:2090px;top:1871.2px;width:131.2px;height:21.2px;background:#e6e9ec;border:1.6px solid rgba(0,0,0,0);border-radius:1.2px;box-sizing:border-box"></i>
<i style="left:2094.8px;top:1879.2px;width:11.5px;height:3px;background:rgba(0,0,0,0.35)"></i>
<i style="left:2109.9px;top:1879.2px;width:8.9px;height:3px;background:rgba(0,0,0,0.35)"></i>
<i style="left:2090px;top:1856.4px;width:6.4px;height:3.2px;background:rgba(0,0,0,.5)"></i>
<i style="left:2090px;top:1896.2px;width:8.8px;height:2.8px;background:rgba(0,0,0,.4)"></i>
<i style="left:2348px;top:1823.2px;width:131.6px;height:21.2px;background:#e6e9ec;border:1.6px solid rgba(0,0,0,0);border-radius:1.2px;box-sizing:border-box"></i>
<i style="left:2352.8px;top:1831.2px;width:14.1px;height:3px;background:rgba(0,0,0,0.35)"></i>
<i style="left:2370.5px;top:1831.2px;width:6.3px;height:3px;background:rgba(0,0,0,0.35)"></i>
<i style="left:2295.2px;top:1823.6px;width:11.2px;height:3.2px;background:rgba(0,0,0,.45)"></i>
<i style="left:2348px;top:1871.2px;width:131.6px;height:21.2px;background:#e6e9ec;border:1.6px solid rgba(0,0,0,0);border-radius:1.2px;box-sizing:border-box"></i>
<i style="left:2352.8px;top:1879.2px;width:9px;height:3px;background:rgba(0,0,0,0.35)"></i>
<i style="left:2365.4px;top:1879.2px;width:11.4px;height:3px;background:rgba(0,0,0,0.35)"></i>
<i style="left:2295.2px;top:1871.6px;width:11.2px;height:3.2px;background:rgba(0,0,0,.45)"></i>
<i style="left:2348px;top:1896.2px;width:8.8px;height:2.8px;background:rgba(0,0,0,.4)"></i>
<i style="left:1903.6px;top:1945.2px;width:132.4px;height:23.2px;background:#fff;border:1.6px solid rgba(40,150,70,.6);border-radius:1.2px;box-sizing:border-box"></i>
<i style="left:1908.4px;top:1954.1px;width:10.1px;height:3px;background:rgba(0,0,0,0.3)"></i>
<i style="left:1922.1px;top:1954.1px;width:6.3px;height:3px;background:rgba(0,0,0,0.3)"></i>
<i style="left:2090px;top:1945.2px;width:131.2px;height:24.4px;background:#fff;border:1.6px solid rgba(40,150,70,.6);border-radius:1.2px;box-sizing:border-box"></i>
<i style="left:2094.8px;top:1954.7px;width:21.1px;height:3px;background:rgba(0,0,0,0.35)"></i>
<i style="left:2090px;top:1930.4px;width:6.4px;height:3.2px;background:rgba(0,0,0,.5)"></i>
<i style="left:2090px;top:1973.2px;width:32px;height:2.4px;background:rgba(40,150,70,.5)"></i>
<i style="left:2348px;top:1945.2px;width:131.6px;height:24.4px;background:#fff;border:1.6px solid rgba(40,150,70,.6);border-radius:1.2px;box-sizing:border-box"></i>
<i style="left:2352.8px;top:1954.7px;width:7.5px;height:3px;background:rgba(0,0,0,0.35)"></i>
<i style="left:2363.9px;top:1954.7px;width:12.9px;height:3px;background:rgba(0,0,0,0.35)"></i>
<i style="left:2295.2px;top:1945.6px;width:11.2px;height:3.2px;background:rgba(0,0,0,.45)"></i>
<i style="left:2348px;top:1973.2px;width:32px;height:2.4px;background:rgba(40,150,70,.5)"></i>
<i style="left:1904px;top:1973.2px;width:32px;height:2.4px;background:rgba(40,150,70,.5)"></i>
<i style="left:1903.6px;top:2021.2px;width:132.4px;height:23.2px;background:#fff;border:1.6px solid rgba(40,150,70,.6);border-radius:1.2px;box-sizing:border-box"></i>
<i style="left:1908.4px;top:2030.1px;width:19.3px;height:3px;background:rgba(0,0,0,0.3)"></i>
<i style="left:2090px;top:2021.2px;width:131.2px;height:24.4px;background:#fff;border:1.6px solid rgba(40,150,70,.6);border-radius:1.2px;box-sizing:border-box"></i>
<i style="left:2094.8px;top:2030.7px;width:21.5px;height:3px;background:rgba(0,0,0,0.35)"></i>
<i style="left:2090px;top:2006.4px;width:6.4px;height:3.2px;background:rgba(0,0,0,.5)"></i>
<i style="left:2090px;top:2046.4px;width:28.8px;height:10.4px;background:#2f8f4c;border-radius:1.2px"></i>
<i style="left:2348px;top:2021.2px;width:131.6px;height:24.4px;background:#fff;border:1.6px solid rgba(40,150,70,.6);border-radius:1.2px;box-sizing:border-box"></i>
<i style="left:2352.8px;top:2030.7px;width:13.9px;height:3px;background:rgba(0,0,0,0.35)"></i>
<i style="left:2370.3px;top:2030.7px;width:6.5px;height:3px;background:rgba(0,0,0,0.35)"></i>
<i style="left:2295.2px;top:2021.6px;width:11.2px;height:3.2px;background:rgba(0,0,0,.45)"></i>
<i style="left:2348px;top:2046.4px;width:28.8px;height:10.4px;background:#2f8f4c;border-radius:1.2px"></i>
<i style="left:1901.6px;top:2046.4px;width:28.8px;height:10.4px;background:#2f8f4c;border-radius:1.2px"></i>
<i style="left:1903.6px;top:2105.2px;width:132.4px;height:23.2px;background:#fff;border:1.6px solid rgba(215,60,60,.6);border-radius:1.2px;box-sizing:border-box"></i>
<i style="left:1908.4px;top:2114.1px;width:10.3px;height:3px;background:rgba(0,0,0,0.3)"></i>
<i style="left:1922.3px;top:2114.1px;width:6.1px;height:3px;background:rgba(0,0,0,0.3)"></i>
<i style="left:2090px;top:2105.2px;width:131.2px;height:24.4px;background:#fff;border:1.6px solid rgba(215,60,60,.6);border-radius:1.2px;box-sizing:border-box"></i>
<i style="left:2094.8px;top:2114.7px;width:10.3px;height:3px;background:rgba(0,0,0,0.35)"></i>
<i style="left:2108.7px;top:2114.7px;width:10.1px;height:3px;background:rgba(0,0,0,0.35)"></i>
<i style="left:2090px;top:2090.4px;width:6.4px;height:3.2px;background:rgba(0,0,0,.5)"></i>
<i style="left:2090px;top:2133.2px;width:32px;height:2.4px;background:rgba(215,60,60,.5)"></i>
<i style="left:2348px;top:2105.2px;width:131.6px;height:24.4px;background:#fff;border:1.6px solid rgba(215,60,60,.6);border-radius:1.2px;box-sizing:border-box"></i>
<i style="left:2352.8px;top:2114.7px;width:9.3px;height:3px;background:rgba(0,0,0,0.35)"></i>
<i style="left:2365.7px;top:2114.7px;width:11.1px;height:3px;background:rgba(0,0,0,0.35)"></i>
<i style="left:2295.2px;top:2105.6px;width:11.2px;height:3.2px;background:rgba(0,0,0,.45)"></i>
<i style="left:2348px;top:2133.2px;width:32px;height:2.4px;background:rgba(215,60,60,.5)"></i>
<i style="left:1904px;top:2133.2px;width:32px;height:2.4px;background:rgba(215,60,60,.5)"></i>
<i style="left:1903.6px;top:2181.6px;width:132.4px;height:23.2px;background:#fff;border:1.6px solid rgba(215,60,60,.6);border-radius:1.2px;box-sizing:border-box"></i>
<i style="left:1908.4px;top:2190.5px;width:20px;height:3px;background:rgba(0,0,0,0.3)"></i>
<i style="left:2090px;top:2181.6px;width:131.2px;height:24.4px;background:#fff;border:1.6px solid rgba(215,60,60,.6);border-radius:1.2px;box-sizing:border-box"></i>
<i style="left:2094.8px;top:2191.1px;width:9.2px;height:3px;background:rgba(0,0,0,0.35)"></i>
<i style="left:2107.6px;top:2191.1px;width:11.2px;height:3px;background:rgba(0,0,0,0.35)"></i>
<i style="left:2090px;top:2166.8px;width:6.4px;height:3.2px;background:rgba(0,0,0,.5)"></i>
<i style="left:2090px;top:2206.8px;width:28.8px;height:10.4px;background:#cc3333;border-radius:1.2px"></i>
<i style="left:2348px;top:2181.6px;width:131.6px;height:24.4px;background:#fff;border:1.6px solid rgba(215,60,60,.6);border-radius:1.2px;box-sizing:border-box"></i>
<i style="left:2352.8px;top:2191.1px;width:14.7px;height:3px;background:rgba(0,0,0,0.35)"></i>
<i style="left:2371.1px;top:2191.1px;width:5.7px;height:3px;background:rgba(0,0,0,0.35)"></i>
<i style="left:2295.2px;top:2182px;width:11.2px;height:3.2px;background:rgba(0,0,0,.45)"></i>
<i style="left:2348px;top:2206.8px;width:28.8px;height:10.4px;background:#cc3333;border-radius:1.2px"></i>
<i style="left:1901.6px;top:2206.8px;width:28.8px;height:10.4px;background:#cc3333;border-radius:1.2px"></i>
<i style="left:2588.8px;top:1535px;width:23.2px;height:3.6px;background:rgba(0,0,0,.55)"></i>
<i style="left:2596px;top:1560.8px;width:86.4px;height:10px;background:#fff;border:1.6px solid rgba(0,0,0,.08);border-radius:1.2px;box-sizing:border-box"></i>
<i style="left:2600.8px;top:1563.8px;width:17.6px;height:3px;background:rgba(0,0,0,0.5)"></i>
<i style="left:2622px;top:1563.8px;width:10.6px;height:3px;background:rgba(0,0,0,0.5)"></i>
<i style="left:2673.6px;top:1563.8px;width:4px;height:4px;background:rgba(0,0,0,.55)"></i>
<i style="left:2689.2px;top:1560.8px;width:85.6px;height:13.2px;background:#fff;border:1.6px solid rgba(215,60,60,.6);border-radius:1.2px;box-sizing:border-box"></i>
<i style="left:2596px;top:1585.2px;width:86.4px;height:9.6px;background:#fff;border:1.6px solid rgba(0,0,0,.08);border-radius:1.2px;box-sizing:border-box"></i>
<i style="left:2600.8px;top:1588px;width:20.5px;height:3px;background:rgba(0,0,0,0.6)"></i>
<i style="left:2624.9px;top:1588px;width:7.9px;height:3px;background:rgba(0,0,0,0.6)"></i>
<i style="left:2673.6px;top:1588px;width:4px;height:4px;background:rgba(0,0,0,.55)"></i>
<i style="left:2596.8px;top:1596px;width:63.6px;height:47.2px;background:#000;border-radius:1.6px"></i>
<i style="left:2601.2px;top:1601.2px;width:24px;height:2.4px;background:rgba(255,255,255,.55)"></i>
<i style="left:2601.2px;top:1612.4px;width:24px;height:2.4px;background:rgba(255,255,255,.55)"></i>
<i style="left:2601.2px;top:1623.6px;width:24px;height:2.4px;background:rgba(255,255,255,.55)"></i>
<i style="left:2590px;top:1696.8px;width:214px;height:2px;background:repeating-linear-gradient(90deg,rgba(140,90,255,.3) 0 8px,transparent 8px 12px)"></i>
<i style="left:3266px;top:128px;width:1238px;height:1096.8px;background:#fff"></i>
<i style="left:3266px;top:128px;width:1238px;height:51.2px;background:#b2bbc4"></i>
<b style="left:3272px;top:138.8px;font-size:13.2px;color:#000;font-weight:bold;-webkit-text-stroke:.9px #000">Components - Basics</b>
<b style="left:3272px;top:157.6px;font-size:10px;color:#000;font-weight:bold;-webkit-text-stroke:.5px #000">03 - Select</b>
<i style="left:3285.6px;top:208.2px;width:14px;height:3.6px;background:rgba(0,0,0,.6)"></i>
<i style="left:3285.6px;top:236.4px;width:84px;height:10.4px;background:#fff;border:1.6px solid rgba(0,0,0,.08);border-radius:1.2px;box-sizing:border-box"></i>
<i style="left:3290.4px;top:239.6px;width:7.6px;height:3px;background:rgba(0,0,0,0.3)"></i>
<i style="left:3301.6px;top:239.6px;width:7.3px;height:3px;background:rgba(0,0,0,0.3)"></i>
<i style="left:3312.4px;top:239.6px;width:6px;height:3px;background:rgba(0,0,0,0.3)"></i>
<i style="left:3360.8px;top:239.6px;width:4px;height:4px;background:rgba(0,0,0,.55)"></i>
<i style="left:3408px;top:236px;width:13.9px;height:4px;background:rgba(0,0,0,.55)"></i>
<i style="left:3425.5px;top:236px;width:11.7px;height:4px;background:rgba(0,0,0,.55)"></i>
<i style="left:3440.7px;top:236px;width:9.3px;height:4px;background:rgba(0,0,0,.55)"></i>
<i style="left:3412.8px;top:244.6px;width:2.8px;height:2.8px;background:rgba(0,0,0,.4)"></i>
<i style="left:3419.6px;top:244px;width:12.3px;height:4px;background:rgba(0,0,0,.4)"></i>
<i style="left:3435.5px;top:244px;width:11.9px;height:4px;background:rgba(0,0,0,.4)"></i>
<i style="left:3451px;top:244px;width:2.6px;height:4px;background:rgba(0,0,0,.4)"></i>
<i style="left:3412.8px;top:252.6px;width:2.8px;height:2.8px;background:rgba(0,0,0,.4)"></i>
<i style="left:3419.6px;top:252px;width:7.2px;height:4px;background:rgba(0,0,0,.4)"></i>
<i style="left:3430.4px;top:252px;width:18.3px;height:4px;background:rgba(0,0,0,.4)"></i>
<i style="left:3452.3px;top:252px;width:19.6px;height:4px;background:rgba(0,0,0,.4)"></i>
<i style="left:3475.6px;top:252px;width:9px;height:4px;background:rgba(0,0,0,.4)"></i>
<i style="left:3412.8px;top:260.6px;width:2.8px;height:2.8px;background:rgba(0,0,0,.4)"></i>
<i style="left:3419.6px;top:260px;width:20.9px;height:4px;background:rgba(0,0,0,.4)"></i>
<i style="left:3444.1px;top:260px;width:17.8px;height:4px;background:rgba(0,0,0,.4)"></i>
<i style="left:3465.5px;top:260px;width:6.1px;height:4px;background:rgba(0,0,0,.4)"></i>
<i style="left:3412.8px;top:268.6px;width:2.8px;height:2.8px;background:rgba(0,0,0,.4)"></i>
<i style="left:3419.6px;top:268px;width:11.5px;height:4px;background:rgba(0,0,0,.4)"></i>
<i style="left:3434.7px;top:268px;width:12.7px;height:4px;background:rgba(0,0,0,.4)"></i>
<i style="left:3451px;top:268px;width:13px;height:4px;background:rgba(0,0,0,.4)"></i>
<i style="left:3467.6px;top:268px;width:22px;height:4px;background:rgba(0,0,0,.4)"></i>
<i style="left:3493.2px;top:268px;width:8.4px;height:4px;background:rgba(0,0,0,.4)"></i>
<i style="left:3285.6px;top:284px;width:84px;height:10.4px;background:#fff;border:1.6px solid rgba(0,0,0,.08);border-radius:1.2px;box-sizing:border-box"></i>
<i style="left:3290.4px;top:287.2px;width:12.5px;height:3px;background:rgba(0,0,0,0.6)"></i>
<i style="left:3306.5px;top:287.2px;width:11.9px;height:3px;background:rgba(0,0,0,0.6)"></i>
<i style="left:3360.8px;top:287.2px;width:4px;height:4px;background:rgba(0,0,0,.55)"></i>
<i style="left:3285.6px;top:294px;width:64.8px;height:49.6px;background:#000;border-radius:1.6px"></i>
<i style="left:3290.4px;top:300px;width:20px;height:2.4px;background:rgba(255,255,255,.55)"></i>
<i style="left:3290.4px;top:311.2px;width:20px;height:2.4px;background:rgba(255,255,255,.55)"></i>
<i style="left:3290.4px;top:322.4px;width:20px;height:2.4px;background:rgba(255,255,255,.55)"></i>
<i style="left:3408px;top:288px;width:11.3px;height:4px;background:rgba(0,0,0,.55)"></i>
<i style="left:3422.9px;top:288px;width:7.9px;height:4px;background:rgba(0,0,0,.55)"></i>
<i style="left:3434.4px;top:288px;width:8.7px;height:4px;background:rgba(0,0,0,.55)"></i>
<i style="left:3446.7px;top:288px;width:1.3px;height:4px;background:rgba(0,0,0,.55)"></i>
<i style="left:3412.8px;top:296.6px;width:2.8px;height:2.8px;background:rgba(0,0,0,.4)"></i>
<i style="left:3419.6px;top:296px;width:11.4px;height:4px;background:rgba(0,0,0,.4)"></i>
<i style="left:3434.6px;top:296px;width:6.6px;height:4px;background:rgba(0,0,0,.4)"></i>
<i style="left:3412.8px;top:304.6px;width:2.8px;height:2.8px;background:rgba(0,0,0,.4)"></i>
<i style="left:3419.6px;top:304px;width:10.9px;height:4px;background:rgba(0,0,0,.4)"></i>
<i style="left:3434.1px;top:304px;width:11.1px;height:4px;background:rgba(0,0,0,.4)"></i>
<i style="left:3448.8px;top:304px;width:14.8px;height:4px;background:rgba(0,0,0,.4)"></i>
<i style="left:3467.2px;top:304px;width:10px;height:4px;background:rgba(0,0,0,.4)"></i>
<i style="left:3480.8px;top:304px;width:4.4px;height:4px;background:rgba(0,0,0,.4)"></i>
<i style="left:3412.8px;top:312.6px;width:2.8px;height:2.8px;background:rgba(0,0,0,.4)"></i>
<i style="left:3419.6px;top:312px;width:21.4px;height:4px;background:rgba(0,0,0,.4)"></i>
<i style="left:3444.6px;top:312px;width:12.6px;height:4px;background:rgba(0,0,0,.4)"></i>
<i style="left:3412.8px;top:320.6px;width:2.8px;height:2.8px;background:rgba(0,0,0,.4)"></i>
<i style="left:3419.6px;top:320px;width:19.2px;height:4px;background:rgba(0,0,0,.4)"></i>
<i style="left:3442.4px;top:320px;width:16.5px;height:4px;background:rgba(0,0,0,.4)"></i>
<i style="left:3462.6px;top:320px;width:20.7px;height:4px;background:rgba(0,0,0,.4)"></i>
<i style="left:3486.9px;top:320px;width:20.3px;height:4px;background:rgba(0,0,0,.4)"></i>
<i style="left:3412.8px;top:328.6px;width:2.8px;height:2.8px;background:rgba(0,0,0,.4)"></i>
<i style="left:3419.6px;top:328px;width:15.3px;height:4px;background:rgba(0,0,0,.4)"></i>
<i style="left:3438.5px;top:328px;width:17.8px;height:4px;background:rgba(0,0,0,.4)"></i>
<i style="left:3460px;top:328px;width:7.9px;height:4px;background:rgba(0,0,0,.4)"></i>
<i style="left:3471.5px;top:328px;width:9.7px;height:4px;background:rgba(0,0,0,.4)"></i>
<i style="left:3412.8px;top:336.6px;width:2.8px;height:2.8px;background:rgba(0,0,0,.4)"></i>
<i style="left:3419.6px;top:336px;width:13.9px;height:4px;background:rgba(0,0,0,.4)"></i>
<i style="left:3437.1px;top:336px;width:18.3px;height:4px;background:rgba(0,0,0,.4)"></i>
<i style="left:3459px;top:336px;width:16.7px;height:4px;background:rgba(0,0,0,.4)"></i>
<i style="left:3479.4px;top:336px;width:1.8px;height:4px;background:rgba(0,0,0,.4)"></i>
<i style="left:3276.8px;top:383.6px;width:1216.8px;height:795.6px;background:#f1f4f5"></i>
<i style="left:3276.8px;top:383.6px;width:1216.8px;height:795.6px;border:2px dashed rgba(110,130,150,.28);box-sizing:border-box"></i>
<i style="left:3282px;top:394px;width:12.8px;height:3.2px;background:rgba(0,0,0,.55)"></i>
<i style="left:3290px;top:422px;width:1124.8px;height:728px;border:2.4px dashed rgba(140,90,255,.22);box-sizing:border-box"></i>
<i style="left:3294.8px;top:447.2px;width:86px;height:11.2px;background:#fff;border:1.6px solid rgba(0,0,0,.08);border-radius:1.2px;box-sizing:border-box"></i>
<i style="left:3299.6px;top:450.7px;width:7.9px;height:3px;background:rgba(0,0,0,0.5)"></i>
<i style="left:3311.1px;top:450.7px;width:20.9px;height:3px;background:rgba(0,0,0,0.5)"></i>
<i style="left:3372px;top:450.8px;width:4px;height:4px;background:rgba(0,0,0,.55)"></i>
<i style="left:3386.8px;top:447.2px;width:85.2px;height:12px;background:#fff;border:1.6px solid rgba(0,0,0,.08);border-radius:1.2px;box-sizing:border-box"></i>
<i style="left:3391.6px;top:451.1px;width:9.1px;height:3px;background:rgba(0,0,0,0.5)"></i>
<i style="left:3404.3px;top:451.1px;width:14.2px;height:3px;background:rgba(0,0,0,0.5)"></i>
<i style="left:3422.1px;top:451.1px;width:5.3px;height:3px;background:rgba(0,0,0,0.5)"></i>
<i style="left:3463.2px;top:451.2px;width:4px;height:4px;background:rgba(0,0,0,.55)"></i>
<i style="left:3479.2px;top:447.2px;width:85.6px;height:16.8px;background:#fff;border:1.6px solid rgba(0,0,0,.08);border-radius:1.2px;box-sizing:border-box"></i>
<i style="left:3484px;top:453.3px;width:11.6px;height:3px;background:rgba(0,0,0,0.5)"></i>
<i style="left:3499.2px;top:453.3px;width:18.1px;height:3px;background:rgba(0,0,0,0.5)"></i>
<i style="left:3556px;top:453.6px;width:4px;height:4px;background:rgba(0,0,0,.55)"></i>
<i style="left:3600.4px;top:447.2px;width:84.8px;height:11.2px;background:#fff;border:1.6px solid rgba(0,0,0,.08);border-radius:1.2px;box-sizing:border-box"></i>
<i style="left:3605.2px;top:450.7px;width:21.6px;height:3px;background:rgba(0,0,0,0.5)"></i>
<i style="left:3630.4px;top:450.7px;width:10.4px;height:3px;background:rgba(0,0,0,0.5)"></i>
<i style="left:3676.4px;top:450.8px;width:4px;height:4px;background:rgba(0,0,0,.55)"></i>
<i style="left:3600.4px;top:436px;width:8.8px;height:3.2px;background:rgba(0,0,0,.65)"></i>
<i style="left:3600.4px;top:492.8px;width:84.8px;height:11.2px;background:#fff;border:1.6px solid rgba(0,0,0,.08);border-radius:1.2px;box-sizing:border-box"></i>
<i style="left:3605.2px;top:496.3px;width:16.9px;height:3px;background:rgba(0,0,0,0.5)"></i>
<i style="left:3625.7px;top:496.3px;width:11.7px;height:3px;background:rgba(0,0,0,0.5)"></i>
<i style="left:3676.4px;top:496.4px;width:4px;height:4px;background:rgba(0,0,0,.55)"></i>
<i style="left:3600.4px;top:481.6px;width:8.8px;height:3.2px;background:rgba(0,0,0,.65)"></i>
<i style="left:3600.4px;top:508.2px;width:10px;height:2.8px;background:rgba(0,0,0,.4)"></i>
<i style="left:3691.6px;top:447.2px;width:84.8px;height:12px;background:#fff;border:1.6px solid rgba(0,0,0,.08);border-radius:1.2px;box-sizing:border-box"></i>
<i style="left:3696.4px;top:451.1px;width:15.4px;height:3px;background:rgba(0,0,0,0.5)"></i>
<i style="left:3715.4px;top:451.1px;width:13px;height:3px;background:rgba(0,0,0,0.5)"></i>
<i style="left:3767.6px;top:451.2px;width:4px;height:4px;background:rgba(0,0,0,.55)"></i>
<i style="left:3691.6px;top:436px;width:11.2px;height:3.2px;background:rgba(0,0,0,.65)"></i>
<i style="left:3691.6px;top:492.8px;width:84.8px;height:12px;background:#fff;border:1.6px solid rgba(0,0,0,.08);border-radius:1.2px;box-sizing:border-box"></i>
<i style="left:3696.4px;top:496.7px;width:9.7px;height:3px;background:rgba(0,0,0,0.5)"></i>
<i style="left:3709.7px;top:496.7px;width:9.6px;height:3px;background:rgba(0,0,0,0.5)"></i>
<i style="left:3722.9px;top:496.7px;width:9.1px;height:3px;background:rgba(0,0,0,0.5)"></i>
<i style="left:3767.6px;top:496.8px;width:4px;height:4px;background:rgba(0,0,0,.55)"></i>
<i style="left:3691.6px;top:481.6px;width:11.2px;height:3.2px;background:rgba(0,0,0,.65)"></i>
<i style="left:3691.6px;top:509px;width:10px;height:2.8px;background:rgba(0,0,0,.4)"></i>
<i style="left:3782.8px;top:447.2px;width:86px;height:16.8px;background:#fff;border:1.6px solid rgba(0,0,0,.08);border-radius:1.2px;box-sizing:border-box"></i>
<i style="left:3787.6px;top:453.3px;width:20.6px;height:3px;background:rgba(0,0,0,0.5)"></i>
<i style="left:3811.8px;top:453.3px;width:11.9px;height:3px;background:rgba(0,0,0,0.5)"></i>
<i style="left:3860px;top:453.6px;width:4px;height:4px;background:rgba(0,0,0,.55)"></i>
<i style="left:3782.8px;top:436px;width:13.6px;height:3.2px;background:rgba(0,0,0,.65)"></i>
<i style="left:3782.8px;top:492.8px;width:86px;height:16.8px;background:#fff;border:1.6px solid rgba(0,0,0,.08);border-radius:1.2px;box-sizing:border-box"></i>
<i style="left:3787.6px;top:498.9px;width:10.5px;height:3px;background:rgba(0,0,0,0.5)"></i>
<i style="left:3801.7px;top:498.9px;width:20.6px;height:3px;background:rgba(0,0,0,0.5)"></i>
<i style="left:3860px;top:499.2px;width:4px;height:4px;background:rgba(0,0,0,.55)"></i>
<i style="left:3782.8px;top:481.6px;width:13.6px;height:3.2px;background:rgba(0,0,0,.65)"></i>
<i style="left:3782.8px;top:513.8px;width:10px;height:2.8px;background:rgba(0,0,0,.4)"></i>
<i style="left:3968.8px;top:447.2px;width:86.4px;height:12px;background:#fff;border:1.6px solid rgba(0,0,0,.08);border-radius:1.2px;box-sizing:border-box"></i>
<i style="left:3973.6px;top:451.1px;width:21.9px;height:3px;background:rgba(0,0,0,0.5)"></i>
<i style="left:3999.1px;top:451.1px;width:10.7px;height:3px;background:rgba(0,0,0,0.5)"></i>
<i style="left:4046.4px;top:451.2px;width:4px;height:4px;background:rgba(0,0,0,.55)"></i>
<i style="left:3968.8px;top:492.8px;width:86.4px;height:12px;background:#fff;border:1.6px solid rgba(0,0,0,.08);border-radius:1.2px;box-sizing:border-box"></i>
<i style="left:3973.6px;top:496.7px;width:9.3px;height:3px;background:rgba(0,0,0,0.5)"></i>
<i style="left:3986.5px;top:496.7px;width:10px;height:3px;background:rgba(0,0,0,0.5)"></i>
<i style="left:4000.1px;top:496.7px;width:8.5px;height:3px;background:rgba(0,0,0,0.5)"></i>
<i style="left:4046.4px;top:496.8px;width:4px;height:4px;background:rgba(0,0,0,.55)"></i>
<i style="left:3968.8px;top:509px;width:10px;height:2.8px;background:rgba(0,0,0,.4)"></i>
<i style="left:4124.4px;top:447.2px;width:86.8px;height:12px;background:#fff;border:1.6px solid rgba(0,0,0,.08);border-radius:1.2px;box-sizing:border-box"></i>
<i style="left:4129.2px;top:451.1px;width:12.3px;height:3px;background:rgba(0,0,0,0.5)"></i>
<i style="left:4145.1px;top:451.1px;width:8.5px;height:3px;background:rgba(0,0,0,0.5)"></i>
<i style="left:4157.2px;top:451.1px;width:8.4px;height:3px;background:rgba(0,0,0,0.5)"></i>
<i style="left:4202.4px;top:451.2px;width:4px;height:4px;background:rgba(0,0,0,.55)"></i>
<i style="left:4124.4px;top:492.8px;width:86.8px;height:12px;background:#fff;border:1.6px solid rgba(0,0,0,.08);border-radius:1.2px;box-sizing:border-box"></i>
<i style="left:4129.2px;top:496.7px;width:11px;height:3px;background:rgba(0,0,0,0.5)"></i>
<i style="left:4143.8px;top:496.7px;width:15.6px;height:3px;background:rgba(0,0,0,0.5)"></i>
<i style="left:4163.1px;top:496.7px;width:2.6px;height:3px;background:rgba(0,0,0,0.5)"></i>
<i style="left:4202.4px;top:496.8px;width:4px;height:4px;background:rgba(0,0,0,.55)"></i>
<i style="left:4124.4px;top:509px;width:10px;height:2.8px;background:rgba(0,0,0,.4)"></i>
<i style="left:4292.8px;top:447.2px;width:85.2px;height:16.4px;background:#fff;border:1.6px solid rgba(0,0,0,.08);border-radius:1.2px;box-sizing:border-box"></i>
<i style="left:4297.6px;top:453.1px;width:18.3px;height:3px;background:rgba(0,0,0,0.5)"></i>
<i style="left:4319.5px;top:453.1px;width:13.3px;height:3px;background:rgba(0,0,0,0.5)"></i>
<i style="left:4369.2px;top:453.4px;width:4px;height:4px;background:rgba(0,0,0,.55)"></i>
<i style="left:4292.8px;top:492.8px;width:85.2px;height:16.4px;background:#fff;border:1.6px solid rgba(0,0,0,.08);border-radius:1.2px;box-sizing:border-box"></i>
<i style="left:4297.6px;top:498.7px;width:13.3px;height:3px;background:rgba(0,0,0,0.5)"></i>
<i style="left:4314.5px;top:498.7px;width:15px;height:3px;background:rgba(0,0,0,0.5)"></i>
<i style="left:4369.2px;top:499px;width:4px;height:4px;background:rgba(0,0,0,.55)"></i>
<i style="left:4292.8px;top:513.4px;width:10px;height:2.8px;background:rgba(0,0,0,.4)"></i>
<i style="left:3918.8px;top:451.2px;width:12.8px;height:3.2px;background:rgba(0,0,0,0.45)"></i>
<i style="left:3918.8px;top:496.8px;width:12.8px;height:3.2px;background:rgba(0,0,0,0.45)"></i>
<i style="left:4074px;top:451.2px;width:12.8px;height:3.2px;background:rgba(0,0,0,0.45)"></i>
<i style="left:4074px;top:496.8px;width:12.8px;height:3.2px;background:rgba(0,0,0,0.45)"></i>
<i style="left:4232.8px;top:451.2px;width:12.8px;height:3.2px;background:rgba(0,0,0,0.6)"></i>
<i style="left:4232.8px;top:496.8px;width:12.8px;height:3.2px;background:rgba(0,0,0,0.6)"></i>
<i style="left:3294.8px;top:564.8px;width:86px;height:11.2px;background:#fff;border:1.6px solid rgba(90,160,230,.45);border-radius:1.2px;box-sizing:border-box"></i>
<i style="left:3299.6px;top:568.3px;width:12.8px;height:3px;background:rgba(0,0,0,0.5)"></i>
<i style="left:3316px;top:568.3px;width:12.2px;height:3px;background:rgba(0,0,0,0.5)"></i>
<i style="left:3331.8px;top:568.3px;width:3.9px;height:3px;background:rgba(0,0,0,0.5)"></i>
<i style="left:3372px;top:568.4px;width:4px;height:4px;background:rgba(0,0,0,.55)"></i>
<i style="left:3386.8px;top:564.8px;width:85.2px;height:12px;background:#fff;border:1.6px solid rgba(90,160,230,.45);border-radius:1.2px;box-sizing:border-box"></i>
<i style="left:3391.6px;top:568.7px;width:11.3px;height:3px;background:rgba(0,0,0,0.5)"></i>
<i style="left:3406.5px;top:568.7px;width:20.9px;height:3px;background:rgba(0,0,0,0.5)"></i>
<i style="left:3463.2px;top:568.8px;width:4px;height:4px;background:rgba(0,0,0,.55)"></i>
<i style="left:3479.2px;top:564.8px;width:85.6px;height:16.8px;background:#fff;border:1.6px solid rgba(90,160,230,.45);border-radius:1.2px;box-sizing:border-box"></i>
<i style="left:3484px;top:570.9px;width:9.1px;height:3px;background:rgba(0,0,0,0.5)"></i>
<i style="left:3496.7px;top:570.9px;width:14.7px;height:3px;background:rgba(0,0,0,0.5)"></i>
<i style="left:3514.9px;top:570.9px;width:5px;height:3px;background:rgba(0,0,0,0.5)"></i>
<i style="left:3556px;top:571.2px;width:4px;height:4px;background:rgba(0,0,0,.55)"></i>
<i style="left:3600.4px;top:564.8px;width:84.8px;height:11.2px;background:#fff;border:1.6px solid rgba(90,160,230,.45);border-radius:1.2px;box-sizing:border-box"></i>
<i style="left:3605.2px;top:568.3px;width:20px;height:3px;background:rgba(0,0,0,0.5)"></i>
<i style="left:3628.8px;top:568.3px;width:10.4px;height:3px;background:rgba(0,0,0,0.5)"></i>
<i style="left:3676.4px;top:568.4px;width:4px;height:4px;background:rgba(0,0,0,.55)"></i>
<i style="left:3600.4px;top:553.6px;width:8.8px;height:3.2px;background:rgba(0,0,0,.65)"></i>
<i style="left:3600.4px;top:610.4px;width:84.8px;height:11.2px;background:#fff;border:1.6px solid rgba(90,160,230,.45);border-radius:1.2px;box-sizing:border-box"></i>
<i style="left:3605.2px;top:613.9px;width:11.2px;height:3px;background:rgba(0,0,0,0.5)"></i>
<i style="left:3620px;top:613.9px;width:10.9px;height:3px;background:rgba(0,0,0,0.5)"></i>
<i style="left:3634.5px;top:613.9px;width:6.3px;height:3px;background:rgba(0,0,0,0.5)"></i>
<i style="left:3676.4px;top:614px;width:4px;height:4px;background:rgba(0,0,0,.55)"></i>
<i style="left:3600.4px;top:599.2px;width:8.8px;height:3.2px;background:rgba(0,0,0,.65)"></i>
<i style="left:3600.4px;top:625.8px;width:10px;height:2.8px;background:rgba(0,0,0,.4)"></i>
<i style="left:3691.6px;top:564.8px;width:84.8px;height:12px;background:#fff;border:1.6px solid rgba(90,160,230,.45);border-radius:1.2px;box-sizing:border-box"></i>
<i style="left:3696.4px;top:568.7px;width:13.8px;height:3px;background:rgba(0,0,0,0.5)"></i>
<i style="left:3713.8px;top:568.7px;width:18.2px;height:3px;background:rgba(0,0,0,0.5)"></i>
<i style="left:3767.6px;top:568.8px;width:4px;height:4px;background:rgba(0,0,0,.55)"></i>
<i style="left:3691.6px;top:553.6px;width:11.2px;height:3.2px;background:rgba(0,0,0,.65)"></i>
<i style="left:3691.6px;top:610.4px;width:84.8px;height:12px;background:#fff;border:1.6px solid rgba(90,160,230,.45);border-radius:1.2px;box-sizing:border-box"></i>
<i style="left:3696.4px;top:614.3px;width:19.8px;height:3px;background:rgba(0,0,0,0.5)"></i>
<i style="left:3719.8px;top:614.3px;width:12.3px;height:3px;background:rgba(0,0,0,0.5)"></i>
<i style="left:3767.6px;top:614.4px;width:4px;height:4px;background:rgba(0,0,0,.55)"></i>
<i style="left:3691.6px;top:599.2px;width:11.2px;height:3.2px;background:rgba(0,0,0,.65)"></i>
<i style="left:3691.6px;top:626.6px;width:10px;height:2.8px;background:rgba(0,0,0,.4)"></i>
<i style="left:3782.8px;top:564.8px;width:86px;height:16.8px;background:#fff;border:1.6px solid rgba(90,160,230,.45);border-radius:1.2px;box-sizing:border-box"></i>
<i style="left:3787.6px;top:570.9px;width:7.5px;height:3px;background:rgba(0,0,0,0.5)"></i>
<i style="left:3798.7px;top:570.9px;width:7.7px;height:3px;background:rgba(0,0,0,0.5)"></i>
<i style="left:3810px;top:570.9px;width:13.7px;height:3px;background:rgba(0,0,0,0.5)"></i>
<i style="left:3860px;top:571.2px;width:4px;height:4px;background:rgba(0,0,0,.55)"></i>
<i style="left:3782.8px;top:553.6px;width:13.6px;height:3.2px;background:rgba(0,0,0,.65)"></i>
<i style="left:3782.8px;top:610.4px;width:86px;height:16.8px;background:#fff;border:1.6px solid rgba(90,160,230,.45);border-radius:1.2px;box-sizing:border-box"></i>
<i style="left:3787.6px;top:616.5px;width:20.5px;height:3px;background:rgba(0,0,0,0.5)"></i>
<i style="left:3811.7px;top:616.5px;width:12.1px;height:3px;background:rgba(0,0,0,0.5)"></i>
<i style="left:3860px;top:616.8px;width:4px;height:4px;background:rgba(0,0,0,.55)"></i>
<i style="left:3782.8px;top:599.2px;width:13.6px;height:3.2px;background:rgba(0,0,0,.65)"></i>
<i style="left:3782.8px;top:631.4px;width:10px;height:2.8px;background:rgba(0,0,0,.4)"></i>
<i style="left:3968.8px;top:564.8px;width:86.4px;height:12px;background:#fff;border:1.6px solid rgba(90,160,230,.45);border-radius:1.2px;box-sizing:border-box"></i>
<i style="left:3973.6px;top:568.7px;width:15.9px;height:3px;background:rgba(0,0,0,0.5)"></i>
<i style="left:3993.1px;top:568.7px;width:7.2px;height:3px;background:rgba(0,0,0,0.5)"></i>
<i style="left:4003.9px;top:568.7px;width:6px;height:3px;background:rgba(0,0,0,0.5)"></i>
<i style="left:4046.4px;top:568.8px;width:4px;height:4px;background:rgba(0,0,0,.55)"></i>
<i style="left:3968.8px;top:610.4px;width:86.4px;height:12px;background:#fff;border:1.6px solid rgba(90,160,230,.45);border-radius:1.2px;box-sizing:border-box"></i>
<i style="left:3973.6px;top:614.3px;width:20.9px;height:3px;background:rgba(0,0,0,0.5)"></i>
<i style="left:3998.1px;top:614.3px;width:11.8px;height:3px;background:rgba(0,0,0,0.5)"></i>
<i style="left:4046.4px;top:614.4px;width:4px;height:4px;background:rgba(0,0,0,.55)"></i>
<i style="left:3968.8px;top:626.6px;width:10px;height:2.8px;background:rgba(0,0,0,.4)"></i>
<i style="left:4124.4px;top:564.8px;width:86.8px;height:12px;background:#fff;border:1.6px solid rgba(90,160,230,.45);border-radius:1.2px;box-sizing:border-box"></i>
<i style="left:4129.2px;top:568.7px;width:19.9px;height:3px;background:rgba(0,0,0,0.5)"></i>
<i style="left:4152.7px;top:568.7px;width:13px;height:3px;background:rgba(0,0,0,0.5)"></i>
<i style="left:4202.4px;top:568.8px;width:4px;height:4px;background:rgba(0,0,0,.55)"></i>
<i style="left:4124.4px;top:610.4px;width:86.8px;height:12px;background:#fff;border:1.6px solid rgba(90,160,230,.45);border-radius:1.2px;box-sizing:border-box"></i>
<i style="left:4129.2px;top:614.3px;width:10.9px;height:3px;background:rgba(0,0,0,0.5)"></i>
<i style="left:4143.7px;top:614.3px;width:8.8px;height:3px;background:rgba(0,0,0,0.5)"></i>
<i style="left:4156.1px;top:614.3px;width:9.5px;height:3px;background:rgba(0,0,0,0.5)"></i>
<i style="left:4202.4px;top:614.4px;width:4px;height:4px;background:rgba(0,0,0,.55)"></i>
<i style="left:4124.4px;top:626.6px;width:10px;height:2.8px;background:rgba(0,0,0,.4)"></i>
<i style="left:4292.8px;top:564.8px;width:85.2px;height:16.4px;background:#fff;border:1.6px solid rgba(90,160,230,.45);border-radius:1.2px;box-sizing:border-box"></i>
<i style="left:4297.6px;top:570.7px;width:14.9px;height:3px;background:rgba(0,0,0,0.5)"></i>
<i style="left:4316.1px;top:570.7px;width:17.3px;height:3px;background:rgba(0,0,0,0.5)"></i>
<i style="left:4369.2px;top:571px;width:4px;height:4px;background:rgba(0,0,0,.55)"></i>
<i style="left:4292.8px;top:610.4px;width:85.2px;height:16.4px;background:#fff;border:1.6px solid rgba(90,160,230,.45);border-radius:1.2px;box-sizing:border-box"></i>
<i style="left:4297.6px;top:616.3px;width:21.1px;height:3px;background:rgba(0,0,0,0.5)"></i>
<i style="left:4322.3px;top:616.3px;width:11px;height:3px;background:rgba(0,0,0,0.5)"></i>
<i style="left:4369.2px;top:616.6px;width:4px;height:4px;background:rgba(0,0,0,.55)"></i>
<i style="left:4292.8px;top:631px;width:10px;height:2.8px;background:rgba(0,0,0,.4)"></i>
<i style="left:3918.8px;top:568.8px;width:12.8px;height:3.2px;background:rgba(0,0,0,0.45)"></i>
<i style="left:3918.8px;top:614.4px;width:12.8px;height:3.2px;background:rgba(0,0,0,0.45)"></i>
<i style="left:4074px;top:568.8px;width:12.8px;height:3.2px;background:rgba(0,0,0,0.45)"></i>
<i style="left:4074px;top:614.4px;width:12.8px;height:3.2px;background:rgba(0,0,0,0.45)"></i>
<i style="left:4232.8px;top:568.8px;width:12.8px;height:3.2px;background:rgba(0,0,0,0.6)"></i>
<i style="left:4232.8px;top:614.4px;width:12.8px;height:3.2px;background:rgba(0,0,0,0.6)"></i>
<i style="left:3294.8px;top:692.8px;width:86px;height:11.2px;background:#e6e9ec;border:1.6px solid rgba(0,0,0,0);border-radius:1.2px;box-sizing:border-box"></i>
<i style="left:3299.6px;top:696.3px;width:16.8px;height:3px;background:rgba(0,0,0,0.5)"></i>
<i style="left:3320px;top:696.3px;width:15.7px;height:3px;background:rgba(0,0,0,0.5)"></i>
<i style="left:3372px;top:696.4px;width:4px;height:4px;background:rgba(0,0,0,.55)"></i>
<i style="left:3386.8px;top:692.8px;width:85.2px;height:12px;background:#e6e9ec;border:1.6px solid rgba(0,0,0,0);border-radius:1.2px;box-sizing:border-box"></i>
<i style="left:3391.6px;top:696.7px;width:14px;height:3px;background:rgba(0,0,0,0.5)"></i>
<i style="left:3409.2px;top:696.7px;width:15.4px;height:3px;background:rgba(0,0,0,0.5)"></i>
<i style="left:3463.2px;top:696.8px;width:4px;height:4px;background:rgba(0,0,0,.55)"></i>
<i style="left:3479.2px;top:692.8px;width:85.6px;height:16.8px;background:#e6e9ec;border:1.6px solid rgba(0,0,0,0);border-radius:1.2px;box-sizing:border-box"></i>
<i style="left:3484px;top:698.9px;width:7.8px;height:3px;background:rgba(0,0,0,0.5)"></i>
<i style="left:3495.4px;top:698.9px;width:18.8px;height:3px;background:rgba(0,0,0,0.5)"></i>
<i style="left:3517.8px;top:698.9px;width:2.2px;height:3px;background:rgba(0,0,0,0.5)"></i>
<i style="left:3556px;top:699.2px;width:4px;height:4px;background:rgba(0,0,0,.55)"></i>
<i style="left:3600.4px;top:692.8px;width:84.8px;height:11.2px;background:#e6e9ec;border:1.6px solid rgba(0,0,0,0);border-radius:1.2px;box-sizing:border-box"></i>
<i style="left:3605.2px;top:696.3px;width:20.8px;height:3px;background:rgba(0,0,0,0.5)"></i>
<i style="left:3629.6px;top:696.3px;width:11.2px;height:3px;background:rgba(0,0,0,0.5)"></i>
<i style="left:3676.4px;top:696.4px;width:4px;height:4px;background:rgba(0,0,0,.55)"></i>
<i style="left:3600.4px;top:681.6px;width:8.8px;height:3.2px;background:rgba(0,0,0,.65)"></i>
<i style="left:3600.4px;top:738.8px;width:84.8px;height:11.2px;background:#e6e9ec;border:1.6px solid rgba(0,0,0,0);border-radius:1.2px;box-sizing:border-box"></i>
<i style="left:3605.2px;top:742.3px;width:11.7px;height:3px;background:rgba(0,0,0,0.5)"></i>
<i style="left:3620.5px;top:742.3px;width:9.1px;height:3px;background:rgba(0,0,0,0.5)"></i>
<i style="left:3633.2px;top:742.3px;width:7.6px;height:3px;background:rgba(0,0,0,0.5)"></i>
<i style="left:3676.4px;top:742.4px;width:4px;height:4px;background:rgba(0,0,0,.55)"></i>
<i style="left:3600.4px;top:727.6px;width:8.8px;height:3.2px;background:rgba(0,0,0,.65)"></i>
<i style="left:3600.4px;top:754.2px;width:10px;height:2.8px;background:rgba(0,0,0,.4)"></i>
<i style="left:3691.6px;top:692.8px;width:84.8px;height:12px;background:#e6e9ec;border:1.6px solid rgba(0,0,0,0);border-radius:1.2px;box-sizing:border-box"></i>
<i style="left:3696.4px;top:696.7px;width:16.6px;height:3px;background:rgba(0,0,0,0.5)"></i>
<i style="left:3716.6px;top:696.7px;width:15.4px;height:3px;background:rgba(0,0,0,0.5)"></i>
<i style="left:3767.6px;top:696.8px;width:4px;height:4px;background:rgba(0,0,0,.55)"></i>
<i style="left:3691.6px;top:681.6px;width:11.2px;height:3.2px;background:rgba(0,0,0,.65)"></i>
<i style="left:3691.6px;top:738.8px;width:84.8px;height:12px;background:#e6e9ec;border:1.6px solid rgba(0,0,0,0);border-radius:1.2px;box-sizing:border-box"></i>
<i style="left:3696.4px;top:742.7px;width:8.9px;height:3px;background:rgba(0,0,0,0.5)"></i>
<i style="left:3708.9px;top:742.7px;width:8.2px;height:3px;background:rgba(0,0,0,0.5)"></i>
<i style="left:3720.7px;top:742.7px;width:11.3px;height:3px;background:rgba(0,0,0,0.5)"></i>
<i style="left:3767.6px;top:742.8px;width:4px;height:4px;background:rgba(0,0,0,.55)"></i>
<i style="left:3691.6px;top:727.6px;width:11.2px;height:3.2px;background:rgba(0,0,0,.65)"></i>
<i style="left:3691.6px;top:755px;width:10px;height:2.8px;background:rgba(0,0,0,.4)"></i>
<i style="left:3782.8px;top:692.8px;width:86px;height:16.8px;background:#e6e9ec;border:1.6px solid rgba(0,0,0,0);border-radius:1.2px;box-sizing:border-box"></i>
<i style="left:3787.6px;top:698.9px;width:15.8px;height:3px;background:rgba(0,0,0,0.5)"></i>
<i style="left:3807px;top:698.9px;width:12.9px;height:3px;background:rgba(0,0,0,0.5)"></i>
<i style="left:3860px;top:699.2px;width:4px;height:4px;background:rgba(0,0,0,.55)"></i>
<i style="left:3782.8px;top:681.6px;width:13.6px;height:3.2px;background:rgba(0,0,0,.65)"></i>
<i style="left:3782.8px;top:738.8px;width:86px;height:16.8px;background:#e6e9ec;border:1.6px solid rgba(0,0,0,0);border-radius:1.2px;box-sizing:border-box"></i>
<i style="left:3787.6px;top:744.9px;width:10.5px;height:3px;background:rgba(0,0,0,0.5)"></i>
<i style="left:3801.7px;top:744.9px;width:16.1px;height:3px;background:rgba(0,0,0,0.5)"></i>
<i style="left:3821.4px;top:744.9px;width:2.3px;height:3px;background:rgba(0,0,0,0.5)"></i>
<i style="left:3860px;top:745.2px;width:4px;height:4px;background:rgba(0,0,0,.55)"></i>
<i style="left:3782.8px;top:727.6px;width:13.6px;height:3.2px;background:rgba(0,0,0,.65)"></i>
<i style="left:3782.8px;top:759.8px;width:10px;height:2.8px;background:rgba(0,0,0,.4)"></i>
<i style="left:3968.8px;top:692.8px;width:86.4px;height:12px;background:#e6e9ec;border:1.6px solid rgba(0,0,0,0);border-radius:1.2px;box-sizing:border-box"></i>
<i style="left:3973.6px;top:696.7px;width:11.7px;height:3px;background:rgba(0,0,0,0.5)"></i>
<i style="left:3988.9px;top:696.7px;width:14px;height:3px;background:rgba(0,0,0,0.5)"></i>
<i style="left:4006.5px;top:696.7px;width:3.4px;height:3px;background:rgba(0,0,0,0.5)"></i>
<i style="left:4046.4px;top:696.8px;width:4px;height:4px;background:rgba(0,0,0,.55)"></i>
<i style="left:3968.8px;top:738.8px;width:86.4px;height:12px;background:#e6e9ec;border:1.6px solid rgba(0,0,0,0);border-radius:1.2px;box-sizing:border-box"></i>
<i style="left:3973.6px;top:742.7px;width:16.7px;height:3px;background:rgba(0,0,0,0.5)"></i>
<i style="left:3993.9px;top:742.7px;width:15.9px;height:3px;background:rgba(0,0,0,0.5)"></i>
<i style="left:4046.4px;top:742.8px;width:4px;height:4px;background:rgba(0,0,0,.55)"></i>
<i style="left:3968.8px;top:755px;width:10px;height:2.8px;background:rgba(0,0,0,.4)"></i>
<i style="left:4124.4px;top:692.8px;width:86.8px;height:12px;background:#e6e9ec;border:1.6px solid rgba(0,0,0,0);border-radius:1.2px;box-sizing:border-box"></i>
<i style="left:4129.2px;top:696.7px;width:14.2px;height:3px;background:rgba(0,0,0,0.5)"></i>
<i style="left:4147px;top:696.7px;width:10.7px;height:3px;background:rgba(0,0,0,0.5)"></i>
<i style="left:4161.3px;top:696.7px;width:4.3px;height:3px;background:rgba(0,0,0,0.5)"></i>
<i style="left:4202.4px;top:696.8px;width:4px;height:4px;background:rgba(0,0,0,.55)"></i>
<i style="left:4124.4px;top:738.8px;width:86.8px;height:12px;background:#e6e9ec;border:1.6px solid rgba(0,0,0,0);border-radius:1.2px;box-sizing:border-box"></i>
<i style="left:4129.2px;top:742.7px;width:21.4px;height:3px;background:rgba(0,0,0,0.5)"></i>
<i style="left:4154.2px;top:742.7px;width:11.4px;height:3px;background:rgba(0,0,0,0.5)"></i>
<i style="left:4202.4px;top:742.8px;width:4px;height:4px;background:rgba(0,0,0,.55)"></i>
<i style="left:4124.4px;top:755px;width:10px;height:2.8px;background:rgba(0,0,0,.4)"></i>
<i style="left:4292.8px;top:692.8px;width:85.2px;height:16.4px;background:#e6e9ec;border:1.6px solid rgba(0,0,0,0);border-radius:1.2px;box-sizing:border-box"></i>
<i style="left:4297.6px;top:698.7px;width:11.7px;height:3px;background:rgba(0,0,0,0.5)"></i>
<i style="left:4312.9px;top:698.7px;width:7.5px;height:3px;background:rgba(0,0,0,0.5)"></i>
<i style="left:4324.1px;top:698.7px;width:9.3px;height:3px;background:rgba(0,0,0,0.5)"></i>
<i style="left:4369.2px;top:699px;width:4px;height:4px;background:rgba(0,0,0,.55)"></i>
<i style="left:4292.8px;top:738.8px;width:85.2px;height:16.4px;background:#e6e9ec;border:1.6px solid rgba(0,0,0,0);border-radius:1.2px;box-sizing:border-box"></i>
<i style="left:4297.6px;top:744.7px;width:17.2px;height:3px;background:rgba(0,0,0,0.5)"></i>
<i style="left:4318.4px;top:744.7px;width:13.4px;height:3px;background:rgba(0,0,0,0.5)"></i>
<i style="left:4369.2px;top:745px;width:4px;height:4px;background:rgba(0,0,0,.55)"></i>
<i style="left:4292.8px;top:759.4px;width:10px;height:2.8px;background:rgba(0,0,0,.4)"></i>
<i style="left:3918.8px;top:696.8px;width:12.8px;height:3.2px;background:rgba(0,0,0,0.45)"></i>
<i style="left:3918.8px;top:742.8px;width:12.8px;height:3.2px;background:rgba(0,0,0,0.45)"></i>
<i style="left:4074px;top:696.8px;width:12.8px;height:3.2px;background:rgba(0,0,0,0.45)"></i>
<i style="left:4074px;top:742.8px;width:12.8px;height:3.2px;background:rgba(0,0,0,0.45)"></i>
<i style="left:4232.8px;top:696.8px;width:12.8px;height:3.2px;background:rgba(0,0,0,0.6)"></i>
<i style="left:4232.8px;top:742.8px;width:12.8px;height:3.2px;background:rgba(0,0,0,0.6)"></i>
<i style="left:3294.8px;top:816.8px;width:86px;height:11.2px;background:#fff;border:1.6px solid rgba(40,150,70,.6);border-radius:1.2px;box-sizing:border-box"></i>
<i style="left:3299.6px;top:820.3px;width:11px;height:3px;background:rgba(0,0,0,0.5)"></i>
<i style="left:3314.2px;top:820.3px;width:17.1px;height:3px;background:rgba(0,0,0,0.5)"></i>
<i style="left:3372px;top:820.4px;width:4px;height:4px;background:rgba(40,150,70,.7)"></i>
<i style="left:3294.8px;top:830.8px;width:38.7px;height:2.4px;background:rgba(40,150,70,.6)"></i>
<i style="left:3386.8px;top:816.8px;width:85.2px;height:12px;background:#fff;border:1.6px solid rgba(40,150,70,.6);border-radius:1.2px;box-sizing:border-box"></i>
<i style="left:3391.6px;top:820.7px;width:20.9px;height:3px;background:rgba(0,0,0,0.5)"></i>
<i style="left:3416.1px;top:820.7px;width:10.6px;height:3px;background:rgba(0,0,0,0.5)"></i>
<i style="left:3463.2px;top:820.8px;width:4px;height:4px;background:rgba(40,150,70,.7)"></i>
<i style="left:3386.8px;top:831.6px;width:38.3px;height:2.4px;background:rgba(40,150,70,.6)"></i>
<i style="left:3479.2px;top:816.8px;width:85.6px;height:16.8px;background:#fff;border:1.6px solid rgba(40,150,70,.6);border-radius:1.2px;box-sizing:border-box"></i>
<i style="left:3484px;top:822.9px;width:7.7px;height:3px;background:rgba(0,0,0,0.5)"></i>
<i style="left:3495.3px;top:822.9px;width:12.2px;height:3px;background:rgba(0,0,0,0.5)"></i>
<i style="left:3511.1px;top:822.9px;width:8.8px;height:3px;background:rgba(0,0,0,0.5)"></i>
<i style="left:3556px;top:823.2px;width:4px;height:4px;background:rgba(40,150,70,.7)"></i>
<i style="left:3479.2px;top:836.4px;width:38.5px;height:2.4px;background:rgba(40,150,70,.6)"></i>
<i style="left:3600.4px;top:816.8px;width:84.8px;height:11.2px;background:#fff;border:1.6px solid rgba(40,150,70,.6);border-radius:1.2px;box-sizing:border-box"></i>
<i style="left:3605.2px;top:820.3px;width:17.3px;height:3px;background:rgba(0,0,0,0.5)"></i>
<i style="left:3626.1px;top:820.3px;width:10.1px;height:3px;background:rgba(0,0,0,0.5)"></i>
<i style="left:3676.4px;top:820.4px;width:4px;height:4px;background:rgba(40,150,70,.7)"></i>
<i style="left:3600.4px;top:805.6px;width:8.8px;height:3.2px;background:rgba(0,0,0,.65)"></i>
<i style="left:3600.4px;top:830.8px;width:38.2px;height:2.4px;background:rgba(40,150,70,.6)"></i>
<i style="left:3691.6px;top:816.8px;width:84.8px;height:12px;background:#fff;border:1.6px solid rgba(40,150,70,.6);border-radius:1.2px;box-sizing:border-box"></i>
<i style="left:3696.4px;top:820.7px;width:19px;height:3px;background:rgba(0,0,0,0.5)"></i>
<i style="left:3719px;top:820.7px;width:13px;height:3px;background:rgba(0,0,0,0.5)"></i>
<i style="left:3767.6px;top:820.8px;width:4px;height:4px;background:rgba(40,150,70,.7)"></i>
<i style="left:3691.6px;top:805.6px;width:11.2px;height:3.2px;background:rgba(0,0,0,.65)"></i>
<i style="left:3691.6px;top:831.6px;width:38.2px;height:2.4px;background:rgba(40,150,70,.6)"></i>
<i style="left:3782.8px;top:816.8px;width:86px;height:16.8px;background:#fff;border:1.6px solid rgba(40,150,70,.6);border-radius:1.2px;box-sizing:border-box"></i>
<i style="left:3787.6px;top:822.9px;width:14.7px;height:3px;background:rgba(0,0,0,0.5)"></i>
<i style="left:3805.9px;top:822.9px;width:10.2px;height:3px;background:rgba(0,0,0,0.5)"></i>
<i style="left:3819.7px;top:822.9px;width:4px;height:3px;background:rgba(0,0,0,0.5)"></i>
<i style="left:3860px;top:823.2px;width:4px;height:4px;background:rgba(40,150,70,.7)"></i>
<i style="left:3782.8px;top:805.6px;width:13.6px;height:3.2px;background:rgba(0,0,0,.65)"></i>
<i style="left:3782.8px;top:836.4px;width:38.7px;height:2.4px;background:rgba(40,150,70,.6)"></i>
<i style="left:3968.8px;top:816.8px;width:86.4px;height:12px;background:#fff;border:1.6px solid rgba(40,150,70,.6);border-radius:1.2px;box-sizing:border-box"></i>
<i style="left:3973.6px;top:820.7px;width:11.8px;height:3px;background:rgba(0,0,0,0.5)"></i>
<i style="left:3989px;top:820.7px;width:19.3px;height:3px;background:rgba(0,0,0,0.5)"></i>
<i style="left:4046.4px;top:820.8px;width:4px;height:4px;background:rgba(40,150,70,.7)"></i>
<i style="left:3968.8px;top:831.6px;width:38.9px;height:2.4px;background:rgba(40,150,70,.6)"></i>
<i style="left:4124.4px;top:816.8px;width:86.8px;height:12px;background:#fff;border:1.6px solid rgba(40,150,70,.6);border-radius:1.2px;box-sizing:border-box"></i>
<i style="left:4129.2px;top:820.7px;width:10.6px;height:3px;background:rgba(0,0,0,0.5)"></i>
<i style="left:4143.4px;top:820.7px;width:10.5px;height:3px;background:rgba(0,0,0,0.5)"></i>
<i style="left:4157.5px;top:820.7px;width:8.2px;height:3px;background:rgba(0,0,0,0.5)"></i>
<i style="left:4202.4px;top:820.8px;width:4px;height:4px;background:rgba(40,150,70,.7)"></i>
<i style="left:4124.4px;top:831.6px;width:39.1px;height:2.4px;background:rgba(40,150,70,.6)"></i>
<i style="left:4292.8px;top:816.8px;width:85.2px;height:16.4px;background:#fff;border:1.6px solid rgba(40,150,70,.6);border-radius:1.2px;box-sizing:border-box"></i>
<i style="left:4297.6px;top:822.7px;width:11.6px;height:3px;background:rgba(0,0,0,0.5)"></i>
<i style="left:4312.8px;top:822.7px;width:20.6px;height:3px;background:rgba(0,0,0,0.5)"></i>
<i style="left:4369.2px;top:823px;width:4px;height:4px;background:rgba(40,150,70,.7)"></i>
<i style="left:4292.8px;top:836px;width:38.3px;height:2.4px;background:rgba(40,150,70,.6)"></i>
<i style="left:3918.8px;top:820.8px;width:12.8px;height:3.2px;background:rgba(0,0,0,0.45)"></i>
<i style="left:4074px;top:820.8px;width:12.8px;height:3.2px;background:rgba(0,0,0,0.45)"></i>
<i style="left:4232.8px;top:820.8px;width:12.8px;height:3.2px;background:rgba(0,0,0,0.6)"></i>
<i style="left:3294.8px;top:892.8px;width:86px;height:11.2px;background:#fff;border:1.6px solid rgba(40,150,70,.6);border-radius:1.2px;box-sizing:border-box"></i>
<i style="left:3299.6px;top:896.3px;width:14.5px;height:3px;background:rgba(0,0,0,0.5)"></i>
<i style="left:3317.7px;top:896.3px;width:10px;height:3px;background:rgba(0,0,0,0.5)"></i>
<i style="left:3331.3px;top:896.3px;width:4.4px;height:3px;background:rgba(0,0,0,0.5)"></i>
<i style="left:3372px;top:896.4px;width:4px;height:4px;background:rgba(40,150,70,.7)"></i>
<i style="left:3294.8px;top:904.8px;width:28px;height:9.6px;background:#2f8f4c;border-radius:1.2px"></i>
<i style="left:3386.8px;top:892.8px;width:85.2px;height:12px;background:#fff;border:1.6px solid rgba(40,150,70,.6);border-radius:1.2px;box-sizing:border-box"></i>
<i style="left:3391.6px;top:896.7px;width:13.4px;height:3px;background:rgba(0,0,0,0.5)"></i>
<i style="left:3408.6px;top:896.7px;width:17px;height:3px;background:rgba(0,0,0,0.5)"></i>
<i style="left:3463.2px;top:896.8px;width:4px;height:4px;background:rgba(40,150,70,.7)"></i>
<i style="left:3386.8px;top:905.6px;width:28px;height:9.6px;background:#2f8f4c;border-radius:1.2px"></i>
<i style="left:3479.2px;top:892.8px;width:85.6px;height:16.8px;background:#fff;border:1.6px solid rgba(40,150,70,.6);border-radius:1.2px;box-sizing:border-box"></i>
<i style="left:3484px;top:898.9px;width:21.2px;height:3px;background:rgba(0,0,0,0.5)"></i>
<i style="left:3508.8px;top:898.9px;width:9.4px;height:3px;background:rgba(0,0,0,0.5)"></i>
<i style="left:3556px;top:899.2px;width:4px;height:4px;background:rgba(40,150,70,.7)"></i>
<i style="left:3479.2px;top:910.4px;width:28px;height:9.6px;background:#2f8f4c;border-radius:1.2px"></i>
<i style="left:3600.4px;top:892.8px;width:84.8px;height:11.2px;background:#fff;border:1.6px solid rgba(40,150,70,.6);border-radius:1.2px;box-sizing:border-box"></i>
<i style="left:3605.2px;top:896.3px;width:13px;height:3px;background:rgba(0,0,0,0.5)"></i>
<i style="left:3621.8px;top:896.3px;width:10.4px;height:3px;background:rgba(0,0,0,0.5)"></i>
<i style="left:3635.8px;top:896.3px;width:5px;height:3px;background:rgba(0,0,0,0.5)"></i>
<i style="left:3676.4px;top:896.4px;width:4px;height:4px;background:rgba(40,150,70,.7)"></i>
<i style="left:3600.4px;top:881.6px;width:8.8px;height:3.2px;background:rgba(0,0,0,.65)"></i>
<i style="left:3600.4px;top:904.8px;width:28px;height:9.6px;background:#2f8f4c;border-radius:1.2px"></i>
<i style="left:3691.6px;top:892.8px;width:84.8px;height:12px;background:#fff;border:1.6px solid rgba(40,150,70,.6);border-radius:1.2px;box-sizing:border-box"></i>
<i style="left:3696.4px;top:896.7px;width:9.3px;height:3px;background:rgba(0,0,0,0.5)"></i>
<i style="left:3709.3px;top:896.7px;width:8px;height:3px;background:rgba(0,0,0,0.5)"></i>
<i style="left:3720.9px;top:896.7px;width:8.1px;height:3px;background:rgba(0,0,0,0.5)"></i>
<i style="left:3767.6px;top:896.8px;width:4px;height:4px;background:rgba(40,150,70,.7)"></i>
<i style="left:3691.6px;top:881.6px;width:11.2px;height:3.2px;background:rgba(0,0,0,.65)"></i>
<i style="left:3691.6px;top:905.6px;width:28px;height:9.6px;background:#2f8f4c;border-radius:1.2px"></i>
<i style="left:3782.8px;top:892.8px;width:86px;height:16.8px;background:#fff;border:1.6px solid rgba(40,150,70,.6);border-radius:1.2px;box-sizing:border-box"></i>
<i style="left:3787.6px;top:898.9px;width:13px;height:3px;background:rgba(0,0,0,0.5)"></i>
<i style="left:3804.2px;top:898.9px;width:19.5px;height:3px;background:rgba(0,0,0,0.5)"></i>
<i style="left:3860px;top:899.2px;width:4px;height:4px;background:rgba(40,150,70,.7)"></i>
<i style="left:3782.8px;top:881.6px;width:13.6px;height:3.2px;background:rgba(0,0,0,.65)"></i>
<i style="left:3782.8px;top:910.4px;width:28px;height:9.6px;background:#2f8f4c;border-radius:1.2px"></i>
<i style="left:3968.8px;top:892.8px;width:86.4px;height:12px;background:#fff;border:1.6px solid rgba(40,150,70,.6);border-radius:1.2px;box-sizing:border-box"></i>
<i style="left:3973.6px;top:896.7px;width:20.3px;height:3px;background:rgba(0,0,0,0.5)"></i>
<i style="left:3997.5px;top:896.7px;width:12.4px;height:3px;background:rgba(0,0,0,0.5)"></i>
<i style="left:4046.4px;top:896.8px;width:4px;height:4px;background:rgba(40,150,70,.7)"></i>
<i style="left:3968.8px;top:905.6px;width:28px;height:9.6px;background:#2f8f4c;border-radius:1.2px"></i>
<i style="left:4124.4px;top:892.8px;width:86.8px;height:12px;background:#fff;border:1.6px solid rgba(40,150,70,.6);border-radius:1.2px;box-sizing:border-box"></i>
<i style="left:4129.2px;top:896.7px;width:22px;height:3px;background:rgba(0,0,0,0.5)"></i>
<i style="left:4154.8px;top:896.7px;width:10.9px;height:3px;background:rgba(0,0,0,0.5)"></i>
<i style="left:4202.4px;top:896.8px;width:4px;height:4px;background:rgba(40,150,70,.7)"></i>
<i style="left:4124.4px;top:905.6px;width:28px;height:9.6px;background:#2f8f4c;border-radius:1.2px"></i>
<i style="left:4292.8px;top:892.8px;width:85.2px;height:16.4px;background:#fff;border:1.6px solid rgba(40,150,70,.6);border-radius:1.2px;box-sizing:border-box"></i>
<i style="left:4297.6px;top:898.7px;width:12.1px;height:3px;background:rgba(0,0,0,0.5)"></i>
<i style="left:4313.3px;top:898.7px;width:9.9px;height:3px;background:rgba(0,0,0,0.5)"></i>
<i style="left:4326.8px;top:898.7px;width:6.6px;height:3px;background:rgba(0,0,0,0.5)"></i>
<i style="left:4369.2px;top:899px;width:4px;height:4px;background:rgba(40,150,70,.7)"></i>
<i style="left:4292.8px;top:910px;width:46px;height:9.6px;background:#2f8f4c;border-radius:1.2px"></i>
<i style="left:3918.8px;top:896.8px;width:12.8px;height:3.2px;background:rgba(0,0,0,0.45)"></i>
<i style="left:4074px;top:896.8px;width:12.8px;height:3.2px;background:rgba(0,0,0,0.45)"></i>
<i style="left:4232.8px;top:896.8px;width:12.8px;height:3.2px;background:rgba(0,0,0,0.6)"></i>
<i style="left:3294.8px;top:974.4px;width:86px;height:11.2px;background:#fff;border:1.6px solid rgba(215,60,60,.6);border-radius:1.2px;box-sizing:border-box"></i>
<i style="left:3299.6px;top:977.9px;width:18.2px;height:3px;background:rgba(0,0,0,0.5)"></i>
<i style="left:3321.4px;top:977.9px;width:7.7px;height:3px;background:rgba(0,0,0,0.5)"></i>
<i style="left:3332.7px;top:977.9px;width:3px;height:3px;background:rgba(0,0,0,0.5)"></i>
<i style="left:3372px;top:978px;width:4px;height:4px;background:rgba(215,50,50,.8)"></i>
<i style="left:3294.8px;top:988.4px;width:38.7px;height:2.4px;background:rgba(215,60,60,.6)"></i>
<i style="left:3386.8px;top:974.4px;width:85.2px;height:12px;background:#fff;border:1.6px solid rgba(215,60,60,.6);border-radius:1.2px;box-sizing:border-box"></i>
<i style="left:3391.6px;top:978.3px;width:12.8px;height:3px;background:rgba(0,0,0,0.5)"></i>
<i style="left:3408px;top:978.3px;width:12.7px;height:3px;background:rgba(0,0,0,0.5)"></i>
<i style="left:3424.3px;top:978.3px;width:3px;height:3px;background:rgba(0,0,0,0.5)"></i>
<i style="left:3463.2px;top:978.4px;width:4px;height:4px;background:rgba(215,50,50,.8)"></i>
<i style="left:3386.8px;top:989.2px;width:38.3px;height:2.4px;background:rgba(215,60,60,.6)"></i>
<i style="left:3479.2px;top:974.4px;width:85.6px;height:16.8px;background:#fff;border:1.6px solid rgba(215,60,60,.6);border-radius:1.2px;box-sizing:border-box"></i>
<i style="left:3484px;top:980.5px;width:9.7px;height:3px;background:rgba(0,0,0,0.5)"></i>
<i style="left:3497.3px;top:980.5px;width:7.2px;height:3px;background:rgba(0,0,0,0.5)"></i>
<i style="left:3508.1px;top:980.5px;width:11.3px;height:3px;background:rgba(0,0,0,0.5)"></i>
<i style="left:3556px;top:980.8px;width:4px;height:4px;background:rgba(215,50,50,.8)"></i>
<i style="left:3479.2px;top:994px;width:38.5px;height:2.4px;background:rgba(215,60,60,.6)"></i>
<i style="left:3600.4px;top:974.4px;width:84.8px;height:11.2px;background:#fff;border:1.6px solid rgba(215,60,60,.6);border-radius:1.2px;box-sizing:border-box"></i>
<i style="left:3605.2px;top:977.9px;width:12.4px;height:3px;background:rgba(0,0,0,0.5)"></i>
<i style="left:3621.2px;top:977.9px;width:19.6px;height:3px;background:rgba(0,0,0,0.5)"></i>
<i style="left:3676.4px;top:978px;width:4px;height:4px;background:rgba(215,50,50,.8)"></i>
<i style="left:3600.4px;top:963.2px;width:8.8px;height:3.2px;background:rgba(0,0,0,.65)"></i>
<i style="left:3600.4px;top:988.4px;width:38.2px;height:2.4px;background:rgba(215,60,60,.6)"></i>
<i style="left:3691.6px;top:974.4px;width:84.8px;height:12px;background:#fff;border:1.6px solid rgba(215,60,60,.6);border-radius:1.2px;box-sizing:border-box"></i>
<i style="left:3696.4px;top:978.3px;width:9px;height:3px;background:rgba(0,0,0,0.5)"></i>
<i style="left:3709px;top:978.3px;width:21.5px;height:3px;background:rgba(0,0,0,0.5)"></i>
<i style="left:3767.6px;top:978.4px;width:4px;height:4px;background:rgba(215,50,50,.8)"></i>
<i style="left:3691.6px;top:963.2px;width:11.2px;height:3.2px;background:rgba(0,0,0,.65)"></i>
<i style="left:3691.6px;top:989.2px;width:38.2px;height:2.4px;background:rgba(215,60,60,.6)"></i>
<i style="left:3782.8px;top:974.4px;width:86px;height:16.8px;background:#fff;border:1.6px solid rgba(215,60,60,.6);border-radius:1.2px;box-sizing:border-box"></i>
<i style="left:3787.6px;top:980.5px;width:10.3px;height:3px;background:rgba(0,0,0,0.5)"></i>
<i style="left:3801.5px;top:980.5px;width:12.5px;height:3px;background:rgba(0,0,0,0.5)"></i>
<i style="left:3817.5px;top:980.5px;width:6.2px;height:3px;background:rgba(0,0,0,0.5)"></i>
<i style="left:3860px;top:980.8px;width:4px;height:4px;background:rgba(215,50,50,.8)"></i>
<i style="left:3782.8px;top:963.2px;width:13.6px;height:3.2px;background:rgba(0,0,0,.65)"></i>
<i style="left:3782.8px;top:994px;width:38.7px;height:2.4px;background:rgba(215,60,60,.6)"></i>
<i style="left:3968.8px;top:974.4px;width:86.4px;height:12px;background:#fff;border:1.6px solid rgba(215,60,60,.6);border-radius:1.2px;box-sizing:border-box"></i>
<i style="left:3973.6px;top:978.3px;width:19.4px;height:3px;background:rgba(0,0,0,0.5)"></i>
<i style="left:3996.6px;top:978.3px;width:13.3px;height:3px;background:rgba(0,0,0,0.5)"></i>
<i style="left:4046.4px;top:978.4px;width:4px;height:4px;background:rgba(215,50,50,.8)"></i>
<i style="left:3968.8px;top:989.2px;width:38.9px;height:2.4px;background:rgba(215,60,60,.6)"></i>
<i style="left:4124.4px;top:974.4px;width:86.8px;height:12px;background:#fff;border:1.6px solid rgba(215,60,60,.6);border-radius:1.2px;box-sizing:border-box"></i>
<i style="left:4129.2px;top:978.3px;width:7.9px;height:3px;background:rgba(0,0,0,0.5)"></i>
<i style="left:4140.7px;top:978.3px;width:14.2px;height:3px;background:rgba(0,0,0,0.5)"></i>
<i style="left:4158.5px;top:978.3px;width:7.1px;height:3px;background:rgba(0,0,0,0.5)"></i>
<i style="left:4202.4px;top:978.4px;width:4px;height:4px;background:rgba(215,50,50,.8)"></i>
<i style="left:4124.4px;top:989.2px;width:39.1px;height:2.4px;background:rgba(215,60,60,.6)"></i>
<i style="left:4292.8px;top:974.4px;width:85.2px;height:16.4px;background:#fff;border:1.6px solid rgba(215,60,60,.6);border-radius:1.2px;box-sizing:border-box"></i>
<i style="left:4297.6px;top:980.3px;width:20.8px;height:3px;background:rgba(0,0,0,0.5)"></i>
<i style="left:4322px;top:980.3px;width:10.1px;height:3px;background:rgba(0,0,0,0.5)"></i>
<i style="left:4369.2px;top:980.6px;width:4px;height:4px;background:rgba(215,50,50,.8)"></i>
<i style="left:4292.8px;top:993.6px;width:38.3px;height:2.4px;background:rgba(215,60,60,.6)"></i>
<i style="left:3918.8px;top:978.4px;width:12.8px;height:3.2px;background:rgba(0,0,0,0.45)"></i>
<i style="left:4074px;top:978.4px;width:12.8px;height:3.2px;background:rgba(0,0,0,0.45)"></i>
<i style="left:4232.8px;top:978.4px;width:12.8px;height:3.2px;background:rgba(0,0,0,0.6)"></i>
<i style="left:3294.8px;top:1040.8px;width:86px;height:11.2px;background:#fff;border:1.6px solid rgba(215,60,60,.6);border-radius:1.2px;box-sizing:border-box"></i>
<i style="left:3299.6px;top:1044.3px;width:12.6px;height:3px;background:rgba(0,0,0,0.5)"></i>
<i style="left:3315.8px;top:1044.3px;width:19.9px;height:3px;background:rgba(0,0,0,0.5)"></i>
<i style="left:3372px;top:1044.4px;width:4px;height:4px;background:rgba(215,50,50,.8)"></i>
<i style="left:3294.8px;top:1052.8px;width:28px;height:9.6px;background:#cc3333;border-radius:1.2px"></i>
<i style="left:3386.8px;top:1040.8px;width:85.2px;height:12px;background:#fff;border:1.6px solid rgba(215,60,60,.6);border-radius:1.2px;box-sizing:border-box"></i>
<i style="left:3391.6px;top:1044.7px;width:7.6px;height:3px;background:rgba(0,0,0,0.5)"></i>
<i style="left:3402.8px;top:1044.7px;width:13.3px;height:3px;background:rgba(0,0,0,0.5)"></i>
<i style="left:3419.7px;top:1044.7px;width:7.7px;height:3px;background:rgba(0,0,0,0.5)"></i>
<i style="left:3463.2px;top:1044.8px;width:4px;height:4px;background:rgba(215,50,50,.8)"></i>
<i style="left:3386.8px;top:1053.6px;width:28px;height:9.6px;background:#cc3333;border-radius:1.2px"></i>
<i style="left:3479.2px;top:1040.8px;width:85.6px;height:16.8px;background:#fff;border:1.6px solid rgba(215,60,60,.6);border-radius:1.2px;box-sizing:border-box"></i>
<i style="left:3484px;top:1046.9px;width:18.5px;height:3px;background:rgba(0,0,0,0.5)"></i>
<i style="left:3506.1px;top:1046.9px;width:7.8px;height:3px;background:rgba(0,0,0,0.5)"></i>
<i style="left:3517.5px;top:1046.9px;width:2.4px;height:3px;background:rgba(0,0,0,0.5)"></i>
<i style="left:3556px;top:1047.2px;width:4px;height:4px;background:rgba(215,50,50,.8)"></i>
<i style="left:3479.2px;top:1058.4px;width:28px;height:9.6px;background:#cc3333;border-radius:1.2px"></i>
<i style="left:3600.4px;top:1040.8px;width:84.8px;height:11.2px;background:#fff;border:1.6px solid rgba(215,60,60,.6);border-radius:1.2px;box-sizing:border-box"></i>
<i style="left:3605.2px;top:1044.3px;width:8.1px;height:3px;background:rgba(0,0,0,0.5)"></i>
<i style="left:3616.9px;top:1044.3px;width:20.8px;height:3px;background:rgba(0,0,0,0.5)"></i>
<i style="left:3676.4px;top:1044.4px;width:4px;height:4px;background:rgba(215,50,50,.8)"></i>
<i style="left:3600.4px;top:1029.6px;width:8.8px;height:3.2px;background:rgba(0,0,0,.65)"></i>
<i style="left:3600.4px;top:1052.8px;width:28px;height:9.6px;background:#cc3333;border-radius:1.2px"></i>
<i style="left:3691.6px;top:1040.8px;width:84.8px;height:12px;background:#fff;border:1.6px solid rgba(215,60,60,.6);border-radius:1.2px;box-sizing:border-box"></i>
<i style="left:3696.4px;top:1044.7px;width:11px;height:3px;background:rgba(0,0,0,0.5)"></i>
<i style="left:3711px;top:1044.7px;width:18.3px;height:3px;background:rgba(0,0,0,0.5)"></i>
<i style="left:3767.6px;top:1044.8px;width:4px;height:4px;background:rgba(215,50,50,.8)"></i>
<i style="left:3691.6px;top:1029.6px;width:11.2px;height:3.2px;background:rgba(0,0,0,.65)"></i>
<i style="left:3691.6px;top:1053.6px;width:28px;height:9.6px;background:#cc3333;border-radius:1.2px"></i>
<i style="left:3782.8px;top:1040.8px;width:86px;height:16.8px;background:#fff;border:1.6px solid rgba(215,60,60,.6);border-radius:1.2px;box-sizing:border-box"></i>
<i style="left:3787.6px;top:1046.9px;width:20.5px;height:3px;background:rgba(0,0,0,0.5)"></i>
<i style="left:3811.7px;top:1046.9px;width:12px;height:3px;background:rgba(0,0,0,0.5)"></i>
<i style="left:3860px;top:1047.2px;width:4px;height:4px;background:rgba(215,50,50,.8)"></i>
<i style="left:3782.8px;top:1029.6px;width:13.6px;height:3.2px;background:rgba(0,0,0,.65)"></i>
<i style="left:3782.8px;top:1058.4px;width:28px;height:9.6px;background:#cc3333;border-radius:1.2px"></i>
<i style="left:3968.8px;top:1040.8px;width:86.4px;height:12px;background:#fff;border:1.6px solid rgba(215,60,60,.6);border-radius:1.2px;box-sizing:border-box"></i>
<i style="left:3973.6px;top:1044.7px;width:11.2px;height:3px;background:rgba(0,0,0,0.5)"></i>
<i style="left:3988.4px;top:1044.7px;width:21.4px;height:3px;background:rgba(0,0,0,0.5)"></i>
<i style="left:4046.4px;top:1044.8px;width:4px;height:4px;background:rgba(215,50,50,.8)"></i>
<i style="left:3968.8px;top:1053.6px;width:28px;height:9.6px;background:#cc3333;border-radius:1.2px"></i>
<i style="left:4124.4px;top:1040.8px;width:86.8px;height:12px;background:#fff;border:1.6px solid rgba(215,60,60,.6);border-radius:1.2px;box-sizing:border-box"></i>
<i style="left:4129.2px;top:1044.7px;width:16.3px;height:3px;background:rgba(0,0,0,0.5)"></i>
<i style="left:4149.1px;top:1044.7px;width:11.1px;height:3px;background:rgba(0,0,0,0.5)"></i>
<i style="left:4163.8px;top:1044.7px;width:1.8px;height:3px;background:rgba(0,0,0,0.5)"></i>
<i style="left:4202.4px;top:1044.8px;width:4px;height:4px;background:rgba(215,50,50,.8)"></i>
<i style="left:4124.4px;top:1053.6px;width:28px;height:9.6px;background:#cc3333;border-radius:1.2px"></i>
<i style="left:4292.8px;top:1040.8px;width:85.2px;height:16.4px;background:#fff;border:1.6px solid rgba(215,60,60,.6);border-radius:1.2px;box-sizing:border-box"></i>
<i style="left:4297.6px;top:1046.7px;width:11.9px;height:3px;background:rgba(0,0,0,0.5)"></i>
<i style="left:4313.1px;top:1046.7px;width:11.3px;height:3px;background:rgba(0,0,0,0.5)"></i>
<i style="left:4328px;top:1046.7px;width:5.4px;height:3px;background:rgba(0,0,0,0.5)"></i>
<i style="left:4369.2px;top:1047px;width:4px;height:4px;background:rgba(215,50,50,.8)"></i>
<i style="left:4292.8px;top:1058px;width:28px;height:9.6px;background:#cc3333;border-radius:1.2px"></i>
<i style="left:3918.8px;top:1044.8px;width:12.8px;height:3.2px;background:rgba(0,0,0,0.45)"></i>
<i style="left:4074px;top:1044.8px;width:12.8px;height:3.2px;background:rgba(0,0,0,0.45)"></i>
<i style="left:4232.8px;top:1044.8px;width:12.8px;height:3.2px;background:rgba(0,0,0,0.6)"></i>
<i style="left:3265.2px;top:1334.8px;width:839.2px;height:404.8px;background:#fff"></i>
<i style="left:3265.2px;top:1334.8px;width:839.2px;height:52.4px;background:#b2bbc4"></i>
<b style="left:3278.4px;top:1347.6px;font-size:13.2px;color:#000;font-weight:bold;-webkit-text-stroke:.9px #000">Components - Basics</b>
<b style="left:3278.4px;top:1366px;font-size:8.8px;color:#000;font-weight:bold;-webkit-text-stroke:.5px #000">04 - Checkbox / Radio / Switch</b>
<i style="left:3284px;top:1406.4px;width:24px;height:3.2px;background:rgba(0,0,0,.5)"></i>
<i style="left:3460.8px;top:1406.4px;width:19.2px;height:3.2px;background:rgba(0,0,0,.5)"></i>
<i style="left:3644.8px;top:1406.4px;width:19.2px;height:3.2px;background:rgba(0,0,0,.5)"></i>
<i style="left:3291.2px;top:1420px;width:6px;height:6px;border:1.2px solid rgba(0,0,0,.15);box-sizing:border-box"></i>
<i style="left:3291.2px;top:1470.4px;width:6.4px;height:5.6px;background:#17606c"></i>
<i style="left:3472.8px;top:1420px;width:5.6px;height:5.6px;border:1.2px solid rgba(0,0,0,.15);border-radius:4px;box-sizing:border-box"></i>
<i style="left:3472.8px;top:1470.4px;width:5.6px;height:5.6px;background:#17606c;border-radius:4px"></i>
<i style="left:3656.8px;top:1420.8px;width:12.8px;height:8px;border:1.4px solid rgba(0,0,0,.35);border-radius:4px;box-sizing:border-box"></i>
<i style="left:3656.8px;top:1469.2px;width:13.2px;height:8.4px;background:#17606c;border-radius:4px"></i>
<i style="left:3316.8px;top:1422px;width:18.4px;height:4px;background:rgba(0,0,0,.55)"></i>
<i style="left:3338.8px;top:1422px;width:20.8px;height:4px;background:rgba(0,0,0,.55)"></i>
<i style="left:3363.1px;top:1422px;width:8.5px;height:4px;background:rgba(0,0,0,.55)"></i>
<i style="left:3321.6px;top:1429.8px;width:2.8px;height:2.8px;background:rgba(0,0,0,.38)"></i>
<i style="left:3328.4px;top:1429.2px;width:21.2px;height:4px;background:rgba(0,0,0,.38)"></i>
<i style="left:3353.2px;top:1429.2px;width:7.6px;height:4px;background:rgba(0,0,0,.38)"></i>
<i style="left:3364.3px;top:1429.2px;width:10.7px;height:4px;background:rgba(0,0,0,.38)"></i>
<i style="left:3378.6px;top:1429.2px;width:14.2px;height:4px;background:rgba(0,0,0,.38)"></i>
<i style="left:3321.6px;top:1437px;width:2.8px;height:2.8px;background:rgba(0,0,0,.38)"></i>
<i style="left:3328.4px;top:1436.4px;width:21.4px;height:4px;background:rgba(0,0,0,.38)"></i>
<i style="left:3353.4px;top:1436.4px;width:21.3px;height:4px;background:rgba(0,0,0,.38)"></i>
<i style="left:3378.3px;top:1436.4px;width:12.9px;height:4px;background:rgba(0,0,0,.38)"></i>
<i style="left:3394.8px;top:1436.4px;width:10.9px;height:4px;background:rgba(0,0,0,.38)"></i>
<i style="left:3409.3px;top:1436.4px;width:4.7px;height:4px;background:rgba(0,0,0,.38)"></i>
<i style="left:3321.6px;top:1444.2px;width:2.8px;height:2.8px;background:rgba(0,0,0,.38)"></i>
<i style="left:3328.4px;top:1443.6px;width:14.5px;height:4px;background:rgba(0,0,0,.38)"></i>
<i style="left:3346.5px;top:1443.6px;width:20.9px;height:4px;background:rgba(0,0,0,.38)"></i>
<i style="left:3371px;top:1443.6px;width:6.6px;height:4px;background:rgba(0,0,0,.38)"></i>
<i style="left:3316.8px;top:1470.4px;width:19.1px;height:4px;background:rgba(0,0,0,.55)"></i>
<i style="left:3339.5px;top:1470.4px;width:18.1px;height:4px;background:rgba(0,0,0,.55)"></i>
<i style="left:3361.2px;top:1470.4px;width:10.4px;height:4px;background:rgba(0,0,0,.55)"></i>
<i style="left:3321.6px;top:1478.2px;width:2.8px;height:2.8px;background:rgba(0,0,0,.38)"></i>
<i style="left:3328.4px;top:1477.6px;width:18.6px;height:4px;background:rgba(0,0,0,.38)"></i>
<i style="left:3350.6px;top:1477.6px;width:16.2px;height:4px;background:rgba(0,0,0,.38)"></i>
<i style="left:3370.4px;top:1477.6px;width:10px;height:4px;background:rgba(0,0,0,.38)"></i>
<i style="left:3321.6px;top:1485.4px;width:2.8px;height:2.8px;background:rgba(0,0,0,.38)"></i>
<i style="left:3328.4px;top:1484.8px;width:11.9px;height:4px;background:rgba(0,0,0,.38)"></i>
<i style="left:3343.9px;top:1484.8px;width:12.6px;height:4px;background:rgba(0,0,0,.38)"></i>
<i style="left:3360.1px;top:1484.8px;width:18.3px;height:4px;background:rgba(0,0,0,.38)"></i>
<i style="left:3321.6px;top:1492.6px;width:2.8px;height:2.8px;background:rgba(0,0,0,.38)"></i>
<i style="left:3328.4px;top:1492px;width:8.4px;height:4px;background:rgba(0,0,0,.38)"></i>
<i style="left:3340.4px;top:1492px;width:10.1px;height:4px;background:rgba(0,0,0,.38)"></i>
<i style="left:3354.1px;top:1492px;width:18.3px;height:4px;background:rgba(0,0,0,.38)"></i>
<i style="left:3376px;top:1492px;width:4.4px;height:4px;background:rgba(0,0,0,.38)"></i>
<i style="left:3321.6px;top:1499.8px;width:2.8px;height:2.8px;background:rgba(0,0,0,.38)"></i>
<i style="left:3328.4px;top:1499.2px;width:8.2px;height:4px;background:rgba(0,0,0,.38)"></i>
<i style="left:3340.2px;top:1499.2px;width:7.7px;height:4px;background:rgba(0,0,0,.38)"></i>
<i style="left:3351.5px;top:1499.2px;width:15.4px;height:4px;background:rgba(0,0,0,.38)"></i>
<i style="left:3370.4px;top:1499.2px;width:10px;height:4px;background:rgba(0,0,0,.38)"></i>
<i style="left:3495.6px;top:1422px;width:21.7px;height:4px;background:rgba(0,0,0,.55)"></i>
<i style="left:3520.9px;top:1422px;width:14.7px;height:4px;background:rgba(0,0,0,.55)"></i>
<i style="left:3500.4px;top:1429.8px;width:2.8px;height:2.8px;background:rgba(0,0,0,.38)"></i>
<i style="left:3507.2px;top:1429.2px;width:21.8px;height:4px;background:rgba(0,0,0,.38)"></i>
<i style="left:3532.6px;top:1429.2px;width:11.1px;height:4px;background:rgba(0,0,0,.38)"></i>
<i style="left:3547.3px;top:1429.2px;width:8.4px;height:4px;background:rgba(0,0,0,.38)"></i>
<i style="left:3559.4px;top:1429.2px;width:7.8px;height:4px;background:rgba(0,0,0,.38)"></i>
<i style="left:3500.4px;top:1437px;width:2.8px;height:2.8px;background:rgba(0,0,0,.38)"></i>
<i style="left:3507.2px;top:1436.4px;width:14.6px;height:4px;background:rgba(0,0,0,.38)"></i>
<i style="left:3525.4px;top:1436.4px;width:17.7px;height:4px;background:rgba(0,0,0,.38)"></i>
<i style="left:3546.7px;top:1436.4px;width:13.8px;height:4px;background:rgba(0,0,0,.38)"></i>
<i style="left:3564.1px;top:1436.4px;width:10.7px;height:4px;background:rgba(0,0,0,.38)"></i>
<i style="left:3578.4px;top:1436.4px;width:12.8px;height:4px;background:rgba(0,0,0,.38)"></i>
<i style="left:3500.4px;top:1444.2px;width:2.8px;height:2.8px;background:rgba(0,0,0,.38)"></i>
<i style="left:3507.2px;top:1443.6px;width:16.4px;height:4px;background:rgba(0,0,0,.38)"></i>
<i style="left:3527.2px;top:1443.6px;width:17.2px;height:4px;background:rgba(0,0,0,.38)"></i>
<i style="left:3548px;top:1443.6px;width:11.2px;height:4px;background:rgba(0,0,0,.38)"></i>
<i style="left:3495.6px;top:1470.4px;width:19.7px;height:4px;background:rgba(0,0,0,.55)"></i>
<i style="left:3518.9px;top:1470.4px;width:17px;height:4px;background:rgba(0,0,0,.55)"></i>
<i style="left:3539.6px;top:1470.4px;width:9px;height:4px;background:rgba(0,0,0,.55)"></i>
<i style="left:3500.4px;top:1478.2px;width:2.8px;height:2.8px;background:rgba(0,0,0,.38)"></i>
<i style="left:3507.2px;top:1477.6px;width:19.6px;height:4px;background:rgba(0,0,0,.38)"></i>
<i style="left:3530.4px;top:1477.6px;width:11.5px;height:4px;background:rgba(0,0,0,.38)"></i>
<i style="left:3545.6px;top:1477.6px;width:15.6px;height:4px;background:rgba(0,0,0,.38)"></i>
<i style="left:3564.8px;top:1477.6px;width:12.4px;height:4px;background:rgba(0,0,0,.38)"></i>
<i style="left:3500.4px;top:1485.4px;width:2.8px;height:2.8px;background:rgba(0,0,0,.38)"></i>
<i style="left:3507.2px;top:1484.8px;width:18.1px;height:4px;background:rgba(0,0,0,.38)"></i>
<i style="left:3528.9px;top:1484.8px;width:10.1px;height:4px;background:rgba(0,0,0,.38)"></i>
<i style="left:3542.7px;top:1484.8px;width:10.9px;height:4px;background:rgba(0,0,0,.38)"></i>
<i style="left:3557.1px;top:1484.8px;width:10.1px;height:4px;background:rgba(0,0,0,.38)"></i>
<i style="left:3500.4px;top:1492.6px;width:2.8px;height:2.8px;background:rgba(0,0,0,.38)"></i>
<i style="left:3507.2px;top:1492px;width:9.5px;height:4px;background:rgba(0,0,0,.38)"></i>
<i style="left:3520.3px;top:1492px;width:20.3px;height:4px;background:rgba(0,0,0,.38)"></i>
<i style="left:3544.2px;top:1492px;width:15.8px;height:4px;background:rgba(0,0,0,.38)"></i>
<i style="left:3563.5px;top:1492px;width:3.7px;height:4px;background:rgba(0,0,0,.38)"></i>
<i style="left:3500.4px;top:1499.8px;width:2.8px;height:2.8px;background:rgba(0,0,0,.38)"></i>
<i style="left:3507.2px;top:1499.2px;width:13.1px;height:4px;background:rgba(0,0,0,.38)"></i>
<i style="left:3523.9px;top:1499.2px;width:21.9px;height:4px;background:rgba(0,0,0,.38)"></i>
<i style="left:3549.4px;top:1499.2px;width:5.8px;height:4px;background:rgba(0,0,0,.38)"></i>
<i style="left:3677.2px;top:1422px;width:10.6px;height:4px;background:rgba(0,0,0,.55)"></i>
<i style="left:3691.4px;top:1422px;width:19.2px;height:4px;background:rgba(0,0,0,.55)"></i>
<i style="left:3682px;top:1429.8px;width:2.8px;height:2.8px;background:rgba(0,0,0,.38)"></i>
<i style="left:3688.8px;top:1429.2px;width:16.9px;height:4px;background:rgba(0,0,0,.38)"></i>
<i style="left:3709.3px;top:1429.2px;width:21.9px;height:4px;background:rgba(0,0,0,.38)"></i>
<i style="left:3734.7px;top:1429.2px;width:8.7px;height:4px;background:rgba(0,0,0,.38)"></i>
<i style="left:3747px;top:1429.2px;width:8.2px;height:4px;background:rgba(0,0,0,.38)"></i>
<i style="left:3682px;top:1437px;width:2.8px;height:2.8px;background:rgba(0,0,0,.38)"></i>
<i style="left:3688.8px;top:1436.4px;width:19.3px;height:4px;background:rgba(0,0,0,.38)"></i>
<i style="left:3711.7px;top:1436.4px;width:19.6px;height:4px;background:rgba(0,0,0,.38)"></i>
<i style="left:3735px;top:1436.4px;width:20.7px;height:4px;background:rgba(0,0,0,.38)"></i>
<i style="left:3759.3px;top:1436.4px;width:7.8px;height:4px;background:rgba(0,0,0,.38)"></i>
<i style="left:3770.7px;top:1436.4px;width:11.5px;height:4px;background:rgba(0,0,0,.38)"></i>
<i style="left:3785.8px;top:1436.4px;width:7.8px;height:4px;background:rgba(0,0,0,.38)"></i>
<i style="left:3682px;top:1444.2px;width:2.8px;height:2.8px;background:rgba(0,0,0,.38)"></i>
<i style="left:3688.8px;top:1443.6px;width:10px;height:4px;background:rgba(0,0,0,.38)"></i>
<i style="left:3702.4px;top:1443.6px;width:21.6px;height:4px;background:rgba(0,0,0,.38)"></i>
<i style="left:3677.2px;top:1470.4px;width:15.8px;height:4px;background:rgba(0,0,0,.55)"></i>
<i style="left:3696.6px;top:1470.4px;width:21px;height:4px;background:rgba(0,0,0,.55)"></i>
<i style="left:3721.2px;top:1470.4px;width:2.8px;height:4px;background:rgba(0,0,0,.55)"></i>
<i style="left:3682px;top:1478.2px;width:2.8px;height:2.8px;background:rgba(0,0,0,.38)"></i>
<i style="left:3688.8px;top:1477.6px;width:20px;height:4px;background:rgba(0,0,0,.38)"></i>
<i style="left:3712.4px;top:1477.6px;width:13.8px;height:4px;background:rgba(0,0,0,.38)"></i>
<i style="left:3729.9px;top:1477.6px;width:11px;height:4px;background:rgba(0,0,0,.38)"></i>
<i style="left:3744.5px;top:1477.6px;width:10.7px;height:4px;background:rgba(0,0,0,.38)"></i>
<i style="left:3682px;top:1485.4px;width:2.8px;height:2.8px;background:rgba(0,0,0,.38)"></i>
<i style="left:3688.8px;top:1484.8px;width:21.2px;height:4px;background:rgba(0,0,0,.38)"></i>
<i style="left:3713.6px;top:1484.8px;width:8.8px;height:4px;background:rgba(0,0,0,.38)"></i>
<i style="left:3726px;top:1484.8px;width:16px;height:4px;background:rgba(0,0,0,.38)"></i>
<i style="left:3745.6px;top:1484.8px;width:4.8px;height:4px;background:rgba(0,0,0,.38)"></i>
<i style="left:3682px;top:1492.6px;width:2.8px;height:2.8px;background:rgba(0,0,0,.38)"></i>
<i style="left:3688.8px;top:1492px;width:10.4px;height:4px;background:rgba(0,0,0,.38)"></i>
<i style="left:3702.8px;top:1492px;width:12.7px;height:4px;background:rgba(0,0,0,.38)"></i>
<i style="left:3719.1px;top:1492px;width:9.3px;height:4px;background:rgba(0,0,0,.38)"></i>
<i style="left:3732px;top:1492px;width:10.2px;height:4px;background:rgba(0,0,0,.38)"></i>
<i style="left:3745.8px;top:1492px;width:9.4px;height:4px;background:rgba(0,0,0,.38)"></i>
<i style="left:3682px;top:1499.8px;width:2.8px;height:2.8px;background:rgba(0,0,0,.38)"></i>
<i style="left:3688.8px;top:1499.2px;width:16.1px;height:4px;background:rgba(0,0,0,.38)"></i>
<i style="left:3708.5px;top:1499.2px;width:16.8px;height:4px;background:rgba(0,0,0,.38)"></i>
<i style="left:3728.9px;top:1499.2px;width:10.2px;height:4px;background:rgba(0,0,0,.38)"></i>
<i style="left:3742.7px;top:1499.2px;width:7.4px;height:4px;background:rgba(0,0,0,.38)"></i>
<i style="left:3753.7px;top:1499.2px;width:1.5px;height:4px;background:rgba(0,0,0,.38)"></i>
<i style="left:3682px;top:1507px;width:2.8px;height:2.8px;background:rgba(0,0,0,.38)"></i>
<i style="left:3688.8px;top:1506.4px;width:17.2px;height:4px;background:rgba(0,0,0,.38)"></i>
<i style="left:3709.6px;top:1506.4px;width:9.9px;height:4px;background:rgba(0,0,0,.38)"></i>
<i style="left:3723.2px;top:1506.4px;width:11.8px;height:4px;background:rgba(0,0,0,.38)"></i>
<i style="left:3738.6px;top:1506.4px;width:7.4px;height:4px;background:rgba(0,0,0,.38)"></i>
<i style="left:3275.2px;top:1560.4px;width:820px;height:158.4px;background:#f1f4f5"></i>
<i style="left:3439.2px;top:1573.6px;width:507.2px;height:139.6px;border:2.4px dashed rgba(140,90,255,.22);box-sizing:border-box"></i>
<i style="left:3447.6px;top:1583.6px;width:4.8px;height:4.8px;border:1.2px solid rgba(0,0,0,.12);box-sizing:border-box"></i>
<i style="left:3447.6px;top:1595.2px;width:5.2px;height:5.2px;background:#17606c;border-radius:1.2px"></i>
<i style="left:3447.6px;top:1606.4px;width:4.8px;height:4.8px;border:1.2px solid rgba(0,0,0,.12);box-sizing:border-box"></i>
<i style="left:3447.6px;top:1618.4px;width:4.8px;height:4.8px;border:1.2px solid rgba(0,0,0,.12);box-sizing:border-box"></i>
<i style="left:3448px;top:1638.4px;width:3.2px;height:3.2px;background:rgba(0,0,0,.15)"></i>
<i style="left:3457.2px;top:1638.4px;width:32px;height:3.2px;background:rgba(0,0,0,.4)"></i>
<i style="left:3447.6px;top:1648.8px;width:4.8px;height:5.2px;background:#17606c"></i>
<i style="left:3457.2px;top:1649.6px;width:20px;height:3.2px;background:rgba(0,0,0,.4)"></i>
<i style="left:3448px;top:1661.2px;width:3.2px;height:3.2px;background:rgba(0,0,0,.15)"></i>
<i style="left:3457.2px;top:1661.2px;width:52px;height:3.2px;background:rgba(0,0,0,.4)"></i>
<i style="left:3448px;top:1672.8px;width:3.2px;height:3.2px;background:rgba(0,0,0,.15)"></i>
<i style="left:3457.2px;top:1672.8px;width:48px;height:3.2px;background:rgba(0,0,0,.4)"></i>
<i style="left:3530.4px;top:1583.6px;width:4.8px;height:4.8px;border:1.2px solid rgba(0,0,0,.12);box-sizing:border-box"></i>
<i style="left:3530.4px;top:1595.2px;width:5.2px;height:5.2px;background:#17606c;border-radius:1.2px"></i>
<i style="left:3530.4px;top:1606.4px;width:4.8px;height:4.8px;border:1.2px solid rgba(0,0,0,.12);box-sizing:border-box"></i>
<i style="left:3530.4px;top:1618.4px;width:4.8px;height:4.8px;border:1.2px solid rgba(0,0,0,.12);box-sizing:border-box"></i>
<i style="left:3530.8px;top:1638.4px;width:3.2px;height:3.2px;background:rgba(0,0,0,.15)"></i>
<i style="left:3540px;top:1638.4px;width:32px;height:3.2px;background:rgba(0,0,0,.4)"></i>
<i style="left:3530.4px;top:1648.8px;width:4.8px;height:5.2px;background:#17606c"></i>
<i style="left:3540px;top:1649.6px;width:20px;height:3.2px;background:rgba(0,0,0,.4)"></i>
<i style="left:3530.8px;top:1661.2px;width:3.2px;height:3.2px;background:rgba(0,0,0,.15)"></i>
<i style="left:3540px;top:1661.2px;width:52px;height:3.2px;background:rgba(0,0,0,.4)"></i>
<i style="left:3530.8px;top:1672.8px;width:3.2px;height:3.2px;background:rgba(0,0,0,.15)"></i>
<i style="left:3540px;top:1672.8px;width:48px;height:3.2px;background:rgba(0,0,0,.4)"></i>
<i style="left:3621.2px;top:1581.6px;width:15.6px;height:8.8px;background:#fff;border:1.2px solid rgba(0,0,0,.1);border-radius:4.4px;box-sizing:border-box"></i>
<i style="left:3621.2px;top:1596.6px;width:15.6px;height:10px;background:#17606c;border-radius:4.8px"></i>
<i style="left:3621.2px;top:1612.4px;width:15.6px;height:8.8px;background:#fff;border:1.2px solid rgba(0,0,0,.1);border-radius:4.4px;box-sizing:border-box"></i>
<i style="left:3621.2px;top:1626.8px;width:15.6px;height:8.8px;background:#7ea9b1;border-radius:4.4px"></i>
<i style="left:3621.2px;top:1646.8px;width:15.6px;height:8.8px;background:#fff;border:1.2px solid rgba(0,0,0,.1);border-radius:4.4px;box-sizing:border-box"></i>
<i style="left:3641.2px;top:1649.6px;width:32px;height:3.2px;background:rgba(0,0,0,.5)"></i>
<i style="left:3621.2px;top:1661px;width:15.6px;height:10px;background:#17606c;border-radius:4.8px"></i>
<i style="left:3641.2px;top:1664.4px;width:16px;height:3.2px;background:rgba(0,0,0,.5)"></i>
<i style="left:3621.2px;top:1676.4px;width:15.6px;height:8.8px;background:#fff;border:1.2px solid rgba(0,0,0,.1);border-radius:4.4px;box-sizing:border-box"></i>
<i style="left:3641.2px;top:1679.2px;width:58px;height:3.2px;background:rgba(0,0,0,.5)"></i>
<i style="left:3621.2px;top:1691.6px;width:15.6px;height:8.8px;background:#7ea9b1;border-radius:4.4px"></i>
<i style="left:3641.2px;top:1694.4px;width:48px;height:3.2px;background:rgba(0,0,0,.5)"></i>
<i style="left:3268px;top:1888.8px;width:533.2px;height:402.4px;background:#fff"></i>
<i style="left:3268px;top:1888.8px;width:533.2px;height:50.4px;background:#b2bbc4"></i>
<b style="left:3276.8px;top:1900px;font-size:13.2px;color:#000;font-weight:bold;-webkit-text-stroke:.9px #000">Components - Basics</b>
<i style="left:3276.8px;top:1920.8px;width:8px;height:3.2px;background:rgba(0,0,0,.6)"></i>
<i style="left:3289.2px;top:1920.8px;width:19px;height:3.2px;background:rgba(0,0,0,.5)"></i>
<i style="left:3311.8px;top:1920.8px;width:15.3px;height:3.2px;background:rgba(0,0,0,.5)"></i>
<i style="left:3330.7px;top:1920.8px;width:8.1px;height:3.2px;background:rgba(0,0,0,.5)"></i>
<i style="left:3342.4px;top:1920.8px;width:8.7px;height:3.2px;background:rgba(0,0,0,.5)"></i>
<i style="left:3354.7px;top:1920.8px;width:13.1px;height:3.2px;background:rgba(0,0,0,.5)"></i>
<i style="left:3371.4px;top:1920.8px;width:15.3px;height:3.2px;background:rgba(0,0,0,.5)"></i>
<i style="left:3390.3px;top:1920.8px;width:16.7px;height:3.2px;background:rgba(0,0,0,.5)"></i>
<i style="left:3410.6px;top:1920.8px;width:8.5px;height:3.2px;background:rgba(0,0,0,.5)"></i>
<i style="left:3422.7px;top:1920.8px;width:9.6px;height:3.2px;background:rgba(0,0,0,.5)"></i>
<i style="left:3435.9px;top:1920.8px;width:17.5px;height:3.2px;background:rgba(0,0,0,.5)"></i>
<i style="left:3457px;top:1920.8px;width:13.3px;height:3.2px;background:rgba(0,0,0,.5)"></i>
<i style="left:3473.9px;top:1920.8px;width:11.4px;height:3.2px;background:rgba(0,0,0,.5)"></i>
<i style="left:3488.9px;top:1920.8px;width:11.8px;height:3.2px;background:rgba(0,0,0,.5)"></i>
<i style="left:3504.2px;top:1920.8px;width:21.3px;height:3.2px;background:rgba(0,0,0,.5)"></i>
<i style="left:3529.2px;top:1920.8px;width:11.8px;height:3.2px;background:rgba(0,0,0,.5)"></i>
<i style="left:3544.6px;top:1920.8px;width:15.6px;height:3.2px;background:rgba(0,0,0,.5)"></i>
<i style="left:3563.8px;top:1920.8px;width:12.5px;height:3.2px;background:rgba(0,0,0,.5)"></i>
<i style="left:3579.8px;top:1920.8px;width:13.4px;height:3.2px;background:rgba(0,0,0,.5)"></i>
<i style="left:3596.8px;top:1920.8px;width:20px;height:3.2px;background:rgba(0,0,0,.5)"></i>
<i style="left:3620.4px;top:1920.8px;width:21.9px;height:3.2px;background:rgba(0,0,0,.5)"></i>
<i style="left:3645.9px;top:1920.8px;width:12.6px;height:3.2px;background:rgba(0,0,0,.5)"></i>
<i style="left:3662.1px;top:1920.8px;width:10.1px;height:3.2px;background:rgba(0,0,0,.5)"></i>
<i style="left:3675.9px;top:1920.8px;width:18px;height:3.2px;background:rgba(0,0,0,.5)"></i>
<i style="left:3697.4px;top:1920.8px;width:10.2px;height:3.2px;background:rgba(0,0,0,.5)"></i>
<i style="left:3711.2px;top:1920.8px;width:7.3px;height:3.2px;background:rgba(0,0,0,.5)"></i>
<i style="left:3722.1px;top:1920.8px;width:20.5px;height:3.2px;background:rgba(0,0,0,.5)"></i>
<i style="left:3746.3px;top:1920.8px;width:13.5px;height:3.2px;background:rgba(0,0,0,.5)"></i>
<i style="left:3763.3px;top:1920.8px;width:1.9px;height:3.2px;background:rgba(0,0,0,.5)"></i>
<i style="left:3336px;top:2016px;width:3.6px;height:3.2px;background:rgba(0,0,0,.6)"></i>
<i style="left:3376.4px;top:2016px;width:19.6px;height:3.2px;background:rgba(0,0,0,.5)"></i>
<i style="left:3409.2px;top:2016px;width:14.8px;height:3.2px;background:rgba(0,0,0,.5)"></i>
<i style="left:3465.2px;top:2016px;width:3.6px;height:3.2px;background:rgba(0,0,0,.6)"></i>
<i style="left:3334.8px;top:2036.4px;width:7.2px;height:2.4px;background:rgba(0,0,0,.45)"></i>
<i style="left:3355.4px;top:2036.4px;width:7.2px;height:2.4px;background:rgba(0,0,0,.45)"></i>
<i style="left:3376px;top:2036.4px;width:7.2px;height:2.4px;background:rgba(0,0,0,.45)"></i>
<i style="left:3396.6px;top:2036.4px;width:7.2px;height:2.4px;background:rgba(0,0,0,.45)"></i>
<i style="left:3417.2px;top:2036.4px;width:7.2px;height:2.4px;background:rgba(0,0,0,.45)"></i>
<i style="left:3437.8px;top:2036.4px;width:7.2px;height:2.4px;background:rgba(0,0,0,.45)"></i>
<i style="left:3458.4px;top:2036.4px;width:7.2px;height:2.4px;background:rgba(0,0,0,.45)"></i>
<i style="left:3335.6px;top:2056.6px;width:6px;height:3.6px;background:rgba(0,0,0,0.12)"></i>
<i style="left:3356.2px;top:2056.6px;width:6px;height:3.6px;background:rgba(0,0,0,0.12)"></i>
<i style="left:3376.8px;top:2056.6px;width:6px;height:3.6px;background:rgba(0,0,0,0.12)"></i>
<i style="left:3397.4px;top:2056.6px;width:6px;height:3.6px;background:rgba(0,0,0,0.12)"></i>
<i style="left:3418px;top:2056.6px;width:6px;height:3.6px;background:rgba(0,0,0,0.12)"></i>
<i style="left:3438.6px;top:2056.6px;width:6px;height:3.6px;background:rgba(0,0,0,0.12)"></i>
<i style="left:3459.2px;top:2056.6px;width:6px;height:3.6px;background:rgba(0,0,0,0.12)"></i>
<i style="left:3335.6px;top:2075.8px;width:6px;height:3.6px;background:rgba(0,0,0,0.32000000000000006)"></i>
<i style="left:3356.2px;top:2075.8px;width:6px;height:3.6px;background:rgba(0,0,0,0.32000000000000006)"></i>
<i style="left:3372px;top:2068.8px;width:19.2px;height:18px;background:#17606c"></i>
<i style="left:3379.6px;top:2075.8px;width:3.6px;height:3.6px;background:rgba(255,255,255,.6)"></i>
<i style="left:3397.4px;top:2075.8px;width:6px;height:3.6px;background:rgba(0,0,0,0.32000000000000006)"></i>
<i style="left:3418px;top:2075.8px;width:6px;height:3.6px;background:rgba(0,0,0,0.32000000000000006)"></i>
<i style="left:3438.6px;top:2075.8px;width:6px;height:3.6px;background:rgba(0,0,0,0.32000000000000006)"></i>
<i style="left:3459.2px;top:2075.8px;width:6px;height:3.6px;background:rgba(0,0,0,0.32000000000000006)"></i>
<i style="left:3335.6px;top:2093.8px;width:6px;height:3.6px;background:rgba(0,0,0,0.32000000000000006)"></i>
<i style="left:3356.2px;top:2093.8px;width:6px;height:3.6px;background:rgba(0,0,0,0.32000000000000006)"></i>
<i style="left:3376.8px;top:2093.8px;width:6px;height:3.6px;background:rgba(0,0,0,0.32000000000000006)"></i>
<i style="left:3397.4px;top:2093.8px;width:6px;height:3.6px;background:rgba(0,0,0,0.32000000000000006)"></i>
<i style="left:3418px;top:2093.8px;width:6px;height:3.6px;background:rgba(0,0,0,0.32000000000000006)"></i>
<i style="left:3438.6px;top:2093.8px;width:6px;height:3.6px;background:rgba(0,0,0,0.32000000000000006)"></i>
<i style="left:3459.2px;top:2093.8px;width:6px;height:3.6px;background:rgba(0,0,0,0.32000000000000006)"></i>
<i style="left:3335.6px;top:2112.2px;width:6px;height:3.6px;background:rgba(0,0,0,0.4)"></i>
<i style="left:3356.2px;top:2112.2px;width:6px;height:3.6px;background:rgba(0,0,0,0.4)"></i>
<i style="left:3376.8px;top:2112.2px;width:6px;height:3.6px;background:rgba(0,0,0,0.4)"></i>
<i style="left:3397.4px;top:2112.2px;width:6px;height:3.6px;background:rgba(0,0,0,0.4)"></i>
<i style="left:3418px;top:2112.2px;width:6px;height:3.6px;background:rgba(0,0,0,0.4)"></i>
<i style="left:3438.6px;top:2112.2px;width:6px;height:3.6px;background:rgba(0,0,0,0.4)"></i>
<i style="left:3459.2px;top:2112.2px;width:6px;height:3.6px;background:rgba(0,0,0,0.4)"></i>
<i style="left:3335.6px;top:2130.6px;width:6px;height:3.6px;background:rgba(0,0,0,0.32000000000000006)"></i>
<i style="left:3356.2px;top:2130.6px;width:6px;height:3.6px;background:rgba(0,0,0,0.32000000000000006)"></i>
<i style="left:3376.8px;top:2130.6px;width:6px;height:3.6px;background:rgba(0,0,0,0.32000000000000006)"></i>
<i style="left:3397.4px;top:2130.6px;width:6px;height:3.6px;background:rgba(0,0,0,0.32000000000000006)"></i>
<i style="left:3418px;top:2130.6px;width:6px;height:3.6px;background:rgba(0,0,0,0.32000000000000006)"></i>
<i style="left:3516px;top:2004.8px;width:13.2px;height:3.2px;background:rgba(0,0,0,0.55)"></i>
<i style="left:3532.8px;top:2004.8px;width:20.3px;height:3.2px;background:rgba(0,0,0,0.55)"></i>
<i style="left:3556.7px;top:2004.8px;width:5.3px;height:3.2px;background:rgba(0,0,0,0.55)"></i>
<i style="left:3522px;top:2012px;width:9.6px;height:3.2px;background:rgba(0,0,0,0.35)"></i>
<i style="left:3535.2px;top:2012px;width:7.4px;height:3.2px;background:rgba(0,0,0,0.35)"></i>
<i style="left:3546.2px;top:2012px;width:15.4px;height:3.2px;background:rgba(0,0,0,0.35)"></i>
<i style="left:3565.2px;top:2012px;width:9.2px;height:3.2px;background:rgba(0,0,0,0.35)"></i>
<i style="left:3524px;top:2020.4px;width:20.7px;height:3.2px;background:rgba(0,0,0,0.35)"></i>
<i style="left:3516px;top:2035.2px;width:8.5px;height:3.2px;background:rgba(0,0,0,0.55)"></i>
<i style="left:3528.1px;top:2035.2px;width:16.4px;height:3.2px;background:rgba(0,0,0,0.55)"></i>
<i style="left:3548.1px;top:2035.2px;width:12.7px;height:3.2px;background:rgba(0,0,0,0.55)"></i>
<i style="left:3564.4px;top:2035.2px;width:14.7px;height:3.2px;background:rgba(0,0,0,0.55)"></i>
<i style="left:3520px;top:2042px;width:9.4px;height:3.2px;background:rgba(0,0,0,0.35)"></i>
<i style="left:3533px;top:2042px;width:11.4px;height:3.2px;background:rgba(0,0,0,0.35)"></i>
<i style="left:3548px;top:2042px;width:14.9px;height:3.2px;background:rgba(0,0,0,0.35)"></i>
<i style="left:3566.5px;top:2042px;width:20.9px;height:3.2px;background:rgba(0,0,0,0.35)"></i>
<i style="left:3591px;top:2042px;width:8.2px;height:3.2px;background:rgba(0,0,0,0.35)"></i>
<i style="left:3522px;top:2049.6px;width:14.5px;height:3.2px;background:rgba(0,0,0,0.35)"></i>
<i style="left:3540.1px;top:2049.6px;width:11.9px;height:3.2px;background:rgba(0,0,0,0.35)"></i>
<i style="left:3516px;top:2064.4px;width:21.5px;height:3.2px;background:rgba(0,0,0,0.55)"></i>
<i style="left:3541.1px;top:2064.4px;width:10.1px;height:3.2px;background:rgba(0,0,0,0.55)"></i>
<i style="left:3554.8px;top:2064.4px;width:8px;height:3.2px;background:rgba(0,0,0,0.55)"></i>
<i style="left:3522px;top:2072px;width:21.2px;height:3.2px;background:rgba(0,0,0,0.35)"></i>
<i style="left:3546.8px;top:2072px;width:21.6px;height:3.2px;background:rgba(0,0,0,0.35)"></i>
<i style="left:3522px;top:2079.6px;width:14.3px;height:3.2px;background:rgba(0,0,0,0.35)"></i>
<i style="left:3539.9px;top:2079.6px;width:8px;height:3.2px;background:rgba(0,0,0,0.35)"></i>
<i style="left:3551.5px;top:2079.6px;width:4.5px;height:3.2px;background:rgba(0,0,0,0.35)"></i>
<i style="left:3516px;top:2092px;width:12.9px;height:3.2px;background:rgba(0,0,0,0.55)"></i>
<i style="left:3532.5px;top:2092px;width:20.6px;height:3.2px;background:rgba(0,0,0,0.55)"></i>
<i style="left:3556.7px;top:2092px;width:16.4px;height:3.2px;background:rgba(0,0,0,0.55)"></i>
<i style="left:3576.7px;top:2092px;width:19.3px;height:3.2px;background:rgba(0,0,0,0.55)"></i>
<i style="left:3520px;top:2099.6px;width:9.6px;height:3.2px;background:rgba(0,0,0,0.35)"></i>
<i style="left:3533.2px;top:2099.6px;width:18.8px;height:3.2px;background:rgba(0,0,0,0.35)"></i>
<i style="left:3555.6px;top:2099.6px;width:8.4px;height:3.2px;background:rgba(0,0,0,0.35)"></i>
<i style="left:3522px;top:2107.6px;width:13.2px;height:3.2px;background:rgba(0,0,0,0.35)"></i>
<i style="left:3538.8px;top:2107.6px;width:19.7px;height:3.2px;background:rgba(0,0,0,0.35)"></i>
<i style="left:3562.1px;top:2107.6px;width:13.9px;height:3.2px;background:rgba(0,0,0,0.35)"></i>
<i style="left:3516px;top:2120.8px;width:9.9px;height:3.2px;background:rgba(0,0,0,0.55)"></i>
<i style="left:3529.5px;top:2120.8px;width:10.4px;height:3.2px;background:rgba(0,0,0,0.55)"></i>
<i style="left:3543.5px;top:2120.8px;width:13.1px;height:3.2px;background:rgba(0,0,0,0.55)"></i>
<i style="left:3560.3px;top:2120.8px;width:14.9px;height:3.2px;background:rgba(0,0,0,0.55)"></i>
<i style="left:3578.7px;top:2120.8px;width:9.3px;height:3.2px;background:rgba(0,0,0,0.55)"></i>
<i style="left:3520px;top:2127.2px;width:9px;height:3.2px;background:rgba(0,0,0,0.35)"></i>
<i style="left:3532.6px;top:2127.2px;width:10.9px;height:3.2px;background:rgba(0,0,0,0.35)"></i>
<i style="left:3547.1px;top:2127.2px;width:17.9px;height:3.2px;background:rgba(0,0,0,0.35)"></i>
<i style="left:3568.6px;top:2127.2px;width:5.8px;height:3.2px;background:rgba(0,0,0,0.35)"></i>
<i style="left:3522px;top:2134.8px;width:7.8px;height:3.2px;background:rgba(0,0,0,0.35)"></i>
<i style="left:3533.4px;top:2134.8px;width:15.5px;height:3.2px;background:rgba(0,0,0,0.35)"></i>
<i style="left:3552.5px;top:2134.8px;width:3.5px;height:3.2px;background:rgba(0,0,0,0.35)"></i>
<i style="left:3522px;top:2143.2px;width:7.8px;height:3.2px;background:rgba(0,0,0,0.35)"></i>
<i style="left:3533.4px;top:2143.2px;width:19.6px;height:3.2px;background:rgba(0,0,0,0.35)"></i>
<i style="left:3556.6px;top:2143.2px;width:8.9px;height:3.2px;background:rgba(0,0,0,0.35)"></i>
<i style="left:3569.1px;top:2143.2px;width:16.1px;height:3.2px;background:rgba(0,0,0,0.35)"></i>
<i style="left:3588.8px;top:2143.2px;width:7.2px;height:3.2px;background:rgba(0,0,0,0.35)"></i>
</div>
<div style="position:absolute;left:815.5px;top:470.8px;width:133.7px;height:100.9px;border:1.3px solid #0d99ff"></div>
<div style="position:absolute;left:812.0px;top:467.5px;width:5.6px;height:5.6px;background:#fff;border:1.3px solid #0d99ff"></div>
<div style="position:absolute;left:946.5px;top:467.5px;width:5.6px;height:5.6px;background:#fff;border:1.3px solid #0d99ff"></div>
<div style="position:absolute;left:812.0px;top:568.9px;width:5.6px;height:5.6px;background:#fff;border:1.3px solid #0d99ff"></div>
<div style="position:absolute;left:946.5px;top:568.9px;width:5.6px;height:5.6px;background:#fff;border:1.3px solid #0d99ff"></div>
<div style="position:absolute;left:848.2px;top:580.1px;width:70.6px;height:17px;background:#0d99ff;border-radius:2.5px;color:#fff;font-size:11px;line-height:19px;text-align:center;-webkit-text-stroke:.25px #fff">1410 × 1064</div>
<b style="left:28.6px;top:19.2px;color:#0d99ff;letter-spacing:0.33px">Components - Basics - 01 Buttons</b>
<b style="left:459.3px;top:19.2px;color:#777;letter-spacing:0.41px">Components - Basics - 02 - Input / Textarea / Datalist</b>
<b style="left:816.3px;top:19.2px;color:#777;letter-spacing:0.42px">Components - Basics - 03 Select</b>
<b style="left:816.3px;top:320.2px;color:#777;letter-spacing:0.4px">Components - Basics - 04 Checkbox ...</b>
<b style="left:816.6px;top:459.2px;color:#0d99ff;letter-spacing:0.33px">Components - Basics -...</b>
</body></html>
